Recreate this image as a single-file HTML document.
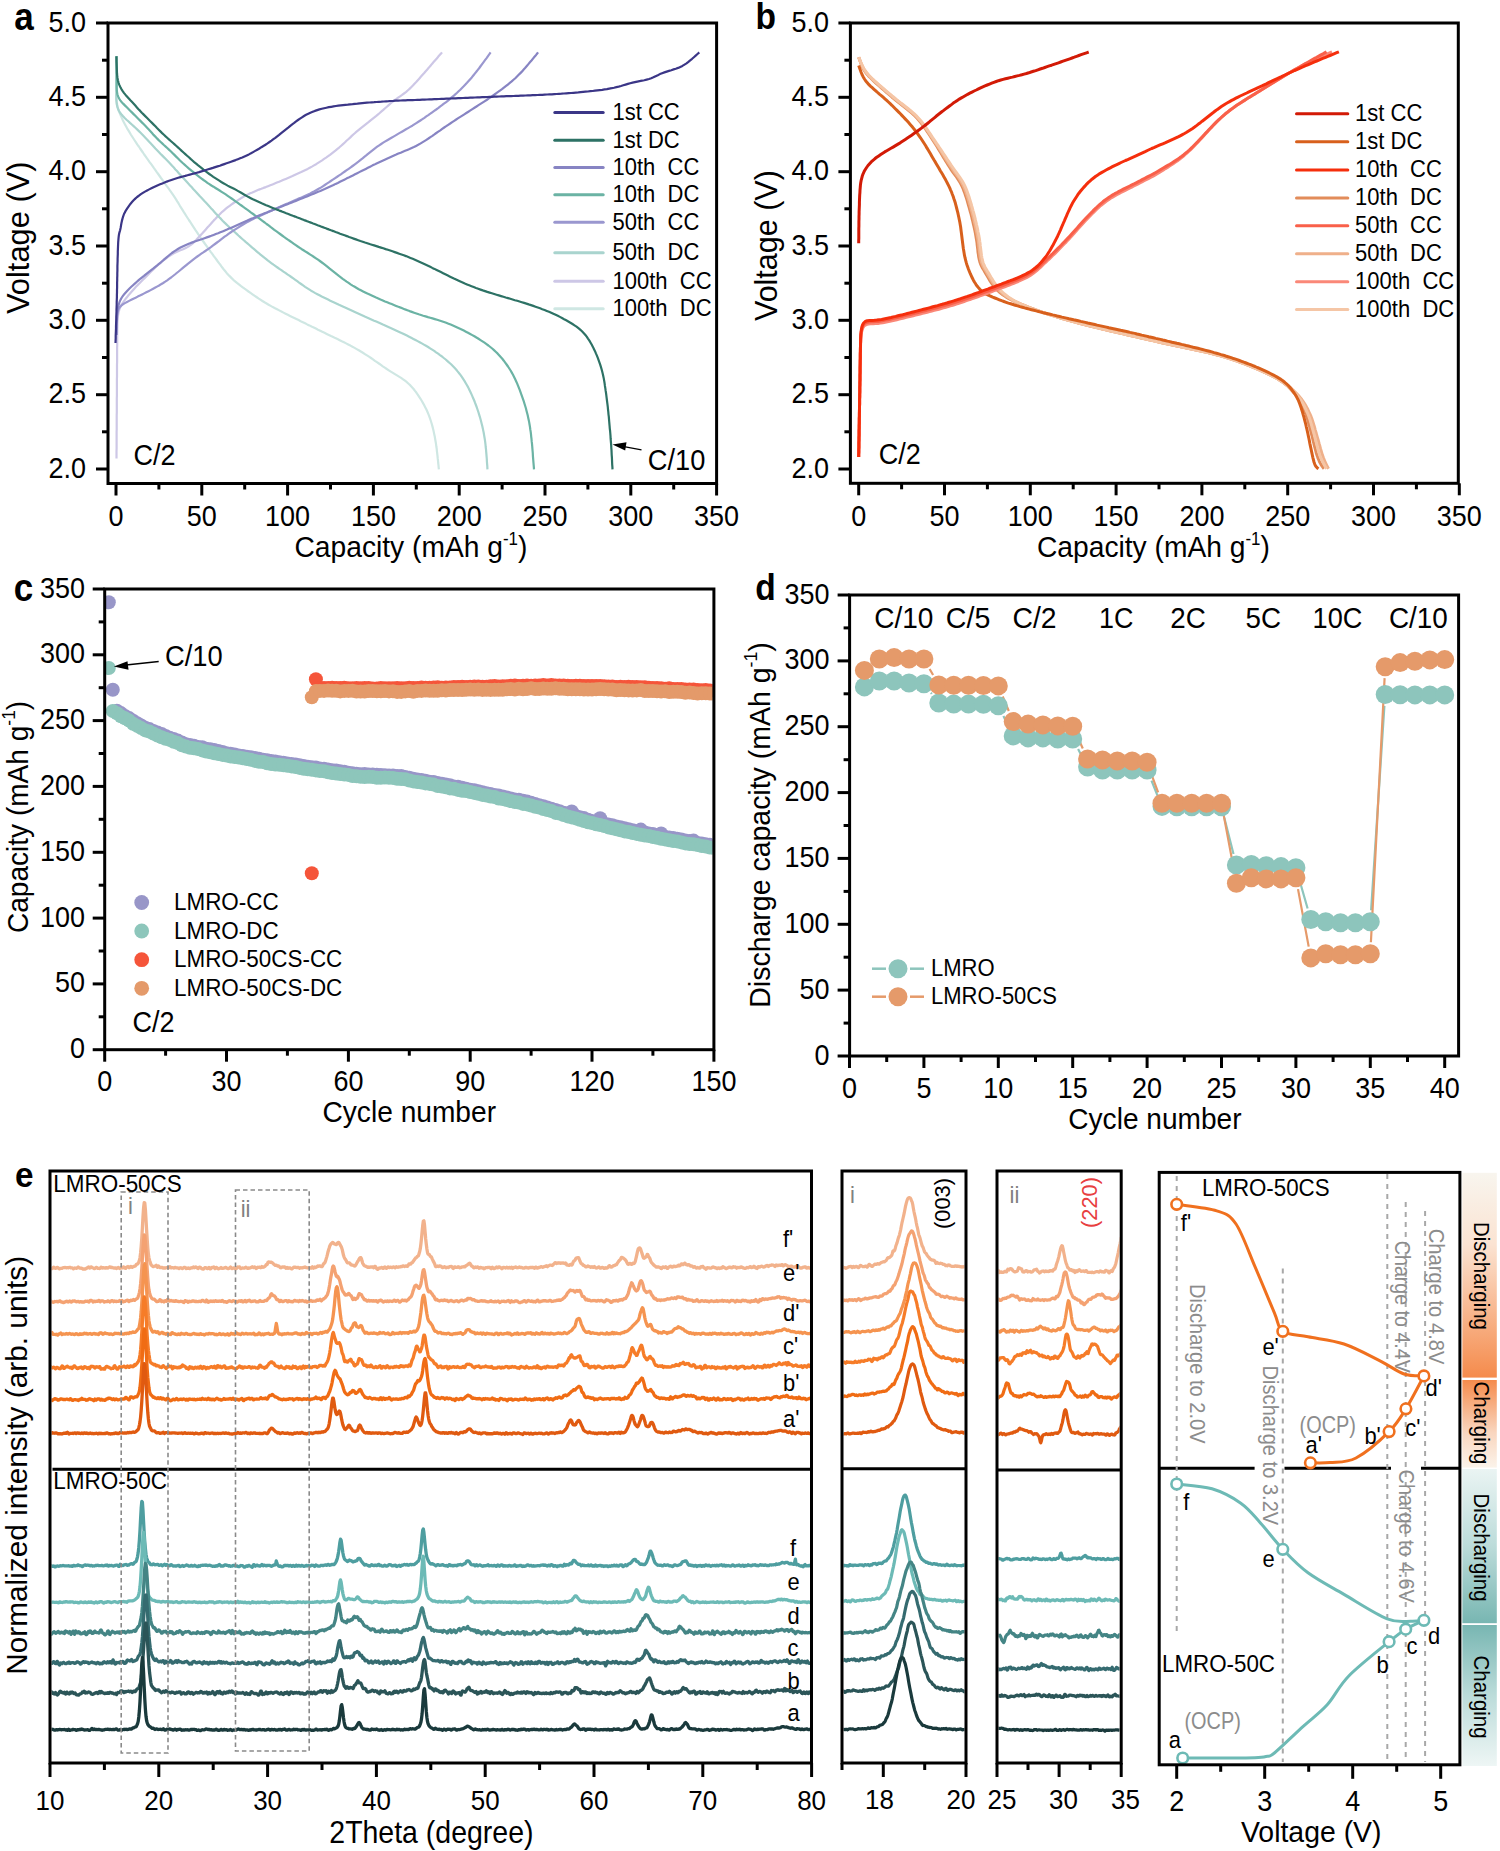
<!DOCTYPE html>
<html><head><meta charset="utf-8"><style>
html,body{margin:0;padding:0;background:#fff;overflow:hidden;width:1500px;height:1851px;}
svg{display:block;font-family:"Liberation Sans",sans-serif;}
</style></head><body>
<svg width="1500" height="1851" viewBox="0 0 1500 1851">
<rect width="1500" height="1851" fill="#fff"/>
<path d="M116.5 56L116.5 58.4 116.5 60.8 116.5 63.2 116.5 65.6 116.5 68 116.5 70.4 116.4 72.8 116.4 75.2 116.4 77.7 116.4 80.1 116.4 82.5 116.4 84.9 116.4 87.3 116.4 89.7 116.4 92.1 116.4 94.5 116.4 96.9 116.5 99.3 116.7 101.7 117.1 104 117.5 106.4 118.1 108.7 118.8 111 119.7 113.2 120.6 115.4 121.6 117.6 122.6 119.8 123.7 121.9 124.8 124.1 126 126.2 127.1 128.3 128.4 130.4 129.6 132.4 130.8 134.5 132.1 136.5 133.4 138.5 134.7 140.5 136.1 142.6 137.4 144.6 138.8 146.5 140.1 148.5 141.5 150.5 142.9 152.5 144.2 154.5 145.6 156.4 147 158.4 148.4 160.3 149.8 162.3 151.2 164.2 152.6 166.2 154 168.2 155.4 170.1 156.8 172.1 158.2 174 159.6 176 161 178 162.4 179.9 163.8 181.9 165.2 183.8 166.6 185.8 168 187.7 169.4 189.7 170.8 191.6 172.2 193.6 173.6 195.6 174.9 197.6 176.2 199.6 177.4 201.7 178.7 203.7 179.9 205.8 181.2 207.8 182.5 209.9 183.7 211.9 185 213.9 186.3 216 187.6 218 188.9 220 190.3 222 191.6 224.1 192.9 226.1 194.2 228.1 195.5 230.1 196.9 232.1 198.2 234.1 199.6 236.1 200.9 238 202.3 240 203.7 242 205.1 244 206.5 245.9 207.9 247.9 209.3 249.8 210.7 251.8 212.1 253.7 213.5 255.7 215 257.6 216.4 259.5 217.8 261.5 219.2 263.4 220.7 265.3 222.1 267.3 223.6 269.2 225.1 271 226.6 272.9 228.2 274.7 229.9 276.4 231.6 278.1 233.3 279.8 235.1 281.3 237 282.9 238.9 284.4 240.8 285.9 242.7 287.3 244.6 288.7 246.6 290.1 248.5 291.5 250.5 292.9 252.5 294.3 254.4 295.7 256.4 297 258.4 298.4 260.4 299.7 262.4 301 264.5 302.3 266.6 303.5 268.6 304.7 270.7 305.9 272.8 307.1 275 308.2 277.1 309.3 279.2 310.4 281.4 311.5 283.5 312.6 285.6 313.7 287.8 314.8 290 315.9 292.1 316.9 294.3 318 296.4 319 298.6 320.1 300.7 321.2 302.9 322.2 305.1 323.3 307.2 324.4 309.4 325.4 311.5 326.5 313.7 327.5 315.9 328.6 318 329.7 320.2 330.7 322.3 331.8 324.5 332.8 326.7 333.9 328.8 334.9 331 336 333.2 337 335.3 338.1 337.5 339.1 339.7 340.2 341.8 341.3 344 342.3 346.1 343.4 348.2 344.5 350.4 345.6 352.5 346.8 354.6 347.9 356.7 349.1 358.8 350.3 360.8 351.5 362.9 352.8 364.9 354.1 367 355.4 369 356.7 371 358 373 359.4 374.9 360.8 376.9 362.1 378.9 363.5 380.9 364.9 382.8 366.3 384.8 367.6 386.8 369 388.8 370.3 390.8 371.6 392.9 372.9 394.9 374.1 397 375.4 399 376.6 401.1 377.9 403.1 379.3 405 380.7 406.9 382.2 408.6 383.8 410.4 385.4 412 387.2 413.6 389 415 390.9 416.5 392.8 417.9 394.8 419.2 396.8 420.5 398.8 421.7 400.8 422.9 402.9 424.1 405 425.2 407.2 426.3 409.3 427.3 411.5 428.2 413.7 429.1 415.9 429.9 418.2 430.7 420.5 431.4 422.8 432.1 425.1 432.7 427.4 433.3 429.7 433.8 432.1 434.3 434.4 434.8 436.8 435.2 439.2 435.6 441.5 436 443.9 436.3 446.3 436.7 448.7 436.9 451.1 437.2 453.4 437.5 455.8 437.7 458.2 438 460.6 438.2 463 438.5 465.4 438.7 467.8 438.9 469.4" fill="none" stroke="#cfe7e3" stroke-width="2.2" stroke-linejoin="round" stroke-linecap="butt" />
<path d="M116.5 458.4L116.5 456 116.5 453.6 116.5 451.2 116.6 448.8 116.6 446.4 116.6 444 116.6 441.6 116.6 439.2 116.6 436.8 116.6 434.4 116.6 431.9 116.7 429.5 116.7 427.1 116.7 424.7 116.7 422.3 116.7 419.9 116.7 417.5 116.7 415.1 116.8 412.7 116.8 410.3 116.8 407.9 116.8 405.5 116.8 403.1 116.8 400.7 116.8 398.3 116.9 395.9 116.9 393.5 116.9 391.1 116.9 388.7 116.9 386.3 116.9 383.9 116.9 381.5 116.9 379 117 376.6 117 374.2 117 371.8 117 369.4 117 367 117 364.6 117.1 362.2 117.1 359.8 117.1 357.4 117.1 355 117.1 352.6 117.1 350.2 117.1 347.8 117.2 345.4 117.2 343 117.2 340.6 117.2 338.2 117.2 335.8 117.2 333.4 117.3 331 117.3 328.6 117.4 326.1 117.4 323.7 117.5 321.3 117.7 319 117.9 316.6 118.2 314.2 118.6 311.9 119.3 309.6 120.1 307.4 121.2 305.3 122.4 303.3 123.8 301.3 125.2 299.4 126.7 297.5 128.2 295.6 129.8 293.8 131.3 292 132.9 290.2 134.5 288.4 136.2 286.6 137.8 284.9 139.5 283.2 141.2 281.5 142.9 279.8 144.6 278.1 146.3 276.4 148 274.7 149.7 273 151.4 271.3 153.1 269.6 154.8 267.9 156.6 266.3 158.4 264.7 160.2 263.1 162 261.6 163.9 260 165.8 258.6 167.7 257.1 169.7 255.8 171.7 254.5 173.8 253.3 175.9 252.2 178.1 251.2 180.3 250.3 182.5 249.4 184.7 248.4 186.8 247.4 188.9 246.2 190.8 244.9 192.7 243.4 194.4 241.7 196.1 240 197.7 238.3 199.4 236.5 201 234.7 202.6 233 204.2 231.2 205.8 229.4 207.4 227.6 209.1 225.8 210.7 224 212.2 222.2 213.8 220.4 215.5 218.7 217.1 216.9 218.8 215.2 220.5 213.5 222.2 211.8 224 210.3 225.9 208.7 227.8 207.2 229.7 205.8 231.6 204.4 233.6 203 235.6 201.7 237.6 200.4 239.6 199.1 241.7 197.8 243.8 196.6 245.9 195.5 248 194.4 250.2 193.3 252.4 192.4 254.6 191.4 256.8 190.5 259 189.6 261.3 188.8 263.5 187.9 265.8 187.1 268 186.2 270.3 185.3 272.5 184.4 274.7 183.5 276.9 182.6 279.2 181.7 281.4 180.8 283.6 179.8 285.8 178.9 288 178 290.3 177 292.5 176.1 294.6 175.1 296.8 174.1 299 173.1 301.2 172.1 303.4 171 305.5 170 307.7 168.9 309.8 167.7 311.9 166.6 314 165.4 316.1 164.2 318.1 162.9 320.1 161.6 322.1 160.3 324.1 158.9 326.1 157.6 328.1 156.2 330 154.8 331.9 153.3 333.8 151.8 335.7 150.3 337.5 148.8 339.4 147.3 341.2 145.7 343 144.1 344.8 142.5 346.5 140.8 348.3 139.2 350.1 137.6 351.8 135.9 353.6 134.3 355.4 132.7 357.2 131.2 359.1 129.6 360.9 128.1 362.8 126.6 364.7 125.1 366.6 123.6 368.5 122.1 370.3 120.6 372.2 119.1 374.1 117.6 376 116.1 377.8 114.6 379.7 113 381.5 111.4 383.3 109.9 385.1 108.3 386.9 106.7 388.7 105.1 390.5 103.5 392.4 102 394.2 100.5 396.2 99.1 398.1 97.7 400.1 96.3 402.1 94.9 404 93.5 405.9 92.1 407.7 90.5 409.5 88.9 411.2 87.2 412.9 85.5 414.5 83.7 416.2 82 417.8 80.2 419.4 78.4 421 76.6 422.6 74.8 424.2 73 425.7 71.2 427.3 69.4 428.9 67.6 430.5 65.7 432 63.9 433.6 62.1 435.2 60.3 436.8 58.5 438.3 56.6 439.9 54.8 441.5 53 442 52.4" fill="none" stroke="#cdc7e6" stroke-width="2.2" stroke-linejoin="round" stroke-linecap="butt" />
<path d="M116.5 56L116.5 58.4 116.5 60.8 116.5 63.2 116.5 65.6 116.5 68 116.5 70.4 116.4 72.8 116.4 75.2 116.4 77.7 116.4 80.1 116.4 82.5 116.4 84.9 116.4 87.3 116.4 89.7 116.4 92.1 116.3 94.5 116.3 96.9 116.3 99.3 116.5 101.7 116.7 104 117.2 106.3 117.9 108.5 118.9 110.7 120.1 112.7 121.5 114.5 123.1 116.3 124.7 118 126.5 119.7 128.3 121.3 130 122.9 131.8 124.5 133.6 126.1 135.4 127.8 137.1 129.4 138.9 131.1 140.6 132.8 142.3 134.5 144 136.2 145.6 137.9 147.3 139.7 148.9 141.4 150.6 143.2 152.2 144.9 153.8 146.7 155.4 148.5 157.1 150.2 158.8 152 160.4 153.7 162.1 155.4 163.8 157.1 165.5 158.8 167.2 160.5 168.9 162.3 170.5 164 172.1 165.8 173.8 167.6 175.4 169.4 177 171.1 178.6 172.9 180.2 174.7 181.8 176.5 183.5 178.3 185.1 180 186.7 181.8 188.3 183.6 190 185.4 191.6 187.1 193.2 188.9 194.9 190.7 196.5 192.4 198.1 194.2 199.7 196 201.4 197.8 203 199.5 204.6 201.3 206.3 203.1 207.9 204.8 209.5 206.6 211.2 208.4 212.8 210.1 214.4 211.9 216 213.7 217.7 215.4 219.3 217.2 221 218.9 222.6 220.7 224.3 222.4 226.1 224.1 227.8 225.7 229.6 227.4 231.3 229 233.1 230.6 234.9 232.2 236.7 233.9 238.4 235.5 240.2 237.1 242 238.7 243.8 240.3 245.6 241.9 247.4 243.4 249.3 245 251.1 246.6 252.9 248.2 254.7 249.7 256.6 251.3 258.4 252.8 260.2 254.4 262.1 255.9 264 257.4 265.9 258.9 267.7 260.4 269.7 261.9 271.6 263.3 273.5 264.7 275.5 266.1 277.5 267.5 279.4 268.9 281.4 270.2 283.4 271.6 285.4 272.9 287.4 274.3 289.4 275.6 291.3 277 293.3 278.4 295.3 279.8 297.2 281.2 299.1 282.6 301.1 284 303.1 285.4 305.1 286.8 307.1 288.1 309.1 289.4 311.1 290.7 313.2 291.9 315.3 293.1 317.4 294.2 319.5 295.3 321.7 296.5 323.8 297.5 326 298.6 328.1 299.6 330.3 300.7 332.5 301.7 334.7 302.7 336.8 303.7 339 304.8 341.2 305.8 343.4 306.8 345.6 307.8 347.8 308.8 350 309.8 352.2 310.8 354.3 311.8 356.5 312.8 358.7 313.8 360.9 314.8 363.1 315.8 365.3 316.8 367.5 317.7 369.7 318.7 371.9 319.7 374.1 320.7 376.3 321.6 378.5 322.6 380.7 323.6 382.9 324.6 385.1 325.5 387.3 326.5 389.5 327.5 391.7 328.5 393.9 329.5 396 330.5 398.2 331.5 400.4 332.5 402.6 333.5 404.8 334.6 406.9 335.6 409.1 336.7 411.2 337.8 413.4 338.9 415.5 340 417.6 341.1 419.7 342.2 421.8 343.4 423.9 344.6 426 345.8 428.1 347 430.1 348.3 432.2 349.6 434.2 350.9 436.1 352.3 438.1 353.7 440 355.1 442 356.5 443.8 358 445.7 359.5 447.5 361.1 449.3 362.7 451.1 364.3 452.8 366 454.5 367.8 456.1 369.5 457.6 371.4 459.1 373.2 460.6 375.1 462 377.1 463.3 379.1 464.6 381.1 465.8 383.2 467 385.3 468.2 387.4 469.2 389.5 470.3 391.7 471.3 393.9 472.3 396.1 473.2 398.3 474.2 400.5 475 402.7 475.9 405 476.7 407.2 477.5 409.5 478.3 411.8 479 414.1 479.7 416.4 480.4 418.7 481 421 481.6 423.4 482.2 425.7 482.7 428 483.2 430.4 483.7 432.7 484.1 435.1 484.5 437.5 484.9 439.9 485.2 442.2 485.5 444.6 485.7 447 486 449.4 486.2 451.8 486.4 454.2 486.6 456.6 486.8 459 486.9 461.4 487.1 463.8 487.3 466.2 487.4 468.6 487.5 469.4" fill="none" stroke="#a9d4ce" stroke-width="2.2" stroke-linejoin="round" stroke-linecap="butt" />
<path d="M116.5 335L116.5 332.6 116.5 330.2 116.6 327.8 116.6 325.4 116.6 323 116.7 320.6 116.8 318.2 117 315.8 117.3 313.5 117.8 311.2 118.6 309.1 119.7 307.3 121.2 305.7 122.9 304.3 124.9 303.1 127 302 129.1 300.9 131.3 299.8 133.4 298.7 135.6 297.7 137.7 296.6 139.9 295.6 142.1 294.5 144.2 293.4 146.3 292.3 148.5 291.2 150.6 290.1 152.7 289 154.9 287.8 157 286.6 159.1 285.5 161.1 284.2 163.2 283 165.2 281.7 167.2 280.3 169.1 278.9 171.1 277.5 173 276 174.9 274.5 176.7 273 178.6 271.5 180.4 270 182.3 268.4 184.1 266.9 186 265.3 187.8 263.8 189.7 262.3 191.6 260.8 193.5 259.3 195.4 257.9 197.3 256.5 199.3 255.1 201.3 253.7 203.3 252.4 205.3 251 207.3 249.6 209.2 248.3 211.2 246.9 213.1 245.4 215 244 217 242.5 218.9 241.1 220.8 239.6 222.7 238.2 224.6 236.7 226.6 235.3 228.5 233.9 230.5 232.5 232.5 231.2 234.5 229.9 236.5 228.6 238.5 227.3 240.6 226 242.7 224.8 244.7 223.6 246.8 222.4 248.9 221.2 251.1 220.1 253.2 219 255.3 217.9 257.5 216.9 259.7 215.9 261.9 214.9 264.1 213.9 266.3 212.9 268.5 212 270.7 211 272.9 210 275.1 209.1 277.3 208.1 279.5 207.1 281.7 206.1 283.9 205.1 286.1 204.1 288.3 203.2 290.5 202.2 292.7 201.2 294.9 200.2 297.1 199.3 299.3 198.3 301.5 197.4 303.7 196.4 305.9 195.4 308.1 194.4 310.3 193.4 312.4 192.3 314.5 191.2 316.6 190 318.7 188.8 320.8 187.6 322.8 186.3 324.8 185 326.8 183.7 328.8 182.4 330.8 181 332.8 179.7 334.8 178.3 336.8 177 338.8 175.6 340.8 174.3 342.8 172.9 344.8 171.5 346.7 170.2 348.7 168.8 350.7 167.4 352.6 166 354.5 164.6 356.5 163.1 358.4 161.7 360.3 160.2 362.2 158.7 364 157.1 365.9 155.6 367.7 154.1 369.6 152.6 371.5 151.1 373.4 149.6 375.3 148.1 377.2 146.7 379.2 145.3 381.2 144 383.2 142.7 385.3 141.4 387.3 140.2 389.4 139 391.5 137.8 393.5 136.6 395.6 135.4 397.7 134.1 399.8 132.9 401.9 131.7 404 130.5 406 129.3 408.1 128.1 410.2 126.9 412.3 125.7 414.3 124.4 416.3 123.1 418.4 121.8 420.4 120.5 422.4 119.2 424.4 117.8 426.3 116.4 428.3 115.1 430.3 113.7 432.2 112.3 434.2 110.9 436.2 109.5 438.1 108.1 440 106.6 442 105.2 443.9 103.7 445.8 102.3 447.7 100.8 449.5 99.3 451.4 97.7 453.2 96.2 455 94.6 456.8 93 458.6 91.3 460.3 89.7 462 88 463.7 86.3 465.4 84.5 467 82.8 468.6 81 470.2 79.2 471.8 77.4 473.3 75.5 474.8 73.6 476.3 71.8 477.8 69.9 479.3 68 480.7 66 482.1 64.1 483.6 62.1 485 60.2 486.4 58.3 487.8 56.3 489.2 54.4 490.6 52.4 490.6 52.4" fill="none" stroke="#9a97cf" stroke-width="2.2" stroke-linejoin="round" stroke-linecap="butt" />
<path d="M116.5 56L116.5 58.4 116.5 60.8 116.6 63.2 116.6 65.6 116.6 68 116.6 70.4 116.6 72.8 116.7 75.2 116.7 77.6 116.7 80.1 116.7 82.5 116.7 84.9 116.7 87.3 116.8 89.6 117 92 117.4 94.3 118.1 96.4 119.1 98.5 120.3 100.4 121.8 102.2 123.4 103.9 125.1 105.6 126.8 107.3 128.5 109 130.2 110.7 131.9 112.4 133.6 114.1 135.3 115.8 137 117.5 138.7 119.2 140.4 120.9 142.1 122.6 143.8 124.3 145.5 126.1 147.1 127.8 148.8 129.6 150.4 131.3 152 133.1 153.6 134.9 155.3 136.6 157 138.4 158.7 140.1 160.4 141.7 162.2 143.4 163.9 145 165.7 146.6 167.5 148.2 169.2 149.9 171 151.5 172.7 153.2 174.4 154.9 176.1 156.6 177.8 158.3 179.5 160 181.3 161.7 183 163.3 184.8 164.9 186.6 166.5 188.4 168.1 190.2 169.6 192.1 171.2 194 172.7 195.8 174.2 197.7 175.7 199.6 177.1 201.6 178.6 203.5 180 205.5 181.4 207.4 182.8 209.4 184.1 211.4 185.5 213.5 186.7 215.5 188 217.6 189.3 219.6 190.5 221.6 191.8 223.7 193.1 225.7 194.4 227.7 195.8 229.6 197.1 231.6 198.5 233.6 199.9 235.5 201.3 237.5 202.7 239.4 204.1 241.4 205.5 243.3 206.9 245.3 208.3 247.2 209.7 249.2 211.1 251.1 212.6 253.1 214 255 215.4 257 216.8 258.9 218.2 260.8 219.6 262.8 221.1 264.7 222.5 266.6 224 268.6 225.4 270.5 226.9 272.4 228.3 274.3 229.8 276.2 231.2 278.2 232.6 280.1 234 282.1 235.5 284 236.9 286 238.3 287.9 239.7 289.9 241 291.9 242.4 293.9 243.8 295.8 245.1 297.8 246.5 299.8 247.8 301.8 249.2 303.9 250.5 305.9 251.8 307.9 253 309.9 254.3 312 255.6 314 257 316 258.3 318 259.7 319.9 261 321.9 262.5 323.8 263.9 325.7 265.4 327.6 266.9 329.4 268.4 331.3 269.9 333.2 271.4 335.1 272.9 337 274.4 338.9 275.9 340.8 277.3 342.7 278.8 344.6 280.2 346.6 281.6 348.6 282.9 350.6 284.3 352.6 285.6 354.7 286.8 356.7 288 358.8 289.2 360.9 290.3 363.1 291.4 365.2 292.5 367.4 293.6 369.6 294.6 371.7 295.6 373.9 296.6 376.1 297.6 378.3 298.5 380.5 299.5 382.8 300.4 385 301.4 387.2 302.3 389.4 303.2 391.7 304.1 393.9 305 396.1 305.9 398.4 306.8 400.6 307.6 402.8 308.5 405.1 309.4 407.3 310.2 409.6 311.1 411.8 311.9 414.1 312.7 416.4 313.5 418.7 314.3 421 315 423.2 315.7 425.6 316.4 427.9 317.1 430.2 317.7 432.5 318.4 434.8 319.1 437.1 319.8 439.4 320.5 441.7 321.2 444 322 446.2 322.8 448.5 323.7 450.7 324.6 452.9 325.5 455.1 326.5 457.3 327.5 459.5 328.5 461.6 329.5 463.8 330.6 465.9 331.7 468 332.8 470.2 334 472.3 335.1 474.4 336.3 476.4 337.5 478.5 338.8 480.5 340.1 482.5 341.4 484.5 342.7 486.5 344.1 488.4 345.5 490.3 347 492.2 348.5 494 350.1 495.7 351.7 497.5 353.4 499.1 355.2 500.7 357 502.3 358.8 503.8 360.7 505.2 362.6 506.6 364.5 508 366.5 509.3 368.5 510.6 370.5 511.8 372.6 513 374.7 514.1 376.9 515.1 379 516.1 381.2 517.1 383.4 518 385.6 518.9 387.9 519.8 390.1 520.6 392.3 521.4 394.6 522.2 396.9 523 399.2 523.8 401.4 524.5 403.7 525.2 406 525.9 408.3 526.5 410.7 527.1 413 527.7 415.3 528.2 417.7 528.7 420 529.2 422.4 529.6 424.7 530 427.1 530.3 429.5 530.7 431.9 531 434.3 531.2 436.6 531.5 439 531.7 441.4 532 443.8 532.2 446.2 532.4 448.6 532.6 451 532.8 453.4 532.9 455.8 533.1 458.2 533.3 460.6 533.5 463 533.7 465.4 533.9 467.8 534 469.4" fill="none" stroke="#6bb3a4" stroke-width="2.2" stroke-linejoin="round" stroke-linecap="butt" />
<path d="M116.5 335L116.6 332.6 116.6 330.2 116.7 327.8 116.7 325.4 116.8 323 116.9 320.6 117 318.2 117.1 315.8 117.3 313.4 117.5 311 117.9 308.6 118.3 306.3 118.9 304 119.6 301.7 120.6 299.6 121.8 297.5 123.1 295.6 124.6 293.7 126.2 291.9 127.8 290.2 129.5 288.5 131.3 286.8 133 285.2 134.8 283.6 136.6 282 138.4 280.4 140.2 278.8 142.1 277.3 144 275.8 145.8 274.3 147.7 272.8 149.6 271.3 151.5 269.8 153.4 268.4 155.3 266.9 157.2 265.4 159 263.8 160.9 262.3 162.7 260.7 164.5 259.1 166.3 257.6 168.2 256 170 254.5 171.9 253 173.8 251.6 175.8 250.3 177.9 249 180 247.8 182.1 246.7 184.3 245.7 186.5 244.7 188.7 243.8 190.9 242.9 193.2 242.1 195.4 241.3 197.7 240.5 200 239.7 202.3 239 204.5 238.2 206.8 237.4 209.1 236.6 211.3 235.8 213.6 234.9 215.8 234 218.1 233.2 220.3 232.3 222.5 231.4 224.8 230.5 227 229.6 229.2 228.6 231.4 227.7 233.6 226.7 235.8 225.7 238 224.7 240.2 223.7 242.4 222.7 244.6 221.7 246.8 220.8 249 219.8 251.2 218.8 253.4 217.9 255.6 216.9 257.8 216 260.1 215.1 262.3 214.2 264.5 213.3 266.8 212.5 269 211.6 271.2 210.7 273.5 209.8 275.7 208.9 277.9 208 280.2 207.1 282.4 206.2 284.6 205.3 286.9 204.5 289.1 203.6 291.3 202.7 293.6 201.8 295.8 200.9 298 200 300.3 199.1 302.5 198.2 304.8 197.3 307 196.5 309.2 195.6 311.5 194.6 313.7 193.7 315.9 192.8 318.1 191.8 320.3 190.9 322.5 189.9 324.7 189 326.9 188 329.1 187 331.3 186 333.5 185 335.6 183.9 337.8 182.9 340 181.8 342.1 180.8 344.3 179.7 346.4 178.6 348.6 177.6 350.7 176.5 352.9 175.4 355 174.3 357.2 173.2 359.3 172.1 361.5 171 363.6 170 365.8 168.9 367.9 167.8 370.1 166.7 372.2 165.6 374.4 164.6 376.5 163.5 378.7 162.5 380.9 161.5 383.1 160.5 385.3 159.5 387.4 158.5 389.6 157.5 391.8 156.5 394 155.5 396.2 154.6 398.4 153.6 400.7 152.7 402.9 151.7 405.1 150.8 407.3 149.9 409.5 149 411.7 148 413.9 147 416.1 145.9 418.2 144.8 420.3 143.6 422.3 142.4 424.4 141.1 426.4 139.8 428.4 138.5 430.4 137.1 432.4 135.8 434.4 134.4 436.3 133 438.3 131.6 440.3 130.3 442.2 128.9 444.2 127.5 446.2 126.2 448.2 124.8 450.2 123.5 452.2 122.1 454.2 120.8 456.2 119.5 458.2 118.2 460.3 116.9 462.3 115.6 464.3 114.3 466.3 113 468.4 111.7 470.4 110.4 472.4 109.1 474.5 107.8 476.5 106.5 478.5 105.2 480.5 103.9 482.5 102.6 484.5 101.3 486.6 100 488.5 98.6 490.5 97.3 492.5 95.9 494.5 94.5 496.4 93.1 498.4 91.7 500.3 90.3 502.3 88.9 504.2 87.4 506.1 85.9 508 84.5 509.8 82.9 511.7 81.4 513.5 79.8 515.3 78.2 517 76.5 518.7 74.8 520.4 73.1 522.1 71.4 523.7 69.6 525.3 67.8 526.8 66 528.4 64.1 529.9 62.3 531.5 60.5 533 58.6 534.5 56.7 536.1 54.9 537.6 53 538.1 52.4" fill="none" stroke="#8784c3" stroke-width="2.2" stroke-linejoin="round" stroke-linecap="butt" />
<path d="M116.4 56.4L116.5 58.8 116.5 61.2 116.6 63.6 116.7 66 116.8 68.4 116.9 70.8 117 73.2 117.2 75.6 117.5 78 117.9 80.3 118.5 82.6 119.3 84.9 120.3 87 121.4 89.1 122.7 91.1 124.1 93.1 125.6 94.9 127.2 96.7 128.8 98.5 130.4 100.3 132.1 102.1 133.7 103.8 135.3 105.6 136.9 107.4 138.5 109.2 140.2 110.9 141.8 112.7 143.5 114.4 145.2 116.1 146.9 117.8 148.6 119.5 150.3 121.2 152 122.9 153.7 124.6 155.4 126.3 157 128 158.7 129.7 160.4 131.4 162.1 133.1 163.9 134.8 165.6 136.4 167.4 138 169.2 139.6 171 141.2 172.8 142.8 174.6 144.4 176.4 146 178.2 147.6 180 149.2 181.7 150.9 183.5 152.5 185.3 154.1 187.1 155.7 188.9 157.3 190.6 158.9 192.4 160.5 194.2 162.1 196.1 163.7 197.9 165.2 199.8 166.7 201.7 168.2 203.5 169.7 205.5 171.2 207.4 172.6 209.3 174 211.3 175.4 213.3 176.8 215.3 178.1 217.3 179.4 219.3 180.7 221.3 182 223.4 183.2 225.5 184.4 227.6 185.6 229.7 186.7 231.9 187.8 234 188.8 236.1 189.9 238.2 191.1 240.3 192.3 242.4 193.5 244.4 194.7 246.5 195.9 248.6 197.1 250.8 198.2 252.9 199.3 255.1 200.3 257.3 201.3 259.5 202.3 261.7 203.3 263.9 204.2 266.1 205.2 268.3 206.1 270.5 207 272.7 207.9 275 208.8 277.2 209.7 279.4 210.6 281.7 211.4 283.9 212.3 286.2 213.2 288.4 214 290.6 214.9 292.9 215.8 295.1 216.6 297.4 217.5 299.6 218.3 301.9 219.2 304.1 220.1 306.4 220.9 308.6 221.8 310.8 222.6 313.1 223.5 315.3 224.3 317.6 225.2 319.8 226 322.1 226.9 324.3 227.7 326.6 228.6 328.8 229.4 331.1 230.3 333.3 231.1 335.6 232 337.8 232.8 340.1 233.7 342.3 234.5 344.6 235.3 346.8 236.1 349.1 237 351.4 237.8 353.6 238.6 355.9 239.4 358.2 240.2 360.4 241 362.7 241.7 365 242.5 367.3 243.2 369.6 244 371.8 244.7 374.1 245.4 376.4 246.1 378.7 246.9 381 247.6 383.3 248.3 385.6 249.1 387.9 249.8 390.2 250.5 392.4 251.3 394.7 252.1 397 252.9 399.2 253.7 401.5 254.5 403.8 255.3 406 256.1 408.3 257 410.5 257.9 412.7 258.8 414.9 259.7 417.1 260.7 419.3 261.7 421.5 262.7 423.7 263.7 425.9 264.7 428 265.7 430.2 266.8 432.3 267.9 434.5 268.9 436.6 270 438.8 271.1 440.9 272.1 443.1 273.2 445.3 274.3 447.4 275.3 449.6 276.4 451.7 277.4 453.9 278.5 456.1 279.5 458.2 280.5 460.4 281.5 462.6 282.5 464.8 283.5 467 284.4 469.2 285.3 471.5 286.2 473.7 287.1 476 288 478.2 288.8 480.5 289.6 482.8 290.4 485 291.1 487.3 291.9 489.6 292.6 491.9 293.3 494.2 294 496.5 294.7 498.8 295.4 501.1 296.1 503.4 296.8 505.7 297.5 508 298.1 510.3 298.8 512.6 299.5 514.9 300.2 517.2 300.8 519.5 301.5 521.8 302.2 524.1 302.9 526.4 303.6 528.7 304.4 531 305.1 533.3 305.9 535.5 306.7 537.8 307.5 540.1 308.3 542.3 309.2 544.6 310 546.8 310.9 549 311.8 551.2 312.8 553.4 313.8 555.6 314.8 557.8 315.8 559.9 316.9 562 318 564.1 319.2 566.2 320.3 568.3 321.5 570.4 322.7 572.5 324 574.5 325.3 576.5 326.6 578.4 328.1 580.2 329.6 582 331.2 583.6 332.9 585.2 334.7 586.7 336.6 588 338.6 589.4 340.6 590.6 342.7 591.8 344.8 592.9 346.9 593.9 349 595 351.2 595.9 353.4 596.9 355.6 597.8 357.8 598.6 360.1 599.4 362.3 600.2 364.6 600.9 366.9 601.6 369.2 602.2 371.5 602.8 373.9 603.3 376.2 603.8 378.6 604.2 380.9 604.6 383.3 604.9 385.7 605.3 388.1 605.6 390.4 606 392.8 606.3 395.2 606.6 397.6 606.9 400 607.2 402.3 607.5 404.7 607.8 407.1 608 409.5 608.3 411.9 608.5 414.3 608.8 416.7 609 419.1 609.2 421.5 609.4 423.9 609.6 426.2 609.8 428.6 610.1 431 610.3 433.4 610.5 435.8 610.6 438.2 610.8 440.6 611 443 611.2 445.4 611.3 447.8 611.5 450.2 611.6 452.6 611.7 455 611.9 457.4 612 459.8 612.1 462.2 612.2 464.6 612.4 467 612.5 469.4 612.5 469.4" fill="none" stroke="#2d7265" stroke-width="2.2" stroke-linejoin="round" stroke-linecap="butt" />
<path d="M115.5 343L115.6 340.6 115.7 338.2 115.7 335.8 115.8 333.4 115.9 331 116 328.6 116 326.2 116.1 323.8 116.2 321.4 116.3 319 116.3 316.6 116.4 314.2 116.5 311.8 116.5 309.4 116.6 307 116.7 304.5 116.7 302.1 116.8 299.7 116.9 297.3 116.9 294.9 117 292.5 117 290.1 117.1 287.7 117.1 285.3 117.1 282.9 117.2 280.5 117.2 278.1 117.3 275.7 117.3 273.3 117.4 270.9 117.4 268.5 117.4 266.1 117.5 263.7 117.6 261.3 117.6 258.9 117.7 256.5 117.8 254.1 117.8 251.7 117.9 249.3 118 246.9 118.1 244.5 118.2 242.1 118.4 239.7 118.6 237.3 118.9 234.9 119.4 232.6 120.1 230.3 120.6 228 121 225.6 121.4 223.2 121.9 220.9 122.5 218.6 123.2 216.3 124 214 125.1 211.9 126.3 209.8 127.6 207.8 129 205.8 130.4 203.9 132 202.1 133.6 200.3 135.3 198.6 137.1 197 139 195.6 140.9 194.2 142.9 192.9 145 191.6 147.1 190.5 149.2 189.4 151.4 188.3 153.5 187.2 155.7 186.2 157.9 185.2 160.1 184.3 162.4 183.4 164.6 182.5 166.8 181.6 169.1 180.8 171.4 180 173.6 179.2 175.9 178.5 178.2 177.8 180.5 177.1 182.8 176.5 185.2 175.9 187.5 175.2 189.8 174.6 192.1 174 194.5 173.4 196.8 172.7 199.1 172.1 201.4 171.4 203.7 170.7 206 170 208.3 169.3 210.6 168.6 212.9 167.9 215.2 167.1 217.5 166.4 219.8 165.7 222 164.9 224.3 164.1 226.6 163.3 228.9 162.5 231.1 161.7 233.4 160.9 235.6 160.1 237.9 159.2 240.1 158.3 242.3 157.4 244.5 156.4 246.7 155.4 248.9 154.4 251 153.3 253.1 152.1 255.2 150.9 257.3 149.7 259.4 148.5 261.4 147.2 263.4 146 265.5 144.7 267.5 143.4 269.5 142 271.5 140.6 273.4 139.2 275.3 137.8 277.2 136.3 279.1 134.8 280.9 133.3 282.8 131.8 284.7 130.3 286.6 128.8 288.5 127.3 290.3 125.8 292.2 124.3 294.2 122.9 296.1 121.4 298 120 300 118.6 302 117.3 304 116 306.1 114.8 308.3 113.8 310.4 112.8 312.7 111.8 314.9 110.9 317.2 110.1 319.4 109.4 321.8 108.8 324.1 108.2 326.4 107.7 328.8 107.2 331.2 106.8 333.5 106.4 335.9 106 338.3 105.7 340.7 105.4 343.1 105.1 345.4 104.8 347.8 104.6 350.2 104.3 352.6 104.1 355 103.8 357.4 103.6 359.8 103.3 362.2 103.1 364.6 102.9 367 102.7 369.4 102.5 371.8 102.3 374.2 102.2 376.6 102 379 101.8 381.4 101.7 383.8 101.5 386.2 101.3 388.6 101.2 391 101 393.4 100.9 395.8 100.7 398.2 100.6 400.6 100.5 403 100.4 405.4 100.3 407.8 100.2 410.2 100.2 412.6 100.1 415 100 417.4 99.9 419.8 99.8 422.2 99.7 424.6 99.6 427 99.5 429.4 99.4 431.8 99.3 434.2 99.2 436.6 99.1 439 99 441.4 98.9 443.8 98.8 446.2 98.7 448.6 98.6 451 98.5 453.4 98.4 455.8 98.3 458.2 98.2 460.6 98.1 463 98 465.4 97.9 467.8 97.8 470.2 97.7 472.6 97.6 475 97.5 477.4 97.4 479.8 97.3 482.2 97.2 484.7 97.1 487.1 97 489.5 96.9 491.9 96.8 494.3 96.7 496.7 96.6 499.1 96.5 501.5 96.4 503.9 96.3 506.3 96.2 508.7 96.2 511.1 96.1 513.5 96 515.9 95.9 518.3 95.8 520.7 95.7 523.1 95.6 525.5 95.5 527.9 95.4 530.3 95.3 532.7 95.2 535.1 95.1 537.5 95 539.9 94.9 542.3 94.8 544.7 94.6 547.1 94.5 549.5 94.4 551.9 94.3 554.3 94.1 556.7 94 559.1 93.8 561.5 93.7 563.9 93.5 566.3 93.3 568.7 93.1 571.1 93 573.5 92.8 575.9 92.6 578.3 92.4 580.7 92.1 583.1 91.9 585.5 91.7 587.9 91.5 590.3 91.2 592.6 91 595 90.7 597.4 90.4 599.8 90.1 602.2 89.8 604.6 89.4 606.9 89.1 609.3 88.6 611.7 88.2 614 87.7 616.4 87.1 618.7 86.6 621 86 623.3 85.3 625.6 84.6 627.9 83.9 630.2 83.2 632.6 82.6 634.9 82.1 637.3 81.6 639.6 81.1 642 80.7 644.3 80.2 646.7 79.6 649 79 651.2 78.2 653.4 77.3 655.6 76.2 657.8 75.2 659.9 74.1 662.1 73.2 664.4 72.4 666.7 71.6 669 70.9 671.3 70.2 673.6 69.4 675.8 68.7 678.1 67.9 680.3 66.9 682.4 65.9 684.5 64.6 686.5 63.3 688.4 61.8 690.2 60.3 692.1 58.8 693.9 57.2 695.7 55.6 697.5 54 699.3 52.4 699.3 52.4" fill="none" stroke="#3b3687" stroke-width="2.2" stroke-linejoin="round" stroke-linecap="butt" />
<rect x="108" y="23" width="608.6" height="460.5" fill="none" stroke="#000" stroke-width="3"/>
<line x1="108" y1="469" x2="96" y2="469" stroke="#000" stroke-width="3" />
<line x1="108" y1="394.7" x2="96" y2="394.7" stroke="#000" stroke-width="3" />
<line x1="108" y1="320.3" x2="96" y2="320.3" stroke="#000" stroke-width="3" />
<line x1="108" y1="246" x2="96" y2="246" stroke="#000" stroke-width="3" />
<line x1="108" y1="171.7" x2="96" y2="171.7" stroke="#000" stroke-width="3" />
<line x1="108" y1="97.3" x2="96" y2="97.3" stroke="#000" stroke-width="3" />
<line x1="108" y1="23" x2="96" y2="23" stroke="#000" stroke-width="3" />
<line x1="108" y1="431.8" x2="102" y2="431.8" stroke="#000" stroke-width="3" />
<line x1="108" y1="357.5" x2="102" y2="357.5" stroke="#000" stroke-width="3" />
<line x1="108" y1="283.2" x2="102" y2="283.2" stroke="#000" stroke-width="3" />
<line x1="108" y1="208.8" x2="102" y2="208.8" stroke="#000" stroke-width="3" />
<line x1="108" y1="134.5" x2="102" y2="134.5" stroke="#000" stroke-width="3" />
<line x1="108" y1="60.2" x2="102" y2="60.2" stroke="#000" stroke-width="3" />
<line x1="116" y1="483.5" x2="116" y2="495.5" stroke="#000" stroke-width="3" />
<line x1="201.8" y1="483.5" x2="201.8" y2="495.5" stroke="#000" stroke-width="3" />
<line x1="287.6" y1="483.5" x2="287.6" y2="495.5" stroke="#000" stroke-width="3" />
<line x1="373.4" y1="483.5" x2="373.4" y2="495.5" stroke="#000" stroke-width="3" />
<line x1="459.2" y1="483.5" x2="459.2" y2="495.5" stroke="#000" stroke-width="3" />
<line x1="545" y1="483.5" x2="545" y2="495.5" stroke="#000" stroke-width="3" />
<line x1="630.8" y1="483.5" x2="630.8" y2="495.5" stroke="#000" stroke-width="3" />
<line x1="716.6" y1="483.5" x2="716.6" y2="495.5" stroke="#000" stroke-width="3" />
<line x1="158.9" y1="483.5" x2="158.9" y2="489.5" stroke="#000" stroke-width="3" />
<line x1="244.7" y1="483.5" x2="244.7" y2="489.5" stroke="#000" stroke-width="3" />
<line x1="330.5" y1="483.5" x2="330.5" y2="489.5" stroke="#000" stroke-width="3" />
<line x1="416.3" y1="483.5" x2="416.3" y2="489.5" stroke="#000" stroke-width="3" />
<line x1="502.1" y1="483.5" x2="502.1" y2="489.5" stroke="#000" stroke-width="3" />
<line x1="587.9" y1="483.5" x2="587.9" y2="489.5" stroke="#000" stroke-width="3" />
<line x1="673.7" y1="483.5" x2="673.7" y2="489.5" stroke="#000" stroke-width="3" />
<text x="86" y="477.5" font-size="29.16" text-anchor="end" textLength="37.5" lengthAdjust="spacingAndGlyphs" >2.0</text>
<text x="86" y="403.2" font-size="29.16" text-anchor="end" textLength="37.5" lengthAdjust="spacingAndGlyphs" >2.5</text>
<text x="86" y="328.8" font-size="29.16" text-anchor="end" textLength="37.5" lengthAdjust="spacingAndGlyphs" >3.0</text>
<text x="86" y="254.5" font-size="29.16" text-anchor="end" textLength="37.5" lengthAdjust="spacingAndGlyphs" >3.5</text>
<text x="86" y="180.2" font-size="29.16" text-anchor="end" textLength="37.5" lengthAdjust="spacingAndGlyphs" >4.0</text>
<text x="86" y="105.8" font-size="29.16" text-anchor="end" textLength="37.5" lengthAdjust="spacingAndGlyphs" >4.5</text>
<text x="86" y="31.5" font-size="29.16" text-anchor="end" textLength="37.5" lengthAdjust="spacingAndGlyphs" >5.0</text>
<text x="116" y="525.5" font-size="29.16" text-anchor="middle" textLength="15" lengthAdjust="spacingAndGlyphs" >0</text>
<text x="201.8" y="525.5" font-size="29.16" text-anchor="middle" textLength="30" lengthAdjust="spacingAndGlyphs" >50</text>
<text x="287.6" y="525.5" font-size="29.16" text-anchor="middle" textLength="45" lengthAdjust="spacingAndGlyphs" >100</text>
<text x="373.4" y="525.5" font-size="29.16" text-anchor="middle" textLength="45" lengthAdjust="spacingAndGlyphs" >150</text>
<text x="459.2" y="525.5" font-size="29.16" text-anchor="middle" textLength="45" lengthAdjust="spacingAndGlyphs" >200</text>
<text x="545" y="525.5" font-size="29.16" text-anchor="middle" textLength="45" lengthAdjust="spacingAndGlyphs" >250</text>
<text x="630.8" y="525.5" font-size="29.16" text-anchor="middle" textLength="45" lengthAdjust="spacingAndGlyphs" >300</text>
<text x="716.6" y="525.5" font-size="29.16" text-anchor="middle" textLength="45" lengthAdjust="spacingAndGlyphs" >350</text>
<text x="14.2" y="30" font-size="38.88" font-weight="bold" textLength="19.5" lengthAdjust="spacingAndGlyphs" >a</text>
<text transform="translate(294.5 557) scale(0.94 1)" font-size="30">Capacity (mAh g<tspan font-size="18" dy="-12">-1</tspan><tspan dy="12">)</tspan></text>
<text x="28.5" y="314" font-size="31.0" transform="rotate(-90 28.5 314)" textLength="152.5" lengthAdjust="spacingAndGlyphs" >Voltage (V)</text>
<line x1="554.8" y1="112.5" x2="603.2" y2="112.5" stroke="#3b3687" stroke-width="3" stroke-linecap="round"/>
<text x="612.5" y="119.8" font-size="23.76" textLength="67.2" lengthAdjust="spacingAndGlyphs" style="white-space:pre">1st CC</text>
<line x1="554.8" y1="140.2" x2="603.2" y2="140.2" stroke="#2d7265" stroke-width="3" stroke-linecap="round"/>
<text x="612.5" y="147.5" font-size="23.76" textLength="67.2" lengthAdjust="spacingAndGlyphs" style="white-space:pre">1st DC</text>
<line x1="554.8" y1="167.6" x2="603.2" y2="167.6" stroke="#8784c3" stroke-width="3" stroke-linecap="round"/>
<text x="612.5" y="174.9" font-size="23.76" textLength="86.8" lengthAdjust="spacingAndGlyphs" style="white-space:pre">10th  CC</text>
<line x1="554.8" y1="194.8" x2="603.2" y2="194.8" stroke="#6bb3a4" stroke-width="3" stroke-linecap="round"/>
<text x="612.5" y="202.1" font-size="23.76" textLength="86.8" lengthAdjust="spacingAndGlyphs" style="white-space:pre">10th  DC</text>
<line x1="554.8" y1="222.3" x2="603.2" y2="222.3" stroke="#9a97cf" stroke-width="3" stroke-linecap="round"/>
<text x="612.5" y="229.6" font-size="23.76" textLength="86.8" lengthAdjust="spacingAndGlyphs" style="white-space:pre">50th  CC</text>
<line x1="554.8" y1="252.7" x2="603.2" y2="252.7" stroke="#a9d4ce" stroke-width="3" stroke-linecap="round"/>
<text x="612.5" y="260" font-size="23.76" textLength="86.8" lengthAdjust="spacingAndGlyphs" style="white-space:pre">50th  DC</text>
<line x1="554.8" y1="281.3" x2="603.2" y2="281.3" stroke="#cdc7e6" stroke-width="3" stroke-linecap="round"/>
<text x="612.5" y="288.6" font-size="23.76" textLength="99.1" lengthAdjust="spacingAndGlyphs" style="white-space:pre">100th  CC</text>
<line x1="554.8" y1="308.8" x2="603.2" y2="308.8" stroke="#cfe7e3" stroke-width="3" stroke-linecap="round"/>
<text x="612.5" y="316.1" font-size="23.76" textLength="99.1" lengthAdjust="spacingAndGlyphs" style="white-space:pre">100th  DC</text>
<text x="133.6" y="465" font-size="29.16" textLength="42" lengthAdjust="spacingAndGlyphs" >C/2</text>
<text x="647.8" y="469.6" font-size="29.16" textLength="57.5" lengthAdjust="spacingAndGlyphs" >C/10</text>
<line x1="641.5" y1="449.8" x2="624" y2="446.7" stroke="#000" stroke-width="1.3" />
<path d="M612.5 444.6L626.5 442.2L625.2 450.6Z" fill="#000"/>
<path d="M858.7 57.2L859.5 59.5 860.3 61.7 861.1 64 862 66.2 863.1 68.4 864.3 70.4 865.6 72.4 867.1 74.3 868.7 76.1 870.4 77.8 872.1 79.5 873.8 81.2 875.6 82.8 877.4 84.4 879.2 86 881 87.6 882.8 89.2 884.6 90.7 886.4 92.3 888.3 93.9 890.1 95.4 891.9 97 893.8 98.6 895.6 100.1 897.5 101.6 899.4 103.1 901.3 104.5 903.2 106 905.1 107.5 907 109 908.8 110.5 910.7 112.1 912.5 113.6 914.2 115.3 915.9 117 917.6 118.7 919.1 120.6 920.7 122.4 922.1 124.3 923.6 126.2 925 128.2 926.3 130.2 927.6 132.2 929 134.2 930.3 136.2 931.6 138.2 932.9 140.2 934.2 142.2 935.5 144.3 936.8 146.3 938.1 148.4 939.3 150.4 940.6 152.5 941.8 154.5 943 156.6 944.3 158.6 945.5 160.7 946.8 162.8 948 164.8 949.3 166.8 950.6 168.8 952 170.8 953.4 172.8 954.8 174.7 956.3 176.6 957.6 178.6 958.9 180.6 960.2 182.7 961.3 184.8 962.3 187 963.3 189.2 964.1 191.4 965 193.7 965.7 196 966.5 198.3 967.2 200.6 967.8 202.9 968.5 205.2 969.2 207.5 969.8 209.8 970.4 212.1 971.1 214.4 971.7 216.8 972.2 219.1 972.8 221.4 973.3 223.8 973.9 226.1 974.4 228.5 974.9 230.8 975.4 233.2 975.8 235.6 976.2 237.9 976.6 240.3 977 242.7 977.2 245.1 977.5 247.4 977.8 249.8 978 252.2 978.4 254.6 978.7 257 979.2 259.3 979.8 261.7 980.5 263.9 981.5 266.1 982.6 268.2 983.9 270.3 985.1 272.4 986.3 274.5 987.5 276.5 988.7 278.6 989.9 280.7 991.2 282.7 992.6 284.7 994 286.6 995.6 288.4 997.3 290.1 999 291.8 1000.9 293.3 1002.8 294.7 1004.8 296.1 1006.8 297.4 1008.9 298.6 1011 299.7 1013.2 300.7 1015.4 301.8 1017.6 302.7 1019.8 303.7 1022 304.6 1024.2 305.5 1026.5 306.4 1028.7 307.3 1030.9 308.1 1033.2 308.9 1035.5 309.8 1037.7 310.6 1040 311.4 1042.3 312.2 1044.5 312.9 1046.8 313.7 1049.1 314.4 1051.4 315.2 1053.7 315.9 1056 316.6 1058.3 317.3 1060.6 318 1062.9 318.7 1065.2 319.3 1067.5 320 1069.8 320.6 1072.1 321.3 1074.5 321.9 1076.8 322.6 1079.1 323.2 1081.4 323.8 1083.8 324.4 1086.1 325 1088.4 325.6 1090.8 326.2 1093.1 326.7 1095.4 327.3 1097.8 327.9 1100.1 328.4 1102.4 329 1104.8 329.6 1107.1 330.1 1109.5 330.7 1111.8 331.2 1114.1 331.8 1116.5 332.3 1118.8 332.8 1121.2 333.4 1123.5 333.9 1125.8 334.5 1128.2 335 1130.5 335.5 1132.9 336.1 1135.2 336.6 1137.6 337.1 1139.9 337.7 1142.3 338.2 1144.6 338.8 1146.9 339.3 1149.3 339.8 1151.6 340.4 1154 340.9 1156.3 341.4 1158.7 342 1161 342.5 1163.3 343.1 1165.7 343.6 1168 344.1 1170.4 344.6 1172.7 345.1 1175.1 345.6 1177.4 346.1 1179.8 346.6 1182.1 347.1 1184.5 347.6 1186.9 348.1 1189.2 348.6 1191.6 349 1193.9 349.5 1196.3 350 1198.6 350.5 1201 351 1203.3 351.6 1205.7 352.1 1208 352.6 1210.3 353.2 1212.7 353.8 1215 354.3 1217.3 355 1219.7 355.6 1222 356.2 1224.3 356.9 1226.6 357.6 1228.9 358.4 1231.2 359.1 1233.4 359.9 1235.7 360.6 1238 361.4 1240.2 362.3 1242.5 363.1 1244.7 363.9 1247 364.8 1249.2 365.7 1251.5 366.6 1253.7 367.5 1255.9 368.4 1258.1 369.4 1260.3 370.3 1262.5 371.3 1264.7 372.3 1266.9 373.3 1269 374.4 1271.2 375.4 1273.3 376.5 1275.5 377.7 1277.5 378.8 1279.6 380.1 1281.6 381.4 1283.6 382.8 1285.5 384.3 1287.3 385.8 1289 387.5 1290.7 389.2 1292.3 391 1293.9 392.8 1295.5 394.6 1296.9 396.5 1298.3 398.5 1299.6 400.5 1300.8 402.6 1301.8 404.8 1302.8 406.9 1303.8 409.2 1304.7 411.4 1305.6 413.6 1306.4 415.9 1307.2 418.1 1307.9 420.4 1308.5 422.8 1309.2 425.1 1309.8 427.4 1310.4 429.7 1311 432 1311.6 434.4 1312.2 436.7 1312.8 439 1313.3 441.4 1313.9 443.7 1314.5 446.1 1315.1 448.4 1315.7 450.7 1316.3 453 1317 455.3 1317.8 457.6 1318.7 459.8 1319.6 462 1320.8 464.1 1322.1 466.1 1323.5 468.1 1324 468.7" fill="none" stroke="#e28c5a" stroke-width="3" stroke-linejoin="round" stroke-linecap="butt" />
<path d="M858.7 57.2L859.6 59.4 860.4 61.7 861.3 63.9 862.3 66.1 863.4 68.3 864.6 70.3 866 72.3 867.5 74.2 869.1 76 870.7 77.7 872.5 79.4 874.2 81 876 82.6 877.8 84.2 879.6 85.8 881.4 87.4 883.2 89 885.1 90.5 886.9 92.1 888.7 93.6 890.5 95.2 892.4 96.8 894.2 98.3 896.1 99.8 898 101.3 899.9 102.8 901.8 104.3 903.7 105.8 905.5 107.3 907.4 108.7 909.3 110.3 911.1 111.8 912.9 113.4 914.7 115 916.4 116.7 918.1 118.5 919.7 120.3 921.2 122.1 922.7 124 924.1 126 925.5 127.9 926.8 129.9 928.2 131.9 929.5 133.9 930.8 135.9 932.1 137.9 933.5 139.9 934.8 141.9 936.1 143.9 937.5 146 938.8 148 940.1 150 941.4 152 942.7 154.1 943.9 156.1 945.2 158.1 946.5 160.2 947.8 162.2 949.1 164.2 950.4 166.2 951.8 168.2 953.1 170.2 954.5 172.2 956 174.1 957.4 176 958.8 178 960.1 180 961.3 182.1 962.5 184.2 963.5 186.3 964.5 188.5 965.4 190.8 966.2 193 967 195.3 967.7 197.6 968.5 199.9 969.1 202.2 969.8 204.5 970.5 206.8 971.1 209.1 971.8 211.5 972.4 213.8 973 216.1 973.6 218.4 974.1 220.8 974.7 223.1 975.2 225.5 975.7 227.8 976.2 230.2 976.7 232.5 977.2 234.9 977.6 237.2 978 239.6 978.4 242 978.7 244.4 978.9 246.8 979.2 249.2 979.5 251.6 979.8 253.9 980.1 256.3 980.5 258.7 981.1 261 981.8 263.3 982.7 265.5 983.8 267.7 985 269.7 986.3 271.8 987.5 273.9 988.7 276 989.9 278 991.2 280.1 992.4 282.1 993.8 284.1 995.2 286 996.7 287.9 998.3 289.7 1000.1 291.4 1001.9 293 1003.7 294.5 1005.7 295.9 1007.6 297.2 1009.7 298.5 1011.8 299.7 1013.9 300.8 1016.1 301.9 1018.2 302.9 1020.4 303.9 1022.6 304.8 1024.9 305.7 1027.1 306.6 1029.3 307.5 1031.6 308.4 1033.8 309.2 1036.1 310 1038.4 310.8 1040.6 311.6 1042.9 312.4 1045.2 313.2 1047.5 313.9 1049.8 314.7 1052.1 315.4 1054.4 316.1 1056.7 316.8 1059 317.5 1061.3 318.2 1063.6 318.9 1065.9 319.5 1068.2 320.2 1070.5 320.8 1072.8 321.5 1075.2 322.1 1077.5 322.7 1079.8 323.4 1082.1 324 1084.5 324.6 1086.8 325.2 1089.1 325.8 1091.5 326.3 1093.8 326.9 1096.1 327.5 1098.5 328 1100.8 328.6 1103.2 329.2 1105.5 329.7 1107.8 330.3 1110.2 330.8 1112.5 331.4 1114.9 331.9 1117.2 332.5 1119.5 333 1121.9 333.6 1124.2 334.1 1126.6 334.6 1128.9 335.2 1131.3 335.7 1133.6 336.2 1136 336.8 1138.3 337.3 1140.6 337.9 1143 338.4 1145.3 338.9 1147.7 339.5 1150 340 1152.4 340.5 1154.7 341.1 1157.1 341.6 1159.4 342.2 1161.8 342.7 1164.1 343.2 1166.4 343.8 1168.8 344.3 1171.1 344.8 1173.5 345.3 1175.8 345.8 1178.2 346.3 1180.6 346.8 1182.9 347.3 1185.3 347.7 1187.6 348.2 1190 348.7 1192.3 349.2 1194.7 349.7 1197 350.2 1199.4 350.7 1201.7 351.2 1204.1 351.7 1206.4 352.3 1208.8 352.8 1211.1 353.4 1213.5 354 1215.8 354.5 1218.1 355.2 1220.4 355.8 1222.7 356.5 1225.1 357.2 1227.3 357.9 1229.6 358.6 1231.9 359.4 1234.2 360.1 1236.5 360.9 1238.7 361.7 1241 362.5 1243.3 363.4 1245.5 364.2 1247.8 365.1 1250 366 1252.2 366.9 1254.4 367.8 1256.7 368.8 1258.9 369.7 1261.1 370.7 1263.3 371.7 1265.4 372.7 1267.6 373.7 1269.8 374.7 1271.9 375.8 1274.1 376.9 1276.2 378 1278.3 379.2 1280.4 380.4 1282.4 381.7 1284.4 383.1 1286.4 384.5 1288.3 385.9 1290.1 387.5 1291.9 389 1293.7 390.7 1295.4 392.4 1297.1 394.1 1298.7 395.8 1300.3 397.7 1301.8 399.5 1303.2 401.5 1304.5 403.5 1305.7 405.6 1306.9 407.7 1308 409.8 1309 412 1310 414.2 1311 416.4 1311.8 418.6 1312.6 420.9 1313.3 423.2 1314 425.5 1314.7 427.8 1315.3 430.1 1316 432.4 1316.6 434.8 1317.3 437.1 1318 439.4 1318.6 441.7 1319.2 444 1319.9 446.3 1320.5 448.7 1321.2 451 1321.8 453.3 1322.6 455.6 1323.4 457.8 1324.3 460.1 1325.2 462.3 1326.3 464.4 1327.4 466.6 1328.5 468.7 1328.5 468.7" fill="none" stroke="#efb08a" stroke-width="3" stroke-linejoin="round" stroke-linecap="butt" />
<path d="M858.7 57.2L859.6 59.4 860.5 61.7 861.5 63.9 862.5 66 863.6 68.2 864.9 70.2 866.3 72.2 867.8 74 869.4 75.8 871.1 77.5 872.8 79.2 874.6 80.8 876.4 82.4 878.2 84 880 85.6 881.8 87.2 883.6 88.7 885.5 90.3 887.3 91.8 889.1 93.4 891 94.9 892.8 96.5 894.6 98 896.5 99.6 898.4 101.1 900.3 102.6 902.2 104 904.1 105.5 906 107 907.9 108.5 909.7 110 911.6 111.5 913.4 113.1 915.2 114.7 916.9 116.4 918.5 118.2 920.1 120 921.7 121.8 923.1 123.7 924.6 125.6 925.9 127.6 927.3 129.6 928.6 131.6 930 133.6 931.3 135.6 932.6 137.6 934 139.6 935.4 141.6 936.7 143.6 938.1 145.5 939.4 147.5 940.8 149.5 942.1 151.5 943.4 153.5 944.8 155.5 946.1 157.5 947.4 159.5 948.8 161.5 950.1 163.5 951.4 165.5 952.8 167.5 954.2 169.5 955.6 171.5 957 173.4 958.4 175.3 959.8 177.3 961.1 179.3 962.4 181.3 963.6 183.4 964.7 185.6 965.7 187.8 966.6 190 967.4 192.2 968.2 194.5 969 196.8 969.7 199.1 970.4 201.4 971.1 203.7 971.7 206 972.4 208.3 973 210.6 973.7 213 974.3 215.3 974.9 217.6 975.4 219.9 976 222.3 976.5 224.6 977.1 227 977.6 229.3 978 231.7 978.5 234 979 236.4 979.4 238.8 979.7 241.2 980.1 243.5 980.3 245.9 980.6 248.3 980.9 250.7 981.2 253.1 981.5 255.5 981.9 257.8 982.4 260.2 983 262.5 983.9 264.7 984.9 266.9 986.1 269 987.3 271.1 988.6 273.1 989.8 275.2 991 277.3 992.3 279.3 993.5 281.4 994.9 283.3 996.3 285.3 997.7 287.2 999.3 289 1001 290.8 1002.7 292.4 1004.5 294 1006.4 295.5 1008.3 297 1010.3 298.3 1012.3 299.6 1014.4 300.8 1016.5 301.9 1018.7 303 1020.9 304 1023.1 305 1025.3 305.9 1027.5 306.8 1029.7 307.7 1032 308.6 1034.2 309.4 1036.5 310.2 1038.8 311 1041 311.8 1043.3 312.6 1045.6 313.3 1047.9 314.1 1050.2 314.8 1052.5 315.5 1054.8 316.2 1057.1 316.9 1059.4 317.6 1061.7 318.3 1064 319 1066.3 319.6 1068.6 320.3 1070.9 320.9 1073.2 321.6 1075.6 322.2 1077.9 322.8 1080.2 323.5 1082.5 324.1 1084.9 324.7 1087.2 325.3 1089.5 325.9 1091.9 326.4 1094.2 327 1096.5 327.6 1098.9 328.1 1101.2 328.7 1103.6 329.3 1105.9 329.8 1108.2 330.4 1110.6 330.9 1112.9 331.5 1115.3 332 1117.6 332.6 1120 333.1 1122.3 333.6 1124.6 334.2 1127 334.7 1129.3 335.3 1131.7 335.8 1134 336.3 1136.4 336.9 1138.7 337.4 1141.1 337.9 1143.4 338.5 1145.7 339 1148.1 339.6 1150.4 340.1 1152.8 340.6 1155.1 341.2 1157.5 341.7 1159.8 342.3 1162.2 342.8 1164.5 343.3 1166.8 343.8 1169.2 344.4 1171.5 344.9 1173.9 345.4 1176.3 345.9 1178.6 346.4 1181 346.9 1183.3 347.3 1185.7 347.8 1188 348.3 1190.4 348.8 1192.7 349.3 1195.1 349.8 1197.4 350.3 1199.8 350.8 1202.1 351.3 1204.5 351.8 1206.8 352.4 1209.2 352.9 1211.5 353.5 1213.9 354.1 1216.2 354.7 1218.5 355.3 1220.8 355.9 1223.1 356.6 1225.4 357.3 1227.7 358 1230 358.7 1232.3 359.5 1234.6 360.3 1236.9 361 1239.1 361.8 1241.4 362.7 1243.6 363.5 1245.9 364.4 1248.1 365.2 1250.4 366.1 1252.6 367 1254.8 368 1257 368.9 1259.2 369.9 1261.4 370.8 1263.6 371.8 1265.8 372.8 1268 373.9 1270.1 374.9 1272.3 376 1274.4 377.1 1276.5 378.2 1278.6 379.4 1280.7 380.7 1282.7 382 1284.6 383.4 1286.5 384.9 1288.4 386.4 1290.2 388 1291.9 389.7 1293.6 391.4 1295.2 393.2 1296.8 394.9 1298.4 396.8 1299.8 398.7 1301.2 400.7 1302.5 402.7 1303.6 404.8 1304.7 407 1305.7 409.1 1306.7 411.3 1307.7 413.5 1308.6 415.8 1309.4 418 1310.2 420.3 1310.8 422.6 1311.5 424.9 1312.1 427.3 1312.8 429.6 1313.4 431.9 1314.1 434.2 1314.7 436.5 1315.3 438.9 1315.9 441.2 1316.5 443.5 1317.1 445.8 1317.7 448.2 1318.3 450.5 1319 452.8 1319.7 455.1 1320.6 457.3 1321.5 459.5 1322.6 461.7 1323.7 463.8 1324.9 465.9 1326.1 468 1326.5 468.7" fill="none" stroke="#f5c6a6" stroke-width="3" stroke-linejoin="round" stroke-linecap="butt" />
<path d="M858.7 65.5L859.5 67.8 860.3 70 861.1 72.3 862 74.5 863.1 76.7 864.3 78.7 865.6 80.7 867.1 82.6 868.7 84.4 870.4 86.1 872.2 87.7 874 89.3 875.8 90.9 877.6 92.5 879.4 94.1 881.3 95.6 883.1 97.2 884.9 98.8 886.7 100.4 888.4 102 890.2 103.7 891.9 105.3 893.6 107 895.3 108.7 897 110.4 898.7 112.1 900.4 113.8 902.1 115.6 903.7 117.3 905.4 119.1 907 120.8 908.6 122.6 910.2 124.4 911.8 126.2 913.3 128.1 914.8 130 916.3 131.9 917.7 133.8 919.1 135.8 920.5 137.8 921.8 139.8 923.1 141.8 924.4 143.8 925.7 145.8 926.9 147.9 928.2 150 929.4 152 930.6 154.1 931.8 156.2 933 158.2 934.2 160.3 935.5 162.4 936.7 164.5 937.9 166.5 939.1 168.6 940.3 170.7 941.6 172.8 942.8 174.8 944 176.9 945.2 179 946.3 181.1 947.4 183.2 948.5 185.4 949.6 187.6 950.5 189.8 951.5 192 952.3 194.2 953.2 196.5 953.9 198.7 954.7 201 955.4 203.3 956 205.7 956.6 208 957.2 210.3 957.8 212.6 958.3 215 958.8 217.3 959.3 219.7 959.8 222.1 960.2 224.4 960.6 226.8 960.9 229.2 961.2 231.6 961.5 233.9 961.8 236.3 962.1 238.7 962.4 241.1 962.7 243.5 963 245.9 963.3 248.3 963.7 250.6 964.1 253 964.5 255.4 965 257.7 965.6 260.1 966.2 262.4 966.9 264.7 967.7 267 968.5 269.2 969.4 271.5 970.3 273.7 971.3 275.9 972.3 278 973.4 280.2 974.6 282.3 975.9 284.3 977.3 286.3 978.8 288.1 980.4 289.9 982.2 291.5 984.1 292.9 986.2 294.1 988.3 295.2 990.5 296.1 992.7 297.1 994.9 298 997.2 298.9 999.4 299.8 1001.6 300.7 1003.9 301.5 1006.2 302.3 1008.4 303.1 1010.7 303.8 1013 304.5 1015.3 305.2 1017.6 305.9 1019.9 306.6 1022.3 307.2 1024.6 307.9 1026.9 308.5 1029.2 309.1 1031.5 309.7 1033.9 310.3 1036.2 310.9 1038.5 311.5 1040.9 312.1 1043.2 312.7 1045.5 313.2 1047.9 313.8 1050.2 314.3 1052.6 314.9 1054.9 315.4 1057.2 316 1059.6 316.5 1061.9 317.1 1064.3 317.6 1066.6 318.1 1069 318.7 1071.3 319.2 1073.6 319.8 1076 320.3 1078.3 320.8 1080.7 321.4 1083 321.9 1085.4 322.4 1087.7 323 1090.1 323.5 1092.4 324 1094.8 324.5 1097.1 325.1 1099.5 325.6 1101.8 326.1 1104.1 326.6 1106.5 327.1 1108.8 327.7 1111.2 328.2 1113.5 328.7 1115.9 329.2 1118.2 329.7 1120.6 330.3 1122.9 330.8 1125.3 331.3 1127.6 331.8 1130 332.4 1132.3 332.9 1134.7 333.4 1137 334 1139.3 334.5 1141.7 335.1 1144 335.6 1146.4 336.1 1148.7 336.7 1151.1 337.2 1153.4 337.8 1155.7 338.4 1158.1 338.9 1160.4 339.4 1162.8 340 1165.1 340.5 1167.4 341.1 1169.8 341.6 1172.1 342.2 1174.5 342.7 1176.8 343.3 1179.2 343.8 1181.5 344.4 1183.8 344.9 1186.2 345.5 1188.5 346 1190.8 346.6 1193.2 347.2 1195.5 347.7 1197.9 348.3 1200.2 348.9 1202.5 349.5 1204.8 350.1 1207.2 350.7 1209.5 351.3 1211.8 351.9 1214.1 352.6 1216.5 353.2 1218.8 353.9 1221.1 354.6 1223.4 355.2 1225.7 356 1228 356.7 1230.3 357.4 1232.5 358.2 1234.8 358.9 1237.1 359.7 1239.4 360.5 1241.6 361.3 1243.9 362.2 1246.1 363 1248.4 363.9 1250.6 364.7 1252.9 365.6 1255.1 366.5 1257.3 367.5 1259.5 368.4 1261.7 369.4 1263.9 370.4 1266.1 371.4 1268.2 372.4 1270.4 373.5 1272.5 374.6 1274.7 375.7 1276.8 376.9 1278.8 378.1 1280.9 379.4 1282.8 380.8 1284.7 382.3 1286.5 383.8 1288.3 385.5 1289.9 387.3 1291.4 389.1 1292.8 391.1 1294.2 393 1295.5 395 1296.7 397.1 1297.8 399.2 1298.8 401.4 1299.7 403.7 1300.5 405.9 1301.3 408.2 1302 410.5 1302.7 412.8 1303.3 415.1 1304 417.4 1304.6 419.8 1305.2 422.1 1305.8 424.4 1306.3 426.8 1306.9 429.1 1307.4 431.5 1307.9 433.8 1308.4 436.2 1308.9 438.5 1309.4 440.9 1309.8 443.2 1310.3 445.6 1310.8 447.9 1311.3 450.3 1311.8 452.6 1312.3 455 1312.8 457.3 1313.4 459.7 1314 462 1314.8 464.3 1315.8 466.3 1317.3 467.9 1318.5 468.7" fill="none" stroke="#d8601c" stroke-width="3" stroke-linejoin="round" stroke-linecap="butt" />
<path d="M858.7 457L858.7 454.6 858.8 452.2 858.8 449.8 858.9 447.4 858.9 445 858.9 442.6 859 440.2 859 437.8 859.1 435.4 859.1 433 859.1 430.6 859.2 428.1 859.2 425.7 859.2 423.3 859.3 420.9 859.3 418.5 859.4 416.1 859.4 413.7 859.4 411.3 859.5 408.9 859.5 406.5 859.6 404.1 859.6 401.7 859.6 399.3 859.7 396.9 859.7 394.5 859.8 392.1 859.8 389.7 859.8 387.3 859.9 384.9 859.9 382.5 860 380.1 860 377.7 860 375.3 860.1 372.9 860.1 370.4 860.1 368 860.2 365.6 860.2 363.2 860.3 360.8 860.3 358.4 860.3 356 860.4 353.6 860.4 351.2 860.5 348.8 860.5 346.4 860.6 344 860.7 341.6 860.8 339.2 861 336.8 861.2 334.4 861.6 332 862.2 329.7 863 327.5 864.3 325.7 866.2 324.6 868.4 324 870.8 323.8 873.2 323.8 875.6 323.6 878 323.4 880.3 323.1 882.7 322.7 885.1 322.2 887.4 321.7 889.8 321.2 892.1 320.7 894.5 320.2 896.8 319.7 899.2 319.1 901.5 318.6 903.8 318 906.2 317.4 908.5 316.9 910.8 316.3 913.2 315.7 915.5 315.1 917.8 314.5 920.2 314 922.5 313.4 924.8 312.8 927.2 312.2 929.5 311.6 931.8 311 934.2 310.4 936.5 309.8 938.8 309.2 941.1 308.5 943.4 307.9 945.8 307.2 948.1 306.6 950.4 305.9 952.7 305.2 955 304.5 957.3 303.7 959.5 303 961.8 302.3 964.1 301.5 966.4 300.7 968.7 299.9 970.9 299.2 973.2 298.4 975.5 297.6 977.7 296.8 980 295.9 982.3 295.1 984.5 294.3 986.8 293.5 989 292.6 991.3 291.8 993.5 290.9 995.8 290.1 998 289.3 1000.3 288.4 1002.5 287.6 1004.8 286.8 1007.1 285.9 1009.3 285.1 1011.5 284.2 1013.8 283.3 1016 282.4 1018.2 281.5 1020.4 280.5 1022.6 279.5 1024.8 278.5 1026.9 277.4 1029 276.2 1031 274.9 1033 273.6 1034.9 272.1 1036.8 270.6 1038.6 269 1040.4 267.4 1042.1 265.7 1043.8 264 1045.6 262.4 1047.3 260.7 1049.1 259.1 1050.8 257.4 1052.5 255.7 1054.3 254.1 1056 252.4 1057.7 250.7 1059.3 249 1061 247.2 1062.7 245.5 1064.4 243.8 1066.1 242.1 1067.7 240.3 1069.4 238.6 1071 236.8 1072.6 235 1074.2 233.3 1075.8 231.4 1077.4 229.6 1079 227.8 1080.6 226 1082.2 224.2 1083.8 222.4 1085.4 220.7 1087.1 218.9 1088.8 217.2 1090.5 215.5 1092.1 213.8 1093.8 212.1 1095.5 210.4 1097.3 208.7 1099 207.1 1100.8 205.5 1102.7 204 1104.6 202.5 1106.5 201 1108.5 199.7 1110.5 198.3 1112.5 197.1 1114.6 195.9 1116.7 194.7 1118.8 193.6 1120.9 192.5 1123.1 191.4 1125.2 190.3 1127.4 189.2 1129.5 188.1 1131.7 187.1 1133.8 186 1136 184.9 1138.1 183.8 1140.3 182.7 1142.4 181.6 1144.5 180.5 1146.7 179.4 1148.8 178.3 1151 177.2 1153.1 176.1 1155.2 174.9 1157.2 173.7 1159.3 172.4 1161.3 171.2 1163.4 169.9 1165.4 168.6 1167.5 167.4 1169.5 166.1 1171.5 164.8 1173.5 163.4 1175.5 162.1 1177.5 160.7 1179.4 159.3 1181.3 157.8 1183.2 156.3 1185 154.7 1186.8 153.2 1188.6 151.5 1190.4 149.9 1192.1 148.2 1193.8 146.5 1195.4 144.8 1197.1 143 1198.7 141.2 1200.3 139.5 1202 137.7 1203.6 135.9 1205.2 134.1 1206.8 132.4 1208.4 130.6 1210.1 128.8 1211.7 127.1 1213.4 125.3 1215 123.6 1216.7 121.9 1218.4 120.2 1220.2 118.5 1221.9 116.9 1223.7 115.3 1225.6 113.7 1227.4 112.2 1229.3 110.7 1231.2 109.3 1233.2 107.9 1235.1 106.5 1237.1 105.1 1239.1 103.8 1241.1 102.4 1243.1 101.1 1245.2 99.9 1247.2 98.6 1249.3 97.3 1251.3 96.1 1253.4 94.8 1255.4 93.6 1257.5 92.3 1259.5 91.1 1261.6 89.8 1263.6 88.5 1265.6 87.2 1267.7 86 1269.7 84.7 1271.7 83.4 1273.8 82.1 1275.8 80.9 1277.9 79.6 1279.9 78.4 1282 77.1 1284.1 75.9 1286.1 74.6 1288.2 73.4 1290.3 72.2 1292.4 71 1294.4 69.8 1296.5 68.7 1298.7 67.5 1300.8 66.4 1302.9 65.3 1305.1 64.2 1307.2 63.1 1309.4 62.1 1311.6 61 1313.7 60 1315.9 59 1318.1 58 1320.3 57 1322.5 56.1 1324.7 55.1 1326.9 54.1 1329.1 53.1 1331.3 52.1 1332 51.8" fill="none" stroke="#fa8878" stroke-width="3" stroke-linejoin="round" stroke-linecap="butt" />
<path d="M858.7 457L858.7 454.6 858.8 452.2 858.8 449.8 858.9 447.4 858.9 445 858.9 442.6 859 440.2 859 437.8 859.1 435.4 859.1 433 859.1 430.6 859.2 428.2 859.2 425.8 859.3 423.4 859.3 420.9 859.3 418.5 859.4 416.1 859.4 413.7 859.4 411.3 859.5 408.9 859.5 406.5 859.6 404.1 859.6 401.7 859.6 399.3 859.7 396.9 859.7 394.5 859.8 392.1 859.8 389.7 859.8 387.3 859.9 384.9 859.9 382.5 860 380.1 860 377.7 860 375.3 860.1 372.9 860.1 370.5 860.1 368.1 860.2 365.7 860.2 363.3 860.2 360.9 860.3 358.5 860.3 356.1 860.3 353.6 860.4 351.2 860.4 348.8 860.5 346.4 860.5 344 860.6 341.6 860.7 339.2 860.8 336.8 861 334.4 861.3 332.1 861.7 329.7 862.3 327.4 863.2 325.2 864.6 323.5 866.5 322.4 868.8 322 871.1 321.8 873.5 321.7 875.9 321.6 878.3 321.4 880.7 321 883.1 320.6 885.4 320.1 887.8 319.7 890.1 319.2 892.5 318.6 894.8 318.1 897.2 317.6 899.5 317 901.8 316.5 904.2 315.9 906.5 315.3 908.9 314.8 911.2 314.2 913.5 313.6 915.9 313 918.2 312.5 920.5 311.9 922.8 311.3 925.2 310.7 927.5 310.1 929.8 309.5 932.2 308.9 934.5 308.3 936.8 307.7 939.1 307.1 941.5 306.4 943.8 305.8 946.1 305.1 948.4 304.5 950.7 303.8 953 303.1 955.3 302.4 957.6 301.6 959.9 300.9 962.2 300.2 964.4 299.4 966.7 298.6 969 297.8 971.3 297 973.5 296.3 975.8 295.4 978.1 294.6 980.3 293.8 982.6 293 984.8 292.2 987.1 291.3 989.3 290.5 991.6 289.7 993.8 288.8 996.1 288 998.3 287.1 1000.6 286.3 1002.9 285.5 1005.1 284.6 1007.4 283.8 1009.6 282.9 1011.9 282.1 1014.1 281.2 1016.3 280.3 1018.5 279.4 1020.7 278.4 1022.9 277.4 1025.1 276.3 1027.2 275.2 1029.3 274 1031.3 272.7 1033.3 271.4 1035.2 269.9 1037 268.4 1038.8 266.8 1040.6 265.1 1042.3 263.5 1044.1 261.8 1045.8 260.2 1047.6 258.5 1049.3 256.9 1051 255.2 1052.8 253.5 1054.5 251.8 1056.2 250.1 1057.9 248.4 1059.6 246.7 1061.3 245 1062.9 243.3 1064.6 241.6 1066.3 239.8 1067.9 238.1 1069.6 236.4 1071.2 234.6 1072.8 232.8 1074.4 231 1076 229.2 1077.6 227.4 1079.2 225.6 1080.8 223.8 1082.4 222 1084 220.2 1085.6 218.5 1087.3 216.7 1089 215 1090.7 213.3 1092.4 211.6 1094 209.9 1095.8 208.2 1097.5 206.5 1099.3 204.9 1101.1 203.3 1102.9 201.8 1104.8 200.3 1106.7 198.9 1108.7 197.5 1110.7 196.2 1112.8 194.9 1114.8 193.7 1117 192.6 1119.1 191.4 1121.2 190.3 1123.3 189.2 1125.5 188.1 1127.6 187.1 1129.8 186 1131.9 184.9 1134.1 183.9 1136.2 182.8 1138.4 181.7 1140.5 180.6 1142.6 179.4 1144.8 178.3 1146.9 177.2 1149 176.1 1151.2 175 1153.3 173.9 1155.4 172.7 1157.5 171.5 1159.5 170.3 1161.6 169 1163.7 167.8 1165.7 166.6 1167.8 165.4 1169.9 164.2 1171.9 162.9 1174 161.6 1176 160.3 1178 159 1179.9 157.6 1181.9 156.2 1183.8 154.7 1185.6 153.2 1187.5 151.6 1189.3 150 1191 148.4 1192.7 146.7 1194.4 145 1196.1 143.3 1197.8 141.6 1199.5 139.8 1201.1 138.1 1202.8 136.3 1204.4 134.6 1206 132.8 1207.7 131.1 1209.3 129.3 1211 127.6 1212.7 125.8 1214.3 124.1 1216 122.4 1217.8 120.7 1219.5 119.1 1221.3 117.5 1223.1 115.9 1224.9 114.3 1226.8 112.8 1228.6 111.3 1230.6 109.8 1232.5 108.4 1234.4 107 1236.4 105.6 1238.4 104.3 1240.4 103 1242.4 101.7 1244.5 100.4 1246.5 99.1 1248.5 97.8 1250.6 96.6 1252.6 95.3 1254.7 94.1 1256.7 92.8 1258.8 91.5 1260.8 90.3 1262.9 89 1264.9 87.7 1266.9 86.4 1269 85.2 1271 83.9 1273.1 82.7 1275.1 81.4 1277.2 80.2 1279.3 79 1281.3 77.7 1283.4 76.5 1285.5 75.3 1287.5 74 1289.6 72.8 1291.7 71.6 1293.7 70.4 1295.8 69.2 1297.9 68 1300 66.8 1302.1 65.5 1304.1 64.3 1306.2 63.2 1308.3 62 1310.4 60.8 1312.5 59.6 1314.6 58.4 1316.7 57.3 1318.8 56.1 1320.9 54.9 1323 53.8 1325.1 52.6 1326.5 51.8" fill="none" stroke="#f9604a" stroke-width="3" stroke-linejoin="round" stroke-linecap="butt" />
<path d="M858.7 457L858.7 454.6 858.8 452.2 858.8 449.8 858.9 447.4 858.9 445 858.9 442.6 859 440.2 859 437.8 859.1 435.4 859.1 433 859.1 430.6 859.2 428.2 859.2 425.8 859.3 423.3 859.3 420.9 859.3 418.5 859.4 416.1 859.4 413.7 859.5 411.3 859.5 408.9 859.5 406.5 859.6 404.1 859.6 401.7 859.6 399.3 859.7 396.9 859.7 394.5 859.8 392.1 859.8 389.7 859.8 387.3 859.9 384.9 859.9 382.5 860 380.1 860 377.7 860 375.3 860.1 372.9 860.1 370.5 860.1 368.1 860.1 365.7 860.2 363.3 860.2 360.9 860.3 358.4 860.3 356 860.3 353.6 860.4 351.2 860.4 348.8 860.5 346.4 860.5 344 860.6 341.6 860.6 339.2 860.7 336.8 860.8 334.4 861 332 861.4 329.6 861.8 327.3 862.5 325 863.6 323 865.2 321.5 867.3 320.7 869.6 320.4 872 320.4 874.4 320.3 876.8 320.1 879.2 319.8 881.6 319.5 883.9 319 886.3 318.5 888.6 318 891 317.5 893.3 316.9 895.7 316.4 898 315.8 900.3 315.2 902.7 314.7 905 314.1 907.3 313.5 909.7 312.9 912 312.3 914.3 311.7 916.6 311.1 919 310.5 921.3 309.9 923.6 309.3 926 308.7 928.3 308.1 930.6 307.5 932.9 306.8 935.2 306.2 937.6 305.6 939.9 304.9 942.2 304.3 944.5 303.6 946.8 303 949.1 302.3 951.4 301.6 953.7 300.9 956 300.1 958.3 299.4 960.6 298.7 962.9 297.9 965.1 297.1 967.4 296.4 969.7 295.6 972 294.8 974.2 294 976.5 293.2 978.8 292.4 981 291.5 983.3 290.7 985.5 289.9 987.8 289.1 990 288.2 992.3 287.4 994.6 286.6 996.8 285.7 999.1 284.9 1001.3 284.1 1003.6 283.2 1005.8 282.4 1008.1 281.5 1010.3 280.7 1012.6 279.8 1014.8 279 1017 278.1 1019.3 277.1 1021.5 276.2 1023.6 275.1 1025.8 274.1 1027.9 272.9 1030 271.7 1032 270.4 1033.9 269 1035.8 267.5 1037.6 266 1039.3 264.3 1041 262.5 1042.5 260.7 1044.1 258.8 1045.6 257 1047 255 1048.3 253 1049.6 251 1050.8 248.9 1052 246.8 1053.2 244.7 1054.3 242.6 1055.4 240.5 1056.5 238.3 1057.6 236.2 1058.6 234 1059.6 231.8 1060.6 229.6 1061.5 227.4 1062.5 225.2 1063.4 223 1064.4 220.8 1065.3 218.6 1066.3 216.4 1067.2 214.2 1068.2 212 1069.2 209.8 1070.2 207.6 1071.3 205.5 1072.4 203.3 1073.6 201.3 1074.9 199.2 1076.2 197.2 1077.5 195.2 1078.9 193.2 1080.4 191.3 1081.9 189.5 1083.5 187.6 1085.1 185.9 1086.7 184.1 1088.4 182.4 1090.2 180.8 1092 179.2 1093.9 177.7 1095.8 176.2 1097.8 174.9 1099.8 173.6 1101.9 172.4 1104 171.2 1106.1 170 1108.2 168.9 1110.3 167.8 1112.4 166.7 1114.6 165.6 1116.8 164.6 1118.9 163.6 1121.1 162.5 1123.3 161.5 1125.5 160.5 1127.7 159.6 1129.9 158.6 1132.1 157.6 1134.3 156.6 1136.5 155.6 1138.6 154.6 1140.8 153.6 1143 152.6 1145.2 151.6 1147.4 150.5 1149.5 149.5 1151.7 148.5 1153.9 147.6 1156.1 146.6 1158.3 145.7 1160.6 144.7 1162.8 143.8 1165 142.9 1167.2 141.9 1169.4 140.9 1171.6 139.9 1173.8 138.9 1175.9 137.9 1178.1 136.9 1180.2 135.8 1182.4 134.6 1184.5 133.5 1186.6 132.3 1188.6 131 1190.6 129.7 1192.6 128.4 1194.6 127 1196.5 125.6 1198.4 124.1 1200.4 122.7 1202.2 121.2 1204.1 119.7 1206 118.2 1207.9 116.7 1209.8 115.2 1211.7 113.7 1213.6 112.3 1215.5 110.8 1217.4 109.4 1219.4 108 1221.4 106.6 1223.4 105.3 1225.4 104 1227.5 102.8 1229.6 101.6 1231.7 100.4 1233.8 99.3 1235.9 98.2 1238.1 97.1 1240.2 96 1242.4 95 1244.5 94 1246.7 93 1248.9 91.9 1251.1 90.9 1253.3 89.9 1255.5 88.9 1257.6 87.9 1259.8 86.9 1262 85.9 1264.1 84.8 1266.3 83.8 1268.5 82.7 1270.7 81.7 1272.8 80.7 1275 79.6 1277.2 78.6 1279.3 77.6 1281.5 76.6 1283.7 75.5 1285.9 74.5 1288.1 73.5 1290.2 72.5 1292.4 71.5 1294.6 70.5 1296.8 69.6 1299 68.6 1301.2 67.6 1303.4 66.7 1305.6 65.7 1307.8 64.8 1310.1 63.8 1312.3 62.9 1314.5 61.9 1316.7 61 1318.9 60.1 1321.1 59.2 1323.4 58.2 1325.6 57.3 1327.8 56.4 1330 55.5 1332.2 54.6 1334.5 53.6 1336.7 52.7 1338.9 51.8 1338.9 51.8" fill="none" stroke="#f52e0c" stroke-width="3" stroke-linejoin="round" stroke-linecap="butt" />
<path d="M858.7 243.2L858.7 240.8 858.8 238.4 858.8 236 858.8 233.6 858.8 231.2 858.8 228.7 858.9 226.3 858.9 223.9 858.9 221.5 859 219.1 859 216.7 859.1 214.3 859.1 211.9 859.2 209.5 859.3 207.1 859.4 204.7 859.4 202.3 859.5 199.9 859.6 197.4 859.7 195 859.9 192.6 860 190.2 860.2 187.8 860.4 185.4 860.7 183 861.1 180.7 861.7 178.3 862.3 176 863.1 173.8 864.1 171.6 865.3 169.5 866.6 167.5 868 165.5 869.6 163.7 871.2 161.9 873 160.3 874.8 158.8 876.7 157.3 878.7 155.9 880.7 154.5 882.7 153.2 884.7 151.9 886.8 150.7 888.9 149.5 891 148.3 893.1 147.1 895.1 145.9 897.2 144.6 899.3 143.4 901.3 142.1 903.3 140.8 905.3 139.5 907.4 138.1 909.3 136.8 911.3 135.4 913.3 134 915.3 132.6 917.2 131.2 919.2 129.8 921.1 128.4 923 126.9 924.9 125.5 926.8 124 928.7 122.5 930.5 120.9 932.4 119.4 934.3 117.9 936.1 116.3 938 114.8 939.9 113.3 941.8 111.8 943.7 110.4 945.6 108.9 947.5 107.5 949.5 106 951.4 104.6 953.3 103.1 955.3 101.8 957.3 100.4 959.3 99.1 961.4 97.9 963.5 96.7 965.6 95.5 967.7 94.3 969.8 93.2 972 92.1 974.1 91 976.3 90 978.5 88.9 980.6 87.9 982.8 86.9 985 85.9 987.2 85 989.5 84.1 991.7 83.2 993.9 82.3 996.2 81.5 998.5 80.7 1000.8 80 1003.1 79.4 1005.4 78.8 1007.8 78.2 1010.1 77.6 1012.5 77.1 1014.8 76.5 1017.2 75.9 1019.5 75.4 1021.8 74.8 1024.1 74.1 1026.5 73.5 1028.8 72.8 1031.1 72 1033.4 71.3 1035.7 70.6 1037.9 69.8 1040.2 69 1042.5 68.3 1044.8 67.5 1047.1 66.7 1049.3 65.9 1051.6 65.2 1053.9 64.4 1056.2 63.6 1058.5 62.8 1060.7 62 1063 61.2 1065.3 60.4 1067.5 59.6 1069.8 58.8 1072.1 58 1074.3 57.2 1076.6 56.3 1078.9 55.5 1081.1 54.7 1083.4 53.9 1085.7 53.1 1087.9 52.3 1088.7 52" fill="none" stroke="#d21a06" stroke-width="3" stroke-linejoin="round" stroke-linecap="butt" />
<rect x="850.4" y="23" width="607.9" height="460.3" fill="none" stroke="#000" stroke-width="3"/>
<line x1="850.4" y1="469" x2="838.4" y2="469" stroke="#000" stroke-width="3" />
<line x1="850.4" y1="394.7" x2="838.4" y2="394.7" stroke="#000" stroke-width="3" />
<line x1="850.4" y1="320.3" x2="838.4" y2="320.3" stroke="#000" stroke-width="3" />
<line x1="850.4" y1="246" x2="838.4" y2="246" stroke="#000" stroke-width="3" />
<line x1="850.4" y1="171.7" x2="838.4" y2="171.7" stroke="#000" stroke-width="3" />
<line x1="850.4" y1="97.3" x2="838.4" y2="97.3" stroke="#000" stroke-width="3" />
<line x1="850.4" y1="23" x2="838.4" y2="23" stroke="#000" stroke-width="3" />
<line x1="850.4" y1="431.8" x2="844.4" y2="431.8" stroke="#000" stroke-width="3" />
<line x1="850.4" y1="357.5" x2="844.4" y2="357.5" stroke="#000" stroke-width="3" />
<line x1="850.4" y1="283.2" x2="844.4" y2="283.2" stroke="#000" stroke-width="3" />
<line x1="850.4" y1="208.8" x2="844.4" y2="208.8" stroke="#000" stroke-width="3" />
<line x1="850.4" y1="134.5" x2="844.4" y2="134.5" stroke="#000" stroke-width="3" />
<line x1="850.4" y1="60.2" x2="844.4" y2="60.2" stroke="#000" stroke-width="3" />
<line x1="858.7" y1="483.3" x2="858.7" y2="495.3" stroke="#000" stroke-width="3" />
<line x1="944.5" y1="483.3" x2="944.5" y2="495.3" stroke="#000" stroke-width="3" />
<line x1="1030.3" y1="483.3" x2="1030.3" y2="495.3" stroke="#000" stroke-width="3" />
<line x1="1116.1" y1="483.3" x2="1116.1" y2="495.3" stroke="#000" stroke-width="3" />
<line x1="1201.9" y1="483.3" x2="1201.9" y2="495.3" stroke="#000" stroke-width="3" />
<line x1="1287.7" y1="483.3" x2="1287.7" y2="495.3" stroke="#000" stroke-width="3" />
<line x1="1373.5" y1="483.3" x2="1373.5" y2="495.3" stroke="#000" stroke-width="3" />
<line x1="1459.3" y1="483.3" x2="1459.3" y2="495.3" stroke="#000" stroke-width="3" />
<line x1="901.6" y1="483.3" x2="901.6" y2="489.3" stroke="#000" stroke-width="3" />
<line x1="987.4" y1="483.3" x2="987.4" y2="489.3" stroke="#000" stroke-width="3" />
<line x1="1073.2" y1="483.3" x2="1073.2" y2="489.3" stroke="#000" stroke-width="3" />
<line x1="1159" y1="483.3" x2="1159" y2="489.3" stroke="#000" stroke-width="3" />
<line x1="1244.8" y1="483.3" x2="1244.8" y2="489.3" stroke="#000" stroke-width="3" />
<line x1="1330.6" y1="483.3" x2="1330.6" y2="489.3" stroke="#000" stroke-width="3" />
<line x1="1416.4" y1="483.3" x2="1416.4" y2="489.3" stroke="#000" stroke-width="3" />
<text x="829" y="477.5" font-size="29.16" text-anchor="end" textLength="37.5" lengthAdjust="spacingAndGlyphs" >2.0</text>
<text x="829" y="403.2" font-size="29.16" text-anchor="end" textLength="37.5" lengthAdjust="spacingAndGlyphs" >2.5</text>
<text x="829" y="328.8" font-size="29.16" text-anchor="end" textLength="37.5" lengthAdjust="spacingAndGlyphs" >3.0</text>
<text x="829" y="254.5" font-size="29.16" text-anchor="end" textLength="37.5" lengthAdjust="spacingAndGlyphs" >3.5</text>
<text x="829" y="180.2" font-size="29.16" text-anchor="end" textLength="37.5" lengthAdjust="spacingAndGlyphs" >4.0</text>
<text x="829" y="105.8" font-size="29.16" text-anchor="end" textLength="37.5" lengthAdjust="spacingAndGlyphs" >4.5</text>
<text x="829" y="31.5" font-size="29.16" text-anchor="end" textLength="37.5" lengthAdjust="spacingAndGlyphs" >5.0</text>
<text x="858.7" y="525.5" font-size="29.16" text-anchor="middle" textLength="15" lengthAdjust="spacingAndGlyphs" >0</text>
<text x="944.5" y="525.5" font-size="29.16" text-anchor="middle" textLength="30" lengthAdjust="spacingAndGlyphs" >50</text>
<text x="1030.3" y="525.5" font-size="29.16" text-anchor="middle" textLength="45" lengthAdjust="spacingAndGlyphs" >100</text>
<text x="1116.1" y="525.5" font-size="29.16" text-anchor="middle" textLength="45" lengthAdjust="spacingAndGlyphs" >150</text>
<text x="1201.9" y="525.5" font-size="29.16" text-anchor="middle" textLength="45" lengthAdjust="spacingAndGlyphs" >200</text>
<text x="1287.7" y="525.5" font-size="29.16" text-anchor="middle" textLength="45" lengthAdjust="spacingAndGlyphs" >250</text>
<text x="1373.5" y="525.5" font-size="29.16" text-anchor="middle" textLength="45" lengthAdjust="spacingAndGlyphs" >300</text>
<text x="1459.3" y="525.5" font-size="29.16" text-anchor="middle" textLength="45" lengthAdjust="spacingAndGlyphs" >350</text>
<text x="755.5" y="29" font-size="36.0" font-weight="bold" textLength="20.5" lengthAdjust="spacingAndGlyphs" >b</text>
<text transform="translate(1037 557) scale(0.94 1)" font-size="30">Capacity (mAh g<tspan font-size="18" dy="-12">-1</tspan><tspan dy="12">)</tspan></text>
<text x="776.5" y="321" font-size="31.0" transform="rotate(-90 776.5 321)" textLength="150.8" lengthAdjust="spacingAndGlyphs" >Voltage (V)</text>
<line x1="1296.5" y1="113.7" x2="1347.8" y2="113.7" stroke="#d21a06" stroke-width="3" stroke-linecap="round"/>
<text x="1355.1" y="121" font-size="23.76" textLength="67.2" lengthAdjust="spacingAndGlyphs" style="white-space:pre">1st CC</text>
<line x1="1296.5" y1="141.8" x2="1347.8" y2="141.8" stroke="#d8601c" stroke-width="3" stroke-linecap="round"/>
<text x="1355.1" y="149.1" font-size="23.76" textLength="67.2" lengthAdjust="spacingAndGlyphs" style="white-space:pre">1st DC</text>
<line x1="1296.5" y1="169.9" x2="1347.8" y2="169.9" stroke="#f52e0c" stroke-width="3" stroke-linecap="round"/>
<text x="1355.1" y="177.2" font-size="23.76" textLength="86.8" lengthAdjust="spacingAndGlyphs" style="white-space:pre">10th  CC</text>
<line x1="1296.5" y1="198" x2="1347.8" y2="198" stroke="#e28c5a" stroke-width="3" stroke-linecap="round"/>
<text x="1355.1" y="205.3" font-size="23.76" textLength="86.8" lengthAdjust="spacingAndGlyphs" style="white-space:pre">10th  DC</text>
<line x1="1296.5" y1="225.8" x2="1347.8" y2="225.8" stroke="#f9604a" stroke-width="3" stroke-linecap="round"/>
<text x="1355.1" y="233.1" font-size="23.76" textLength="86.8" lengthAdjust="spacingAndGlyphs" style="white-space:pre">50th  CC</text>
<line x1="1296.5" y1="253.7" x2="1347.8" y2="253.7" stroke="#efb08a" stroke-width="3" stroke-linecap="round"/>
<text x="1355.1" y="261" font-size="23.76" textLength="86.8" lengthAdjust="spacingAndGlyphs" style="white-space:pre">50th  DC</text>
<line x1="1296.5" y1="281.8" x2="1347.8" y2="281.8" stroke="#fa8878" stroke-width="3" stroke-linecap="round"/>
<text x="1355.1" y="289.1" font-size="23.76" textLength="99.1" lengthAdjust="spacingAndGlyphs" style="white-space:pre">100th  CC</text>
<line x1="1296.5" y1="309.6" x2="1347.8" y2="309.6" stroke="#f5c6a6" stroke-width="3" stroke-linecap="round"/>
<text x="1355.1" y="316.9" font-size="23.76" textLength="99.1" lengthAdjust="spacingAndGlyphs" style="white-space:pre">100th  DC</text>
<text x="878.7" y="464" font-size="29.16" textLength="42" lengthAdjust="spacingAndGlyphs" >C/2</text>
<defs><clipPath id="clc"><rect x="106" y="590.5" width="606.5" height="457.7"/></clipPath></defs>
<g clip-path="url(#clc)"><circle cx="108.8" cy="602.2" r="7" fill="#9896c8"/><circle cx="112.8" cy="689.8" r="7" fill="#9896c8"/><circle cx="116.9" cy="710.8" r="7" fill="#9896c8"/><circle cx="120.9" cy="713.1" r="7" fill="#9896c8"/><circle cx="125" cy="715.9" r="7" fill="#9896c8"/><circle cx="129.1" cy="718.1" r="7" fill="#9896c8"/><circle cx="133.1" cy="720.8" r="7" fill="#9896c8"/><circle cx="137.2" cy="723.2" r="7" fill="#9896c8"/><circle cx="141.2" cy="725.5" r="7" fill="#9896c8"/><circle cx="145.3" cy="727.8" r="7" fill="#9896c8"/><circle cx="149.4" cy="729.1" r="7" fill="#9896c8"/><circle cx="153.4" cy="731" r="7" fill="#9896c8"/><circle cx="157.5" cy="732.4" r="7" fill="#9896c8"/><circle cx="161.6" cy="734" r="7" fill="#9896c8"/><circle cx="165.6" cy="735.9" r="7" fill="#9896c8"/><circle cx="169.7" cy="737.7" r="7" fill="#9896c8"/><circle cx="173.7" cy="738.9" r="7" fill="#9896c8"/><circle cx="177.8" cy="740.6" r="7" fill="#9896c8"/><circle cx="181.9" cy="742.5" r="7" fill="#9896c8"/><circle cx="185.9" cy="744.2" r="7" fill="#9896c8"/><circle cx="190" cy="744.9" r="7" fill="#9896c8"/><circle cx="194" cy="745.7" r="7" fill="#9896c8"/><circle cx="198.1" cy="747" r="7" fill="#9896c8"/><circle cx="202.2" cy="747.3" r="7" fill="#9896c8"/><circle cx="206.2" cy="748.7" r="7" fill="#9896c8"/><circle cx="210.3" cy="749.3" r="7" fill="#9896c8"/><circle cx="214.3" cy="750.1" r="7" fill="#9896c8"/><circle cx="218.4" cy="751" r="7" fill="#9896c8"/><circle cx="222.5" cy="752" r="7" fill="#9896c8"/><circle cx="226.5" cy="753.3" r="7" fill="#9896c8"/><circle cx="230.6" cy="753.7" r="7" fill="#9896c8"/><circle cx="234.7" cy="754.6" r="7" fill="#9896c8"/><circle cx="238.7" cy="755.4" r="7" fill="#9896c8"/><circle cx="242.8" cy="755.9" r="7" fill="#9896c8"/><circle cx="246.8" cy="756.7" r="7" fill="#9896c8"/><circle cx="250.9" cy="757.2" r="7" fill="#9896c8"/><circle cx="255" cy="757.9" r="7" fill="#9896c8"/><circle cx="259" cy="758.7" r="7" fill="#9896c8"/><circle cx="263.1" cy="759.7" r="7" fill="#9896c8"/><circle cx="267.1" cy="760.2" r="7" fill="#9896c8"/><circle cx="271.2" cy="760.9" r="7" fill="#9896c8"/><circle cx="275.3" cy="761.6" r="7" fill="#9896c8"/><circle cx="279.3" cy="762.2" r="7" fill="#9896c8"/><circle cx="283.4" cy="762.7" r="7" fill="#9896c8"/><circle cx="287.4" cy="763.6" r="7" fill="#9896c8"/><circle cx="291.5" cy="764.1" r="7" fill="#9896c8"/><circle cx="295.6" cy="764.5" r="7" fill="#9896c8"/><circle cx="299.6" cy="765.3" r="7" fill="#9896c8"/><circle cx="303.7" cy="765.9" r="7" fill="#9896c8"/><circle cx="307.8" cy="766.7" r="7" fill="#9896c8"/><circle cx="311.8" cy="767.2" r="7" fill="#9896c8"/><circle cx="315.9" cy="767.6" r="7" fill="#9896c8"/><circle cx="319.9" cy="768.6" r="7" fill="#9896c8"/><circle cx="324" cy="768.7" r="7" fill="#9896c8"/><circle cx="328.1" cy="769.5" r="7" fill="#9896c8"/><circle cx="332.1" cy="770.3" r="7" fill="#9896c8"/><circle cx="336.2" cy="770.5" r="7" fill="#9896c8"/><circle cx="340.2" cy="771.3" r="7" fill="#9896c8"/><circle cx="344.3" cy="771.7" r="7" fill="#9896c8"/><circle cx="348.4" cy="772.7" r="7" fill="#9896c8"/><circle cx="352.4" cy="773.3" r="7" fill="#9896c8"/><circle cx="356.5" cy="773.8" r="7" fill="#9896c8"/><circle cx="360.5" cy="774.2" r="7" fill="#9896c8"/><circle cx="364.6" cy="774" r="7" fill="#9896c8"/><circle cx="368.7" cy="774.5" r="7" fill="#9896c8"/><circle cx="372.7" cy="774.6" r="7" fill="#9896c8"/><circle cx="376.8" cy="774.8" r="7" fill="#9896c8"/><circle cx="380.8" cy="774.9" r="7" fill="#9896c8"/><circle cx="384.9" cy="775.3" r="7" fill="#9896c8"/><circle cx="389" cy="775.6" r="7" fill="#9896c8"/><circle cx="393" cy="775.5" r="7" fill="#9896c8"/><circle cx="397.1" cy="775.9" r="7" fill="#9896c8"/><circle cx="401.2" cy="775.9" r="7" fill="#9896c8"/><circle cx="405.2" cy="777" r="7" fill="#9896c8"/><circle cx="409.3" cy="777.8" r="7" fill="#9896c8"/><circle cx="413.3" cy="778.8" r="7" fill="#9896c8"/><circle cx="417.4" cy="779.4" r="7" fill="#9896c8"/><circle cx="421.5" cy="779.9" r="7" fill="#9896c8"/><circle cx="425.5" cy="780.7" r="7" fill="#9896c8"/><circle cx="429.6" cy="781.7" r="7" fill="#9896c8"/><circle cx="433.6" cy="782.1" r="7" fill="#9896c8"/><circle cx="437.7" cy="783.1" r="7" fill="#9896c8"/><circle cx="441.8" cy="783.7" r="7" fill="#9896c8"/><circle cx="445.8" cy="784.5" r="7" fill="#9896c8"/><circle cx="449.9" cy="785.2" r="7" fill="#9896c8"/><circle cx="453.9" cy="786.4" r="7" fill="#9896c8"/><circle cx="458" cy="786.8" r="7" fill="#9896c8"/><circle cx="462.1" cy="787.7" r="7" fill="#9896c8"/><circle cx="466.1" cy="788.7" r="7" fill="#9896c8"/><circle cx="470.2" cy="789.8" r="7" fill="#9896c8"/><circle cx="474.3" cy="790.2" r="7" fill="#9896c8"/><circle cx="478.3" cy="791.3" r="7" fill="#9896c8"/><circle cx="482.4" cy="792.2" r="7" fill="#9896c8"/><circle cx="486.4" cy="793.3" r="7" fill="#9896c8"/><circle cx="490.5" cy="794.1" r="7" fill="#9896c8"/><circle cx="494.6" cy="795" r="7" fill="#9896c8"/><circle cx="498.6" cy="795.6" r="7" fill="#9896c8"/><circle cx="502.7" cy="796.5" r="7" fill="#9896c8"/><circle cx="506.7" cy="797.4" r="7" fill="#9896c8"/><circle cx="510.8" cy="798.5" r="7" fill="#9896c8"/><circle cx="514.9" cy="799.5" r="7" fill="#9896c8"/><circle cx="518.9" cy="799.8" r="7" fill="#9896c8"/><circle cx="523" cy="800.7" r="7" fill="#9896c8"/><circle cx="527" cy="801.6" r="7" fill="#9896c8"/><circle cx="531.1" cy="802.7" r="7" fill="#9896c8"/><circle cx="535.2" cy="804.1" r="7" fill="#9896c8"/><circle cx="539.2" cy="805.3" r="7" fill="#9896c8"/><circle cx="543.3" cy="806.3" r="7" fill="#9896c8"/><circle cx="547.3" cy="807.4" r="7" fill="#9896c8"/><circle cx="551.4" cy="808.8" r="7" fill="#9896c8"/><circle cx="555.5" cy="809.9" r="7" fill="#9896c8"/><circle cx="559.5" cy="811.3" r="7" fill="#9896c8"/><circle cx="563.6" cy="812.7" r="7" fill="#9896c8"/><circle cx="567.7" cy="813.7" r="7" fill="#9896c8"/><circle cx="571.7" cy="814.8" r="7" fill="#9896c8"/><circle cx="575.8" cy="816" r="7" fill="#9896c8"/><circle cx="579.8" cy="817.3" r="7" fill="#9896c8"/><circle cx="583.9" cy="818.1" r="7" fill="#9896c8"/><circle cx="588" cy="819.8" r="7" fill="#9896c8"/><circle cx="592" cy="820.9" r="7" fill="#9896c8"/><circle cx="596.1" cy="821.9" r="7" fill="#9896c8"/><circle cx="600.1" cy="822.8" r="7" fill="#9896c8"/><circle cx="604.2" cy="823.6" r="7" fill="#9896c8"/><circle cx="608.3" cy="824.5" r="7" fill="#9896c8"/><circle cx="612.3" cy="825.3" r="7" fill="#9896c8"/><circle cx="616.4" cy="826.6" r="7" fill="#9896c8"/><circle cx="620.4" cy="827.2" r="7" fill="#9896c8"/><circle cx="624.5" cy="828.2" r="7" fill="#9896c8"/><circle cx="628.6" cy="829.3" r="7" fill="#9896c8"/><circle cx="632.6" cy="830.2" r="7" fill="#9896c8"/><circle cx="636.7" cy="831.2" r="7" fill="#9896c8"/><circle cx="640.8" cy="831.8" r="7" fill="#9896c8"/><circle cx="644.8" cy="832.5" r="7" fill="#9896c8"/><circle cx="648.9" cy="833.4" r="7" fill="#9896c8"/><circle cx="652.9" cy="834.1" r="7" fill="#9896c8"/><circle cx="657" cy="835" r="7" fill="#9896c8"/><circle cx="661.1" cy="835.6" r="7" fill="#9896c8"/><circle cx="665.1" cy="836.9" r="7" fill="#9896c8"/><circle cx="669.2" cy="837.5" r="7" fill="#9896c8"/><circle cx="673.2" cy="838" r="7" fill="#9896c8"/><circle cx="677.3" cy="838.8" r="7" fill="#9896c8"/><circle cx="681.4" cy="839.6" r="7" fill="#9896c8"/><circle cx="685.4" cy="840.4" r="7" fill="#9896c8"/><circle cx="689.5" cy="841" r="7" fill="#9896c8"/><circle cx="693.5" cy="842.2" r="7" fill="#9896c8"/><circle cx="697.6" cy="843.1" r="7" fill="#9896c8"/><circle cx="701.7" cy="843.5" r="7" fill="#9896c8"/><circle cx="705.7" cy="844.3" r="7" fill="#9896c8"/><circle cx="709.8" cy="844.8" r="7" fill="#9896c8"/><circle cx="713.9" cy="845.6" r="7" fill="#9896c8"/><circle cx="571.7" cy="811.4" r="7" fill="#9896c8"/><circle cx="600.1" cy="818.2" r="7" fill="#9896c8"/><circle cx="640.8" cy="829.6" r="7" fill="#9896c8"/><circle cx="661.1" cy="833.5" r="7" fill="#9896c8"/><circle cx="693.5" cy="840.6" r="7" fill="#9896c8"/><circle cx="108.8" cy="668" r="7" fill="#8dc6bb"/><circle cx="112.8" cy="711" r="7" fill="#8dc6bb"/><circle cx="116.9" cy="713.3" r="7" fill="#8dc6bb"/><circle cx="120.9" cy="716.2" r="7" fill="#8dc6bb"/><circle cx="125" cy="718.2" r="7" fill="#8dc6bb"/><circle cx="129.1" cy="720.6" r="7" fill="#8dc6bb"/><circle cx="133.1" cy="723.8" r="7" fill="#8dc6bb"/><circle cx="137.2" cy="725.9" r="7" fill="#8dc6bb"/><circle cx="141.2" cy="728.1" r="7" fill="#8dc6bb"/><circle cx="145.3" cy="730.4" r="7" fill="#8dc6bb"/><circle cx="149.4" cy="731.6" r="7" fill="#8dc6bb"/><circle cx="153.4" cy="733.6" r="7" fill="#8dc6bb"/><circle cx="157.5" cy="735.6" r="7" fill="#8dc6bb"/><circle cx="161.6" cy="737.2" r="7" fill="#8dc6bb"/><circle cx="165.6" cy="738.7" r="7" fill="#8dc6bb"/><circle cx="169.7" cy="739.9" r="7" fill="#8dc6bb"/><circle cx="173.7" cy="741.7" r="7" fill="#8dc6bb"/><circle cx="177.8" cy="743.1" r="7" fill="#8dc6bb"/><circle cx="181.9" cy="745.2" r="7" fill="#8dc6bb"/><circle cx="185.9" cy="746.6" r="7" fill="#8dc6bb"/><circle cx="190" cy="747.7" r="7" fill="#8dc6bb"/><circle cx="194" cy="748.2" r="7" fill="#8dc6bb"/><circle cx="198.1" cy="749.1" r="7" fill="#8dc6bb"/><circle cx="202.2" cy="750.4" r="7" fill="#8dc6bb"/><circle cx="206.2" cy="751.5" r="7" fill="#8dc6bb"/><circle cx="210.3" cy="752.3" r="7" fill="#8dc6bb"/><circle cx="214.3" cy="753.2" r="7" fill="#8dc6bb"/><circle cx="218.4" cy="754.1" r="7" fill="#8dc6bb"/><circle cx="222.5" cy="754.9" r="7" fill="#8dc6bb"/><circle cx="226.5" cy="755.5" r="7" fill="#8dc6bb"/><circle cx="230.6" cy="756.5" r="7" fill="#8dc6bb"/><circle cx="234.7" cy="757.1" r="7" fill="#8dc6bb"/><circle cx="238.7" cy="757.5" r="7" fill="#8dc6bb"/><circle cx="242.8" cy="758.2" r="7" fill="#8dc6bb"/><circle cx="246.8" cy="759.1" r="7" fill="#8dc6bb"/><circle cx="250.9" cy="759.8" r="7" fill="#8dc6bb"/><circle cx="255" cy="760.9" r="7" fill="#8dc6bb"/><circle cx="259" cy="761.8" r="7" fill="#8dc6bb"/><circle cx="263.1" cy="762.1" r="7" fill="#8dc6bb"/><circle cx="267.1" cy="763.2" r="7" fill="#8dc6bb"/><circle cx="271.2" cy="764" r="7" fill="#8dc6bb"/><circle cx="275.3" cy="764.5" r="7" fill="#8dc6bb"/><circle cx="279.3" cy="764.7" r="7" fill="#8dc6bb"/><circle cx="283.4" cy="765.2" r="7" fill="#8dc6bb"/><circle cx="287.4" cy="765.8" r="7" fill="#8dc6bb"/><circle cx="291.5" cy="766.4" r="7" fill="#8dc6bb"/><circle cx="295.6" cy="767" r="7" fill="#8dc6bb"/><circle cx="299.6" cy="767.9" r="7" fill="#8dc6bb"/><circle cx="303.7" cy="768.8" r="7" fill="#8dc6bb"/><circle cx="307.8" cy="769.3" r="7" fill="#8dc6bb"/><circle cx="311.8" cy="769.7" r="7" fill="#8dc6bb"/><circle cx="315.9" cy="770.4" r="7" fill="#8dc6bb"/><circle cx="319.9" cy="771.1" r="7" fill="#8dc6bb"/><circle cx="324" cy="771.2" r="7" fill="#8dc6bb"/><circle cx="328.1" cy="772.2" r="7" fill="#8dc6bb"/><circle cx="332.1" cy="773" r="7" fill="#8dc6bb"/><circle cx="336.2" cy="773.6" r="7" fill="#8dc6bb"/><circle cx="340.2" cy="774.1" r="7" fill="#8dc6bb"/><circle cx="344.3" cy="774.5" r="7" fill="#8dc6bb"/><circle cx="348.4" cy="774.9" r="7" fill="#8dc6bb"/><circle cx="352.4" cy="776" r="7" fill="#8dc6bb"/><circle cx="356.5" cy="776.2" r="7" fill="#8dc6bb"/><circle cx="360.5" cy="776.8" r="7" fill="#8dc6bb"/><circle cx="364.6" cy="777.1" r="7" fill="#8dc6bb"/><circle cx="368.7" cy="776.8" r="7" fill="#8dc6bb"/><circle cx="372.7" cy="777.1" r="7" fill="#8dc6bb"/><circle cx="376.8" cy="777.7" r="7" fill="#8dc6bb"/><circle cx="380.8" cy="777.7" r="7" fill="#8dc6bb"/><circle cx="384.9" cy="777.5" r="7" fill="#8dc6bb"/><circle cx="389" cy="777.7" r="7" fill="#8dc6bb"/><circle cx="393" cy="777.9" r="7" fill="#8dc6bb"/><circle cx="397.1" cy="778.7" r="7" fill="#8dc6bb"/><circle cx="401.2" cy="779" r="7" fill="#8dc6bb"/><circle cx="405.2" cy="779.2" r="7" fill="#8dc6bb"/><circle cx="409.3" cy="780.5" r="7" fill="#8dc6bb"/><circle cx="413.3" cy="781.4" r="7" fill="#8dc6bb"/><circle cx="417.4" cy="782" r="7" fill="#8dc6bb"/><circle cx="421.5" cy="782.5" r="7" fill="#8dc6bb"/><circle cx="425.5" cy="783.4" r="7" fill="#8dc6bb"/><circle cx="429.6" cy="783.9" r="7" fill="#8dc6bb"/><circle cx="433.6" cy="784.6" r="7" fill="#8dc6bb"/><circle cx="437.7" cy="786.1" r="7" fill="#8dc6bb"/><circle cx="441.8" cy="786.6" r="7" fill="#8dc6bb"/><circle cx="445.8" cy="787.3" r="7" fill="#8dc6bb"/><circle cx="449.9" cy="788.4" r="7" fill="#8dc6bb"/><circle cx="453.9" cy="788.8" r="7" fill="#8dc6bb"/><circle cx="458" cy="789.9" r="7" fill="#8dc6bb"/><circle cx="462.1" cy="790.7" r="7" fill="#8dc6bb"/><circle cx="466.1" cy="791.1" r="7" fill="#8dc6bb"/><circle cx="470.2" cy="792" r="7" fill="#8dc6bb"/><circle cx="474.3" cy="792.9" r="7" fill="#8dc6bb"/><circle cx="478.3" cy="793.7" r="7" fill="#8dc6bb"/><circle cx="482.4" cy="794.9" r="7" fill="#8dc6bb"/><circle cx="486.4" cy="795.5" r="7" fill="#8dc6bb"/><circle cx="490.5" cy="796.5" r="7" fill="#8dc6bb"/><circle cx="494.6" cy="797.1" r="7" fill="#8dc6bb"/><circle cx="498.6" cy="798.6" r="7" fill="#8dc6bb"/><circle cx="502.7" cy="799" r="7" fill="#8dc6bb"/><circle cx="506.7" cy="800" r="7" fill="#8dc6bb"/><circle cx="510.8" cy="801" r="7" fill="#8dc6bb"/><circle cx="514.9" cy="802.1" r="7" fill="#8dc6bb"/><circle cx="518.9" cy="802.6" r="7" fill="#8dc6bb"/><circle cx="523" cy="803.9" r="7" fill="#8dc6bb"/><circle cx="527" cy="804.4" r="7" fill="#8dc6bb"/><circle cx="531.1" cy="805.5" r="7" fill="#8dc6bb"/><circle cx="535.2" cy="806.7" r="7" fill="#8dc6bb"/><circle cx="539.2" cy="807.5" r="7" fill="#8dc6bb"/><circle cx="543.3" cy="809" r="7" fill="#8dc6bb"/><circle cx="547.3" cy="810" r="7" fill="#8dc6bb"/><circle cx="551.4" cy="811" r="7" fill="#8dc6bb"/><circle cx="555.5" cy="812.9" r="7" fill="#8dc6bb"/><circle cx="559.5" cy="813.6" r="7" fill="#8dc6bb"/><circle cx="563.6" cy="815" r="7" fill="#8dc6bb"/><circle cx="567.7" cy="816.4" r="7" fill="#8dc6bb"/><circle cx="571.7" cy="817.4" r="7" fill="#8dc6bb"/><circle cx="575.8" cy="818.4" r="7" fill="#8dc6bb"/><circle cx="579.8" cy="819.8" r="7" fill="#8dc6bb"/><circle cx="583.9" cy="821" r="7" fill="#8dc6bb"/><circle cx="588" cy="822.3" r="7" fill="#8dc6bb"/><circle cx="592" cy="823" r="7" fill="#8dc6bb"/><circle cx="596.1" cy="824.3" r="7" fill="#8dc6bb"/><circle cx="600.1" cy="825" r="7" fill="#8dc6bb"/><circle cx="604.2" cy="826" r="7" fill="#8dc6bb"/><circle cx="608.3" cy="827.4" r="7" fill="#8dc6bb"/><circle cx="612.3" cy="828.2" r="7" fill="#8dc6bb"/><circle cx="616.4" cy="829.2" r="7" fill="#8dc6bb"/><circle cx="620.4" cy="830.3" r="7" fill="#8dc6bb"/><circle cx="624.5" cy="831.4" r="7" fill="#8dc6bb"/><circle cx="628.6" cy="832" r="7" fill="#8dc6bb"/><circle cx="632.6" cy="833.1" r="7" fill="#8dc6bb"/><circle cx="636.7" cy="833.9" r="7" fill="#8dc6bb"/><circle cx="640.8" cy="834.7" r="7" fill="#8dc6bb"/><circle cx="644.8" cy="835.6" r="7" fill="#8dc6bb"/><circle cx="648.9" cy="836.1" r="7" fill="#8dc6bb"/><circle cx="652.9" cy="837" r="7" fill="#8dc6bb"/><circle cx="657" cy="837.7" r="7" fill="#8dc6bb"/><circle cx="661.1" cy="838.8" r="7" fill="#8dc6bb"/><circle cx="665.1" cy="839.4" r="7" fill="#8dc6bb"/><circle cx="669.2" cy="840.3" r="7" fill="#8dc6bb"/><circle cx="673.2" cy="841.1" r="7" fill="#8dc6bb"/><circle cx="677.3" cy="841.4" r="7" fill="#8dc6bb"/><circle cx="681.4" cy="842.4" r="7" fill="#8dc6bb"/><circle cx="685.4" cy="843.4" r="7" fill="#8dc6bb"/><circle cx="689.5" cy="844.1" r="7" fill="#8dc6bb"/><circle cx="693.5" cy="844.3" r="7" fill="#8dc6bb"/><circle cx="697.6" cy="845.1" r="7" fill="#8dc6bb"/><circle cx="701.7" cy="846.1" r="7" fill="#8dc6bb"/><circle cx="705.7" cy="846.6" r="7" fill="#8dc6bb"/><circle cx="709.8" cy="847.5" r="7" fill="#8dc6bb"/><circle cx="713.9" cy="848.1" r="7" fill="#8dc6bb"/><circle cx="311.8" cy="873.3" r="7" fill="#f5553a"/><circle cx="315.9" cy="679.2" r="7" fill="#f5553a"/><circle cx="319.9" cy="687.9" r="7" fill="#f5553a"/><circle cx="324" cy="688" r="7" fill="#f5553a"/><circle cx="328.1" cy="688.1" r="7" fill="#f5553a"/><circle cx="332.1" cy="687.7" r="7" fill="#f5553a"/><circle cx="336.2" cy="688.1" r="7" fill="#f5553a"/><circle cx="340.2" cy="688" r="7" fill="#f5553a"/><circle cx="344.3" cy="687.8" r="7" fill="#f5553a"/><circle cx="348.4" cy="688.2" r="7" fill="#f5553a"/><circle cx="352.4" cy="688.3" r="7" fill="#f5553a"/><circle cx="356.5" cy="687.9" r="7" fill="#f5553a"/><circle cx="360.5" cy="688.3" r="7" fill="#f5553a"/><circle cx="364.6" cy="688" r="7" fill="#f5553a"/><circle cx="368.7" cy="688.1" r="7" fill="#f5553a"/><circle cx="372.7" cy="688.4" r="7" fill="#f5553a"/><circle cx="376.8" cy="688.4" r="7" fill="#f5553a"/><circle cx="380.8" cy="688" r="7" fill="#f5553a"/><circle cx="384.9" cy="688.2" r="7" fill="#f5553a"/><circle cx="389" cy="688.2" r="7" fill="#f5553a"/><circle cx="393" cy="688.2" r="7" fill="#f5553a"/><circle cx="397.1" cy="688.1" r="7" fill="#f5553a"/><circle cx="401.2" cy="688.2" r="7" fill="#f5553a"/><circle cx="405.2" cy="688.3" r="7" fill="#f5553a"/><circle cx="409.3" cy="687.8" r="7" fill="#f5553a"/><circle cx="413.3" cy="688.1" r="7" fill="#f5553a"/><circle cx="417.4" cy="687.9" r="7" fill="#f5553a"/><circle cx="421.5" cy="687.6" r="7" fill="#f5553a"/><circle cx="425.5" cy="687.7" r="7" fill="#f5553a"/><circle cx="429.6" cy="687.8" r="7" fill="#f5553a"/><circle cx="433.6" cy="687.6" r="7" fill="#f5553a"/><circle cx="437.7" cy="687.3" r="7" fill="#f5553a"/><circle cx="441.8" cy="687.7" r="7" fill="#f5553a"/><circle cx="445.8" cy="687.5" r="7" fill="#f5553a"/><circle cx="449.9" cy="687.5" r="7" fill="#f5553a"/><circle cx="453.9" cy="686.9" r="7" fill="#f5553a"/><circle cx="458" cy="687" r="7" fill="#f5553a"/><circle cx="462.1" cy="686.7" r="7" fill="#f5553a"/><circle cx="466.1" cy="687.1" r="7" fill="#f5553a"/><circle cx="470.2" cy="686.7" r="7" fill="#f5553a"/><circle cx="474.3" cy="686.5" r="7" fill="#f5553a"/><circle cx="478.3" cy="686.6" r="7" fill="#f5553a"/><circle cx="482.4" cy="686.8" r="7" fill="#f5553a"/><circle cx="486.4" cy="686.7" r="7" fill="#f5553a"/><circle cx="490.5" cy="686.3" r="7" fill="#f5553a"/><circle cx="494.6" cy="686.1" r="7" fill="#f5553a"/><circle cx="498.6" cy="686.5" r="7" fill="#f5553a"/><circle cx="502.7" cy="686.2" r="7" fill="#f5553a"/><circle cx="506.7" cy="686.2" r="7" fill="#f5553a"/><circle cx="510.8" cy="685.7" r="7" fill="#f5553a"/><circle cx="514.9" cy="685.6" r="7" fill="#f5553a"/><circle cx="518.9" cy="685.9" r="7" fill="#f5553a"/><circle cx="523" cy="685.7" r="7" fill="#f5553a"/><circle cx="527" cy="685.4" r="7" fill="#f5553a"/><circle cx="531.1" cy="685.8" r="7" fill="#f5553a"/><circle cx="535.2" cy="685.6" r="7" fill="#f5553a"/><circle cx="539.2" cy="685.6" r="7" fill="#f5553a"/><circle cx="543.3" cy="685.1" r="7" fill="#f5553a"/><circle cx="547.3" cy="685.4" r="7" fill="#f5553a"/><circle cx="551.4" cy="685" r="7" fill="#f5553a"/><circle cx="555.5" cy="685.6" r="7" fill="#f5553a"/><circle cx="559.5" cy="685.4" r="7" fill="#f5553a"/><circle cx="563.6" cy="685.4" r="7" fill="#f5553a"/><circle cx="567.7" cy="685.7" r="7" fill="#f5553a"/><circle cx="571.7" cy="686" r="7" fill="#f5553a"/><circle cx="575.8" cy="685.7" r="7" fill="#f5553a"/><circle cx="579.8" cy="685.7" r="7" fill="#f5553a"/><circle cx="583.9" cy="686" r="7" fill="#f5553a"/><circle cx="588" cy="685.9" r="7" fill="#f5553a"/><circle cx="592" cy="686" r="7" fill="#f5553a"/><circle cx="596.1" cy="686.1" r="7" fill="#f5553a"/><circle cx="600.1" cy="686.1" r="7" fill="#f5553a"/><circle cx="604.2" cy="686.3" r="7" fill="#f5553a"/><circle cx="608.3" cy="686.5" r="7" fill="#f5553a"/><circle cx="612.3" cy="686.5" r="7" fill="#f5553a"/><circle cx="616.4" cy="686.9" r="7" fill="#f5553a"/><circle cx="620.4" cy="686.7" r="7" fill="#f5553a"/><circle cx="624.5" cy="686.9" r="7" fill="#f5553a"/><circle cx="628.6" cy="686.8" r="7" fill="#f5553a"/><circle cx="632.6" cy="687" r="7" fill="#f5553a"/><circle cx="636.7" cy="686.9" r="7" fill="#f5553a"/><circle cx="640.8" cy="687.2" r="7" fill="#f5553a"/><circle cx="644.8" cy="687.2" r="7" fill="#f5553a"/><circle cx="648.9" cy="687.8" r="7" fill="#f5553a"/><circle cx="652.9" cy="687.9" r="7" fill="#f5553a"/><circle cx="657" cy="687.9" r="7" fill="#f5553a"/><circle cx="661.1" cy="688.2" r="7" fill="#f5553a"/><circle cx="665.1" cy="688.7" r="7" fill="#f5553a"/><circle cx="669.2" cy="688.3" r="7" fill="#f5553a"/><circle cx="673.2" cy="688.9" r="7" fill="#f5553a"/><circle cx="677.3" cy="688.9" r="7" fill="#f5553a"/><circle cx="681.4" cy="689.1" r="7" fill="#f5553a"/><circle cx="685.4" cy="689.5" r="7" fill="#f5553a"/><circle cx="689.5" cy="689.4" r="7" fill="#f5553a"/><circle cx="693.5" cy="689.6" r="7" fill="#f5553a"/><circle cx="697.6" cy="689.9" r="7" fill="#f5553a"/><circle cx="701.7" cy="690.3" r="7" fill="#f5553a"/><circle cx="705.7" cy="690.1" r="7" fill="#f5553a"/><circle cx="709.8" cy="690.5" r="7" fill="#f5553a"/><circle cx="713.9" cy="690.6" r="7" fill="#f5553a"/><circle cx="311.8" cy="697.3" r="7" fill="#e49a6a"/><circle cx="315.9" cy="691.1" r="7" fill="#e49a6a"/><circle cx="319.9" cy="690.9" r="7" fill="#e49a6a"/><circle cx="324" cy="690.9" r="7" fill="#e49a6a"/><circle cx="328.1" cy="690.6" r="7" fill="#e49a6a"/><circle cx="332.1" cy="690.7" r="7" fill="#e49a6a"/><circle cx="336.2" cy="690.7" r="7" fill="#e49a6a"/><circle cx="340.2" cy="691.4" r="7" fill="#e49a6a"/><circle cx="344.3" cy="690.9" r="7" fill="#e49a6a"/><circle cx="348.4" cy="690.9" r="7" fill="#e49a6a"/><circle cx="352.4" cy="690.8" r="7" fill="#e49a6a"/><circle cx="356.5" cy="691.6" r="7" fill="#e49a6a"/><circle cx="360.5" cy="691.6" r="7" fill="#e49a6a"/><circle cx="364.6" cy="691.5" r="7" fill="#e49a6a"/><circle cx="368.7" cy="691.1" r="7" fill="#e49a6a"/><circle cx="372.7" cy="691.1" r="7" fill="#e49a6a"/><circle cx="376.8" cy="691.2" r="7" fill="#e49a6a"/><circle cx="380.8" cy="691.3" r="7" fill="#e49a6a"/><circle cx="384.9" cy="691.1" r="7" fill="#e49a6a"/><circle cx="389" cy="691.4" r="7" fill="#e49a6a"/><circle cx="393" cy="691.2" r="7" fill="#e49a6a"/><circle cx="397.1" cy="691.9" r="7" fill="#e49a6a"/><circle cx="401.2" cy="691.9" r="7" fill="#e49a6a"/><circle cx="405.2" cy="691.4" r="7" fill="#e49a6a"/><circle cx="409.3" cy="691.1" r="7" fill="#e49a6a"/><circle cx="413.3" cy="691.7" r="7" fill="#e49a6a"/><circle cx="417.4" cy="690.9" r="7" fill="#e49a6a"/><circle cx="421.5" cy="690.9" r="7" fill="#e49a6a"/><circle cx="425.5" cy="690.5" r="7" fill="#e49a6a"/><circle cx="429.6" cy="690.8" r="7" fill="#e49a6a"/><circle cx="433.6" cy="690.8" r="7" fill="#e49a6a"/><circle cx="437.7" cy="690.7" r="7" fill="#e49a6a"/><circle cx="441.8" cy="690.3" r="7" fill="#e49a6a"/><circle cx="445.8" cy="690.6" r="7" fill="#e49a6a"/><circle cx="449.9" cy="690" r="7" fill="#e49a6a"/><circle cx="453.9" cy="690.1" r="7" fill="#e49a6a"/><circle cx="458" cy="689.9" r="7" fill="#e49a6a"/><circle cx="462.1" cy="690.1" r="7" fill="#e49a6a"/><circle cx="466.1" cy="689.7" r="7" fill="#e49a6a"/><circle cx="470.2" cy="689.6" r="7" fill="#e49a6a"/><circle cx="474.3" cy="689.8" r="7" fill="#e49a6a"/><circle cx="478.3" cy="689.6" r="7" fill="#e49a6a"/><circle cx="482.4" cy="689.9" r="7" fill="#e49a6a"/><circle cx="486.4" cy="689.7" r="7" fill="#e49a6a"/><circle cx="490.5" cy="689.9" r="7" fill="#e49a6a"/><circle cx="494.6" cy="689.7" r="7" fill="#e49a6a"/><circle cx="498.6" cy="689.7" r="7" fill="#e49a6a"/><circle cx="502.7" cy="689.7" r="7" fill="#e49a6a"/><circle cx="506.7" cy="689.2" r="7" fill="#e49a6a"/><circle cx="510.8" cy="689" r="7" fill="#e49a6a"/><circle cx="514.9" cy="689.6" r="7" fill="#e49a6a"/><circle cx="518.9" cy="688.7" r="7" fill="#e49a6a"/><circle cx="523" cy="689.2" r="7" fill="#e49a6a"/><circle cx="527" cy="689" r="7" fill="#e49a6a"/><circle cx="531.1" cy="688.3" r="7" fill="#e49a6a"/><circle cx="535.2" cy="689" r="7" fill="#e49a6a"/><circle cx="539.2" cy="689" r="7" fill="#e49a6a"/><circle cx="543.3" cy="688.6" r="7" fill="#e49a6a"/><circle cx="547.3" cy="688.7" r="7" fill="#e49a6a"/><circle cx="551.4" cy="688.8" r="7" fill="#e49a6a"/><circle cx="555.5" cy="688.2" r="7" fill="#e49a6a"/><circle cx="559.5" cy="688.7" r="7" fill="#e49a6a"/><circle cx="563.6" cy="688.7" r="7" fill="#e49a6a"/><circle cx="567.7" cy="689.2" r="7" fill="#e49a6a"/><circle cx="571.7" cy="689.2" r="7" fill="#e49a6a"/><circle cx="575.8" cy="689.3" r="7" fill="#e49a6a"/><circle cx="579.8" cy="689.2" r="7" fill="#e49a6a"/><circle cx="583.9" cy="689.6" r="7" fill="#e49a6a"/><circle cx="588" cy="689.5" r="7" fill="#e49a6a"/><circle cx="592" cy="689.6" r="7" fill="#e49a6a"/><circle cx="596.1" cy="689.2" r="7" fill="#e49a6a"/><circle cx="600.1" cy="689.1" r="7" fill="#e49a6a"/><circle cx="604.2" cy="689.3" r="7" fill="#e49a6a"/><circle cx="608.3" cy="689.6" r="7" fill="#e49a6a"/><circle cx="612.3" cy="689.5" r="7" fill="#e49a6a"/><circle cx="616.4" cy="690.3" r="7" fill="#e49a6a"/><circle cx="620.4" cy="690.1" r="7" fill="#e49a6a"/><circle cx="624.5" cy="690.3" r="7" fill="#e49a6a"/><circle cx="628.6" cy="690.4" r="7" fill="#e49a6a"/><circle cx="632.6" cy="690.5" r="7" fill="#e49a6a"/><circle cx="636.7" cy="690.4" r="7" fill="#e49a6a"/><circle cx="640.8" cy="690" r="7" fill="#e49a6a"/><circle cx="644.8" cy="691" r="7" fill="#e49a6a"/><circle cx="648.9" cy="691.1" r="7" fill="#e49a6a"/><circle cx="652.9" cy="691.1" r="7" fill="#e49a6a"/><circle cx="657" cy="691.3" r="7" fill="#e49a6a"/><circle cx="661.1" cy="691.6" r="7" fill="#e49a6a"/><circle cx="665.1" cy="691.2" r="7" fill="#e49a6a"/><circle cx="669.2" cy="692" r="7" fill="#e49a6a"/><circle cx="673.2" cy="691.7" r="7" fill="#e49a6a"/><circle cx="677.3" cy="691.7" r="7" fill="#e49a6a"/><circle cx="681.4" cy="692.1" r="7" fill="#e49a6a"/><circle cx="685.4" cy="692.7" r="7" fill="#e49a6a"/><circle cx="689.5" cy="692.4" r="7" fill="#e49a6a"/><circle cx="693.5" cy="693.1" r="7" fill="#e49a6a"/><circle cx="697.6" cy="693.5" r="7" fill="#e49a6a"/><circle cx="701.7" cy="693.2" r="7" fill="#e49a6a"/><circle cx="705.7" cy="693.2" r="7" fill="#e49a6a"/><circle cx="709.8" cy="693.5" r="7" fill="#e49a6a"/><circle cx="713.9" cy="693.9" r="7" fill="#e49a6a"/></g>
<rect x="104.7" y="589" width="609.2" height="460.7" fill="none" stroke="#000" stroke-width="3"/>
<line x1="104.7" y1="1049.7" x2="92.7" y2="1049.7" stroke="#000" stroke-width="3" />
<line x1="104.7" y1="983.9" x2="92.7" y2="983.9" stroke="#000" stroke-width="3" />
<line x1="104.7" y1="918.1" x2="92.7" y2="918.1" stroke="#000" stroke-width="3" />
<line x1="104.7" y1="852.3" x2="92.7" y2="852.3" stroke="#000" stroke-width="3" />
<line x1="104.7" y1="786.4" x2="92.7" y2="786.4" stroke="#000" stroke-width="3" />
<line x1="104.7" y1="720.6" x2="92.7" y2="720.6" stroke="#000" stroke-width="3" />
<line x1="104.7" y1="654.8" x2="92.7" y2="654.8" stroke="#000" stroke-width="3" />
<line x1="104.7" y1="589" x2="92.7" y2="589" stroke="#000" stroke-width="3" />
<line x1="104.7" y1="1016.8" x2="98.7" y2="1016.8" stroke="#000" stroke-width="3" />
<line x1="104.7" y1="951" x2="98.7" y2="951" stroke="#000" stroke-width="3" />
<line x1="104.7" y1="885.2" x2="98.7" y2="885.2" stroke="#000" stroke-width="3" />
<line x1="104.7" y1="819.3" x2="98.7" y2="819.3" stroke="#000" stroke-width="3" />
<line x1="104.7" y1="753.5" x2="98.7" y2="753.5" stroke="#000" stroke-width="3" />
<line x1="104.7" y1="687.7" x2="98.7" y2="687.7" stroke="#000" stroke-width="3" />
<line x1="104.7" y1="621.9" x2="98.7" y2="621.9" stroke="#000" stroke-width="3" />
<line x1="104.7" y1="1049.7" x2="104.7" y2="1061.7" stroke="#000" stroke-width="3" />
<line x1="226.5" y1="1049.7" x2="226.5" y2="1061.7" stroke="#000" stroke-width="3" />
<line x1="348.4" y1="1049.7" x2="348.4" y2="1061.7" stroke="#000" stroke-width="3" />
<line x1="470.2" y1="1049.7" x2="470.2" y2="1061.7" stroke="#000" stroke-width="3" />
<line x1="592" y1="1049.7" x2="592" y2="1061.7" stroke="#000" stroke-width="3" />
<line x1="713.9" y1="1049.7" x2="713.9" y2="1061.7" stroke="#000" stroke-width="3" />
<line x1="165.6" y1="1049.7" x2="165.6" y2="1055.7" stroke="#000" stroke-width="3" />
<line x1="287.4" y1="1049.7" x2="287.4" y2="1055.7" stroke="#000" stroke-width="3" />
<line x1="409.3" y1="1049.7" x2="409.3" y2="1055.7" stroke="#000" stroke-width="3" />
<line x1="531.1" y1="1049.7" x2="531.1" y2="1055.7" stroke="#000" stroke-width="3" />
<line x1="652.9" y1="1049.7" x2="652.9" y2="1055.7" stroke="#000" stroke-width="3" />
<text x="85" y="1058.2" font-size="29.16" text-anchor="end" textLength="15" lengthAdjust="spacingAndGlyphs" >0</text>
<text x="85" y="992.4" font-size="29.16" text-anchor="end" textLength="30" lengthAdjust="spacingAndGlyphs" >50</text>
<text x="85" y="926.6" font-size="29.16" text-anchor="end" textLength="45" lengthAdjust="spacingAndGlyphs" >100</text>
<text x="85" y="860.8" font-size="29.16" text-anchor="end" textLength="45" lengthAdjust="spacingAndGlyphs" >150</text>
<text x="85" y="794.9" font-size="29.16" text-anchor="end" textLength="45" lengthAdjust="spacingAndGlyphs" >200</text>
<text x="85" y="729.1" font-size="29.16" text-anchor="end" textLength="45" lengthAdjust="spacingAndGlyphs" >250</text>
<text x="85" y="663.3" font-size="29.16" text-anchor="end" textLength="45" lengthAdjust="spacingAndGlyphs" >300</text>
<text x="85" y="597.5" font-size="29.16" text-anchor="end" textLength="45" lengthAdjust="spacingAndGlyphs" >350</text>
<text x="104.7" y="1090.8" font-size="29.16" text-anchor="middle" textLength="15" lengthAdjust="spacingAndGlyphs" >0</text>
<text x="226.5" y="1090.8" font-size="29.16" text-anchor="middle" textLength="30" lengthAdjust="spacingAndGlyphs" >30</text>
<text x="348.4" y="1090.8" font-size="29.16" text-anchor="middle" textLength="30" lengthAdjust="spacingAndGlyphs" >60</text>
<text x="470.2" y="1090.8" font-size="29.16" text-anchor="middle" textLength="30" lengthAdjust="spacingAndGlyphs" >90</text>
<text x="592" y="1090.8" font-size="29.16" text-anchor="middle" textLength="45" lengthAdjust="spacingAndGlyphs" >120</text>
<text x="713.9" y="1090.8" font-size="29.16" text-anchor="middle" textLength="45" lengthAdjust="spacingAndGlyphs" >150</text>
<text x="13.8" y="601" font-size="38.88" font-weight="bold" textLength="19.5" lengthAdjust="spacingAndGlyphs" >c</text>
<text x="322.5" y="1121.5" font-size="30.24" textLength="173.5" lengthAdjust="spacingAndGlyphs" >Cycle number</text>
<text transform="translate(28 933) rotate(-90) scale(0.968 1)" font-size="29">Capacity (mAh g<tspan font-size="18" dy="-13">-1</tspan><tspan dy="13">)</tspan></text>
<circle cx="141.7" cy="902.5" r="7.4" fill="#9896c8"/>
<text x="174" y="910" font-size="23.76" textLength="104.7" lengthAdjust="spacingAndGlyphs" >LMRO-CC</text>
<circle cx="141.7" cy="931" r="7.4" fill="#8dc6bb"/>
<text x="174" y="938.5" font-size="23.76" textLength="104.7" lengthAdjust="spacingAndGlyphs" >LMRO-DC</text>
<circle cx="141.7" cy="959.7" r="7.4" fill="#f5553a"/>
<text x="174" y="967.2" font-size="23.76" textLength="168.3" lengthAdjust="spacingAndGlyphs" >LMRO-50CS-CC</text>
<circle cx="141.7" cy="988.3" r="7.4" fill="#e49a6a"/>
<text x="174" y="995.8" font-size="23.76" textLength="168.3" lengthAdjust="spacingAndGlyphs" >LMRO-50CS-DC</text>
<text x="132.5" y="1031.7" font-size="29.16" textLength="42" lengthAdjust="spacingAndGlyphs" >C/2</text>
<text x="165" y="666.4" font-size="29.16" textLength="57.7" lengthAdjust="spacingAndGlyphs" >C/10</text>
<line x1="158.7" y1="661.5" x2="126" y2="665" stroke="#000" stroke-width="1.3" />
<path d="M113.9 666.4L127.5 661.3L128.5 669.7Z" fill="#000"/>
<path d="M930.9 692.8L931.8 693.9M1003.4 716L1008.1 725.6M1078.1 749.1L1082.2 756.9M1151.5 780.7L1157.6 795.8M1224.3 817.8L1233.5 853.9M1299.1 878.7L1307.6 908.5M1371.1 910.3L1384.4 705.9" stroke="#8dc5bc" stroke-width="2.2" fill="none"/>
<path d="M929.6 669L933.1 675M1002.7 696.5L1008.8 711M1077.5 736.8L1082.8 748.5M1151 773.1L1158.1 792.4M1223.6 814.6L1234.3 871.9M1298 889.1L1308.7 946.6M1370.9 942.2L1384.6 678.1" stroke="#e59a6a" stroke-width="2.2" fill="none"/>
<circle cx="864.4" cy="686.9" r="9.5" fill="#8dc5bc"/><circle cx="879.3" cy="681" r="9.5" fill="#8dc5bc"/><circle cx="894.1" cy="681" r="9.5" fill="#8dc5bc"/><circle cx="909" cy="683" r="9.5" fill="#8dc5bc"/><circle cx="923.9" cy="683.7" r="9.5" fill="#8dc5bc"/><circle cx="938.8" cy="703" r="9.5" fill="#8dc5bc"/><circle cx="953.7" cy="704.1" r="9.5" fill="#8dc5bc"/><circle cx="968.5" cy="704.1" r="9.5" fill="#8dc5bc"/><circle cx="983.4" cy="704.3" r="9.5" fill="#8dc5bc"/><circle cx="998.3" cy="705.7" r="9.5" fill="#8dc5bc"/><circle cx="1013.2" cy="735.9" r="9.5" fill="#8dc5bc"/><circle cx="1028.1" cy="737.9" r="9.5" fill="#8dc5bc"/><circle cx="1042.9" cy="737.9" r="9.5" fill="#8dc5bc"/><circle cx="1057.8" cy="739" r="9.5" fill="#8dc5bc"/><circle cx="1072.7" cy="739" r="9.5" fill="#8dc5bc"/><circle cx="1087.6" cy="767" r="9.5" fill="#8dc5bc"/><circle cx="1102.5" cy="770.1" r="9.5" fill="#8dc5bc"/><circle cx="1117.3" cy="770.1" r="9.5" fill="#8dc5bc"/><circle cx="1132.2" cy="770.1" r="9.5" fill="#8dc5bc"/><circle cx="1147.1" cy="770.1" r="9.5" fill="#8dc5bc"/><circle cx="1162" cy="806.4" r="9.5" fill="#8dc5bc"/><circle cx="1176.9" cy="806.7" r="9.5" fill="#8dc5bc"/><circle cx="1191.7" cy="806.7" r="9.5" fill="#8dc5bc"/><circle cx="1206.6" cy="806.7" r="9.5" fill="#8dc5bc"/><circle cx="1221.5" cy="806.7" r="9.5" fill="#8dc5bc"/><circle cx="1236.4" cy="865" r="9.5" fill="#8dc5bc"/><circle cx="1251.3" cy="864.4" r="9.5" fill="#8dc5bc"/><circle cx="1266.1" cy="865.7" r="9.5" fill="#8dc5bc"/><circle cx="1281" cy="866.6" r="9.5" fill="#8dc5bc"/><circle cx="1295.9" cy="867.7" r="9.5" fill="#8dc5bc"/><circle cx="1310.8" cy="919.5" r="9.5" fill="#8dc5bc"/><circle cx="1325.7" cy="921.8" r="9.5" fill="#8dc5bc"/><circle cx="1340.5" cy="922.8" r="9.5" fill="#8dc5bc"/><circle cx="1355.4" cy="922.8" r="9.5" fill="#8dc5bc"/><circle cx="1370.3" cy="921.8" r="9.5" fill="#8dc5bc"/><circle cx="1385.2" cy="694.5" r="9.5" fill="#8dc5bc"/><circle cx="1400.1" cy="694.7" r="9.5" fill="#8dc5bc"/><circle cx="1414.9" cy="694.9" r="9.5" fill="#8dc5bc"/><circle cx="1429.8" cy="694.9" r="9.5" fill="#8dc5bc"/><circle cx="1444.7" cy="694.9" r="9.5" fill="#8dc5bc"/><circle cx="864.4" cy="670.4" r="9.5" fill="#e59a6a"/><circle cx="879.3" cy="659" r="9.5" fill="#e59a6a"/><circle cx="894.1" cy="657.6" r="9.5" fill="#e59a6a"/><circle cx="909" cy="659" r="9.5" fill="#e59a6a"/><circle cx="923.9" cy="659" r="9.5" fill="#e59a6a"/><circle cx="938.8" cy="685" r="9.5" fill="#e59a6a"/><circle cx="953.7" cy="685.2" r="9.5" fill="#e59a6a"/><circle cx="968.5" cy="685.2" r="9.5" fill="#e59a6a"/><circle cx="983.4" cy="685.5" r="9.5" fill="#e59a6a"/><circle cx="998.3" cy="685.9" r="9.5" fill="#e59a6a"/><circle cx="1013.2" cy="721.6" r="9.5" fill="#e59a6a"/><circle cx="1028.1" cy="724.1" r="9.5" fill="#e59a6a"/><circle cx="1042.9" cy="724.9" r="9.5" fill="#e59a6a"/><circle cx="1057.8" cy="725.9" r="9.5" fill="#e59a6a"/><circle cx="1072.7" cy="726.3" r="9.5" fill="#e59a6a"/><circle cx="1087.6" cy="759" r="9.5" fill="#e59a6a"/><circle cx="1102.5" cy="760" r="9.5" fill="#e59a6a"/><circle cx="1117.3" cy="761" r="9.5" fill="#e59a6a"/><circle cx="1132.2" cy="761" r="9.5" fill="#e59a6a"/><circle cx="1147.1" cy="762.3" r="9.5" fill="#e59a6a"/><circle cx="1162" cy="803.2" r="9.5" fill="#e59a6a"/><circle cx="1176.9" cy="803.2" r="9.5" fill="#e59a6a"/><circle cx="1191.7" cy="803.2" r="9.5" fill="#e59a6a"/><circle cx="1206.6" cy="803.2" r="9.5" fill="#e59a6a"/><circle cx="1221.5" cy="803.2" r="9.5" fill="#e59a6a"/><circle cx="1236.4" cy="883.2" r="9.5" fill="#e59a6a"/><circle cx="1251.3" cy="877.8" r="9.5" fill="#e59a6a"/><circle cx="1266.1" cy="878.9" r="9.5" fill="#e59a6a"/><circle cx="1281" cy="878.9" r="9.5" fill="#e59a6a"/><circle cx="1295.9" cy="877.8" r="9.5" fill="#e59a6a"/><circle cx="1310.8" cy="957.9" r="9.5" fill="#e59a6a"/><circle cx="1325.7" cy="953.7" r="9.5" fill="#e59a6a"/><circle cx="1340.5" cy="954.7" r="9.5" fill="#e59a6a"/><circle cx="1355.4" cy="954.7" r="9.5" fill="#e59a6a"/><circle cx="1370.3" cy="953.7" r="9.5" fill="#e59a6a"/><circle cx="1385.2" cy="666.7" r="9.5" fill="#e59a6a"/><circle cx="1400.1" cy="662.6" r="9.5" fill="#e59a6a"/><circle cx="1414.9" cy="661.3" r="9.5" fill="#e59a6a"/><circle cx="1429.8" cy="659.9" r="9.5" fill="#e59a6a"/><circle cx="1444.7" cy="659.6" r="9.5" fill="#e59a6a"/>
<rect x="849.6" y="595" width="609" height="461" fill="none" stroke="#000" stroke-width="3"/>
<line x1="849.6" y1="1056" x2="837.6" y2="1056" stroke="#000" stroke-width="3" />
<line x1="849.6" y1="990.1" x2="837.6" y2="990.1" stroke="#000" stroke-width="3" />
<line x1="849.6" y1="924.3" x2="837.6" y2="924.3" stroke="#000" stroke-width="3" />
<line x1="849.6" y1="858.4" x2="837.6" y2="858.4" stroke="#000" stroke-width="3" />
<line x1="849.6" y1="792.6" x2="837.6" y2="792.6" stroke="#000" stroke-width="3" />
<line x1="849.6" y1="726.7" x2="837.6" y2="726.7" stroke="#000" stroke-width="3" />
<line x1="849.6" y1="660.9" x2="837.6" y2="660.9" stroke="#000" stroke-width="3" />
<line x1="849.6" y1="595" x2="837.6" y2="595" stroke="#000" stroke-width="3" />
<line x1="849.6" y1="1023.1" x2="843.6" y2="1023.1" stroke="#000" stroke-width="3" />
<line x1="849.6" y1="957.2" x2="843.6" y2="957.2" stroke="#000" stroke-width="3" />
<line x1="849.6" y1="891.4" x2="843.6" y2="891.4" stroke="#000" stroke-width="3" />
<line x1="849.6" y1="825.5" x2="843.6" y2="825.5" stroke="#000" stroke-width="3" />
<line x1="849.6" y1="759.7" x2="843.6" y2="759.7" stroke="#000" stroke-width="3" />
<line x1="849.6" y1="693.8" x2="843.6" y2="693.8" stroke="#000" stroke-width="3" />
<line x1="849.6" y1="627.9" x2="843.6" y2="627.9" stroke="#000" stroke-width="3" />
<line x1="849.5" y1="1056" x2="849.5" y2="1068" stroke="#000" stroke-width="3" />
<line x1="923.9" y1="1056" x2="923.9" y2="1068" stroke="#000" stroke-width="3" />
<line x1="998.3" y1="1056" x2="998.3" y2="1068" stroke="#000" stroke-width="3" />
<line x1="1072.7" y1="1056" x2="1072.7" y2="1068" stroke="#000" stroke-width="3" />
<line x1="1147.1" y1="1056" x2="1147.1" y2="1068" stroke="#000" stroke-width="3" />
<line x1="1221.5" y1="1056" x2="1221.5" y2="1068" stroke="#000" stroke-width="3" />
<line x1="1295.9" y1="1056" x2="1295.9" y2="1068" stroke="#000" stroke-width="3" />
<line x1="1370.3" y1="1056" x2="1370.3" y2="1068" stroke="#000" stroke-width="3" />
<line x1="1444.7" y1="1056" x2="1444.7" y2="1068" stroke="#000" stroke-width="3" />
<line x1="886.7" y1="1056" x2="886.7" y2="1062" stroke="#000" stroke-width="3" />
<line x1="961.1" y1="1056" x2="961.1" y2="1062" stroke="#000" stroke-width="3" />
<line x1="1035.5" y1="1056" x2="1035.5" y2="1062" stroke="#000" stroke-width="3" />
<line x1="1109.9" y1="1056" x2="1109.9" y2="1062" stroke="#000" stroke-width="3" />
<line x1="1184.3" y1="1056" x2="1184.3" y2="1062" stroke="#000" stroke-width="3" />
<line x1="1258.7" y1="1056" x2="1258.7" y2="1062" stroke="#000" stroke-width="3" />
<line x1="1333.1" y1="1056" x2="1333.1" y2="1062" stroke="#000" stroke-width="3" />
<line x1="1407.5" y1="1056" x2="1407.5" y2="1062" stroke="#000" stroke-width="3" />
<text x="829.5" y="1064.5" font-size="29.16" text-anchor="end" textLength="15" lengthAdjust="spacingAndGlyphs" >0</text>
<text x="829.5" y="998.6" font-size="29.16" text-anchor="end" textLength="30" lengthAdjust="spacingAndGlyphs" >50</text>
<text x="829.5" y="932.8" font-size="29.16" text-anchor="end" textLength="45" lengthAdjust="spacingAndGlyphs" >100</text>
<text x="829.5" y="866.9" font-size="29.16" text-anchor="end" textLength="45" lengthAdjust="spacingAndGlyphs" >150</text>
<text x="829.5" y="801.1" font-size="29.16" text-anchor="end" textLength="45" lengthAdjust="spacingAndGlyphs" >200</text>
<text x="829.5" y="735.2" font-size="29.16" text-anchor="end" textLength="45" lengthAdjust="spacingAndGlyphs" >250</text>
<text x="829.5" y="669.4" font-size="29.16" text-anchor="end" textLength="45" lengthAdjust="spacingAndGlyphs" >300</text>
<text x="829.5" y="603.5" font-size="29.16" text-anchor="end" textLength="45" lengthAdjust="spacingAndGlyphs" >350</text>
<text x="849.5" y="1098.3" font-size="29.16" text-anchor="middle" textLength="15" lengthAdjust="spacingAndGlyphs" >0</text>
<text x="923.9" y="1098.3" font-size="29.16" text-anchor="middle" textLength="15" lengthAdjust="spacingAndGlyphs" >5</text>
<text x="998.3" y="1098.3" font-size="29.16" text-anchor="middle" textLength="30" lengthAdjust="spacingAndGlyphs" >10</text>
<text x="1072.7" y="1098.3" font-size="29.16" text-anchor="middle" textLength="30" lengthAdjust="spacingAndGlyphs" >15</text>
<text x="1147.1" y="1098.3" font-size="29.16" text-anchor="middle" textLength="30" lengthAdjust="spacingAndGlyphs" >20</text>
<text x="1221.5" y="1098.3" font-size="29.16" text-anchor="middle" textLength="30" lengthAdjust="spacingAndGlyphs" >25</text>
<text x="1295.9" y="1098.3" font-size="29.16" text-anchor="middle" textLength="30" lengthAdjust="spacingAndGlyphs" >30</text>
<text x="1370.3" y="1098.3" font-size="29.16" text-anchor="middle" textLength="30" lengthAdjust="spacingAndGlyphs" >35</text>
<text x="1444.7" y="1098.3" font-size="29.16" text-anchor="middle" textLength="30" lengthAdjust="spacingAndGlyphs" >40</text>
<text x="755.3" y="600.4" font-size="36.0" font-weight="bold" textLength="20.5" lengthAdjust="spacingAndGlyphs" >d</text>
<text x="1068.3" y="1129" font-size="30.24" textLength="173.2" lengthAdjust="spacingAndGlyphs" >Cycle number</text>
<text transform="translate(770 1007.7) rotate(-90) scale(0.982 1)" font-size="29">Discharge capacity (mAh g<tspan font-size="18" dy="-13">-1</tspan><tspan dy="13">)</tspan></text>
<text x="874.2" y="627.5" font-size="29.16" textLength="59.2" lengthAdjust="spacingAndGlyphs" >C/10</text>
<text x="945.8" y="627.5" font-size="29.16" textLength="44.5" lengthAdjust="spacingAndGlyphs" >C/5</text>
<text x="1012.5" y="627.5" font-size="29.16" textLength="44.1" lengthAdjust="spacingAndGlyphs" >C/2</text>
<text x="1099" y="627.5" font-size="29.16" textLength="34.4" lengthAdjust="spacingAndGlyphs" >1C</text>
<text x="1170.3" y="627.5" font-size="29.16" textLength="35.5" lengthAdjust="spacingAndGlyphs" >2C</text>
<text x="1245.5" y="627.5" font-size="29.16" textLength="35.5" lengthAdjust="spacingAndGlyphs" >5C</text>
<text x="1312.6" y="627.5" font-size="29.16" textLength="49.8" lengthAdjust="spacingAndGlyphs" >10C</text>
<text x="1389" y="627.5" font-size="29.16" textLength="58.8" lengthAdjust="spacingAndGlyphs" >C/10</text>
<line x1="872" y1="968.7" x2="886" y2="968.7" stroke="#8dc5bc" stroke-width="2.5" />
<line x1="910" y1="968.7" x2="924" y2="968.7" stroke="#8dc5bc" stroke-width="2.5" />
<circle cx="898" cy="968.7" r="9.5" fill="#8dc5bc"/>
<text x="931" y="976.3" font-size="23.76" textLength="63.6" lengthAdjust="spacingAndGlyphs" >LMRO</text>
<line x1="872" y1="996.7" x2="886" y2="996.7" stroke="#e59a6a" stroke-width="2.5" />
<line x1="910" y1="996.7" x2="924" y2="996.7" stroke="#e59a6a" stroke-width="2.5" />
<circle cx="898" cy="996.7" r="9.5" fill="#e59a6a"/>
<text x="931" y="1004.3" font-size="23.76" textLength="125.9" lengthAdjust="spacingAndGlyphs" >LMRO-50CS</text>
<defs><clipPath id="cle"><rect x="51.5" y="1172.5" width="758.5" height="589"/></clipPath><clipPath id="cli"><rect x="843.5" y="1172.5" width="121" height="589"/></clipPath><clipPath id="clii"><rect x="998.5" y="1172.5" width="121" height="589"/></clipPath></defs>
<g clip-path="url(#cle)"><path d="M50 1268.2L50.6 1268.5 51.2 1268.6 51.8 1268.7 52.4 1268.5 53 1267.7 53.6 1267.2 54.2 1267.3 54.8 1267.9 55.4 1268.3 56 1268.3 56.6 1267.8 57.2 1267.3 57.8 1267.5 58.4 1268 59 1268.7 59.6 1268.9 60.2 1268.5 60.8 1268.3 61.4 1268.3 62 1268.3 62.6 1267.9 63.2 1267.7 63.8 1267.7 64.4 1267.6 65 1267.5 65.6 1267.6 66.2 1267.8 66.8 1267.8 67.4 1267.6 68 1267.8 68.6 1267.8 69.2 1267.3 69.8 1267.3 70.4 1267.6 71 1267.9 71.6 1267.9 72.2 1267.8 72.8 1268.2 73.4 1268.8 74 1268.4 74.6 1268 75.2 1268.2 75.8 1268.2 76.4 1268.3 77 1268.2 77.6 1267.5 78.2 1267 78.8 1267.5 79.4 1268 80 1268 80.6 1268.2 81.2 1268.3 81.8 1268.2 82.4 1268.7 83 1269.1 83.6 1268.9 84.2 1268.8 84.8 1269.1 85.4 1269.1 86 1268.5 86.6 1268.1 87.2 1268 87.8 1267.4 88.4 1267 89 1267.3 89.6 1268 90.2 1267.9 90.8 1267 91.4 1266.8 92 1267.4 92.6 1267.8 93.2 1268 93.8 1268.4 94.4 1268.6 95 1268.4 95.6 1268 96.2 1267.4 96.8 1267.3 97.4 1267.9 98 1268.4 98.6 1268.4 99.2 1268.4 99.8 1268.5 100.4 1268 101 1267.2 101.6 1267.3 102.2 1268 102.8 1267.9 103.4 1267.6 104 1268 104.6 1267.9 105.2 1267.7 105.8 1268.1 106.4 1267.9 107 1267.6 107.6 1268 108.2 1267.9 108.8 1267.5 109.4 1267.1 110 1266.8 110.6 1267.2 111.2 1267.6 111.8 1267.5 112.4 1267.5 113 1267.7 113.6 1268 114.2 1268.2 114.8 1267.9 115.4 1267.8 116 1268.3 116.6 1268.6 117.2 1268.1 117.8 1267.6 118.4 1267.5 119 1268.1 119.6 1268.5 120.2 1268.3 120.8 1267.7 121.4 1267.4 122 1267.9 122.6 1267.9 123.2 1267.1 123.8 1266.9 124.4 1267.4 125 1268.1 125.6 1268.4 126.2 1267.6 126.8 1267.1 127.4 1266.9 128 1266.5 128.6 1266.9 129.2 1267.7 129.8 1267.3 130.4 1266.6 131 1266.5 131.6 1267 132.2 1267.3 132.8 1266.9 133.4 1266.5 134 1266.5 134.6 1266.3 135.2 1266 135.8 1265.4 136.4 1264.4 137 1264 137.6 1264 138.2 1263.2 138.8 1261.9 139.4 1260.4 140 1257.8 140.6 1253 141.2 1246.4 141.8 1238.1 142.4 1227.7 143 1216.5 143.6 1207.6 144.2 1202.6 144.8 1203.1 145.4 1209.7 146 1219.6 146.6 1229.9 147.2 1239.7 147.8 1248.1 148.4 1254.3 149 1258.1 149.6 1260.4 150.2 1262.4 150.8 1264.1 151.4 1265.2 152 1265.8 152.6 1266.2 153.2 1266.6 153.8 1266.5 154.4 1266.1 155 1266.2 155.6 1265.9 156.2 1265.3 156.8 1266.1 157.4 1267.2 158 1266.6 158.6 1265.9 159.2 1266.8 159.8 1267.7 160.4 1267.7 161 1267.4 161.6 1267.3 162.2 1267.6 162.8 1268.1 163.4 1268 164 1267.8 164.6 1268.1 165.2 1268.1 165.8 1267.8 166.4 1267.7 167 1267.7 167.6 1267.7 168.2 1268 168.8 1267.7 169.4 1267.1 170 1266.7 170.6 1267.2 171.2 1267.9 171.8 1267.7 172.4 1267.6 173 1267.8 173.6 1268 174.2 1268 174.8 1267.5 175.4 1267.5 176 1267.8 176.6 1267.9 177.2 1267.8 177.8 1267.8 178.4 1268.3 179 1268.6 179.6 1268.2 180.2 1267.7 180.8 1267.9 181.4 1268 182 1268.4 182.6 1268.6 183.2 1268.1 183.8 1267.6 184.4 1267.4 185 1267.5 185.6 1267.9 186.2 1268.5 186.8 1268.2 187.4 1268.1 188 1268.3 188.6 1267.9 189.2 1268.2 189.8 1268.6 190.4 1268.3 191 1267.9 191.6 1267.7 192.2 1267.9 192.8 1267.7 193.4 1267 194 1267.3 194.6 1267.7 195.2 1267.3 195.8 1267 196.4 1267.3 197 1267.7 197.6 1268.3 198.2 1268.6 198.8 1267.8 199.4 1267.1 200 1267.3 200.6 1267.6 201.2 1268.3 201.8 1268.8 202.4 1268.8 203 1269.1 203.6 1269.1 204.2 1268.3 204.8 1267.7 205.4 1267.6 206 1267.6 206.6 1268.2 207.2 1268.5 207.8 1268.6 208.4 1268 209 1267.4 209.6 1268.1 210.2 1268.9 210.8 1268.7 211.4 1267.8 212 1267.5 212.6 1267.7 213.2 1267.3 213.8 1267 214.4 1267.8 215 1268.7 215.6 1268.1 216.2 1267.4 216.8 1267.6 217.4 1268.2 218 1268.7 218.6 1268.8 219.2 1268.5 219.8 1268.2 220.4 1267.9 221 1267.5 221.6 1267.7 222.2 1268.4 222.8 1268.4 223.4 1268.2 224 1268 224.6 1267.9 225.2 1267.6 225.8 1267.4 226.4 1267.8 227 1268.3 227.6 1268.5 228.2 1268.5 228.8 1268.5 229.4 1268.3 230 1267.6 230.6 1267.1 231.2 1267.7 231.8 1268.5 232.4 1268.5 233 1268.3 233.6 1267.9 234.2 1268.1 234.8 1268.7 235.4 1268.8 236 1268.7 236.6 1268.4 237.2 1267.5 237.8 1267 238.4 1267.2 239 1266.9 239.6 1267 240.2 1268.1 240.9 1268.6 241.5 1268.3 242.1 1268.1 242.7 1268 243.3 1268.1 243.9 1268.1 244.5 1268.1 245.1 1267.7 245.7 1267.2 246.3 1267.6 246.9 1268 247.5 1268.3 248.1 1268.3 248.7 1267.9 249.3 1268.2 249.9 1268.2 250.5 1267.6 251.1 1267.5 251.7 1267.3 252.3 1266.8 252.9 1267.2 253.5 1267.6 254.1 1267.3 254.7 1266.9 255.3 1267.5 255.9 1268.5 256.5 1268.4 257.1 1267.7 257.7 1267.2 258.3 1267.4 258.9 1267.4 259.5 1267.1 260.1 1267.3 260.7 1267.7 261.3 1267.2 261.9 1266.5 262.5 1266.9 263.1 1267.3 263.7 1267.1 264.3 1266.7 264.9 1266.5 265.5 1265.8 266.1 1264.7 266.7 1264.9 267.3 1264.3 267.9 1262.5 268.5 1261.9 269.1 1262.1 269.7 1262.2 270.3 1262.3 270.9 1262.2 271.5 1262.2 272.1 1262.7 272.7 1263.1 273.3 1263.7 273.9 1264.3 274.5 1264.7 275.1 1265.3 275.7 1265.4 276.3 1265.2 276.9 1265.6 277.5 1266.1 278.1 1266.1 278.7 1266 279.3 1266.5 279.9 1267.2 280.5 1267.7 281.1 1267.8 281.7 1267.3 282.3 1267 282.9 1267.1 283.5 1267.1 284.1 1266.9 284.7 1266.8 285.3 1267.5 285.9 1268.3 286.5 1268 287.1 1267.4 287.7 1267.7 288.3 1268.3 288.9 1268.1 289.5 1267.8 290.1 1267.9 290.7 1268.3 291.3 1268.8 291.9 1268.9 292.5 1268.5 293.1 1267.8 293.7 1267.2 294.3 1267.2 294.9 1267.3 295.5 1267.2 296.1 1267.4 296.7 1267.7 297.3 1267.6 297.9 1267.4 298.5 1267.3 299.1 1267.9 299.7 1268.3 300.3 1267.8 300.9 1267.7 301.5 1267.8 302.1 1267.9 302.7 1267.8 303.3 1267.5 303.9 1267.4 304.5 1267.3 305.1 1267 305.7 1267.2 306.3 1267.7 306.9 1267.7 307.5 1267.9 308.1 1267.8 308.7 1267.6 309.3 1267.7 309.9 1267.6 310.5 1268 311.1 1268.2 311.7 1267.4 312.3 1266.8 312.9 1267.4 313.5 1268.2 314.1 1267.5 314.7 1267 315.3 1267.5 315.9 1267.5 316.5 1267.1 317.1 1266.5 317.7 1266 318.3 1266.3 318.9 1266.2 319.5 1266 320.1 1265.9 320.7 1266.3 321.3 1266.7 321.9 1266.7 322.5 1265.9 323.1 1264.7 323.7 1263.7 324.3 1263.3 324.9 1262.5 325.5 1261.1 326.1 1259.1 326.7 1257.1 327.3 1254.9 327.9 1252.3 328.5 1250.2 329.1 1248.3 329.7 1246.2 330.3 1244.9 330.9 1244.1 331.5 1243.4 332.1 1242.8 332.7 1242.5 333.3 1242.8 333.9 1243.4 334.5 1244 335.1 1244.2 335.7 1244.4 336.3 1244.6 336.9 1243.9 337.5 1242.9 338.1 1242.4 338.7 1242.4 339.3 1243.1 339.9 1244.4 340.5 1245.5 341.1 1246.4 341.7 1247.9 342.3 1249.9 342.9 1252.6 343.5 1255.3 344.1 1257.1 344.7 1258.4 345.3 1259.3 345.9 1260.1 346.5 1261.4 347.1 1262.4 347.7 1262.9 348.3 1262.8 348.9 1262.8 349.5 1263.1 350.1 1263.6 350.7 1264.4 351.3 1264.9 351.9 1265 352.5 1265.2 353.1 1265.3 353.7 1265.6 354.3 1265.9 354.9 1266 355.5 1265.4 356.1 1264.4 356.7 1263.3 357.3 1262.2 357.9 1261.2 358.5 1260.3 359.1 1259 359.7 1258 360.3 1257.6 360.9 1257.7 361.5 1258.8 362.1 1261.3 362.7 1263.3 363.3 1264.2 363.9 1265.3 364.5 1265.8 365.1 1266 365.7 1266.3 366.3 1266.4 366.9 1266.8 367.5 1267.4 368.1 1267.2 368.7 1267 369.3 1267.4 369.9 1267.1 370.5 1267 371.1 1267.2 371.7 1267.1 372.3 1266.8 372.9 1267 373.5 1267.7 374.1 1267.4 374.7 1266.5 375.3 1266.4 375.9 1267.4 376.5 1268.4 377.1 1269 377.7 1269.3 378.3 1268.9 378.9 1268.1 379.5 1268 380.1 1268.2 380.7 1268 381.3 1267.5 381.9 1267.3 382.5 1267.9 383.1 1268.4 383.7 1268.1 384.3 1267.3 384.9 1267 385.5 1267.8 386.1 1268.3 386.7 1268.3 387.3 1267.8 387.9 1267 388.5 1267 389.1 1267.5 389.7 1267.5 390.3 1267.1 390.9 1267.2 391.5 1267.4 392.1 1267.6 392.7 1267.2 393.3 1266.9 393.9 1267.1 394.5 1267.5 395.1 1267.8 395.7 1267.2 396.3 1266.7 396.9 1267 397.5 1267.2 398.1 1267.3 398.7 1267.1 399.3 1266.8 399.9 1266.9 400.5 1266.8 401.1 1266.4 401.7 1266.5 402.3 1266.5 402.9 1266 403.5 1265.9 404.1 1266.2 404.7 1266.5 405.3 1266.3 405.9 1265.8 406.5 1266 407.1 1266.4 407.7 1266.2 408.3 1265.2 408.9 1264.1 409.5 1263.8 410.1 1264.2 410.7 1264.1 411.3 1263.1 411.9 1262.7 412.5 1262.4 413.1 1261.6 413.7 1260.6 414.3 1259.9 414.9 1259 415.5 1258.1 416.1 1257.8 416.7 1257.3 417.3 1256.4 417.9 1256.3 418.5 1255.6 419.1 1253.5 419.7 1251.5 420.3 1248.7 420.9 1244 421.5 1238.3 422.1 1231.9 422.7 1225.7 423.3 1221.2 423.9 1220.8 424.5 1225 425.1 1232.1 425.7 1239 426.3 1244.3 426.9 1249 427.5 1252.6 428.1 1254.2 428.7 1254.4 429.3 1254.6 429.9 1255.8 430.5 1256.6 431.1 1256.7 431.7 1257.7 432.3 1259.1 432.9 1260.4 433.5 1261.7 434.1 1262.7 434.7 1263.9 435.3 1265.9 435.9 1266.7 436.5 1266.5 437.1 1266.4 437.7 1266 438.3 1266.2 438.9 1266.5 439.5 1266 440.1 1265.9 440.7 1266.2 441.3 1266.4 441.9 1267.3 442.5 1267.6 443.1 1267.4 443.7 1267.2 444.3 1266.7 444.9 1266.8 445.5 1267.5 446.1 1267.8 446.7 1267.5 447.3 1267.2 447.9 1267.4 448.5 1267.5 449.1 1266.9 449.7 1266.6 450.3 1266.7 450.9 1266.4 451.5 1266.4 452.1 1267 452.7 1268 453.3 1268.5 453.9 1267.7 454.5 1266.8 455.1 1266.9 455.7 1267.3 456.3 1267.3 456.9 1267.4 457.5 1267.2 458.1 1266.7 458.7 1266.9 459.3 1267.5 459.9 1267.8 460.5 1267.6 461.1 1267.4 461.7 1267.1 462.3 1266.9 462.9 1266.9 463.5 1266.7 464.1 1266.5 464.7 1266.9 465.3 1266.6 465.9 1265.8 466.5 1265.5 467.1 1265.3 467.7 1264.6 468.3 1264.1 468.9 1263.7 469.5 1263.1 470.1 1263.5 470.7 1264.7 471.3 1265.7 471.9 1266.2 472.5 1266.4 473.1 1267 473.7 1267.8 474.3 1267.8 474.9 1267.2 475.5 1267 476.1 1267.5 476.7 1267.4 477.3 1267.1 477.9 1266.9 478.5 1267.4 479.1 1268.3 479.7 1268.1 480.3 1267.5 480.9 1267.5 481.5 1267.8 482.1 1268 482.7 1267.8 483.3 1268.1 483.9 1268.8 484.5 1268.6 485.1 1268 485.7 1267.7 486.3 1267.6 486.9 1267.6 487.5 1267.6 488.1 1267.4 488.7 1267.3 489.3 1267.3 489.9 1267.3 490.5 1268.2 491.1 1268.7 491.7 1267.7 492.3 1267.2 492.9 1267.8 493.5 1268.4 494.1 1268.7 494.7 1268.5 495.3 1268.1 495.9 1267.4 496.5 1267 497.1 1267.5 497.7 1267.9 498.3 1267.3 498.9 1266.9 499.5 1267.1 500.1 1267.4 500.7 1267.6 501.3 1268.2 501.9 1268.7 502.5 1268.2 503.1 1267.4 503.7 1267.4 504.3 1267.6 504.9 1267.6 505.5 1268 506.1 1267.7 506.7 1267.2 507.3 1267.5 507.9 1268 508.5 1267.9 509.1 1267.4 509.7 1267.5 510.3 1268 510.9 1267.9 511.5 1267.3 512.1 1267.6 512.7 1268.5 513.3 1268.1 513.9 1267.3 514.5 1267.4 515.1 1267.3 515.7 1267 516.3 1267.3 516.9 1267.8 517.5 1267.7 518.1 1267.7 518.7 1267.5 519.3 1267 519.9 1267.3 520.5 1267.5 521.1 1267.3 521.7 1267.5 522.3 1267.8 522.9 1268.1 523.5 1268.2 524.1 1268.1 524.7 1267.9 525.3 1267.6 525.9 1267.3 526.5 1267.5 527.1 1267.8 527.7 1267.8 528.3 1268.1 528.9 1268.1 529.5 1267.6 530.1 1267.5 530.7 1267.5 531.3 1267.4 531.9 1267.4 532.5 1267.6 533.1 1267.5 533.7 1267.6 534.3 1268.3 534.9 1268 535.5 1267.1 536.1 1267.2 536.7 1267.8 537.3 1268.2 537.9 1267.9 538.5 1267.5 539.1 1267.5 539.7 1267.4 540.3 1267 540.9 1266.7 541.5 1266.7 542.1 1267 542.7 1267.3 543.3 1267.1 543.9 1266.7 544.5 1266.4 545.1 1266.4 545.7 1266.2 546.3 1265.7 546.9 1266.2 547.5 1266.7 548.1 1266.1 548.7 1265.7 549.3 1265.5 549.9 1265.1 550.5 1265.1 551.1 1265.2 551.7 1265.3 552.3 1265.5 552.9 1265.1 553.5 1264.2 554.1 1263.7 554.7 1263.1 555.3 1262.6 555.9 1263.1 556.5 1263.6 557.1 1263.3 557.7 1262.9 558.3 1263 558.9 1263 559.5 1262.8 560.1 1263 560.7 1263.3 561.3 1263.2 561.9 1262.9 562.5 1263.1 563.1 1263.1 563.7 1263 564.3 1263.4 564.9 1263.5 565.5 1262.9 566.1 1263.5 566.7 1264.8 567.3 1265.2 567.9 1265.2 568.5 1265.1 569.1 1265.4 569.7 1265.1 570.3 1264.4 570.9 1264.6 571.5 1265.1 572.1 1264.9 572.7 1263.5 573.3 1261.9 573.9 1261 574.5 1260.7 575.1 1260.1 575.7 1258.8 576.3 1258 576.9 1257.8 577.5 1257.8 578.1 1257.6 578.7 1257.8 579.3 1259.3 579.9 1261.1 580.5 1262.3 581.1 1263.5 581.7 1263.9 582.3 1264.1 582.9 1264.9 583.5 1265.4 584.1 1265.5 584.7 1265.9 585.3 1266.4 585.9 1266.9 586.5 1266.8 587.1 1266.4 587.7 1266 588.3 1266.1 588.9 1266.5 589.5 1266.6 590.1 1266.9 590.7 1267.3 591.3 1267.2 591.9 1266.7 592.5 1267 593.1 1267.4 593.7 1266.9 594.3 1266.5 594.9 1267.1 595.5 1267.8 596.1 1268 596.7 1267.9 597.3 1267.8 597.9 1267.5 598.5 1267 599.1 1267 599.7 1267.7 600.3 1268.2 600.9 1268.1 601.5 1267.8 602.1 1267.3 602.7 1267.3 603.3 1268 603.9 1268.4 604.5 1268.3 605.1 1267.9 605.7 1267.7 606.3 1268 606.9 1268 607.5 1267.9 608.1 1267.3 608.7 1266.2 609.3 1265.6 609.9 1265.9 610.5 1266.8 611.1 1267.2 611.7 1267 612.3 1266.7 612.9 1266 613.5 1265.6 614.1 1265.6 614.7 1265.4 615.3 1264.9 615.9 1264.8 616.5 1264.6 617.1 1263.6 617.7 1262.7 618.3 1261.8 618.9 1260.8 619.5 1260.2 620.1 1259.9 620.7 1258.9 621.4 1257.6 622 1257.3 622.6 1257.7 623.2 1258 623.8 1258.5 624.4 1259 625 1259.5 625.6 1260.1 626.2 1261.1 626.8 1262.3 627.4 1263.4 628 1264.2 628.6 1264.3 629.2 1263.7 629.8 1263.3 630.4 1263.5 631 1264.1 631.6 1264.4 632.2 1263.7 632.8 1263.1 633.4 1263.5 634 1263.5 634.6 1262.9 635.2 1261.6 635.8 1259.2 636.4 1256.6 637 1253.9 637.6 1251.1 638.2 1249 638.8 1248.2 639.4 1247.9 640 1248.1 640.6 1249.1 641.2 1250.9 641.8 1252.9 642.4 1254.6 643 1256.8 643.6 1258.1 644.2 1258.3 644.8 1257.8 645.4 1257.1 646 1257 646.6 1256 647.2 1254.4 647.8 1254.6 648.4 1256 649 1257.2 649.6 1257.9 650.2 1259.4 650.8 1261.3 651.4 1262.4 652 1262.9 652.6 1263.7 653.2 1264.4 653.8 1265.1 654.4 1265.7 655 1265.9 655.6 1266.4 656.2 1267.1 656.8 1267.2 657.4 1267 658 1266.9 658.6 1267 659.2 1267.3 659.8 1267.5 660.4 1267.6 661 1268.4 661.6 1268.5 662.2 1267.6 662.8 1267 663.4 1267 664 1267.4 664.6 1267.5 665.2 1267.1 665.8 1266.8 666.4 1267.5 667 1268.4 667.6 1268.4 668.2 1267.6 668.8 1267.1 669.4 1266.9 670 1266.6 670.6 1266.2 671.2 1266.6 671.8 1267.1 672.4 1267.2 673 1266.8 673.6 1266.1 674.2 1266.1 674.8 1266.6 675.4 1266.7 676 1266.5 676.6 1266.2 677.2 1266.2 677.8 1265.9 678.4 1265.2 679 1265.3 679.6 1265.9 680.2 1265.5 680.8 1264.6 681.4 1264 682 1263.9 682.6 1264.6 683.2 1264.7 683.8 1264 684.4 1263.4 685 1263.1 685.6 1264 686.2 1264.6 686.8 1264.8 687.4 1265.1 688 1264.9 688.6 1264.6 689.2 1264.8 689.8 1265.5 690.4 1266.1 691 1266.1 691.6 1266 692.2 1266.1 692.8 1266.5 693.4 1267.3 694 1267.1 694.6 1266.6 695.2 1267.1 695.8 1267.7 696.4 1268 697 1267.9 697.6 1267.5 698.2 1267.7 698.8 1267.9 699.4 1268.1 700 1268.1 700.6 1267.1 701.2 1266.6 701.8 1266.8 702.4 1266.4 703 1266.5 703.6 1267.5 704.2 1268 704.8 1267.8 705.4 1268.5 706 1269.3 706.6 1268.5 707.2 1267.6 707.8 1267.7 708.4 1267.8 709 1267.8 709.6 1268 710.2 1268.1 710.8 1268.2 711.4 1268 712 1267.6 712.6 1267.1 713.2 1267 713.8 1267.3 714.4 1267.6 715 1267.8 715.6 1267.7 716.2 1268.1 716.8 1268.7 717.4 1268.6 718 1268.1 718.6 1267.8 719.2 1268.2 719.8 1268.5 720.4 1268 721 1267.8 721.6 1268 722.2 1267.4 722.8 1266.7 723.4 1266.8 724 1267.4 724.6 1267.8 725.2 1268.1 725.8 1268.5 726.4 1268.5 727 1268.2 727.6 1267.9 728.2 1267.7 728.8 1267.3 729.4 1267.1 730 1267.4 730.6 1267.6 731.2 1267.5 731.8 1267.8 732.4 1267.7 733 1266.8 733.6 1266.7 734.2 1267.2 734.8 1267.2 735.4 1267 736 1267.6 736.6 1268.2 737.2 1267.6 737.8 1267.5 738.4 1267.7 739 1267.4 739.6 1267.4 740.2 1267.5 740.8 1266.9 741.4 1266.9 742 1267.3 742.6 1267.6 743.2 1267.9 743.8 1268.1 744.4 1268.3 745 1268.3 745.6 1268.3 746.2 1268 746.8 1267.5 747.4 1267.6 748 1267.8 748.6 1267.5 749.2 1267.2 749.8 1266.8 750.4 1266.6 751 1267.4 751.6 1267.6 752.2 1267.2 752.8 1267.3 753.4 1267 754 1266.3 754.6 1266.7 755.2 1267.6 755.8 1267.9 756.4 1268.1 757 1268.5 757.6 1267.7 758.2 1266.6 758.8 1266.6 759.4 1267.2 760 1267 760.6 1266.5 761.2 1266.3 761.8 1266.2 762.4 1266.5 763 1266.9 763.6 1267 764.2 1267 764.8 1266.8 765.4 1266.2 766 1265.8 766.6 1265.6 767.2 1265.5 767.8 1266.1 768.4 1266.5 769 1266 769.6 1265.4 770.2 1265.4 770.8 1265.4 771.4 1265 772 1264.8 772.6 1265.2 773.2 1265.2 773.8 1265.3 774.4 1265.9 775 1266.4 775.6 1265.7 776.2 1265 776.8 1265.2 777.4 1265.6 778 1265.5 778.6 1265.3 779.2 1265.1 779.8 1265.1 780.4 1265.4 781 1265.3 781.6 1264.6 782.2 1264.7 782.8 1265.7 783.4 1265.9 784 1265.2 784.6 1264.9 785.2 1264.7 785.8 1264.8 786.4 1265.3 787 1265.5 787.6 1265.9 788.2 1266.5 788.8 1266.8 789.4 1266.6 790 1266.4 790.6 1266.3 791.2 1266.1 791.8 1266.2 792.4 1266.8 793 1267.2 793.6 1267.1 794.2 1267 794.8 1267.1 795.4 1266.6 796 1266.5 796.6 1267.3 797.2 1267.2 797.8 1266.6 798.4 1266.5 799 1267.1 799.6 1267.8 800.2 1268 800.8 1268.2 801.4 1268 802 1267.9 802.6 1267.6 803.2 1267.2 803.8 1267.2 804.4 1267.1 805 1266.8 805.6 1266.9 806.2 1267.7 806.8 1268.2 807.4 1268 808 1267.5 808.6 1267.6 809.2 1268.2 809.8 1268.1 810.4 1267.5 811 1267.5 811.6 1267.6" fill="none" stroke="#f2b28c" stroke-width="3.3" stroke-linejoin="round"/><path d="M50 1301.6L50.6 1300.8 51.2 1301.2 51.8 1301.9 52.4 1302.1 53 1302.2 53.6 1302.3 54.2 1301.7 54.8 1301.4 55.4 1301.7 56 1301.7 56.6 1301.4 57.2 1301.4 57.8 1301.8 58.4 1301.8 59 1301.3 59.6 1300.9 60.2 1301 60.8 1301.7 61.4 1302 62 1302 62.6 1302.3 63.2 1302.6 63.8 1302.5 64.4 1302.2 65 1301.9 65.6 1301.6 66.2 1301.5 66.8 1301.2 67.4 1301.5 68 1302 68.6 1301.7 69.2 1301.2 69.8 1301 70.4 1301.4 71 1302 71.6 1302 72.2 1301.3 72.8 1301 73.4 1301.2 74 1300.9 74.6 1300.8 75.2 1301.2 75.8 1301.6 76.4 1301.8 77 1301.7 77.6 1301.5 78.2 1301.3 78.8 1301.8 79.4 1302.1 80 1301.8 80.6 1301.7 81.2 1301.7 81.8 1302 82.4 1302.1 83 1302 83.6 1302.1 84.2 1302.1 84.8 1301.5 85.4 1301.1 86 1301.2 86.6 1301.4 87.2 1301.2 87.8 1301.2 88.4 1301.8 89 1302.1 89.6 1301.3 90.2 1300.3 90.8 1300.3 91.4 1300.6 92 1300.6 92.6 1301.4 93.2 1302 93.8 1301.5 94.4 1301.2 95 1301.6 95.6 1301.6 96.2 1301.3 96.8 1301.1 97.4 1301.3 98 1301.2 98.6 1300.4 99.2 1300.6 99.8 1301.7 100.4 1301.8 101 1301.1 101.6 1300.8 102.2 1300.9 102.8 1300.8 103.4 1301.3 104 1302 104.6 1302 105.2 1301.8 105.8 1301.6 106.4 1301.7 107 1301.7 107.6 1301 108.2 1300.9 108.8 1301.3 109.4 1301.7 110 1302.1 110.6 1301.6 111.2 1300.8 111.8 1300.7 112.4 1300.7 113 1301.1 113.6 1301.7 114.2 1301.3 114.8 1301 115.4 1301.2 116 1301.5 116.6 1301.6 117.2 1301.3 117.8 1301.4 118.4 1301.4 119 1300.9 119.6 1300.5 120.2 1300.8 120.8 1301.4 121.4 1301.1 122 1300.5 122.6 1301.2 123.2 1301.9 123.8 1301.6 124.4 1301.4 125 1301.3 125.6 1300.9 126.2 1300.5 126.8 1300.5 127.4 1300.2 128 1300.3 128.6 1301.5 129.2 1301.6 129.8 1300.8 130.4 1300.3 131 1300.2 131.6 1300.5 132.2 1300.4 132.8 1299.9 133.4 1299.5 134 1300 134.6 1300.4 135.2 1299.7 135.8 1299.3 136.4 1299 137 1298.8 137.6 1298.1 138.2 1296.6 138.8 1294.8 139.4 1292.6 140 1289 140.6 1283.9 141.2 1277.3 141.8 1268.5 142.4 1258 143 1248.2 143.6 1240.1 144.2 1234.8 144.8 1235.5 145.4 1242 146 1250.6 146.6 1259.8 147.2 1269.5 147.8 1278.4 148.4 1285.6 149 1290.2 149.6 1292.9 150.2 1295.2 150.8 1296.5 151.4 1297.6 152 1298.6 152.6 1299 153.2 1299.2 153.8 1299.2 154.4 1299.2 155 1299.9 155.6 1300.6 156.2 1301.2 156.8 1301.7 157.4 1301.4 158 1301.3 158.6 1301.4 159.2 1300.8 159.8 1299.7 160.4 1299.8 161 1300.9 161.6 1301.5 162.2 1301.2 162.8 1301 163.4 1301.4 164 1301.9 164.6 1301.3 165.2 1300.6 165.8 1300.9 166.4 1301.3 167 1300.4 167.6 1299.4 168.2 1299.4 168.8 1300.3 169.4 1301.2 170 1301.2 170.6 1300.6 171.2 1300.5 171.8 1300.9 172.4 1301 173 1300.9 173.6 1300.9 174.2 1301.3 174.8 1301.4 175.4 1300.7 176 1300.6 176.6 1301 177.2 1301.3 177.8 1301.4 178.4 1301.5 179 1301.6 179.6 1301.7 180.2 1301.5 180.8 1301.2 181.4 1301.4 182 1301.5 182.6 1301.8 183.2 1302.3 183.8 1302.5 184.4 1301.9 185 1300.7 185.6 1300.7 186.2 1301.3 186.8 1301.1 187.4 1301.4 188 1302.2 188.6 1301.9 189.2 1301.2 189.8 1301.5 190.4 1301.7 191 1301.5 191.6 1301.4 192.2 1301.1 192.8 1300.8 193.4 1300.9 194 1301.1 194.6 1301.4 195.2 1301.5 195.8 1301.2 196.4 1301.5 197 1301.6 197.6 1301.6 198.2 1301.6 198.8 1301.4 199.4 1301.2 200 1301.4 200.6 1301.6 201.2 1301.4 201.8 1300.6 202.4 1300.4 203 1300.4 203.6 1300.8 204.2 1301.4 204.8 1301.6 205.4 1301.8 206 1301.2 206.6 1300.1 207.2 1300.7 207.8 1302.1 208.4 1302.3 209 1301.4 209.6 1301.2 210.2 1301.5 210.8 1301 211.4 1301.1 212 1301.5 212.6 1301.2 213.2 1300.9 213.8 1301.2 214.4 1301.6 215 1301.1 215.6 1300.7 216.2 1301.1 216.8 1301.4 217.4 1301.1 218 1301.1 218.6 1301.4 219.2 1301.2 219.8 1300.9 220.4 1301.2 221 1301.4 221.6 1301.1 222.2 1300.5 222.8 1300.8 223.4 1301.6 224 1301.9 224.6 1301.7 225.2 1301.6 225.8 1301.9 226.4 1302.2 227 1302.4 227.6 1301.8 228.2 1301.3 228.8 1301.1 229.4 1300.7 230 1300.9 230.6 1301.2 231.2 1301.4 231.8 1301.6 232.4 1301.2 233 1300.7 233.6 1300.8 234.2 1301 234.8 1301.3 235.4 1301.3 236 1301.2 236.6 1301.7 237.2 1302 237.8 1301.7 238.4 1301.3 239 1300.8 239.6 1301.1 240.2 1301.3 240.9 1300.8 241.5 1300.6 242.1 1301.1 242.7 1301.9 243.3 1301.9 243.9 1301.4 244.5 1300.8 245.1 1300.5 245.7 1301.2 246.3 1301.9 246.9 1301.5 247.5 1300.7 248.1 1300.9 248.7 1300.7 249.3 1300.1 249.9 1300.5 250.5 1301.3 251.1 1301.7 251.7 1301.4 252.3 1301.2 252.9 1301.3 253.5 1301.2 254.1 1300.8 254.7 1300.8 255.3 1301.1 255.9 1301.7 256.5 1301.9 257.1 1301.7 257.7 1301.8 258.3 1301.9 258.9 1301.5 259.5 1300.8 260.1 1300.5 260.7 1301 261.3 1301.4 261.9 1301.4 262.5 1301.4 263.1 1301.4 263.7 1301.3 264.3 1300.9 264.9 1300.5 265.5 1300.5 266.1 1300.6 266.7 1300.5 267.3 1299.7 267.9 1298.8 268.5 1298.3 269.1 1298 269.7 1297.3 270.3 1295.9 270.9 1294.3 271.5 1293.7 272.1 1294.3 272.7 1295.3 273.3 1295.6 273.9 1295.6 274.5 1296.1 275.1 1296.8 275.7 1297.6 276.3 1298.9 276.9 1299.7 277.5 1299.7 278.1 1299.7 278.7 1300.4 279.3 1301.5 279.9 1301.6 280.5 1300.6 281.1 1300.4 281.7 1300.9 282.3 1301.4 282.9 1301.7 283.5 1301.5 284.1 1301 284.7 1300.8 285.3 1300.7 285.9 1300.6 286.5 1300.6 287.1 1301.1 287.7 1301.9 288.3 1301.6 288.9 1300.7 289.5 1301.1 290.1 1301.6 290.7 1301.5 291.3 1301.5 291.9 1301.8 292.5 1301.9 293.1 1301.6 293.7 1301.1 294.3 1300.5 294.9 1300.3 295.5 1300.8 296.1 1301.2 296.7 1301 297.3 1300.8 297.9 1301.1 298.5 1301.7 299.1 1301.2 299.7 1300.5 300.3 1300.7 300.9 1301.1 301.5 1300.9 302.1 1300.4 302.7 1300.7 303.3 1300.9 303.9 1301.1 304.5 1301.6 305.1 1301.4 305.7 1300.9 306.3 1301.2 306.9 1302 307.5 1302.1 308.1 1301.6 308.7 1301.3 309.3 1301.4 309.9 1301.2 310.5 1300.6 311.1 1300.5 311.7 1300.9 312.3 1301.3 312.9 1301.3 313.5 1301.1 314.1 1301.1 314.7 1301.1 315.3 1301.2 315.9 1300.9 316.5 1300.2 317.1 1299.9 317.7 1300.1 318.3 1300.4 318.9 1300.4 319.5 1299.8 320.1 1299.3 320.7 1300 321.3 1300.9 321.9 1300.5 322.5 1299.5 323.1 1299.1 323.7 1298.9 324.3 1298.4 324.9 1298 325.5 1297.4 326.1 1296.5 326.7 1295.7 327.3 1294.8 327.9 1293.2 328.5 1290.9 329.1 1288.2 329.7 1284.6 330.3 1280.4 330.9 1276.9 331.5 1273.9 332.1 1270 332.7 1266.9 333.3 1266 333.9 1266.8 334.5 1269.1 335.1 1271.9 335.7 1274.3 336.3 1276.2 336.9 1276.8 337.5 1276.2 338.1 1276.9 338.7 1278.3 339.3 1279.3 339.9 1281.2 340.5 1283.8 341.1 1286.2 341.7 1288.4 342.3 1290.1 342.9 1291.4 343.5 1292.2 344.1 1293 344.7 1294.3 345.3 1295.1 345.9 1295 346.5 1294.7 347.1 1294.8 347.7 1294.4 348.3 1293.6 348.9 1293.5 349.5 1294.4 350.1 1295.1 350.7 1295.4 351.3 1296 351.9 1297.2 352.5 1298.9 353.1 1299.6 353.7 1299 354.3 1298.3 354.9 1298.6 355.5 1299.4 356.1 1298.9 356.7 1298.3 357.3 1298.1 357.9 1297 358.5 1295.1 359.1 1293.7 359.7 1293.6 360.3 1294.2 360.9 1294.5 361.5 1294.8 362.1 1296 362.7 1297.1 363.3 1297.8 363.9 1299 364.5 1299.9 365.1 1299.8 365.7 1299.7 366.3 1300.4 366.9 1301 367.5 1301.1 368.1 1300.8 368.7 1300.3 369.3 1300.7 369.9 1301.1 370.5 1300.8 371.1 1300.6 371.7 1300.8 372.3 1301.2 372.9 1300.9 373.5 1300.6 374.1 1300.9 374.7 1301.2 375.3 1301.1 375.9 1300.7 376.5 1300.7 377.1 1301.5 377.7 1302.1 378.3 1301.4 378.9 1300.7 379.5 1300.7 380.1 1300.4 380.7 1300.1 381.3 1300.3 381.9 1300.8 382.5 1301.4 383.1 1301.9 383.7 1302 384.3 1301.6 384.9 1301.1 385.5 1301.1 386.1 1301.4 386.7 1301.5 387.3 1301 387.9 1301 388.5 1301.7 389.1 1301.5 389.7 1301 390.3 1301.1 390.9 1301.2 391.5 1301.3 392.1 1301.5 392.7 1301.3 393.3 1300.9 393.9 1300.4 394.5 1300.1 395.1 1300.7 395.7 1301.4 396.3 1301.1 396.9 1300.6 397.5 1300.5 398.1 1300.5 398.7 1301.2 399.3 1302 399.9 1302.1 400.5 1301.7 401.1 1301.2 401.7 1300.5 402.3 1300 402.9 1300.2 403.5 1300.4 404.1 1300.7 404.7 1300.4 405.3 1300.1 405.9 1300.7 406.5 1301 407.1 1300.2 407.7 1299.9 408.3 1299.7 408.9 1298.7 409.5 1298 410.1 1297.5 410.7 1297 411.3 1296.2 411.9 1294.9 412.5 1293 413.1 1290.9 413.7 1289.2 414.3 1287.2 414.9 1285.9 415.5 1285.5 416.1 1285.1 416.7 1285.5 417.3 1286.4 417.9 1287.1 418.5 1288.1 419.1 1288.4 419.7 1287.4 420.3 1286.1 420.9 1284.2 421.5 1280.7 422.1 1276.4 422.7 1272.4 423.3 1269.8 423.9 1269.7 424.5 1272.1 425.1 1275.9 425.7 1280 426.3 1283.9 426.9 1287.3 427.5 1289.2 428.1 1290.8 428.7 1291.8 429.3 1291.6 429.9 1291.2 430.5 1291.8 431.1 1292.9 431.7 1293.4 432.3 1294.1 432.9 1295.4 433.5 1296 434.1 1296.6 434.7 1298 435.3 1299.4 435.9 1299.8 436.5 1299.5 437.1 1299.5 437.7 1300.2 438.3 1300.5 438.9 1300.8 439.5 1301 440.1 1300.8 440.7 1300.5 441.3 1300.2 441.9 1300.4 442.5 1300.5 443.1 1300.6 443.7 1300.5 444.3 1299.9 444.9 1300.1 445.5 1300.5 446.1 1300.5 446.7 1300.4 447.3 1300.5 447.9 1301.3 448.5 1301.6 449.1 1301.2 449.7 1301 450.3 1300.7 450.9 1300.4 451.5 1300.4 452.1 1300.9 452.7 1301.2 453.3 1301.4 453.9 1301.7 454.5 1301.6 455.1 1301 455.7 1300.8 456.3 1300.8 456.9 1300.7 457.5 1301.1 458.1 1301.7 458.7 1301.8 459.3 1301.5 459.9 1301 460.5 1300.6 461.1 1300.4 461.7 1300.1 462.3 1300.3 462.9 1300.8 463.5 1301 464.1 1300.8 464.7 1300.4 465.3 1300 465.9 1299.9 466.5 1300.1 467.1 1299.4 467.7 1298.3 468.3 1298.4 468.9 1298.8 469.5 1298.6 470.1 1298.5 470.7 1298.5 471.3 1298.7 471.9 1299.4 472.5 1299.8 473.1 1299.8 473.7 1299.6 474.3 1299.8 474.9 1300.4 475.5 1300.8 476.1 1300.8 476.7 1300.8 477.3 1301.2 477.9 1301.4 478.5 1301.3 479.1 1301.3 479.7 1301.2 480.3 1301 480.9 1300.8 481.5 1300.6 482.1 1301 482.7 1301.1 483.3 1300.8 483.9 1301 484.5 1301 485.1 1300.9 485.7 1301.2 486.3 1301.6 486.9 1301.7 487.5 1301.7 488.1 1301.9 488.7 1301.7 489.3 1301.5 489.9 1301.4 490.5 1300.9 491.1 1300.7 491.7 1301.2 492.3 1301.7 492.9 1301.6 493.5 1301.6 494.1 1301.9 494.7 1301.4 495.3 1301.2 495.9 1301.8 496.5 1301.8 497.1 1301.3 497.7 1301.2 498.3 1301 498.9 1301.5 499.5 1302.5 500.1 1302.4 500.7 1302 501.3 1301.6 501.9 1301.2 502.5 1301.4 503.1 1301.4 503.7 1301.1 504.3 1301.4 504.9 1301.7 505.5 1301.7 506.1 1301.6 506.7 1301.2 507.3 1300.9 507.9 1300.8 508.5 1300.5 509.1 1300.9 509.7 1302 510.3 1302.4 510.9 1301.4 511.5 1300.8 512.1 1301.6 512.7 1301.8 513.3 1301.6 513.9 1301.8 514.5 1301.5 515.1 1300.8 515.7 1300.9 516.3 1301.1 516.9 1300.8 517.5 1301.2 518.1 1301.8 518.7 1302.2 519.3 1302.6 519.9 1302.6 520.5 1302.5 521.1 1302.1 521.7 1302 522.3 1301.9 522.9 1301.4 523.5 1301 524.1 1300.9 524.7 1300.6 525.3 1301.3 525.9 1302.2 526.5 1302 527.1 1301.3 527.7 1300.8 528.3 1300.4 528.9 1300.7 529.5 1301 530.1 1301.2 530.7 1301.4 531.3 1301 531.9 1300.9 532.5 1301.6 533.1 1301.8 533.7 1301.4 534.3 1301.3 534.9 1301.7 535.5 1302 536.1 1301.6 536.7 1300.7 537.3 1300.1 537.9 1300.1 538.5 1301 539.1 1301.8 539.7 1301.9 540.3 1301.7 540.9 1301.4 541.5 1301.1 542.1 1301.2 542.7 1301.1 543.3 1300.6 543.9 1300.6 544.5 1300.9 545.1 1300.6 545.7 1300.8 546.3 1301.1 546.9 1301.1 547.5 1301.2 548.1 1301.2 548.7 1300.9 549.3 1300.5 549.9 1300.3 550.5 1300.3 551.1 1301 551.7 1301.5 552.3 1301.3 552.9 1301.3 553.5 1301.2 554.1 1300.8 554.7 1300.8 555.3 1300.8 555.9 1300.7 556.5 1300.6 557.1 1300.2 557.7 1300.3 558.3 1300.3 558.9 1299.9 559.5 1300 560.1 1300.4 560.7 1300.2 561.3 1299.7 561.9 1299.5 562.5 1299.2 563.1 1298.6 563.7 1298.1 564.3 1297.7 564.9 1296.9 565.5 1296.2 566.1 1295.7 566.7 1294.6 567.3 1293.3 567.9 1292.6 568.5 1292.1 569.1 1291.4 569.7 1290.5 570.3 1290 570.9 1290.2 571.5 1290.5 572.1 1290.7 572.7 1290.6 573.3 1290.5 573.9 1291 574.5 1291.7 575.1 1292 575.7 1291.4 576.3 1290.7 576.9 1290.4 577.5 1290.7 578.1 1291.3 578.7 1291 579.3 1290.3 579.9 1290.5 580.5 1291.6 581.1 1293.1 581.7 1294.8 582.3 1296.3 582.9 1296.3 583.5 1296.3 584.1 1297 584.7 1297.9 585.3 1299.1 585.9 1299.9 586.5 1299.6 587.1 1299.2 587.7 1299.9 588.3 1300.4 588.9 1300 589.5 1300 590.1 1300.5 590.7 1300.8 591.3 1300.8 591.9 1300.8 592.5 1300.7 593.1 1300.5 593.7 1300.7 594.3 1300.7 594.9 1300.5 595.5 1300.7 596.1 1301 596.7 1301.1 597.3 1300.9 597.9 1300.3 598.5 1300.3 599.1 1300.8 599.7 1301 600.3 1300.8 600.9 1300.5 601.5 1300.4 602.1 1300.8 602.7 1301.1 603.3 1301.4 603.9 1301.8 604.5 1301.8 605.1 1301.4 605.7 1300.4 606.3 1299.8 606.9 1300.1 607.5 1300.1 608.1 1300.3 608.7 1300.6 609.3 1300.6 609.9 1301.2 610.5 1302.1 611.1 1302.4 611.7 1302.2 612.3 1301.8 612.9 1300.9 613.5 1300.6 614.1 1300.8 614.7 1300.7 615.3 1300.9 615.9 1300.4 616.5 1300.2 617.1 1300.7 617.7 1301 618.3 1301 618.9 1300.2 619.5 1299.8 620.1 1300.2 620.7 1299.9 621.4 1299.5 622 1299.7 622.6 1300 623.2 1299.5 623.8 1298.7 624.4 1298.5 625 1298.7 625.6 1298.5 626.2 1297.6 626.8 1296.4 627.4 1295.5 628 1294.3 628.6 1292.3 629.2 1289.8 629.8 1287.7 630.4 1286.4 631 1284.5 631.6 1282.8 632.2 1283.3 632.8 1284.7 633.4 1285.9 634 1287.3 634.6 1288.8 635.2 1289.7 635.8 1290.5 636.4 1291 637 1290.6 637.6 1289.9 638.2 1289 638.8 1286.8 639.4 1284.1 640 1282.3 640.6 1281.1 641.2 1280.8 641.8 1281.6 642.4 1282.9 643 1284.9 643.6 1287.8 644.2 1289.9 644.8 1290.6 645.4 1291.2 646 1292.2 646.6 1292.5 647.2 1292.3 647.8 1292 648.4 1291.7 649 1291.5 649.6 1291.1 650.2 1291.5 650.8 1292.8 651.4 1294.3 652 1295.3 652.6 1295.8 653.2 1296.8 653.8 1298.1 654.4 1298.7 655 1298.4 655.6 1298.5 656.2 1299.3 656.8 1299.9 657.4 1300.3 658 1300.2 658.6 1300 659.2 1299.8 659.8 1300.3 660.4 1300.6 661 1300 661.6 1299.8 662.2 1300.2 662.8 1300.2 663.4 1299.9 664 1300 664.6 1300.1 665.2 1299.7 665.8 1299.5 666.4 1299.6 667 1299.1 667.6 1298.7 668.2 1298.9 668.8 1299 669.4 1298.9 670 1298.9 670.6 1298.6 671.2 1298.1 671.8 1297.9 672.4 1298.2 673 1298.4 673.6 1298.5 674.2 1298.1 674.8 1297.7 675.4 1298.2 676 1298.6 676.6 1298 677.2 1297.1 677.8 1296.8 678.4 1296.8 679 1296.9 679.6 1297.4 680.2 1297.4 680.8 1297.4 681.4 1297.6 682 1297.2 682.6 1297.2 683.2 1298.1 683.8 1298.8 684.4 1298.9 685 1298.8 685.6 1298.6 686.2 1299.1 686.8 1300.1 687.4 1300.1 688 1299.4 688.6 1299.4 689.2 1299.7 689.8 1300 690.4 1300.1 691 1300.1 691.6 1300.1 692.2 1300.2 692.8 1300.9 693.4 1301.4 694 1301.1 694.6 1300.8 695.2 1301 695.8 1301 696.4 1300 697 1299.6 697.6 1300.3 698.2 1301.2 698.8 1301.6 699.4 1301.6 700 1301.5 700.6 1301.2 701.2 1300.7 701.8 1300.6 702.4 1300.9 703 1300.9 703.6 1301.2 704.2 1301.4 704.8 1300.9 705.4 1300.7 706 1301 706.6 1301.3 707.2 1301.2 707.8 1301 708.4 1301.4 709 1301.9 709.6 1301.6 710.2 1301.2 710.8 1300.9 711.4 1300.7 712 1301 712.6 1301.2 713.2 1301.3 713.8 1301.6 714.4 1301.3 715 1301.1 715.6 1301.4 716.2 1301.1 716.8 1300.6 717.4 1301.2 718 1301.5 718.6 1301.1 719.2 1301 719.8 1300.9 720.4 1300.8 721 1301.1 721.6 1300.8 722.2 1300.3 722.8 1300.7 723.4 1301.3 724 1301 724.6 1300.7 725.2 1300.8 725.8 1301.1 726.4 1301.3 727 1300.8 727.6 1300.7 728.2 1301.3 728.8 1301.8 729.4 1301.8 730 1301.5 730.6 1300.8 731.2 1300.3 731.8 1300.6 732.4 1300.7 733 1300.5 733.6 1300.8 734.2 1301.2 734.8 1301.4 735.4 1302 736 1301.6 736.6 1300.6 737.2 1300.3 737.8 1300.8 738.4 1301.4 739 1301.4 739.6 1301 740.2 1301.3 740.8 1301.6 741.4 1301.2 742 1300.4 742.6 1300.2 743.2 1300.2 743.8 1300.4 744.4 1300.9 745 1300.8 745.6 1300.5 746.2 1300.6 746.8 1301.1 747.4 1301.4 748 1301.6 748.6 1301.4 749.2 1301.1 749.8 1301.9 750.4 1302.1 751 1301.1 751.6 1300.7 752.2 1301.2 752.8 1301.4 753.4 1300.7 754 1300.8 754.6 1301.3 755.2 1300.3 755.8 1299.5 756.4 1300.4 757 1301.3 757.6 1301.7 758.2 1302.1 758.8 1301.8 759.4 1300.5 760 1299.4 760.6 1299.7 761.2 1300.4 761.8 1299.8 762.4 1298.7 763 1298.7 763.6 1299.3 764.2 1299.6 764.8 1299.4 765.4 1299 766 1299 766.6 1299.2 767.2 1299.3 767.8 1299.2 768.4 1298.9 769 1298.7 769.6 1298.7 770.2 1298.5 770.8 1298.5 771.4 1298.4 772 1298.1 772.6 1298 773.2 1298.2 773.8 1298.2 774.4 1298.1 775 1298 775.6 1297.8 776.2 1297.6 776.8 1297.5 777.4 1296.9 778 1296.7 778.6 1296.9 779.2 1296.7 779.8 1297.3 780.4 1298.2 781 1297.9 781.6 1297.5 782.2 1297.8 782.8 1297.8 783.4 1297.5 784 1297.6 784.6 1297.7 785.2 1297.9 785.8 1298 786.4 1297.9 787 1298.8 787.6 1299.5 788.2 1298.8 788.8 1298.3 789.4 1298.8 790 1299.3 790.6 1299.3 791.2 1299.8 791.8 1300.2 792.4 1299.6 793 1299.3 793.6 1299.4 794.2 1299.5 794.8 1299.6 795.4 1299.7 796 1300.1 796.6 1300.5 797.2 1300.8 797.8 1300.8 798.4 1300.9 799 1301 799.6 1300.8 800.2 1300.6 800.8 1300.7 801.4 1300.9 802 1300.8 802.6 1300.8 803.2 1300.7 803.8 1300.5 804.4 1300.3 805 1300.2 805.6 1300.5 806.2 1301 806.8 1301.4 807.4 1301.5 808 1301.3 808.6 1301.2 809.2 1301.6 809.8 1301.8 810.4 1301.1 811 1300.9 811.6 1301.2" fill="none" stroke="#f4a272" stroke-width="3.3" stroke-linejoin="round"/><path d="M50 1334.1L50.6 1333.4 51.2 1332.6 51.8 1332.4 52.4 1333.5 53 1334.4 53.6 1334.3 54.2 1334.4 54.8 1334.3 55.4 1334.3 56 1334.7 56.6 1334.2 57.2 1334.5 57.8 1335.1 58.4 1334.5 59 1333.9 59.6 1333.8 60.2 1333.6 60.8 1333 61.4 1333.6 62 1334.6 62.6 1334.3 63.2 1334 63.8 1334.1 64.4 1334.2 65 1334.2 65.6 1333.9 66.2 1333.5 66.8 1333.7 67.4 1334 68 1334.1 68.6 1333.9 69.2 1333.5 69.8 1333.5 70.4 1333.7 71 1334.2 71.6 1334.3 72.2 1334.1 72.8 1334 73.4 1334.3 74 1334.4 74.6 1334.6 75.2 1334.3 75.8 1333.7 76.4 1333.7 77 1333.9 77.6 1334.3 78.2 1334.7 78.8 1334.7 79.4 1334.3 80 1333.7 80.6 1333.9 81.2 1334.3 81.8 1334.3 82.4 1334 83 1334.1 83.6 1333.9 84.2 1333.2 84.8 1333.3 85.4 1333.7 86 1333.3 86.6 1333.4 87.2 1334.1 87.8 1334.2 88.4 1333.9 89 1333.8 89.6 1333.7 90.2 1333.5 90.8 1333.7 91.4 1334.2 92 1334.4 92.6 1334 93.2 1333.7 93.8 1333.6 94.4 1333.4 95 1333.9 95.6 1334.1 96.2 1333.9 96.8 1334 97.4 1334.1 98 1334.5 98.6 1334.5 99.2 1333.6 99.8 1332.9 100.4 1333.1 101 1333 101.6 1333 102.2 1333.8 102.8 1334.3 103.4 1334.1 104 1333.4 104.6 1333 105.2 1333 105.8 1333.3 106.4 1333.7 107 1333.7 107.6 1333.7 108.2 1333.8 108.8 1333.9 109.4 1334.3 110 1334.1 110.6 1333.8 111.2 1333.9 111.8 1334.3 112.4 1334.5 113 1334.4 113.6 1334.3 114.2 1333.8 114.8 1333.2 115.4 1333.3 116 1333.6 116.6 1333.3 117.2 1333.3 117.8 1333.7 118.4 1333.5 119 1333.5 119.6 1333.9 120.2 1333.9 120.8 1333.9 121.4 1333.8 122 1334 122.6 1334.2 123.2 1334.2 123.8 1334.2 124.4 1333.7 125 1333.3 125.6 1333.6 126.2 1333.8 126.8 1333.4 127.4 1333.1 128 1333.5 128.6 1333.7 129.2 1333 129.8 1332.5 130.4 1332.8 131 1333 131.6 1332.8 132.2 1332.3 132.8 1331.9 133.4 1332.1 134 1332.4 134.6 1332.4 135.2 1332.2 135.8 1331.7 136.4 1331.1 137 1330.5 137.6 1329.5 138.2 1328.9 138.8 1328.4 139.4 1326 140 1322.2 140.6 1317.9 141.2 1311.5 141.8 1303 142.4 1293.4 143 1282.9 143.6 1272.8 144.2 1265.2 144.8 1263.8 145.4 1268.4 146 1277.4 146.6 1289.1 147.2 1300 147.8 1308.5 148.4 1315.5 149 1320.9 149.6 1324.5 150.2 1327 150.8 1328.7 151.4 1329.7 152 1330.9 152.6 1331.9 153.2 1332.1 153.8 1331.5 154.4 1331.3 155 1331.6 155.6 1332.1 156.2 1332.5 156.8 1332.1 157.4 1331.7 158 1331.9 158.6 1333 159.2 1333.8 159.8 1333.8 160.4 1333.2 161 1332.8 161.6 1332.6 162.2 1332.3 162.8 1332.7 163.4 1333.5 164 1333.6 164.6 1333.5 165.2 1333.7 165.8 1334.3 166.4 1334.2 167 1333.5 167.6 1333.2 168.2 1333.5 168.8 1334.3 169.4 1334.4 170 1334.3 170.6 1334.5 171.2 1333.9 171.8 1332.8 172.4 1332.6 173 1333.3 173.6 1333.7 174.2 1333.6 174.8 1334 175.4 1334.3 176 1334.2 176.6 1334.4 177.2 1334.7 177.8 1334.2 178.4 1333.8 179 1334 179.6 1334.5 180.2 1334.7 180.8 1333.8 181.4 1333.2 182 1333.7 182.6 1333.9 183.2 1333.9 183.8 1334.1 184.4 1334.3 185 1334.2 185.6 1333.6 186.2 1333.4 186.8 1333.6 187.4 1333.9 188 1334.4 188.6 1334.4 189.2 1334.3 189.8 1334.6 190.4 1334.6 191 1334.5 191.6 1334.4 192.2 1334 192.8 1333.8 193.4 1333.6 194 1333.4 194.6 1333.7 195.2 1334.2 195.8 1334 196.4 1334.1 197 1334.5 197.6 1334.1 198.2 1334.1 198.8 1334.6 199.4 1334.4 200 1333.8 200.6 1333.7 201.2 1334.1 201.8 1334.4 202.4 1334.4 203 1334.3 203.6 1334.6 204.2 1335 204.8 1334.8 205.4 1334.2 206 1333.9 206.6 1333.8 207.2 1333.8 207.8 1334.1 208.4 1334 209 1333.4 209.6 1333.3 210.2 1333.7 210.8 1333.9 211.4 1333.7 212 1333.7 212.6 1333.7 213.2 1333.7 213.8 1333.9 214.4 1334.3 215 1334.7 215.6 1334.4 216.2 1334.2 216.8 1334.8 217.4 1334.7 218 1334.3 218.6 1334.3 219.2 1333.8 219.8 1333.5 220.4 1333.9 221 1334.5 221.6 1334.5 222.2 1334.2 222.8 1334 223.4 1334 224 1334.3 224.6 1334.8 225.2 1334.8 225.8 1334.4 226.4 1334.6 227 1334.3 227.6 1333.7 228.2 1334.4 228.8 1335.1 229.4 1334.9 230 1334.4 230.6 1333.8 231.2 1333.3 231.8 1333.8 232.4 1334 233 1333.7 233.6 1333.8 234.2 1334.3 234.8 1334.6 235.4 1333.8 236 1333 236.6 1332.9 237.2 1333.5 237.8 1334 238.4 1333.9 239 1333.9 239.6 1334.3 240.2 1334.5 240.9 1334.5 241.5 1333.8 242.1 1333.2 242.7 1333.4 243.3 1333.7 243.9 1334 244.5 1333.9 245.1 1333.8 245.7 1333.6 246.3 1333.3 246.9 1333.7 247.5 1334.1 248.1 1333.9 248.7 1333.8 249.3 1333.9 249.9 1333.7 250.5 1333.8 251.1 1334 251.7 1333.9 252.3 1333.9 252.9 1333.7 253.5 1333.2 254.1 1333.6 254.7 1334.7 255.3 1334.9 255.9 1334.3 256.5 1334.5 257.1 1334.7 257.7 1334.5 258.3 1333.7 258.9 1333 259.5 1333.1 260.1 1333.8 260.7 1334.7 261.3 1334.8 261.9 1334.1 262.5 1334 263.1 1334.7 263.7 1334.8 264.3 1334 264.9 1333.9 265.5 1334 266.1 1333.7 266.7 1333.6 267.3 1333.7 267.9 1333.5 268.5 1333.2 269.1 1333.7 269.7 1334.3 270.3 1334.4 270.9 1334.3 271.5 1334.1 272.1 1334.2 272.7 1334.4 273.3 1333.9 273.9 1333.6 274.5 1333.4 275.1 1331.3 275.7 1327 276.3 1323.4 276.9 1326.6 277.5 1330.7 278.1 1332.7 278.7 1333.7 279.3 1334.1 279.9 1333.9 280.5 1333.8 281.1 1334.3 281.7 1334.8 282.3 1334.7 282.9 1334 283.5 1333.9 284.1 1334.1 284.7 1333.7 285.3 1333.8 285.9 1334 286.5 1333.7 287.1 1333.5 287.7 1333.4 288.3 1333.5 288.9 1333.9 289.5 1333.9 290.1 1333.8 290.7 1333.9 291.3 1333.9 291.9 1334 292.5 1334 293.1 1333.8 293.7 1333.5 294.3 1333.2 294.9 1333 295.5 1333.1 296.1 1333 296.7 1332.9 297.3 1333.4 297.9 1334 298.5 1334 299.1 1333.8 299.7 1333.9 300.3 1334.5 300.9 1334.6 301.5 1333.7 302.1 1333.3 302.7 1333.5 303.3 1333.9 303.9 1334 304.5 1333.9 305.1 1334 305.7 1333.4 306.3 1332.4 306.9 1332.7 307.5 1333.2 308.1 1333.3 308.7 1333.8 309.3 1334 309.9 1333.3 310.5 1333.3 311.1 1334.1 311.7 1334.6 312.3 1334.4 312.9 1333.8 313.5 1333.3 314.1 1333.3 314.7 1333.4 315.3 1333.3 315.9 1333.4 316.5 1333.2 317.1 1333.5 317.7 1334 318.3 1333.9 318.9 1333.8 319.5 1333.3 320.1 1332.7 320.7 1332.4 321.3 1332.7 321.9 1333.3 322.5 1332.7 323.1 1332.1 323.7 1332.5 324.3 1332.2 324.9 1331.9 325.5 1331.6 326.1 1331.4 326.7 1332.1 327.3 1332 327.9 1331.1 328.5 1330.5 329.1 1329.8 329.7 1328.8 330.3 1327.7 330.9 1326 331.5 1324.2 332.1 1322.3 332.7 1319.1 333.3 1314.5 333.9 1309.5 334.5 1303.8 335.1 1297 335.7 1291.3 336.3 1287.9 336.9 1286.8 337.5 1288.1 338.1 1292.4 338.7 1298.9 339.3 1305.3 339.9 1310.5 340.5 1315.6 341.1 1319.8 341.7 1322.4 342.3 1325.1 342.9 1327.2 343.5 1328.2 344.1 1328.6 344.7 1329.1 345.3 1329.8 345.9 1330 346.5 1330.4 347.1 1330.9 347.7 1331 348.3 1331.4 348.9 1331.5 349.5 1331.2 350.1 1330.7 350.7 1329.4 351.3 1328.1 351.9 1327.8 352.5 1326.9 353.1 1324.9 353.7 1323.6 354.3 1323.2 354.9 1322.8 355.5 1323.2 356.1 1324.9 356.7 1326.7 357.3 1326.8 357.9 1326.8 358.5 1327.5 359.1 1327.2 359.7 1326.4 360.3 1325.8 360.9 1325.5 361.5 1325.9 362.1 1327.2 362.7 1329.1 363.3 1330.5 363.9 1331.3 364.5 1332.4 365.1 1333.2 365.7 1332.8 366.3 1332.3 366.9 1332.6 367.5 1333.3 368.1 1333.5 368.7 1333.5 369.3 1333.5 369.9 1333.4 370.5 1333.2 371.1 1333.2 371.7 1333.2 372.3 1333.4 372.9 1333.3 373.5 1332.9 374.1 1332.8 374.7 1333.2 375.3 1333.4 375.9 1333.4 376.5 1333.6 377.1 1334 377.7 1333.9 378.3 1333.6 378.9 1333.5 379.5 1332.6 380.1 1332.4 380.7 1333.1 381.3 1333.1 381.9 1333.1 382.5 1333 383.1 1332.6 383.7 1332.6 384.3 1333.1 384.9 1333.7 385.5 1333.8 386.1 1333.6 386.7 1333.6 387.3 1333.5 387.9 1332.9 388.5 1333.3 389.1 1334.3 389.7 1334.6 390.3 1334.5 390.9 1334.4 391.5 1334.2 392.1 1333.3 392.7 1332.5 393.3 1332.8 393.9 1333.6 394.5 1333.9 395.1 1333.5 395.7 1333.3 396.3 1333.4 396.9 1333.2 397.5 1333.3 398.1 1333.6 398.7 1333.4 399.3 1332.9 399.9 1332.4 400.5 1332.4 401.1 1333.2 401.7 1333.6 402.3 1333.1 402.9 1332.6 403.5 1332.8 404.1 1333 404.7 1332.7 405.3 1332.8 405.9 1333 406.5 1332.8 407.1 1332.7 407.7 1333.1 408.3 1333.4 408.9 1332.8 409.5 1332 410.1 1331.6 410.7 1332.1 411.3 1332.3 411.9 1332.3 412.5 1332.1 413.1 1331.5 413.7 1331.1 414.3 1331.2 414.9 1331.9 415.5 1331.8 416.1 1331.1 416.7 1330.6 417.3 1329.7 417.9 1328.3 418.5 1326.9 419.1 1324.4 419.7 1320.4 420.3 1316.5 420.9 1312.3 421.5 1307 422.1 1301.4 422.7 1297.6 423.3 1295.6 423.9 1295.3 424.5 1297.6 425.1 1301.5 425.7 1305.9 426.3 1310.2 426.9 1314 427.5 1317.3 428.1 1319.6 428.7 1320.9 429.3 1321.8 429.9 1322.4 430.5 1323 431.1 1324.1 431.7 1324.7 432.3 1325.6 432.9 1327.3 433.5 1328.6 434.1 1329.7 434.7 1330.9 435.3 1331.3 435.9 1331.2 436.5 1331.5 437.1 1332 437.7 1332.7 438.3 1333 438.9 1332.8 439.5 1332.5 440.1 1332.3 440.7 1332.3 441.3 1333.2 441.9 1333.6 442.5 1333.4 443.1 1333.2 443.7 1333.4 444.3 1333.8 444.9 1333.6 445.5 1333.6 446.1 1334 446.7 1333.7 447.3 1333.4 447.9 1333.3 448.5 1333.2 449.1 1333.4 449.7 1333.7 450.3 1334.4 450.9 1334.4 451.5 1334.2 452.1 1334.6 452.7 1334.2 453.3 1333.8 453.9 1333.7 454.5 1333.7 455.1 1333.9 455.7 1333.4 456.3 1333.3 456.9 1333.8 457.5 1333.5 458.1 1333.2 458.7 1333.1 459.3 1333.3 459.9 1333.1 460.5 1332.6 461.1 1332.9 461.7 1333.4 462.3 1334.1 462.9 1334.4 463.5 1333.8 464.1 1333.3 464.7 1333.2 465.3 1332.5 465.9 1331.1 466.5 1330.3 467.1 1330 467.7 1329.6 468.3 1329.6 468.9 1329.7 469.5 1329.8 470.1 1330.7 470.7 1331.5 471.3 1331.6 471.9 1331.9 472.5 1332.2 473.1 1332.4 473.7 1332.3 474.3 1332.6 474.9 1333.4 475.5 1333.9 476.1 1333.6 476.7 1333.3 477.3 1333 477.9 1333.3 478.5 1333.7 479.1 1333.7 479.7 1333.5 480.3 1333.1 480.9 1333 481.5 1333.7 482.1 1334.2 482.7 1333.6 483.3 1333 483.9 1333.2 484.5 1333.8 485.1 1334.4 485.7 1334.3 486.3 1333.5 486.9 1333.2 487.5 1333.5 488.1 1333.6 488.7 1333.6 489.3 1333.9 489.9 1333.9 490.5 1333.8 491.1 1333.9 491.7 1334 492.3 1333.9 492.9 1334.2 493.5 1334.4 494.1 1334.5 494.7 1334.2 495.3 1333.6 495.9 1333.3 496.5 1333.1 497.1 1333.1 497.7 1333.9 498.3 1334.6 498.9 1334.5 499.5 1333.9 500.1 1333.3 500.7 1333.3 501.3 1333.5 501.9 1333.9 502.5 1334.2 503.1 1334.1 503.7 1334 504.3 1333.7 504.9 1333.6 505.5 1333.6 506.1 1333.7 506.7 1333.3 507.3 1332.8 507.9 1333.1 508.5 1333.9 509.1 1333.9 509.7 1333.2 510.3 1333.5 510.9 1334.5 511.5 1335 512.1 1334.7 512.7 1334.3 513.3 1334.3 513.9 1334 514.5 1333.6 515.1 1333.5 515.7 1333.9 516.3 1334 516.9 1333.1 517.5 1333 518.1 1333.9 518.7 1334.3 519.3 1334.1 519.9 1334 520.5 1333.9 521.1 1333.7 521.7 1333.4 522.3 1333.5 522.9 1333.7 523.5 1333.7 524.1 1333.9 524.7 1334.4 525.3 1334.1 525.9 1333.4 526.5 1333.1 527.1 1333.1 527.7 1332.9 528.3 1332.8 528.9 1332.9 529.5 1333.2 530.1 1333 530.7 1332.7 531.3 1333.7 531.9 1334 532.5 1333.4 533.1 1333.5 533.7 1333.8 534.3 1334.1 534.9 1334.3 535.5 1333.7 536.1 1333 536.7 1332.9 537.3 1333.5 537.9 1333.8 538.5 1333.6 539.1 1334 539.7 1334.1 540.3 1333.9 540.9 1333.7 541.5 1332.7 542.1 1332.4 542.7 1333.4 543.3 1333.9 543.9 1333.8 544.5 1333.4 545.1 1333.1 545.7 1333.4 546.3 1333.7 546.9 1333.9 547.5 1333.6 548.1 1333.3 548.7 1333.7 549.3 1334.2 549.9 1333.9 550.5 1333.2 551.1 1333.1 551.7 1333.6 552.3 1333.6 552.9 1333.6 553.5 1334.1 554.1 1334.2 554.7 1333.8 555.3 1333.8 555.9 1333.8 556.5 1333.3 557.1 1333.3 557.7 1333.3 558.3 1332.8 558.9 1333 559.5 1333.5 560.1 1333.3 560.7 1333.2 561.3 1333.8 561.9 1333.7 562.5 1333.6 563.1 1333.6 563.7 1332.8 564.3 1332.4 564.9 1332.8 565.5 1333.1 566.1 1333.3 566.7 1333.7 567.3 1333.4 567.9 1333 568.5 1332.8 569.1 1332.2 569.7 1331.5 570.3 1331.3 570.9 1331 571.5 1330.5 572.1 1329.9 572.7 1329.1 573.3 1328.2 573.9 1327.5 574.5 1327 575.1 1326.1 575.7 1324 576.3 1321.4 576.9 1319.7 577.5 1319.1 578.1 1318.9 578.7 1318.5 579.3 1318.6 579.9 1319.8 580.5 1321.5 581.1 1323.5 581.7 1325.2 582.3 1326.3 582.9 1327.7 583.5 1329.2 584.1 1330.2 584.7 1330.8 585.3 1331.5 585.9 1332.1 586.5 1332.4 587.1 1332.2 587.7 1332.3 588.3 1332.1 588.9 1331.6 589.5 1332.1 590.1 1332.9 590.7 1333.3 591.3 1333.3 591.9 1332.9 592.5 1332.7 593.1 1332.9 593.7 1333.1 594.3 1333.3 594.9 1333.3 595.5 1333.3 596.1 1333.4 596.7 1333.4 597.3 1333.6 597.9 1333.9 598.5 1334 599.1 1334.1 599.7 1334.1 600.3 1333.5 600.9 1333.2 601.5 1333.4 602.1 1333.2 602.7 1333.5 603.3 1333.8 603.9 1333.8 604.5 1333.8 605.1 1334 605.7 1334.1 606.3 1333.3 606.9 1332.7 607.5 1333.2 608.1 1334 608.7 1334.2 609.3 1334 609.9 1333.5 610.5 1333.4 611.1 1333.8 611.7 1333.3 612.3 1332.4 612.9 1332.6 613.5 1333.7 614.1 1333.4 614.7 1332.8 615.3 1333.5 615.9 1333.4 616.5 1332.9 617.1 1333.2 617.7 1333.5 618.3 1333.7 618.9 1333.7 619.5 1333.6 620.1 1333.8 620.7 1333.2 621.4 1332.9 622 1333 622.6 1332.6 623.2 1332.5 623.8 1332.6 624.4 1331.9 625 1331.5 625.6 1331.8 626.2 1331.6 626.8 1331.3 627.4 1331 628 1330.5 628.6 1330 629.2 1329.5 629.8 1328.9 630.4 1328.3 631 1327.9 631.6 1327.2 632.2 1326.4 632.8 1325.8 633.4 1325.3 634 1324.7 634.6 1324 635.2 1323.5 635.8 1322.9 636.4 1322.2 637 1321.5 637.6 1320.9 638.2 1320.2 638.8 1319.1 639.4 1316.9 640 1314.1 640.6 1312.1 641.2 1310.6 641.8 1308.9 642.4 1307.7 643 1308.5 643.6 1311 644.2 1314.4 644.8 1317.6 645.4 1320.1 646 1322.2 646.6 1323.9 647.2 1325.5 647.8 1326.3 648.4 1326.1 649 1325.7 649.6 1325 650.2 1324.4 650.8 1324.6 651.4 1325.9 652 1327.9 652.6 1329.2 653.2 1329.7 653.8 1330.3 654.4 1330.8 655 1330.7 655.6 1330.6 656.2 1331.2 656.8 1331.5 657.4 1331.4 658 1332.1 658.6 1333 659.2 1332.8 659.8 1332.3 660.4 1332.5 661 1333 661.6 1333.2 662.2 1332.9 662.8 1332.3 663.4 1331.6 664 1331.7 664.6 1332.2 665.2 1332.4 665.8 1332.4 666.4 1332.8 667 1333.5 667.6 1333.2 668.2 1332.5 668.8 1332.6 669.4 1332.6 670 1332.2 670.6 1331.9 671.2 1332.2 671.8 1332.2 672.4 1331.3 673 1330.6 673.6 1329.9 674.2 1329.2 674.8 1328.8 675.4 1328.5 676 1328.3 676.6 1328.3 677.2 1328 677.8 1327.1 678.4 1326.7 679 1327.2 679.6 1327.7 680.2 1327.6 680.8 1327.8 681.4 1328.4 682 1328.8 682.6 1328.9 683.2 1329.1 683.8 1329.7 684.4 1330.4 685 1331 685.6 1331 686.2 1331.3 686.8 1331.9 687.4 1332.3 688 1332.3 688.6 1332.6 689.2 1333.3 689.8 1333.2 690.4 1332.7 691 1332.8 691.6 1333.4 692.2 1333.7 692.8 1333.4 693.4 1333.2 694 1333.6 694.6 1334.3 695.2 1334 695.8 1333.4 696.4 1333.6 697 1333.9 697.6 1333.8 698.2 1333.7 698.8 1333.6 699.4 1333.6 700 1334 700.6 1334.4 701.2 1334 701.8 1333.4 702.4 1333.2 703 1333.3 703.6 1333.2 704.2 1333.3 704.8 1333.8 705.4 1334.1 706 1334.2 706.6 1334 707.2 1333.8 707.8 1334 708.4 1334.3 709 1334.1 709.6 1333.5 710.2 1333.4 710.8 1334 711.4 1334.4 712 1334 712.6 1333.2 713.2 1333.3 713.8 1333.5 714.4 1333.1 715 1333.2 715.6 1333.5 716.2 1333.6 716.8 1333.9 717.4 1334.2 718 1333.8 718.6 1333.6 719.2 1334.2 719.8 1334.2 720.4 1333.6 721 1333.2 721.6 1333.4 722.2 1333.9 722.8 1333.9 723.4 1333.9 724 1334.3 724.6 1334.4 725.2 1334 725.8 1333.8 726.4 1334.1 727 1334.2 727.6 1333.7 728.2 1333.3 728.8 1333.4 729.4 1333.9 730 1334 730.6 1334.2 731.2 1334.4 731.8 1334.4 732.4 1334.1 733 1333.7 733.6 1333.6 734.2 1333.5 734.8 1333.5 735.4 1333.9 736 1334.6 736.6 1334.5 737.2 1334.1 737.8 1334.1 738.4 1334.3 739 1334.1 739.6 1333.7 740.2 1333.4 740.8 1332.8 741.4 1332.8 742 1333.3 742.6 1333.4 743.2 1333.9 743.8 1334.5 744.4 1334.4 745 1334.6 745.6 1334.1 746.2 1333.5 746.8 1334 747.4 1334.4 748 1334.1 748.6 1333.4 749.2 1333.4 749.8 1334.2 750.4 1335 751 1334.7 751.6 1333.9 752.2 1333.6 752.8 1334 753.4 1334.3 754 1334.2 754.6 1333.9 755.2 1333.2 755.8 1332.4 756.4 1332.7 757 1333.2 757.6 1333.4 758.2 1333.9 758.8 1333.8 759.4 1333.9 760 1334.3 760.6 1333.9 761.2 1333.2 761.8 1333.5 762.4 1334 763 1333.9 763.6 1333.2 764.2 1332.6 764.8 1333 765.4 1333.3 766 1332.8 766.6 1332.2 767.2 1332.3 767.8 1332.6 768.4 1332.5 769 1332.5 769.6 1333.1 770.2 1333.1 770.8 1332.8 771.4 1332.7 772 1332.2 772.6 1332.4 773.2 1332.9 773.8 1332.5 774.4 1332 775 1331.8 775.6 1331.5 776.2 1331 776.8 1330.8 777.4 1330.9 778 1331 778.6 1330.7 779.2 1330.5 779.8 1330.7 780.4 1330.7 781 1330.6 781.6 1330.6 782.2 1330 782.8 1329.5 783.4 1329.4 784 1329.1 784.6 1328.9 785.2 1329.2 785.8 1329.5 786.4 1330 787 1330.5 787.6 1330.4 788.2 1330 788.8 1330.2 789.4 1330.7 790 1330.9 790.6 1331.2 791.2 1331.7 791.8 1331.7 792.4 1331.4 793 1331.6 793.6 1331.8 794.2 1331.7 794.8 1331.8 795.4 1332.3 796 1332.6 796.6 1332.4 797.2 1332.3 797.8 1332.4 798.4 1332.1 799 1332.1 799.6 1332.8 800.2 1332.7 800.8 1332.2 801.4 1332.4 802 1333.1 802.6 1333.5 803.2 1333.1 803.8 1332.7 804.4 1332.5 805 1332.6 805.6 1332.9 806.2 1333.2 806.8 1333.4 807.4 1333.5 808 1333.7 808.6 1333.7 809.2 1333.5 809.8 1333.5 810.4 1333.8 811 1334.1 811.6 1333.7" fill="none" stroke="#f59450" stroke-width="3.3" stroke-linejoin="round"/><path d="M50 1366.3L50.6 1366.6 51.2 1367.3 51.8 1367.4 52.4 1367.9 53 1367.7 53.6 1367.1 54.2 1367.5 54.8 1368 55.4 1368.8 56 1368.4 56.6 1367.4 57.2 1367.5 57.8 1367.8 58.4 1368.1 59 1368.6 59.6 1368.7 60.2 1368.8 60.8 1368.3 61.4 1367.1 62 1366 62.6 1366.1 63.2 1367.3 63.8 1368.4 64.4 1368.3 65 1367.5 65.6 1367.1 66.2 1366.9 66.8 1366.3 67.4 1366.2 68 1367 68.6 1367.2 69.2 1367.3 69.8 1367.8 70.4 1367.4 71 1367.2 71.6 1368.2 72.2 1368.5 72.8 1367.8 73.4 1366.7 74 1365.8 74.6 1365.9 75.2 1366.9 75.8 1367.3 76.4 1367.6 77 1368.4 77.6 1368.5 78.2 1368.4 78.8 1368 79.4 1367.4 80 1367.8 80.6 1367.6 81.2 1367 81.8 1367.8 82.4 1368.6 83 1368.7 83.6 1367.9 84.2 1366.8 84.8 1366.7 85.4 1367 86 1367.3 86.6 1367.8 87.2 1368.4 87.8 1368 88.4 1367.4 89 1368.2 89.6 1368.8 90.2 1367.6 90.8 1366.4 91.4 1366.5 92 1366.6 92.6 1366.3 93.2 1366.5 93.8 1366.8 94.4 1367.7 95 1368 95.6 1367.2 96.2 1366.7 96.8 1367 97.4 1366.9 98 1367.1 98.6 1367.6 99.2 1366.8 99.8 1366.6 100.4 1368 101 1369.2 101.6 1369.1 102.2 1368.9 102.8 1368.7 103.4 1368.4 104 1369.2 104.6 1369.2 105.2 1367.9 105.8 1367.1 106.4 1366.4 107 1366.5 107.6 1367 108.2 1366.9 108.8 1367.2 109.4 1367.7 110 1367.8 110.6 1368.5 111.2 1368.8 111.8 1368.3 112.4 1368.4 113 1368.4 113.6 1367.3 114.2 1366 114.8 1365.7 115.4 1367.1 116 1368.1 116.6 1368.4 117.2 1369.1 117.8 1369 118.4 1368.1 119 1367.1 119.6 1366.7 120.2 1367.1 120.8 1367.5 121.4 1367.1 122 1366.8 122.6 1367 123.2 1366.8 123.8 1366.1 124.4 1366.3 125 1367.1 125.6 1367.6 126.2 1367.4 126.8 1366.7 127.4 1366 128 1366.2 128.6 1367.2 129.2 1367.4 129.8 1366.6 130.4 1365.8 131 1365.8 131.6 1366.6 132.2 1366.6 132.8 1366.8 133.4 1366.6 134 1365 134.6 1364.6 135.2 1365.4 135.8 1365 136.4 1364 137 1363.4 137.6 1362.6 138.2 1361.6 138.8 1360.5 139.4 1358.4 140 1355 140.6 1349.9 141.2 1342.4 141.8 1332.6 142.4 1321.9 143 1310.5 143.6 1301 144.2 1296.8 144.8 1298.8 145.4 1304.9 146 1314.2 146.6 1325.9 147.2 1336.2 147.8 1343.9 148.4 1350.2 149 1354.8 149.6 1358.6 150.2 1361.8 150.8 1362.7 151.4 1363 152 1363.6 152.6 1363.8 153.2 1364.3 153.8 1364.8 154.4 1364.5 155 1364.4 155.6 1365.3 156.2 1365.9 156.8 1365.5 157.4 1365.4 158 1365.9 158.6 1365.8 159.2 1366.2 159.8 1367.1 160.4 1367.2 161 1367.3 161.6 1367.6 162.2 1366.8 162.8 1365.8 163.4 1365.7 164 1366.6 164.6 1367.1 165.2 1367.3 165.8 1368.2 166.4 1368.5 167 1367.5 167.6 1366.7 168.2 1367 168.8 1366.8 169.4 1366 170 1366.4 170.6 1366.5 171.2 1366.2 171.8 1367.6 172.4 1368.8 173 1368 173.6 1366.8 174.2 1367.1 174.8 1367.6 175.4 1367.2 176 1367.2 176.6 1367.4 177.2 1367.9 177.8 1367.9 178.4 1367.2 179 1367.6 179.6 1367.8 180.2 1366.8 180.8 1366.4 181.4 1366.9 182 1366.3 182.6 1365 183.2 1365.2 183.8 1365.9 184.4 1366.2 185 1366.4 185.6 1367.1 186.2 1368.3 186.8 1368.4 187.4 1368 188 1368.8 188.6 1369.2 189.2 1367.9 189.8 1366.8 190.4 1367.6 191 1368 191.6 1367.2 192.2 1367.3 192.8 1368.3 193.4 1368.6 194 1368.4 194.6 1367.8 195.2 1367.2 195.8 1367.3 196.4 1368.1 197 1368.1 197.6 1367.2 198.2 1367.2 198.8 1368.2 199.4 1368.1 200 1366.7 200.6 1366.2 201.2 1367.2 201.8 1368.2 202.4 1368.5 203 1367.7 203.6 1366.7 204.2 1366.8 204.8 1367 205.4 1367.6 206 1368.8 206.6 1368.3 207.2 1367.5 207.8 1367.5 208.4 1368.1 209 1368.2 209.6 1367.6 210.2 1367.2 210.8 1366.8 211.4 1366.6 212 1367.1 212.6 1367.6 213.2 1367.4 213.8 1366.7 214.4 1366.3 215 1367.1 215.6 1368.1 216.2 1368.2 216.8 1367.1 217.4 1365.8 218 1365.6 218.6 1366.4 219.2 1367.2 219.8 1367 220.4 1366.3 221 1366.9 221.6 1367.8 222.2 1367.6 222.8 1367.1 223.4 1366.6 224 1365.9 224.6 1365.9 225.2 1367 225.8 1368.3 226.4 1368.4 227 1367.8 227.6 1367.8 228.2 1368.2 228.8 1368 229.4 1367.4 230 1367.6 230.6 1367.7 231.2 1366.9 231.8 1367 232.4 1367.6 233 1367.9 233.6 1368 234.2 1368.2 234.8 1368.6 235.4 1368.6 236 1368.7 236.6 1368.7 237.2 1367.7 237.8 1367.2 238.4 1367.3 239 1366.6 239.6 1365.9 240.2 1366.5 240.9 1367.5 241.5 1366.9 242.1 1367 242.7 1368.2 243.3 1368.2 243.9 1367.3 244.5 1366.9 245.1 1367.1 245.7 1367.2 246.3 1367.4 246.9 1367.4 247.5 1367.3 248.1 1367.1 248.7 1366.7 249.3 1366.6 249.9 1366.9 250.5 1367.5 251.1 1368.1 251.7 1367.4 252.3 1366.9 252.9 1367.7 253.5 1367.7 254.1 1367.1 254.7 1367.2 255.3 1367.6 255.9 1368 256.5 1367.8 257.1 1367.8 257.7 1368.3 258.3 1368 258.9 1366.6 259.5 1365.6 260.1 1365.1 260.7 1365.5 261.3 1366.8 261.9 1367.2 262.5 1367.2 263.1 1367.3 263.7 1367.6 264.3 1368.2 264.9 1367.9 265.5 1367.1 266.1 1367.5 266.7 1367.1 267.3 1365.8 267.9 1365.3 268.5 1364.4 269.1 1363.4 269.7 1363 270.3 1362.4 270.9 1362.1 271.5 1361.8 272.1 1362.1 272.7 1363 273.3 1363.1 273.9 1363.2 274.5 1364.3 275.1 1365.5 275.7 1365.8 276.3 1365.8 276.9 1366.4 277.5 1366.4 278.1 1366.5 278.7 1367.4 279.3 1367.8 279.9 1367.5 280.5 1366.7 281.1 1366.1 281.7 1367 282.3 1367.5 282.9 1367.7 283.5 1368.2 284.1 1368.3 284.7 1368.6 285.3 1368.2 285.9 1366.9 286.5 1366.4 287.1 1366.8 287.7 1367.3 288.3 1367.5 288.9 1366.8 289.5 1367.1 290.1 1368.2 290.7 1368 291.3 1368 291.9 1368.4 292.5 1367.2 293.1 1366.1 293.7 1366.7 294.3 1367.4 294.9 1367.2 295.5 1366.6 296.1 1367.1 296.7 1368.2 297.3 1368.7 297.9 1368.6 298.5 1368.1 299.1 1367.5 299.7 1366.9 300.3 1366.9 300.9 1368 301.5 1368.6 302.1 1367.8 302.7 1366.5 303.3 1366 303.9 1366.9 304.5 1368 305.1 1367.5 305.7 1366.5 306.3 1366.9 306.9 1367.3 307.5 1366.8 308.1 1366.5 308.7 1366.4 309.3 1367 309.9 1367.7 310.5 1367.2 311.1 1367.3 311.7 1367.7 312.3 1367.1 312.9 1366.6 313.5 1366.7 314.1 1366.7 314.7 1366.6 315.3 1366.3 315.9 1366.4 316.5 1367.1 317.1 1367.6 317.7 1367.1 318.3 1366.8 318.9 1366.2 319.5 1365.3 320.1 1365.3 320.7 1365.6 321.3 1365.4 321.9 1365.6 322.5 1366.1 323.1 1366 323.7 1365.4 324.3 1365.7 324.9 1366 325.5 1364.9 326.1 1363.5 326.7 1362.8 327.3 1361.7 327.9 1360.3 328.5 1358.5 329.1 1355.8 329.7 1352.8 330.3 1349.3 330.9 1344.7 331.5 1340.2 332.1 1336.7 332.7 1333.7 333.3 1332.5 333.9 1334.5 334.5 1337.1 335.1 1338.8 335.7 1340.6 336.3 1342.6 336.9 1343.3 337.5 1343.3 338.1 1343.2 338.7 1342.8 339.3 1342.7 339.9 1343.8 340.5 1345.6 341.1 1347.8 341.7 1351 342.3 1353.4 342.9 1354.4 343.5 1356.4 344.1 1359.6 344.7 1361.6 345.3 1361.5 345.9 1360.8 346.5 1361.2 347.1 1362.1 347.7 1362 348.3 1361.2 348.9 1360.6 349.5 1360.2 350.1 1359.8 350.7 1359.2 351.3 1360.2 351.9 1361.9 352.5 1362.3 353.1 1362.6 353.7 1364.2 354.3 1365.6 354.9 1365.9 355.5 1365.5 356.1 1364.5 356.7 1364.1 357.3 1364 357.9 1362.7 358.5 1360.3 359.1 1358.6 359.7 1358.8 360.3 1359.5 360.9 1359.6 361.5 1359.7 362.1 1360.9 362.7 1362.6 363.3 1364.2 363.9 1365.3 364.5 1365.4 365.1 1365.2 365.7 1365 366.3 1365.4 366.9 1366.7 367.5 1366.8 368.1 1366.3 368.7 1365.9 369.3 1366 369.9 1366.8 370.5 1366.1 371.1 1365.1 371.7 1365.8 372.3 1366.8 372.9 1367.2 373.5 1367.6 374.1 1367.6 374.7 1367.5 375.3 1367.1 375.9 1366.4 376.5 1366.9 377.1 1367.6 377.7 1367.4 378.3 1366.9 378.9 1366.5 379.5 1366 380.1 1365.7 380.7 1366.6 381.3 1368 381.9 1368.1 382.5 1367.1 383.1 1366.5 383.7 1366.6 384.3 1366.8 384.9 1367.2 385.5 1367.8 386.1 1367.5 386.7 1366 387.3 1365.7 387.9 1366.4 388.5 1367 389.1 1367.8 389.7 1367.9 390.3 1367.2 390.9 1367.1 391.5 1367.2 392.1 1367.1 392.7 1367.5 393.3 1367.6 393.9 1367 394.5 1366.5 395.1 1367 395.7 1366.9 396.3 1366.3 396.9 1366.7 397.5 1366.9 398.1 1366.7 398.7 1367.3 399.3 1367.3 399.9 1366.3 400.5 1365.8 401.1 1365.6 401.7 1366.3 402.3 1366.6 402.9 1366 403.5 1366.7 404.1 1366.9 404.7 1366.3 405.3 1366 405.9 1366 406.5 1366 407.1 1366.1 407.7 1366.5 408.3 1365.9 408.9 1365.1 409.5 1365.6 410.1 1366.1 410.7 1365.1 411.3 1362.8 411.9 1360.5 412.5 1359.2 413.1 1358.1 413.7 1355.8 414.3 1353.3 414.9 1351.9 415.5 1350 416.1 1347.3 416.7 1346.1 417.3 1346.7 417.9 1348.5 418.5 1349.7 419.1 1350.3 419.7 1351.9 420.3 1351.7 420.9 1349.9 421.5 1348.6 422.1 1346 422.7 1341.9 423.3 1337.8 423.9 1335.2 424.5 1335.2 425.1 1337.3 425.7 1341.4 426.3 1345.9 426.9 1349.1 427.5 1352 428.1 1355.1 428.7 1357.2 429.3 1357.8 429.9 1358.1 430.5 1359.1 431.1 1359.8 431.7 1359.9 432.3 1360.3 432.9 1360.8 433.5 1361.8 434.1 1363 434.7 1363.9 435.3 1363.9 435.9 1363.9 436.5 1365 437.1 1365.8 437.7 1366.9 438.3 1367.6 438.9 1367.1 439.5 1366.7 440.1 1366.2 440.7 1365.9 441.3 1366.6 441.9 1367.6 442.5 1367.2 443.1 1366.9 443.7 1367.6 444.3 1367.4 444.9 1366.7 445.5 1366.7 446.1 1366.4 446.7 1366.5 447.3 1367.5 447.9 1369 448.5 1368.7 449.1 1366.9 449.7 1366.6 450.3 1367.2 450.9 1367.6 451.5 1367.4 452.1 1367 452.7 1367 453.3 1366.6 453.9 1366.6 454.5 1367.3 455.1 1367.3 455.7 1367.1 456.3 1367.3 456.9 1366.9 457.5 1366.5 458.1 1367 458.7 1367.3 459.3 1367.4 459.9 1367.7 460.5 1367.4 461.1 1367.4 461.7 1367.5 462.3 1366.9 462.9 1366.4 463.5 1366.6 464.1 1367.4 464.7 1367.5 465.3 1366.6 465.9 1365.3 466.5 1364.5 467.1 1364.2 467.7 1364.3 468.3 1364.4 468.9 1364.2 469.5 1364.2 470.1 1364.7 470.7 1364.9 471.3 1365 471.9 1365.7 472.5 1366.6 473.1 1367 473.7 1367.1 474.3 1367.8 474.9 1367.4 475.5 1366.6 476.1 1366.5 476.7 1366.4 477.3 1366.4 477.9 1366.4 478.5 1365.9 479.1 1366.1 479.7 1367 480.3 1367.5 480.9 1367.6 481.5 1367.2 482.1 1366.9 482.7 1366.9 483.3 1366.8 483.9 1366.8 484.5 1366.9 485.1 1366.5 485.7 1366 486.3 1366.2 486.9 1366.7 487.5 1366.9 488.1 1367 488.7 1367 489.3 1366.9 489.9 1367.2 490.5 1367.4 491.1 1366.8 491.7 1366.5 492.3 1367.5 492.9 1368.1 493.5 1368.3 494.1 1368.2 494.7 1367.8 495.3 1368.1 495.9 1368.1 496.5 1368.2 497.1 1368 497.7 1367.2 498.3 1367.1 498.9 1367.2 499.5 1367 500.1 1367.2 500.7 1368.1 501.3 1368.1 501.9 1367.1 502.5 1367.2 503.1 1367.8 503.7 1367.7 504.3 1367.4 504.9 1367.1 505.5 1366.8 506.1 1366.5 506.7 1366.7 507.3 1366.6 507.9 1366.8 508.5 1367.8 509.1 1367.9 509.7 1367 510.3 1367 510.9 1367.3 511.5 1366.7 512.1 1366.5 512.7 1366.8 513.3 1367.1 513.9 1367.2 514.5 1366.8 515.1 1366.6 515.7 1367.3 516.3 1367.5 516.9 1367.7 517.5 1368.1 518.1 1367.6 518.7 1367.8 519.3 1368.4 519.9 1367.7 520.5 1366.7 521.1 1366.4 521.7 1366.8 522.3 1367.2 522.9 1367.1 523.5 1367.1 524.1 1367.8 524.7 1368.2 525.3 1367.9 525.9 1366.8 526.5 1366.3 527.1 1367 527.7 1367.2 528.3 1367.5 528.9 1368.2 529.5 1368 530.1 1367.6 530.7 1367.7 531.3 1367.8 531.9 1367.9 532.5 1367.9 533.1 1367.5 533.7 1366.8 534.3 1366.8 534.9 1367.3 535.5 1367.9 536.1 1367.7 536.7 1366.6 537.3 1365.7 537.9 1366.4 538.5 1367.9 539.1 1368 539.7 1367.3 540.3 1367.7 540.9 1368.7 541.5 1368.6 542.1 1367.7 542.7 1367.5 543.3 1367.6 543.9 1367.1 544.5 1367 545.1 1367.9 545.7 1368 546.3 1367.3 546.9 1366.4 547.5 1366.2 548.1 1366.6 548.7 1367 549.3 1367.1 549.9 1366.8 550.5 1367 551.1 1367.2 551.7 1366.8 552.3 1366.8 552.9 1367.4 553.5 1367.2 554.1 1366.9 554.7 1366.9 555.3 1366.7 555.9 1366.6 556.5 1367.4 557.1 1367.6 557.7 1366.4 558.3 1365.2 558.9 1364.9 559.5 1365.2 560.1 1365.7 560.7 1365.6 561.3 1365.2 561.9 1365.1 562.5 1365.2 563.1 1365.7 563.7 1366 564.3 1365.2 564.9 1364 565.5 1363.4 566.1 1363.4 566.7 1362.8 567.3 1361.6 567.9 1360.8 568.5 1359.2 569.1 1357.8 569.7 1358.2 570.3 1357.5 570.9 1355.3 571.5 1354.8 572.1 1355.8 572.7 1356.7 573.3 1357.2 573.9 1357.8 574.5 1358.2 575.1 1358 575.7 1358 576.3 1357.8 576.9 1357.2 577.5 1357 578.1 1356.6 578.7 1356.3 579.3 1356 579.9 1356 580.5 1358.2 581.1 1360.9 581.7 1361.5 582.3 1361.8 582.9 1362.9 583.5 1364.5 584.1 1365.5 584.7 1364.9 585.3 1364.9 585.9 1365.4 586.5 1364.6 587.1 1364.3 587.7 1364.8 588.3 1365.9 588.9 1367.2 589.5 1367.7 590.1 1367.8 590.7 1367.4 591.3 1366.5 591.9 1366.6 592.5 1366.8 593.1 1366.8 593.7 1366.4 594.3 1366.2 594.9 1367.5 595.5 1368.1 596.1 1367.2 596.7 1367.1 597.3 1367.2 597.9 1366.2 598.5 1366.1 599.1 1366.3 599.7 1366.6 600.3 1367.2 600.9 1367.3 601.5 1367.5 602.1 1367.9 602.7 1368.2 603.3 1368.2 603.9 1367.8 604.5 1367.3 605.1 1366.7 605.7 1366.6 606.3 1367.2 606.9 1367.4 607.5 1366.9 608.1 1366.8 608.7 1366.6 609.3 1366.4 609.9 1366.3 610.5 1366.9 611.1 1367.6 611.7 1366.9 612.3 1366.1 612.9 1366.6 613.5 1367.2 614.1 1367.7 614.7 1367.8 615.3 1367.3 615.9 1366.8 616.5 1366.5 617.1 1366.3 617.7 1366.7 618.3 1366.6 618.9 1365.8 619.5 1366 620.1 1366.4 620.7 1365.9 621.4 1366 622 1366.4 622.6 1366.5 623.2 1366.5 623.8 1366.6 624.4 1366.3 625 1365.4 625.6 1365 626.2 1364.2 626.8 1362.8 627.4 1362.2 628 1361.9 628.6 1360.7 629.2 1358.8 629.8 1356.6 630.4 1354.5 631 1352.1 631.6 1349 632.2 1347.6 632.8 1348.5 633.4 1349.8 634 1351.4 634.6 1352.9 635.2 1353.7 635.8 1354.3 636.4 1355.4 637 1355.4 637.6 1353.7 638.2 1352 638.8 1351.1 639.4 1349.7 640 1347.9 640.6 1346.4 641.2 1345.3 641.8 1345.6 642.4 1347.7 643 1350.6 643.6 1353.6 644.2 1356 644.8 1357.1 645.4 1357.6 646 1358.7 646.6 1359.7 647.2 1359.8 647.8 1359.2 648.4 1358.3 649 1357.4 649.6 1356.7 650.2 1356.4 650.8 1357.3 651.4 1358.5 652 1358.9 652.6 1359 653.2 1359.7 653.8 1361.4 654.4 1363.1 655 1364.4 655.6 1365.3 656.2 1365.4 656.8 1365.2 657.4 1365.9 658 1366.3 658.6 1366.3 659.2 1366.2 659.8 1365.8 660.4 1365.9 661 1366.4 661.6 1366.1 662.2 1365.8 662.8 1366.9 663.4 1367.4 664 1366.7 664.6 1366.5 665.2 1366.6 665.8 1367.1 666.4 1367.1 667 1366.7 667.6 1367.1 668.2 1366.9 668.8 1366.7 669.4 1367.2 670 1367.2 670.6 1366.8 671.2 1366.9 671.8 1366.5 672.4 1365.7 673 1365.9 673.6 1366.1 674.2 1366.1 674.8 1365.9 675.4 1364.9 676 1364.4 676.6 1365.2 677.2 1365.4 677.8 1364.8 678.4 1365 679 1365.6 679.6 1364.7 680.2 1363.6 680.8 1364 681.4 1363.8 682 1363.2 682.6 1362.9 683.2 1362.3 683.8 1362.8 684.4 1364.1 685 1364.4 685.6 1364.2 686.2 1363.9 686.8 1363.5 687.4 1363.8 688 1363.9 688.6 1363.5 689.2 1364.2 689.8 1365.4 690.4 1365.8 691 1366 691.6 1366.2 692.2 1365.9 692.8 1365 693.4 1364.7 694 1364.9 694.6 1365.3 695.2 1366.7 695.8 1367.8 696.4 1367.7 697 1367.3 697.6 1367.2 698.2 1367.1 698.8 1367.3 699.4 1367.2 700 1366.4 700.6 1366.3 701.2 1367.8 701.8 1369 702.4 1368.4 703 1368.1 703.6 1368 704.2 1366.6 704.8 1365.4 705.4 1365.5 706 1366.7 706.6 1367.8 707.2 1367.4 707.8 1366.9 708.4 1366.9 709 1366.9 709.6 1367 710.2 1367.5 710.8 1367.9 711.4 1367.2 712 1366.6 712.6 1367.3 713.2 1367.6 713.8 1367.1 714.4 1367 715 1367.5 715.6 1368.6 716.2 1368.6 716.8 1367.4 717.4 1367 718 1367.5 718.6 1367.8 719.2 1367.4 719.8 1367.7 720.4 1368.2 721 1367.9 721.6 1368 722.2 1367.9 722.8 1367.1 723.4 1367.4 724 1367.9 724.6 1367.2 725.2 1366.6 725.8 1367.8 726.4 1368.8 727 1368.3 727.6 1367.4 728.2 1366.9 728.8 1367.1 729.4 1367.1 730 1366.4 730.6 1366.4 731.2 1367.1 731.8 1367.3 732.4 1367.3 733 1367.7 733.6 1368.1 734.2 1367.6 734.8 1367 735.4 1366.6 736 1366.5 736.6 1367.7 737.2 1369.1 737.8 1368.3 738.4 1367.3 739 1367.8 739.6 1367.4 740.2 1366.6 740.8 1366.8 741.4 1366.6 742 1366.3 742.6 1366.5 743.2 1366.3 743.8 1366.3 744.4 1367.7 745 1368.5 745.6 1367.7 746.2 1367.4 746.8 1367.5 747.4 1367.2 748 1367.2 748.6 1367.9 749.2 1367.9 749.8 1367.5 750.4 1367.6 751 1367.4 751.6 1366.9 752.2 1366.5 752.8 1365.8 753.4 1366.1 754 1367.2 754.6 1367.9 755.2 1368.3 755.8 1368 756.4 1367 757 1366.5 757.6 1366.2 758.2 1366.4 758.8 1366.8 759.4 1367.1 760 1367.1 760.6 1366.8 761.2 1366.6 761.8 1367.1 762.4 1367.9 763 1367.7 763.6 1366.6 764.2 1365.3 764.8 1365.2 765.4 1366.2 766 1367 766.6 1367.1 767.2 1366.6 767.8 1365.6 768.4 1365.4 769 1366.4 769.6 1367.1 770.2 1366.5 770.8 1365.6 771.4 1366 772 1366 772.6 1364.9 773.2 1364.4 773.8 1364.3 774.4 1364.5 775 1364.7 775.6 1365.1 776.2 1365.6 776.8 1365.1 777.4 1364.4 778 1364.2 778.6 1363.3 779.2 1362.7 779.8 1363.4 780.4 1364 781 1364.3 781.6 1364.4 782.2 1364.6 782.8 1364 783.4 1363.3 784 1363.9 784.6 1363.7 785.2 1363 785.8 1362.7 786.4 1363.7 787 1365.1 787.6 1363.6 788.2 1362.4 788.8 1364 789.4 1364.6 790 1364.1 790.6 1364.7 791.2 1364.7 791.8 1364.8 792.4 1365.7 793 1366.1 793.6 1366 794.2 1365.7 794.8 1365.5 795.4 1365.3 796 1364.9 796.6 1365.2 797.2 1366.1 797.8 1366.3 798.4 1366.4 799 1366.2 799.6 1366.3 800.2 1366.6 800.8 1366.1 801.4 1365.8 802 1366.6 802.6 1367.5 803.2 1367.2 803.8 1366.1 804.4 1365.7 805 1365.9 805.6 1366.1 806.2 1366.8 806.8 1367.3 807.4 1366.5 808 1365.3 808.6 1364.9 809.2 1365.3 809.8 1366.4 810.4 1366.7 811 1366.3 811.6 1366.8" fill="none" stroke="#f67c28" stroke-width="3.3" stroke-linejoin="round"/><path d="M50 1399.3L50.6 1399.9 51.2 1400.3 51.8 1400.6 52.4 1400.4 53 1399.8 53.6 1399.5 54.2 1399.1 54.8 1398.6 55.4 1398.9 56 1399.2 56.6 1399 57.2 1399.4 57.8 1400.1 58.4 1400.1 59 1399.9 59.6 1399.7 60.2 1399 60.8 1398.8 61.4 1399.1 62 1399.1 62.6 1399.2 63.2 1399.5 63.8 1399.6 64.4 1399.5 65 1399.6 65.6 1399.5 66.2 1399.3 66.8 1399.1 67.4 1399.1 68 1399.5 68.6 1399.6 69.2 1399.8 69.8 1399.7 70.4 1398.7 71 1399 71.6 1399.8 72.2 1400.3 72.8 1400.4 73.4 1400.1 74 1399.8 74.6 1399.7 75.2 1399.6 75.8 1399.8 76.4 1399.9 77 1399.9 77.6 1400.1 78.2 1400.6 78.8 1400.3 79.4 1399.5 80 1399.5 80.6 1399.6 81.2 1398.9 81.8 1398.2 82.4 1398.7 83 1399.4 83.6 1399.4 84.2 1399.4 84.8 1399.4 85.4 1399.6 86 1400.2 86.6 1399.9 87.2 1399.7 87.8 1400 88.4 1399.3 89 1398.9 89.6 1399.1 90.2 1398.9 90.8 1399.2 91.4 1399.6 92 1399.6 92.6 1399.6 93.2 1400.3 93.8 1400.8 94.4 1400.1 95 1399.1 95.6 1399.7 96.2 1400.1 96.8 1399.5 97.4 1398.9 98 1398.9 98.6 1398.9 99.2 1399 99.8 1399.8 100.4 1400.1 101 1399.4 101.6 1399.2 102.2 1399.9 102.8 1400.2 103.4 1399.9 104 1400 104.6 1400.3 105.2 1400.3 105.8 1399.7 106.4 1399 107 1399 107.6 1398.9 108.2 1398.1 108.8 1398.2 109.4 1398.3 110 1398.2 110.6 1398.4 111.2 1398.7 111.8 1399.3 112.4 1399.6 113 1399.3 113.6 1398.8 114.2 1399.2 114.8 1399.8 115.4 1399.5 116 1399 116.6 1399.1 117.2 1399.5 117.8 1399.9 118.4 1399.8 119 1399.7 119.6 1399.5 120.2 1399.3 120.8 1399.1 121.4 1398.8 122 1399.1 122.6 1399.2 123.2 1398.9 123.8 1399.2 124.4 1399 125 1398.1 125.6 1397.5 126.2 1397.5 126.8 1398.1 127.4 1398.8 128 1399.2 128.6 1399.8 129.2 1399.8 129.8 1398.4 130.4 1397.1 131 1396.8 131.6 1396.9 132.2 1397.3 132.8 1397.9 133.4 1398 134 1397.2 134.6 1397 135.2 1397 135.8 1396.7 136.4 1396.7 137 1396.8 137.6 1395.7 138.2 1394.4 138.8 1393.1 139.4 1391 140 1387.3 140.6 1381.3 141.2 1373.9 141.8 1365.1 142.4 1355 143 1344.5 143.6 1334.5 144.2 1328.9 144.8 1330.1 145.4 1337 146 1347.3 146.6 1358.8 147.2 1369.3 147.8 1377.2 148.4 1383 149 1388.1 149.6 1391.7 150.2 1393.5 150.8 1394.6 151.4 1395.3 152 1395.7 152.6 1396.4 153.2 1397.4 153.8 1397.4 154.4 1397.2 155 1397.9 155.6 1398.2 156.2 1398.2 156.8 1398.6 157.4 1398.4 158 1397.7 158.6 1398.1 159.2 1398.8 159.8 1398.3 160.4 1397.6 161 1397.9 161.6 1398.9 162.2 1399.1 162.8 1398.2 163.4 1398.3 164 1399 164.6 1399.3 165.2 1399.6 165.8 1399.9 166.4 1399.4 167 1398.5 167.6 1398.4 168.2 1398.6 168.8 1399.2 169.4 1400.1 170 1400.5 170.6 1400.8 171.2 1400.6 171.8 1400.3 172.4 1399.8 173 1399.2 173.6 1399.2 174.2 1399.7 174.8 1399.9 175.4 1399.5 176 1398.8 176.6 1398.4 177.2 1399 177.8 1399.9 178.4 1399.9 179 1399.7 179.6 1399.5 180.2 1399.2 180.8 1399.1 181.4 1399.2 182 1399.5 182.6 1399.5 183.2 1399 183.8 1399 184.4 1399.2 185 1399.3 185.6 1400 186.2 1400 186.8 1399.2 187.4 1399.4 188 1400.1 188.6 1399.7 189.2 1399 189.8 1399.2 190.4 1399.2 191 1399.3 191.6 1399.4 192.2 1399.2 192.8 1399.5 193.4 1399.7 194 1399.1 194.6 1399.3 195.2 1399.9 195.8 1399.8 196.4 1399.6 197 1399.5 197.6 1399.2 198.2 1399.3 198.8 1399.4 199.4 1399.3 200 1398.9 200.6 1399.3 201.2 1399.6 201.8 1398.8 202.4 1398.3 203 1398.9 203.6 1399.2 204.2 1399.3 204.8 1399.2 205.4 1398.9 206 1399.2 206.6 1399.6 207.2 1399.4 207.8 1398.6 208.4 1398.2 209 1398.8 209.6 1399.7 210.2 1399.5 210.8 1399 211.4 1399.4 212 1399.7 212.6 1399.1 213.2 1399.1 213.8 1399.8 214.4 1400 215 1399.6 215.6 1399.1 216.2 1398.7 216.8 1398.2 217.4 1398.5 218 1398.9 218.6 1399.3 219.2 1399.7 219.8 1399.5 220.4 1399.4 221 1400.1 221.6 1400.2 222.2 1399.6 222.8 1399.5 223.4 1399.1 224 1398.5 224.6 1398.9 225.2 1399.4 225.8 1399.3 226.4 1399.1 227 1399.2 227.6 1399.2 228.2 1399 228.8 1399 229.4 1398.9 230 1398.5 230.6 1398.8 231.2 1399.3 231.8 1399.3 232.4 1398.5 233 1398.2 233.6 1399.3 234.2 1399.5 234.8 1398.9 235.4 1399.2 236 1399.4 236.6 1399.1 237.2 1399.2 237.8 1399.4 238.4 1399.9 239 1400.1 239.6 1399.4 240.2 1399.2 240.9 1398.9 241.5 1398.4 242.1 1398.6 242.7 1399.7 243.3 1400.6 243.9 1400.5 244.5 1399.6 245.1 1399.1 245.7 1399.4 246.3 1399.2 246.9 1398.7 247.5 1398.6 248.1 1398.6 248.7 1398.1 249.3 1398.1 249.9 1399.1 250.5 1399.2 251.1 1398.6 251.7 1398.4 252.3 1398.4 252.9 1399.2 253.5 1399.9 254.1 1399.6 254.7 1399.2 255.3 1399.1 255.9 1399.2 256.5 1399 257.1 1398.9 257.7 1399.2 258.3 1399.2 258.9 1399.1 259.5 1398.9 260.1 1398.3 260.7 1397.6 261.3 1397.9 261.9 1398.6 262.5 1398.8 263.1 1398.6 263.7 1398.5 264.3 1398.6 264.9 1398.4 265.5 1397.9 266.1 1398.2 266.7 1399.2 267.3 1399.1 267.9 1398.1 268.5 1397 269.1 1396 269.7 1395.5 270.3 1395.7 270.9 1395.6 271.5 1395.1 272.1 1394.5 272.7 1394.6 273.3 1395.4 273.9 1395.8 274.5 1396.2 275.1 1396.9 275.7 1396.9 276.3 1397.1 276.9 1397.6 277.5 1397.6 278.1 1398 278.7 1398.8 279.3 1398.9 279.9 1398.9 280.5 1399.2 281.1 1399.4 281.7 1399.6 282.3 1399.8 282.9 1399.4 283.5 1399 284.1 1399.3 284.7 1399.5 285.3 1399.4 285.9 1399.5 286.5 1399.5 287.1 1399.2 287.7 1399.1 288.3 1399.3 288.9 1398.9 289.5 1398.6 290.1 1398.8 290.7 1398.9 291.3 1398.9 291.9 1398.9 292.5 1398.7 293.1 1399.4 293.7 1400.1 294.3 1399.5 294.9 1399.2 295.5 1399.2 296.1 1398.8 296.7 1398.5 297.3 1398.3 297.9 1398.7 298.5 1399.4 299.1 1398.8 299.7 1398.7 300.3 1399 300.9 1399 301.5 1399.4 302.1 1399.7 302.7 1399.5 303.3 1398.8 303.9 1398.7 304.5 1399.2 305.1 1398.9 305.7 1398.8 306.3 1399.3 306.9 1399 307.5 1398.6 308.1 1398.9 308.7 1399.1 309.3 1399.4 309.9 1400 310.5 1399.6 311.1 1399 311.7 1399.1 312.3 1399.2 312.9 1398.7 313.5 1398.5 314.1 1398.6 314.7 1398.5 315.3 1397.8 315.9 1397.1 316.5 1397.6 317.1 1398.6 317.7 1398.7 318.3 1398.3 318.9 1398.1 319.5 1398.2 320.1 1398.7 320.7 1399.4 321.3 1399.6 321.9 1398.9 322.5 1397.7 323.1 1397.4 323.7 1397.5 324.3 1397.4 324.9 1398.2 325.5 1398.6 326.1 1397.3 326.7 1396.7 327.3 1396.4 327.9 1395.6 328.5 1394.3 329.1 1392.6 329.7 1391.4 330.3 1389.6 330.9 1387.4 331.5 1385.3 332.1 1382.5 332.7 1379.1 333.3 1376 333.9 1373.3 334.5 1371.3 335.1 1370.3 335.7 1371 336.3 1373.1 336.9 1374.8 337.5 1375.9 338.1 1376.8 338.7 1377.7 339.3 1378.4 339.9 1378.7 340.5 1380 341.1 1381.8 341.7 1383.1 342.3 1384.7 342.9 1386.5 343.5 1388.7 344.1 1390.6 344.7 1392 345.3 1392.9 345.9 1393.4 346.5 1394 347.1 1394.7 347.7 1394.8 348.3 1394.6 348.9 1394.3 349.5 1393.3 350.1 1392.5 350.7 1392.6 351.3 1392.4 351.9 1391.2 352.5 1390.5 353.1 1390.6 353.7 1390.7 354.3 1391.2 354.9 1392.4 355.5 1393.3 356.1 1393.3 356.7 1392.9 357.3 1392.4 357.9 1392 358.5 1391.2 359.1 1390.1 359.7 1389.6 360.3 1389.5 360.9 1390.2 361.5 1391.6 362.1 1393.1 362.7 1394.2 363.3 1395 363.9 1395.7 364.5 1396.7 365.1 1397.6 365.7 1397.6 366.3 1397.4 366.9 1397.7 367.5 1398.2 368.1 1398.3 368.7 1397.9 369.3 1397.5 369.9 1397.5 370.5 1397.9 371.1 1398.2 371.7 1398.7 372.3 1399.1 372.9 1398.8 373.5 1398.4 374.1 1398.6 374.7 1398.6 375.3 1398.4 375.9 1399 376.5 1399.2 377.1 1398.8 377.7 1398.8 378.3 1399.2 378.9 1399.6 379.5 1399.3 380.1 1398 380.7 1397.8 381.3 1399.3 381.9 1399.6 382.5 1398.5 383.1 1398 383.7 1398.1 384.3 1398.6 384.9 1399.4 385.5 1399.2 386.1 1398.4 386.7 1398.7 387.3 1398.9 387.9 1398.8 388.5 1398.2 389.1 1397.5 389.7 1397.7 390.3 1398.7 390.9 1399.5 391.5 1400 392.1 1399.7 392.7 1399.1 393.3 1399 393.9 1399.1 394.5 1399.1 395.1 1399.2 395.7 1398.9 396.3 1398.8 396.9 1398.9 397.5 1399.2 398.1 1399.4 398.7 1399.3 399.3 1399.1 399.9 1398.9 400.5 1399 401.1 1399 401.7 1398.5 402.3 1398.4 402.9 1398.7 403.5 1398.6 404.1 1398.2 404.7 1397.7 405.3 1397.3 405.9 1397.4 406.5 1397.6 407.1 1397.9 407.7 1397.1 408.3 1396 408.9 1396.3 409.5 1396.5 410.1 1395.7 410.7 1395.1 411.3 1394.5 411.9 1393.3 412.5 1391.9 413.1 1391.1 413.7 1389.9 414.3 1387.8 414.9 1385.8 415.5 1384 416.1 1383.2 416.7 1382.8 417.3 1381.4 417.9 1380.5 418.5 1380.9 419.1 1381 419.7 1380.5 420.3 1379.4 420.9 1378 421.5 1376.5 422.1 1374.2 422.7 1370.4 423.3 1365.6 423.9 1361.8 424.5 1359.3 425.1 1358.6 425.7 1360.4 426.3 1365.2 426.9 1371.5 427.5 1376.9 428.1 1381.4 428.7 1385.4 429.3 1388.7 429.9 1391.1 430.5 1392.8 431.1 1394.2 431.7 1394.9 432.3 1395.3 432.9 1395.7 433.5 1396.4 434.1 1397.2 434.7 1397.3 435.3 1397.3 435.9 1398 436.5 1398.3 437.1 1397.7 437.7 1397.5 438.3 1397.7 438.9 1398.3 439.5 1398.7 440.1 1398.6 440.7 1398.2 441.3 1397.8 441.9 1397.5 442.5 1397.9 443.1 1398.1 443.7 1397.9 444.3 1398.5 444.9 1399.2 445.5 1398.8 446.1 1398 446.7 1397.8 447.3 1398.1 447.9 1398.6 448.5 1398.9 449.1 1398.5 449.7 1398.2 450.3 1398.4 450.9 1398.4 451.5 1398.9 452.1 1399.5 452.7 1399.7 453.3 1399.3 453.9 1399.2 454.5 1400.2 455.1 1400.6 455.7 1399.5 456.3 1398.5 456.9 1398.8 457.5 1399 458.1 1399.2 458.7 1399.6 459.3 1399.4 459.9 1398.8 460.5 1398.6 461.1 1398.5 461.7 1399 462.3 1399.5 462.9 1398.9 463.5 1398.6 464.1 1398.6 464.7 1397.8 465.3 1397.1 465.9 1396.8 466.5 1396.2 467.1 1395.7 467.7 1395.2 468.3 1395.2 468.9 1395.8 469.5 1395.9 470.1 1396.1 470.7 1396.4 471.3 1397.1 471.9 1398.1 472.5 1398.5 473.1 1398.1 473.7 1398 474.3 1398.4 474.9 1398.3 475.5 1398.3 476.1 1398.8 476.7 1398.9 477.3 1398.6 477.9 1398.8 478.5 1398.8 479.1 1398.5 479.7 1398.6 480.3 1398.9 480.9 1398.9 481.5 1399.2 482.1 1399.8 482.7 1399.3 483.3 1398.6 483.9 1398.8 484.5 1399.3 485.1 1399 485.7 1398.5 486.3 1398.9 486.9 1398.9 487.5 1398.7 488.1 1399 488.7 1399.1 489.3 1399.2 489.9 1399.3 490.5 1399.1 491.1 1399.1 491.7 1398.5 492.3 1398 492.9 1398.6 493.5 1399.3 494.1 1399.1 494.7 1398.9 495.3 1399.9 495.9 1400.1 496.5 1399.6 497.1 1399.8 497.7 1399.7 498.3 1399.9 498.9 1400.4 499.5 1399.5 500.1 1398.5 500.7 1398.5 501.3 1398.6 501.9 1398.8 502.5 1399.1 503.1 1399.4 503.7 1399.7 504.3 1399.5 504.9 1399.2 505.5 1399.3 506.1 1399.8 506.7 1400.6 507.3 1400.8 507.9 1399.8 508.5 1399.2 509.1 1399.1 509.7 1399.1 510.3 1399.4 510.9 1399 511.5 1398.9 512.1 1399.8 512.7 1400.2 513.3 1400 513.9 1399.8 514.5 1399.5 515.1 1399.2 515.7 1399.4 516.3 1399.4 516.9 1399.3 517.5 1399.8 518.1 1399.9 518.7 1400 519.3 1399.7 519.9 1399.2 520.5 1399.1 521.1 1399.4 521.7 1399.4 522.3 1399.2 522.9 1399.2 523.5 1399.2 524.1 1399.5 524.7 1399.1 525.3 1398 525.9 1398.2 526.5 1399.1 527.1 1399.7 527.7 1399.9 528.3 1399.5 528.9 1399.2 529.5 1399.1 530.1 1399.1 530.7 1399.8 531.3 1400.3 531.9 1399.8 532.5 1399.7 533.1 1400 533.7 1399.2 534.3 1398.9 534.9 1399.7 535.5 1399.7 536.1 1399.1 536.7 1398.9 537.3 1399.2 537.9 1399.3 538.5 1399.1 539.1 1398.6 539.7 1398.7 540.3 1399.7 540.9 1399.7 541.5 1399.4 542.1 1399.4 542.7 1398.7 543.3 1398.7 543.9 1399.9 544.5 1399.9 545.1 1398.9 545.7 1398.6 546.3 1398.4 546.9 1398.1 547.5 1398 548.1 1398.7 548.7 1399.7 549.3 1399.7 549.9 1399 550.5 1398.6 551.1 1398.8 551.7 1399.1 552.3 1399.8 552.9 1400 553.5 1399.1 554.1 1398.8 554.7 1398.9 555.3 1398 555.9 1397.6 556.5 1398.2 557.1 1398.3 557.7 1397.9 558.3 1397.3 558.9 1397.1 559.5 1397 560.1 1397.4 560.7 1398 561.3 1398 561.9 1397.9 562.5 1397.6 563.1 1396.7 563.7 1395.6 564.3 1395.4 564.9 1395.3 565.5 1394.9 566.1 1395.4 566.7 1395.8 567.3 1395.3 567.9 1395 568.5 1394.7 569.1 1393.7 569.7 1393.3 570.3 1392.9 570.9 1391.9 571.5 1391.4 572.1 1391.2 572.7 1390.7 573.3 1389.9 573.9 1389.6 574.5 1390.1 575.1 1390.1 575.7 1389.2 576.3 1388.5 576.9 1388 577.5 1387.4 578.1 1387.1 578.7 1386.5 579.3 1386.4 579.9 1386.8 580.5 1387.3 581.1 1389 581.7 1391.2 582.3 1392.4 582.9 1392.6 583.5 1393.5 584.1 1395.2 584.7 1396.4 585.3 1397.2 585.9 1397.6 586.5 1397.6 587.1 1397.3 587.7 1396.9 588.3 1396.9 588.9 1397.5 589.5 1397.8 590.1 1397.5 590.7 1397.8 591.3 1398.4 591.9 1398.1 592.5 1397.8 593.1 1397.9 593.7 1398.7 594.3 1399.8 594.9 1399.5 595.5 1399 596.1 1399.2 596.7 1399.2 597.3 1399.5 597.9 1399.2 598.5 1398.8 599.1 1398.6 599.7 1398.2 600.3 1398 600.9 1398.4 601.5 1398.6 602.1 1398.9 602.7 1399.2 603.3 1399.3 603.9 1399.1 604.5 1398.8 605.1 1398.7 605.7 1398.9 606.3 1398.8 606.9 1398.7 607.5 1398.6 608.1 1398.6 608.7 1398.7 609.3 1399.1 609.9 1399.5 610.5 1399 611.1 1398.5 611.7 1398.4 612.3 1398.5 612.9 1398.5 613.5 1398.4 614.1 1398.6 614.7 1398.5 615.3 1398.7 615.9 1399 616.5 1398.7 617.1 1398.6 617.7 1398.9 618.3 1398.8 618.9 1398 619.5 1397.9 620.1 1398.9 620.7 1399.4 621.4 1399.5 622 1399.2 622.6 1398.6 623.2 1398.7 623.8 1399.1 624.4 1398.4 625 1397.3 625.6 1397.7 626.2 1398.2 626.8 1398.3 627.4 1398.1 628 1397.6 628.6 1396.4 629.2 1395.3 629.8 1394.9 630.4 1394.4 631 1393.5 631.6 1392.1 632.2 1390.6 632.8 1389.5 633.4 1388.6 634 1387.6 634.6 1386.4 635.2 1385.8 635.8 1384.8 636.4 1383.2 637 1382.9 637.6 1383.4 638.2 1383.1 638.8 1382.3 639.4 1381.6 640 1380.5 640.6 1379.6 641.2 1378.7 641.8 1378 642.4 1378.4 643 1380 643.6 1381.8 644.2 1384.1 644.8 1386.7 645.4 1388.6 646 1389.5 646.6 1390.1 647.2 1391.1 647.8 1391.3 648.4 1391 649 1390.8 649.6 1390.4 650.2 1389.8 650.8 1389.5 651.4 1390.5 652 1391.6 652.6 1391.9 653.2 1392.7 653.8 1394.1 654.4 1395.4 655 1396 655.6 1396.1 656.2 1396.9 656.8 1397.3 657.4 1397.4 658 1397.5 658.6 1397.6 659.2 1398.2 659.8 1398.7 660.4 1398.5 661 1397.9 661.6 1397.8 662.2 1398.3 662.8 1398.5 663.4 1398.2 664 1398.2 664.6 1398.3 665.2 1398.5 665.8 1399.1 666.4 1399.2 667 1398.6 667.6 1398.6 668.2 1398.8 668.8 1399.4 669.4 1399.3 670 1397.8 670.6 1396.8 671.2 1397.3 671.8 1398.6 672.4 1398.9 673 1398.1 673.6 1397.7 674.2 1397.6 674.8 1397 675.4 1396.4 676 1396.6 676.6 1397.1 677.2 1397.5 677.8 1397.1 678.4 1396.8 679 1397 679.6 1396.6 680.2 1396.4 680.8 1396.5 681.4 1396 682 1395.6 682.6 1395.5 683.2 1394.8 683.8 1394.8 684.4 1395.1 685 1395.2 685.6 1396 686.2 1396.3 686.8 1395.7 687.4 1395.4 688 1395.6 688.6 1395.9 689.2 1395.9 689.8 1396 690.4 1395.8 691 1395.3 691.6 1395.8 692.2 1396.3 692.8 1395.9 693.4 1395.7 694 1396.1 694.6 1396.7 695.2 1396.7 695.8 1396.8 696.4 1398.1 697 1398.9 697.6 1398.9 698.2 1398.5 698.8 1398 699.4 1398.5 700 1398.9 700.6 1398.5 701.2 1398.3 701.8 1397.6 702.4 1397.4 703 1397.9 703.6 1397.5 704.2 1397.6 704.8 1398.8 705.4 1399.5 706 1399.1 706.6 1398.3 707.2 1398.2 707.8 1399 708.4 1400.2 709 1400.2 709.6 1399.4 710.2 1398.6 710.8 1398.6 711.4 1399.3 712 1399.4 712.6 1399.1 713.2 1398.6 713.8 1398 714.4 1398.4 715 1399.3 715.6 1400 716.2 1400.2 716.8 1399.5 717.4 1398.5 718 1398 718.6 1398.6 719.2 1399.8 719.8 1400 720.4 1399.5 721 1399.6 721.6 1399.9 722.2 1399.9 722.8 1399.5 723.4 1398.8 724 1398.5 724.6 1398.8 725.2 1399.1 725.8 1399.4 726.4 1399.7 727 1399.5 727.6 1398.7 728.2 1398.9 728.8 1399.3 729.4 1399.2 730 1399.1 730.6 1398.8 731.2 1398.6 731.8 1399.2 732.4 1400.3 733 1400.6 733.6 1400.1 734.2 1399.5 734.8 1399.4 735.4 1399.8 736 1399.3 736.6 1399 737.2 1398.8 737.8 1398.2 738.4 1398.2 739 1398.4 739.6 1398.6 740.2 1399.4 740.8 1399.9 741.4 1399.2 742 1399 742.6 1399.6 743.2 1400 743.8 1400.2 744.4 1399.9 745 1399.2 745.6 1398.8 746.2 1399.1 746.8 1399.1 747.4 1398.5 748 1398.1 748.6 1398.9 749.2 1399.6 749.8 1399.5 750.4 1399.4 751 1398.7 751.6 1398.5 752.2 1399.1 752.8 1399.3 753.4 1399.1 754 1398.4 754.6 1398.5 755.2 1399.1 755.8 1398.6 756.4 1398.7 757 1399.4 757.6 1400 758.2 1400.3 758.8 1399.8 759.4 1399.5 760 1399.3 760.6 1398.8 761.2 1398.7 761.8 1398.8 762.4 1399 763 1398.6 763.6 1398.5 764.2 1399.4 764.8 1399.4 765.4 1398.4 766 1397.9 766.6 1397.9 767.2 1398.1 767.8 1398.2 768.4 1398.2 769 1398.1 769.6 1398.3 770.2 1399.1 770.8 1399.5 771.4 1399 772 1398.1 772.6 1397.8 773.2 1397.6 773.8 1397.1 774.4 1396.8 775 1396.7 775.6 1396.8 776.2 1396.6 776.8 1396.5 777.4 1397.1 778 1397.4 778.6 1397.4 779.2 1397.7 779.8 1397.9 780.4 1397.5 781 1396.7 781.6 1396.7 782.2 1396.8 782.8 1396.4 783.4 1396.1 784 1396.2 784.6 1396.4 785.2 1396.6 785.8 1396.2 786.4 1395.3 787 1395.3 787.6 1396.1 788.2 1397 788.8 1397.3 789.4 1397.3 790 1397.4 790.6 1397.5 791.2 1397.4 791.8 1396.9 792.4 1397.2 793 1398.1 793.6 1398 794.2 1397.8 794.8 1398 795.4 1398 796 1397.6 796.6 1397.9 797.2 1398.6 797.8 1398.5 798.4 1397.7 799 1397 799.6 1397.4 800.2 1398.5 800.8 1398.7 801.4 1398.5 802 1398.9 802.6 1398.7 803.2 1398.2 803.8 1398.6 804.4 1398.6 805 1398.5 805.6 1399.3 806.2 1399.7 806.8 1399.3 807.4 1399.1 808 1399 808.6 1398.8 809.2 1398.5 809.8 1398.2 810.4 1398.4 811 1399.1 811.6 1399.4" fill="none" stroke="#f06c14" stroke-width="3.3" stroke-linejoin="round"/><path d="M50 1433.9L50.6 1433.7 51.2 1433.2 51.8 1432.7 52.4 1432.7 53 1433.1 53.6 1433.1 54.2 1433.1 54.8 1433.3 55.4 1433.1 56 1432.9 56.6 1433.1 57.2 1433.3 57.8 1433.8 58.4 1433.9 59 1433.6 59.6 1433.8 60.2 1433.8 60.8 1433.7 61.4 1433.8 62 1434 62.6 1433.8 63.2 1433.3 63.8 1433.2 64.4 1433.4 65 1433.1 65.6 1433 66.2 1433.4 66.8 1432.8 67.4 1432.3 68 1432.8 68.6 1433.7 69.2 1434 69.8 1433.6 70.4 1433.3 71 1433.4 71.6 1433.4 72.2 1433.3 72.8 1433.2 73.4 1433.5 74 1433.3 74.6 1432.8 75.2 1433.1 75.8 1433.6 76.4 1433.5 77 1433.1 77.6 1432.8 78.2 1433 78.8 1433.3 79.4 1433.2 80 1433.3 80.6 1433.6 81.2 1433.2 81.8 1433 82.4 1433.3 83 1433.6 83.6 1433.6 84.2 1433.1 84.8 1432.8 85.4 1433.3 86 1433.4 86.6 1433 87.2 1433.1 87.8 1433.5 88.4 1433.6 89 1433.5 89.6 1433.2 90.2 1433 90.8 1433.2 91.4 1433.5 92 1433.4 92.6 1433.4 93.2 1433.6 93.8 1433.8 94.4 1433.6 95 1433.5 95.6 1433.4 96.2 1433.2 96.8 1433.3 97.4 1433.5 98 1434 98.6 1433.6 99.2 1433.1 99.8 1433.5 100.4 1433.5 101 1433.2 101.6 1433.4 102.2 1433.6 102.8 1433.7 103.4 1433.7 104 1433.4 104.6 1433.4 105.2 1433.6 105.8 1433.4 106.4 1432.9 107 1432.9 107.6 1433.1 108.2 1433.5 108.8 1433.9 109.4 1433.6 110 1433.7 110.6 1434 111.2 1433.8 111.8 1433.7 112.4 1433.8 113 1433.6 113.6 1433.5 114.2 1433.6 114.8 1433.4 115.4 1432.9 116 1432.8 116.6 1433.2 117.2 1433.6 117.8 1433.5 118.4 1433.6 119 1433.4 119.6 1432.8 120.2 1432.4 120.8 1432.8 121.4 1432.8 122 1432.7 122.6 1433 123.2 1433.2 123.8 1433.1 124.4 1432.9 125 1432.9 125.6 1433 126.2 1433.2 126.8 1432.9 127.4 1432.5 128 1432.7 128.6 1432.8 129.2 1432.4 129.8 1432.4 130.4 1432.6 131 1432.6 131.6 1432.6 132.2 1432.3 132.8 1432.1 133.4 1432 134 1432.3 134.6 1432.4 135.2 1432 135.8 1431.8 136.4 1431.2 137 1430.4 137.6 1430.1 138.2 1429.4 138.8 1427.7 139.4 1425.1 140 1421.9 140.6 1417.1 141.2 1410.1 141.8 1401.3 142.4 1390.9 143 1379.9 143.6 1369.5 144.2 1363.6 144.8 1365 145.4 1372.2 146 1382.3 146.6 1393.4 147.2 1403.9 147.8 1412.5 148.4 1419 149 1423.5 149.6 1426.3 150.2 1427.6 150.8 1428.6 151.4 1430 152 1430.7 152.6 1430.8 153.2 1430.9 153.8 1430.9 154.4 1430.9 155 1431.3 155.6 1432.1 156.2 1432.7 156.8 1432.9 157.4 1432.8 158 1432.6 158.6 1432.7 159.2 1432.9 159.8 1433.3 160.4 1433.4 161 1433 161.6 1433.1 162.2 1433.2 162.8 1432.6 163.4 1432.3 164 1433.2 164.6 1433.5 165.2 1432.8 165.8 1432.7 166.4 1432.7 167 1432.7 167.6 1432.9 168.2 1433.2 168.8 1433.1 169.4 1432.9 170 1433 170.6 1433.2 171.2 1433.1 171.8 1433 172.4 1432.9 173 1432.8 173.6 1432.8 174.2 1432.8 174.8 1432.9 175.4 1433.1 176 1433.1 176.6 1433.1 177.2 1433.2 177.8 1433.4 178.4 1433.3 179 1433.1 179.6 1433.1 180.2 1433.1 180.8 1433.2 181.4 1433 182 1433 182.6 1433.5 183.2 1433.4 183.8 1433.1 184.4 1433 185 1432.7 185.6 1433 186.2 1433.4 186.8 1433.3 187.4 1433.3 188 1433.2 188.6 1433.2 189.2 1433.3 189.8 1433.3 190.4 1433.1 191 1433.4 191.6 1433.4 192.2 1433.2 192.8 1433.1 193.4 1433.5 194 1433.9 194.6 1433.8 195.2 1433.2 195.8 1433 196.4 1433.2 197 1433.4 197.6 1433.5 198.2 1433.7 198.8 1433.9 199.4 1433.7 200 1433.6 200.6 1433.5 201.2 1433.2 201.8 1433.2 202.4 1433.2 203 1433.4 203.6 1433.9 204.2 1433.4 204.8 1432.6 205.4 1432.7 206 1433.2 206.6 1433.3 207.2 1433.1 207.8 1433.1 208.4 1433.2 209 1433.3 209.6 1433.5 210.2 1433.4 210.8 1433.2 211.4 1433.2 212 1433.2 212.6 1433 213.2 1433.2 213.8 1433.7 214.4 1433.4 215 1433.2 215.6 1433.7 216.2 1433.7 216.8 1433.4 217.4 1433.2 218 1433.4 218.6 1433.5 219.2 1433.4 219.8 1433.3 220.4 1433.4 221 1433.5 221.6 1433.3 222.2 1433.2 222.8 1433 223.4 1432.9 224 1433.2 224.6 1433.4 225.2 1433.1 225.8 1432.9 226.4 1433.1 227 1433.3 227.6 1433.4 228.2 1433.3 228.8 1433.2 229.4 1433.7 230 1433.9 230.6 1433.9 231.2 1433.9 231.8 1434 232.4 1434 233 1433.9 233.6 1433.7 234.2 1433.6 234.8 1433.5 235.4 1433.3 236 1433.3 236.6 1433.4 237.2 1432.9 237.8 1432.5 238.4 1432.8 239 1433.2 239.6 1433.3 240.2 1432.9 240.9 1433.1 241.5 1433.4 242.1 1432.9 242.7 1432.9 243.3 1432.9 243.9 1432.8 244.5 1433 245.1 1432.7 245.7 1432.4 246.3 1432.6 246.9 1433.1 247.5 1433.5 248.1 1433.4 248.7 1433.1 249.3 1433.6 249.9 1433.8 250.5 1433.1 251.1 1432.8 251.7 1433.2 252.3 1433.4 252.9 1433.2 253.5 1432.9 254.1 1433 254.7 1432.9 255.3 1433 255.9 1433.4 256.5 1433.3 257.1 1433.3 257.7 1433.3 258.3 1433.3 258.9 1433.4 259.5 1433.6 260.1 1433.4 260.7 1433.3 261.3 1433.6 261.9 1433.7 262.5 1433.6 263.1 1433.4 263.7 1433 264.3 1432.8 264.9 1432.9 265.5 1433 266.1 1433.3 266.7 1433.6 267.3 1433.6 267.9 1432.9 268.5 1431.9 269.1 1430.7 269.7 1429.7 270.3 1429.2 270.9 1428.6 271.5 1428.1 272.1 1428.3 272.7 1428.7 273.3 1429.3 273.9 1430 274.5 1430.6 275.1 1431.2 275.7 1431.7 276.3 1431.9 276.9 1432.3 277.5 1433 278.1 1432.9 278.7 1432.4 279.3 1432.9 279.9 1433.5 280.5 1433.6 281.1 1433.3 281.7 1432.9 282.3 1432.7 282.9 1432.7 283.5 1432.9 284.1 1433.2 284.7 1433.4 285.3 1433.3 285.9 1433.2 286.5 1433.4 287.1 1433.1 287.7 1432.9 288.3 1433.2 288.9 1433.6 289.5 1433.9 290.1 1433.6 290.7 1433.3 291.3 1433.5 291.9 1434 292.5 1434.1 293.1 1433.9 293.7 1433.6 294.3 1433 294.9 1433.1 295.5 1433.4 296.1 1433.2 296.7 1432.8 297.3 1432.7 297.9 1433 298.5 1433.3 299.1 1433.1 299.7 1432.9 300.3 1433.3 300.9 1433 301.5 1432.4 302.1 1432.5 302.7 1432.9 303.3 1433 303.9 1433.4 304.5 1433.5 305.1 1433.3 305.7 1433.4 306.3 1433.8 306.9 1433.8 307.5 1433.6 308.1 1433.3 308.7 1433.1 309.3 1433.4 309.9 1433.4 310.5 1432.8 311.1 1432.8 311.7 1433.2 312.3 1433.6 312.9 1433.5 313.5 1433.1 314.1 1432.9 314.7 1432.7 315.3 1432.5 315.9 1432.4 316.5 1432.4 317.1 1432.6 317.7 1432.8 318.3 1432.4 318.9 1432.2 319.5 1432.6 320.1 1432.7 320.7 1432.4 321.3 1432.1 321.9 1431.9 322.5 1432.1 323.1 1432.1 323.7 1431.7 324.3 1431.6 324.9 1431.5 325.5 1431 326.1 1430.2 326.7 1429.5 327.3 1429.2 327.9 1428.2 328.5 1426.6 329.1 1424.1 329.7 1420.4 330.3 1416.2 330.9 1411.5 331.5 1406.1 332.1 1401.2 332.7 1398.1 333.3 1398.2 333.9 1401.3 334.5 1405.5 335.1 1409.4 335.7 1412.3 336.3 1414 336.9 1414.6 337.5 1414.1 338.1 1413 338.7 1411.8 339.3 1411 339.9 1411.4 340.5 1413.3 341.1 1416.4 341.7 1419.7 342.3 1422.5 342.9 1424.8 343.5 1426.4 344.1 1427.8 344.7 1429.1 345.3 1429.5 345.9 1428.9 346.5 1428.3 347.1 1427.9 347.7 1427 348.3 1425.8 348.9 1425.1 349.5 1425.5 350.1 1426.8 350.7 1428 351.3 1428.5 351.9 1429.4 352.5 1430.6 353.1 1431.1 353.7 1431.1 354.3 1431.2 354.9 1431.5 355.5 1431.6 356.1 1431 356.7 1430.7 357.3 1430.7 357.9 1429.5 358.5 1427.3 359.1 1425.7 359.7 1425.1 360.3 1425.6 360.9 1426.8 361.5 1428.2 362.1 1429.4 362.7 1430.4 363.3 1431.2 363.9 1431.9 364.5 1432.5 365.1 1432.8 365.7 1433 366.3 1432.8 366.9 1432.5 367.5 1432.8 368.1 1433.2 368.7 1432.9 369.3 1432.6 369.9 1432.9 370.5 1433.2 371.1 1433.3 371.7 1433 372.3 1432.8 372.9 1433 373.5 1433 374.1 1433.2 374.7 1433.2 375.3 1433 375.9 1432.8 376.5 1432.8 377.1 1433.2 377.7 1433.4 378.3 1433.1 378.9 1432.8 379.5 1432.9 380.1 1433 380.7 1433.4 381.3 1433.6 381.9 1433.3 382.5 1433.1 383.1 1433.5 383.7 1433.7 384.3 1433.5 384.9 1433.4 385.5 1433.3 386.1 1433.2 386.7 1433 387.3 1433 387.9 1433 388.5 1433.2 389.1 1433.4 389.7 1433.6 390.3 1433.8 390.9 1433.7 391.5 1433.6 392.1 1433.5 392.7 1433.5 393.3 1433.4 393.9 1433 394.5 1432.5 395.1 1432.5 395.7 1432.6 396.3 1432.8 396.9 1433 397.5 1433.1 398.1 1433.1 398.7 1432.7 399.3 1432.8 399.9 1433.2 400.5 1433.4 401.1 1433.3 401.7 1433.3 402.3 1433.4 402.9 1432.7 403.5 1432.2 404.1 1432.2 404.7 1432.3 405.3 1432.5 405.9 1432.3 406.5 1432 407.1 1432.3 407.7 1432.4 408.3 1431.9 408.9 1431.5 409.5 1431.1 410.1 1430.7 410.7 1430.1 411.3 1429.5 411.9 1428.6 412.5 1427.7 413.1 1426.5 413.7 1424.4 414.3 1422.2 414.9 1420.1 415.5 1418.1 416.1 1417 416.7 1417.6 417.3 1419 417.9 1420.7 418.5 1422.5 419.1 1423.8 419.7 1425 420.3 1425.5 420.9 1424.9 421.5 1423.3 422.1 1420.5 422.7 1416.1 423.3 1410.4 423.9 1404 424.5 1397.4 425.1 1392.9 425.7 1392.9 426.3 1397.5 426.9 1404 427.5 1410.5 428.1 1415.5 428.7 1419.1 429.3 1421.7 429.9 1423.2 430.5 1424 431.1 1425 431.7 1426.4 432.3 1427.3 432.9 1428.1 433.5 1429.2 434.1 1429.9 434.7 1430.2 435.3 1430.8 435.9 1431.6 436.5 1431.8 437.1 1431.9 437.7 1432.1 438.3 1432.4 438.9 1432.7 439.5 1432.7 440.1 1432.9 440.7 1433.1 441.3 1433 441.9 1432.9 442.5 1433.1 443.1 1432.9 443.7 1432.6 444.3 1432.9 444.9 1433.3 445.5 1433.1 446.1 1432.7 446.7 1432.9 447.3 1433.3 447.9 1433.3 448.5 1432.9 449.1 1432.6 449.7 1432.9 450.3 1433 450.9 1432.6 451.5 1432.4 452.1 1433 452.7 1433.2 453.3 1432.8 453.9 1433 454.5 1433.7 455.1 1433.8 455.7 1433.1 456.3 1432.5 456.9 1433 457.5 1433.8 458.1 1434.1 458.7 1433.9 459.3 1433.4 459.9 1432.8 460.5 1432.4 461.1 1432.4 461.7 1432.4 462.3 1432.6 462.9 1432.8 463.5 1432.3 464.1 1431.6 464.7 1431.7 465.3 1432 465.9 1431.8 466.5 1431.1 467.1 1430.2 467.7 1429.7 468.3 1429.3 468.9 1428.9 469.5 1428.9 470.1 1428.9 470.7 1429.5 471.3 1430.5 471.9 1431.1 472.5 1431.6 473.1 1432.2 473.7 1432.4 474.3 1432.5 474.9 1432.3 475.5 1432.2 476.1 1432.5 476.7 1432.7 477.3 1432.9 477.9 1433.3 478.5 1433.5 479.1 1433 479.7 1432.8 480.3 1433.4 480.9 1433.9 481.5 1433.8 482.1 1433.3 482.7 1433 483.3 1432.8 483.9 1432.8 484.5 1432.9 485.1 1432.8 485.7 1433 486.3 1433.6 486.9 1433.9 487.5 1433.5 488.1 1433.4 488.7 1433.9 489.3 1433.9 489.9 1433.6 490.5 1433.7 491.1 1433.8 491.7 1433.7 492.3 1433.8 492.9 1433.7 493.5 1433.3 494.1 1432.8 494.7 1432.9 495.3 1433.3 495.9 1433.4 496.5 1433.1 497.1 1432.8 497.7 1432.9 498.3 1433.4 498.9 1433.7 499.5 1433.4 500.1 1433.2 500.7 1433.5 501.3 1434.1 501.9 1434.1 502.5 1433.6 503.1 1433.4 503.7 1433.3 504.3 1433.7 504.9 1434.2 505.5 1433.6 506.1 1432.7 506.7 1433 507.3 1433.9 507.9 1434 508.5 1433.8 509.1 1433.6 509.7 1433.5 510.3 1433.5 510.9 1433.4 511.5 1433.9 512.1 1434.1 512.7 1433.3 513.3 1432.8 513.9 1432.8 514.5 1433 515.1 1433.4 515.7 1433.6 516.3 1433.7 516.9 1433.4 517.5 1433 518.1 1433 518.7 1433 519.3 1433.3 519.9 1433.5 520.5 1433.7 521.1 1433.8 521.7 1433.8 522.3 1434.2 522.9 1434.5 523.5 1433.8 524.1 1432.9 524.7 1432.8 525.3 1433.3 525.9 1433.5 526.5 1433.5 527.1 1433.4 527.7 1433.3 528.3 1433.2 528.9 1433.5 529.5 1434.1 530.1 1433.7 530.7 1433.1 531.3 1433.4 531.9 1433.9 532.5 1434 533.1 1434.1 533.7 1433.8 534.3 1433.4 534.9 1433.3 535.5 1433.2 536.1 1433.4 536.7 1433.7 537.3 1433.7 537.9 1433.5 538.5 1433.3 539.1 1433.1 539.7 1433.3 540.3 1433.5 540.9 1433.3 541.5 1433.2 542.1 1433.5 542.7 1433.9 543.3 1433.9 543.9 1433.9 544.5 1433.9 545.1 1433.5 545.7 1433.2 546.3 1432.9 546.9 1433 547.5 1433.6 548.1 1434.1 548.7 1434.1 549.3 1433.6 549.9 1433 550.5 1433 551.1 1433 551.7 1432.7 552.3 1432.9 552.9 1433.2 553.5 1433 554.1 1433.1 554.7 1433.5 555.3 1433.4 555.9 1432.8 556.5 1432.7 557.1 1432.9 557.7 1432.8 558.3 1432.5 558.9 1432.6 559.5 1432.6 560.1 1432 560.7 1432 561.3 1432.5 561.9 1432.5 562.5 1432.2 563.1 1431.8 563.7 1431.4 564.3 1430.8 564.9 1430.1 565.5 1429.5 566.1 1428.7 566.7 1427.8 567.3 1426.4 567.9 1424.6 568.5 1423.3 569.1 1422.3 569.7 1421 570.3 1420.1 570.9 1420 571.5 1420.7 572.1 1422.3 572.7 1424 573.3 1424.8 573.9 1424.7 574.5 1424.7 575.1 1425 575.7 1424.6 576.3 1423.2 576.9 1422.2 577.5 1421.6 578.1 1420.7 578.7 1420.4 579.3 1420.8 579.9 1421.7 580.5 1423 581.1 1424.5 581.7 1425.8 582.3 1426.9 582.9 1428.5 583.5 1429.9 584.1 1430.6 584.7 1431.1 585.3 1431.5 585.9 1431.8 586.5 1432 587.1 1432.2 587.7 1432.8 588.3 1432.9 588.9 1432.3 589.5 1431.9 590.1 1432.3 590.7 1432.8 591.3 1432.8 591.9 1432.8 592.5 1433.2 593.1 1433.1 593.7 1432.9 594.3 1433.2 594.9 1433.5 595.5 1433.2 596.1 1433.1 596.7 1433.7 597.3 1433.9 597.9 1433.3 598.5 1432.9 599.1 1432.9 599.7 1433.2 600.3 1433.3 600.9 1433.1 601.5 1432.8 602.1 1433 602.7 1433.1 603.3 1433.1 603.9 1433.5 604.5 1433.3 605.1 1432.7 605.7 1433 606.3 1433.6 606.9 1433.8 607.5 1433.8 608.1 1433.9 608.7 1433.6 609.3 1432.9 609.9 1432.7 610.5 1432.9 611.1 1433.1 611.7 1432.9 612.3 1432.8 612.9 1433.2 613.5 1433.5 614.1 1433.1 614.7 1432.7 615.3 1432.6 615.9 1432.7 616.5 1432.9 617.1 1433 617.7 1433.1 618.3 1432.6 618.9 1432.3 619.5 1433.1 620.1 1433.5 620.7 1432.5 621.4 1432.1 622 1432.8 622.6 1432.9 623.2 1432.7 623.8 1432.8 624.4 1432.6 625 1432.2 625.6 1431.5 626.2 1430.3 626.8 1429.4 627.4 1428.1 628 1426.6 628.6 1425.1 629.2 1423.2 629.8 1421.4 630.4 1419.6 631 1417.3 631.6 1415.6 632.2 1415.4 632.8 1416.2 633.4 1418.1 634 1420.6 634.6 1422.7 635.2 1424.3 635.8 1425.1 636.4 1425.7 637 1426.4 637.6 1426.7 638.2 1426 638.8 1424.4 639.4 1422.7 640 1421.2 640.6 1419.5 641.2 1417.2 641.8 1415.5 642.4 1415.3 643 1415.9 643.6 1417.3 644.2 1419.2 644.8 1421.2 645.4 1423.6 646 1425.6 646.6 1426.3 647.2 1426.5 647.8 1426.7 648.4 1426.7 649 1426.3 649.6 1425.3 650.2 1423.8 650.8 1422.7 651.4 1422.3 652 1422.4 652.6 1423 653.2 1424.2 653.8 1425.8 654.4 1427.6 655 1429.1 655.6 1430.1 656.2 1431 656.8 1431.5 657.4 1431.7 658 1432 658.6 1432 659.2 1431.9 659.8 1432.2 660.4 1432.5 661 1432.6 661.6 1432.6 662.2 1432.5 662.8 1432.6 663.4 1433.1 664 1433.2 664.6 1432.8 665.2 1432.3 665.8 1432.1 666.4 1432.4 667 1432.7 667.6 1432.6 668.2 1432.8 668.8 1432.5 669.4 1432 670 1432.2 670.6 1432.5 671.2 1432.3 671.8 1432.5 672.4 1432.2 673 1431.4 673.6 1431.1 674.2 1431.3 674.8 1431.5 675.4 1431.8 676 1431.8 676.6 1431.5 677.2 1431.6 677.8 1431.3 678.4 1430.6 679 1430.4 679.6 1430.9 680.2 1431.1 680.8 1430.9 681.4 1430.5 682 1429.8 682.6 1429.5 683.2 1429.7 683.8 1429.8 684.4 1430 685 1429.8 685.6 1429 686.2 1428.9 686.8 1429.5 687.4 1429.7 688 1429.5 688.6 1429.3 689.2 1429.4 689.8 1429.5 690.4 1430 691 1430.3 691.6 1430.2 692.2 1430.8 692.8 1431.7 693.4 1431.6 694 1431.1 694.6 1431.1 695.2 1431.6 695.8 1431.9 696.4 1432.1 697 1432.5 697.6 1432.9 698.2 1433 698.8 1432.5 699.4 1432.3 700 1432.6 700.6 1432.6 701.2 1432.6 701.8 1432.5 702.4 1433 703 1433.5 703.6 1433.3 704.2 1433.4 704.8 1433.7 705.4 1433.4 706 1433 706.6 1433.2 707.2 1433.8 707.8 1434.1 708.4 1433.8 709 1433.3 709.6 1433 710.2 1432.9 710.8 1432.5 711.4 1432.4 712 1432.8 712.6 1433.2 713.2 1433 713.8 1432.9 714.4 1433.4 715 1433.6 715.6 1433.7 716.2 1434 716.8 1434 717.4 1433.9 718 1433.3 718.6 1432.9 719.2 1433 719.8 1433.3 720.4 1433.3 721 1433 721.6 1433.2 722.2 1433.6 722.8 1433.4 723.4 1433.1 724 1433 724.6 1432.9 725.2 1432.6 725.8 1432.6 726.4 1432.8 727 1432.8 727.6 1433 728.2 1433 728.8 1432.5 729.4 1432.4 730 1432.7 730.6 1433.3 731.2 1433.7 731.8 1433.3 732.4 1432.8 733 1432.8 733.6 1433 734.2 1433.4 734.8 1433.6 735.4 1433.6 736 1433.9 736.6 1434 737.2 1433.8 737.8 1433.2 738.4 1433.3 739 1434 739.6 1433.7 740.2 1432.9 740.8 1432.5 741.4 1432.7 742 1433.5 742.6 1433.7 743.2 1433.3 743.8 1433.2 744.4 1433.5 745 1433.6 745.6 1433.2 746.2 1432.8 746.8 1432.5 747.4 1432.6 748 1433 748.6 1433.6 749.2 1434.1 749.8 1433.9 750.4 1433.5 751 1433.6 751.6 1433.6 752.2 1433.2 752.8 1432.9 753.4 1432.9 754 1433.3 754.6 1433.6 755.2 1433.6 755.8 1433.5 756.4 1433.4 757 1433.5 757.6 1433.7 758.2 1433.7 758.8 1433.4 759.4 1433.2 760 1433.1 760.6 1433.2 761.2 1433.5 761.8 1433.4 762.4 1433.1 763 1432.9 763.6 1433 764.2 1433.3 764.8 1433.4 765.4 1433.2 766 1433.3 766.6 1433.5 767.2 1433.4 767.8 1432.8 768.4 1432.5 769 1432.5 769.6 1432.3 770.2 1432.5 770.8 1432.6 771.4 1432.1 772 1431.8 772.6 1432.1 773.2 1432.2 773.8 1431.8 774.4 1431.4 775 1431.5 775.6 1431.3 776.2 1431.1 776.8 1431.1 777.4 1431.1 778 1430.8 778.6 1430.7 779.2 1430.7 779.8 1430.4 780.4 1430.3 781 1430.3 781.6 1430.5 782.2 1430.9 782.8 1431 783.4 1431.1 784 1431.1 784.6 1430.9 785.2 1431 785.8 1431.1 786.4 1431.3 787 1432 787.6 1432.3 788.2 1432.5 788.8 1432.2 789.4 1431.7 790 1431.9 790.6 1432.2 791.2 1432.9 791.8 1433.4 792.4 1432.6 793 1432.1 793.6 1432.5 794.2 1433.1 794.8 1433.7 795.4 1433.8 796 1433.1 796.6 1432.5 797.2 1432.4 797.8 1432.3 798.4 1432.4 799 1432.8 799.6 1433.1 800.2 1432.9 800.8 1433.4 801.4 1433.8 802 1433.2 802.6 1433.2 803.2 1433.4 803.8 1433.3 804.4 1433.4 805 1433.1 805.6 1433 806.2 1433.2 806.8 1433.4 807.4 1433.3 808 1432.9 808.6 1433.1 809.2 1433.7 809.8 1433.7 810.4 1433.4 811 1433.3 811.6 1433.3" fill="none" stroke="#e05a10" stroke-width="3.3" stroke-linejoin="round"/><path d="M50 1565.4L50.6 1565.4 51.2 1565.6 51.8 1565.9 52.4 1566.4 53 1566.4 53.6 1565.9 54.2 1566.2 54.8 1566.9 55.4 1566.9 56 1566.1 56.6 1566.1 57.2 1566.1 57.8 1566 58.4 1566.2 59 1566.3 59.6 1566.1 60.2 1565.8 60.8 1565.7 61.4 1565.9 62 1565.8 62.6 1565.6 63.2 1565.5 63.8 1565.7 64.4 1565.8 65 1565.8 65.6 1565.9 66.2 1565.9 66.8 1565.8 67.4 1565.9 68 1565.8 68.6 1565.7 69.2 1565.9 69.8 1566.2 70.4 1566.2 71 1565.8 71.6 1565.9 72.2 1566.4 72.8 1566.1 73.4 1565.4 74 1565.5 74.6 1565.8 75.2 1565.9 75.8 1565.7 76.4 1565.7 77 1565.7 77.6 1565 78.2 1564.8 78.8 1565.2 79.4 1565.5 80 1565.6 80.6 1565.9 81.2 1565.8 81.8 1565.9 82.4 1566.6 83 1566.3 83.6 1565.5 84.2 1565.3 84.8 1565.1 85.4 1564.9 86 1565.3 86.6 1565.3 87.2 1565.2 87.8 1565.1 88.4 1565.3 89 1565.4 89.6 1565.5 90.2 1565.8 90.8 1565.5 91.4 1565.3 92 1565.7 92.6 1566 93.2 1565.9 93.8 1565.8 94.4 1566 95 1565.8 95.6 1565.5 96.2 1565.6 96.8 1565.4 97.4 1565.2 98 1565.4 98.6 1565.5 99.2 1565.7 99.8 1565.7 100.4 1565.6 101 1565.7 101.6 1565.4 102.2 1565.3 102.8 1565.9 103.4 1565.9 104 1565.7 104.6 1565.7 105.2 1565.2 105.8 1565.3 106.4 1565.5 107 1565 107.6 1565.3 108.2 1566.1 108.8 1565.9 109.4 1565.4 110 1565.6 110.6 1565.7 111.2 1565.4 111.8 1565.5 112.4 1565.7 113 1565.9 113.6 1566.1 114.2 1565.8 114.8 1565.5 115.4 1565.5 116 1565.3 116.6 1565.1 117.2 1565.1 117.8 1565.5 118.4 1566.4 119 1566.4 119.6 1565.2 120.2 1564.3 120.8 1564.9 121.4 1565.4 122 1565.3 122.6 1565.5 123.2 1565.5 123.8 1565.1 124.4 1564.8 125 1564.7 125.6 1564.6 126.2 1564.5 126.8 1564.9 127.4 1565.3 128 1565.2 128.6 1565.2 129.2 1564.7 129.8 1564.1 130.4 1564.1 131 1563.9 131.6 1563.6 132.2 1563.8 132.8 1564.3 133.4 1564 134 1563.1 134.6 1562.4 135.2 1562.1 135.8 1561.8 136.4 1560.9 137 1558.8 137.6 1556.3 138.2 1552.6 138.8 1547.2 139.4 1540 140 1530.3 140.6 1518.7 141.2 1508 141.8 1501.3 142.4 1502.2 143 1510.6 143.6 1522.1 144.2 1533.2 144.8 1542 145.4 1548.8 146 1554.2 146.6 1557.6 147.2 1559.6 147.8 1561.1 148.4 1562.1 149 1562.4 149.6 1563.1 150.2 1564.3 150.8 1564.7 151.4 1564.6 152 1564.8 152.6 1564.5 153.2 1563.8 153.8 1564 154.4 1564.7 155 1564.8 155.6 1564.7 156.2 1564.6 156.8 1564.6 157.4 1564.4 158 1564.3 158.6 1564.9 159.2 1565.4 159.8 1565.2 160.4 1565 161 1564.7 161.6 1565.1 162.2 1565.8 162.8 1565.4 163.4 1565.1 164 1564.7 164.6 1564.3 165.2 1565 165.8 1565.4 166.4 1564.9 167 1564.6 167.6 1565 168.2 1565.4 168.8 1565.4 169.4 1565.8 170 1565.6 170.6 1564.8 171.2 1564.7 171.8 1565.1 172.4 1565.4 173 1565.9 173.6 1566 174.2 1565.8 174.8 1566 175.4 1566.1 176 1566 176.6 1566 177.2 1565.8 177.8 1565.6 178.4 1565.4 179 1565.5 179.6 1566.4 180.2 1566.6 180.8 1566.3 181.4 1566.1 182 1565.7 182.6 1565.5 183.2 1566.1 183.8 1566.4 184.4 1566 185 1565.8 185.6 1565.6 186.2 1565.1 186.8 1565 187.4 1565.2 188 1565.6 188.6 1566.1 189.2 1566.2 189.8 1566.1 190.4 1566 191 1565.3 191.6 1565.4 192.2 1566.1 192.8 1566.2 193.4 1566 194 1565.7 194.6 1565.3 195.2 1565.8 195.8 1566.1 196.4 1566.1 197 1566.4 197.6 1566.7 198.2 1566.4 198.8 1565.7 199.4 1565.9 200 1566.2 200.6 1565.5 201.2 1565.3 201.8 1565.4 202.4 1565.2 203 1565.3 203.6 1565.3 204.2 1565.1 204.8 1565.3 205.4 1565.3 206 1565 206.6 1565.3 207.2 1565.5 207.8 1565.5 208.4 1565.4 209 1565.4 209.6 1565.2 210.2 1565.3 210.8 1565.7 211.4 1565.8 212 1566 212.6 1566.4 213.2 1566.3 213.8 1566.1 214.4 1566.3 215 1566.3 215.6 1565.9 216.2 1565.7 216.8 1566.1 217.4 1565.9 218 1565.4 218.6 1564.9 219.2 1564.5 219.8 1564.8 220.4 1565.5 221 1566.2 221.6 1566 222.2 1565.8 222.8 1566.2 223.4 1566 224 1565.5 224.6 1565 225.2 1565 225.8 1565 226.4 1565.1 227 1565.4 227.6 1565.3 228.2 1565.7 228.8 1566 229.4 1565.6 230 1565.9 230.6 1566.3 231.2 1566.1 231.8 1566.2 232.4 1565.9 233 1565.3 233.6 1565.3 234.2 1565.4 234.8 1565.7 235.4 1566.1 236 1566.2 236.6 1566 237.2 1565.9 237.8 1566.3 238.4 1566.7 239 1566.7 239.6 1566.4 240.2 1565.8 240.9 1565.5 241.5 1565.7 242.1 1565.7 242.7 1565.7 243.3 1566.2 243.9 1566.9 244.5 1567.2 245.1 1567 245.7 1566.5 246.3 1565.9 246.9 1566.1 247.5 1566.3 248.1 1565.7 248.7 1565.3 249.3 1565.6 249.9 1566 250.5 1566.2 251.1 1566.4 251.7 1566.9 252.3 1567.2 252.9 1566.2 253.5 1564.8 254.1 1564.6 254.7 1565.6 255.3 1566.2 255.9 1565.7 256.5 1565.3 257.1 1565.1 257.7 1565.4 258.3 1565.8 258.9 1565.9 259.5 1566 260.1 1566.1 260.7 1565.7 261.3 1565 261.9 1564.5 262.5 1565.1 263.1 1565.8 263.7 1565.4 264.3 1565.1 264.9 1565.3 265.5 1565.7 266.1 1565.8 266.7 1565.4 267.3 1565.4 267.9 1565.5 268.5 1565.3 269.1 1565.4 269.7 1565.5 270.3 1565.6 270.9 1566.1 271.5 1566.3 272.1 1566 272.7 1565.6 273.3 1565.4 273.9 1565.1 274.5 1564.9 275.1 1564.9 275.7 1563.8 276.3 1560.8 276.9 1563.1 277.5 1564.7 278.1 1565.4 278.7 1566 279.3 1566.3 279.9 1566 280.5 1566 281.1 1566.4 281.7 1566.9 282.3 1566.9 282.9 1566.7 283.5 1566.2 284.1 1565.5 284.7 1565.3 285.3 1565.5 285.9 1565.5 286.5 1565.6 287.1 1565.6 287.7 1565.3 288.3 1565.5 288.9 1566 289.5 1565.7 290.1 1565.4 290.7 1565.5 291.3 1565.9 291.9 1566.4 292.5 1566 293.1 1565.4 293.7 1565.8 294.3 1566.4 294.9 1566.3 295.5 1565.7 296.1 1565.1 296.7 1565.4 297.3 1566.2 297.9 1566 298.5 1565.5 299.1 1565.5 299.7 1565.8 300.3 1566.2 300.9 1566.1 301.5 1565.5 302.1 1565.4 302.7 1565.7 303.3 1566 303.9 1566.4 304.5 1566.2 305.1 1565.9 305.7 1565.8 306.3 1565.4 306.9 1565.5 307.5 1565.9 308.1 1565.7 308.7 1565.5 309.3 1565.7 309.9 1566.1 310.5 1566.1 311.1 1565.5 311.7 1565.2 312.3 1565.3 312.9 1565.3 313.5 1565.4 314.1 1566.1 314.7 1566.5 315.3 1565.8 315.9 1565 316.5 1565.3 317.1 1565.7 317.7 1565.9 318.3 1566.1 318.9 1566.1 319.5 1566.2 320.1 1566 320.7 1565.5 321.3 1565.4 321.9 1565.4 322.5 1565.5 323.1 1565.5 323.7 1565.5 324.3 1565.3 324.9 1565.1 325.5 1564.9 326.1 1565 326.7 1565.4 327.3 1565 327.9 1564.4 328.5 1564.4 329.1 1565 329.7 1565.3 330.3 1565.1 330.9 1564.9 331.5 1564.6 332.1 1564.4 332.7 1564.4 333.3 1564.5 333.9 1564.6 334.5 1564.2 335.1 1563.5 335.7 1562.5 336.3 1561.3 336.9 1559.7 337.5 1557.7 338.1 1554.9 338.7 1551.3 339.3 1547 339.9 1542.2 340.5 1539.2 341.1 1540.1 341.7 1544 342.3 1548.7 342.9 1553 343.5 1555.9 344.1 1557.8 344.7 1559.3 345.3 1560 345.9 1560.2 346.5 1560.7 347.1 1561.3 347.7 1561.6 348.3 1561.1 348.9 1560.2 349.5 1560 350.1 1560.5 350.7 1560.7 351.3 1560.7 351.9 1561.1 352.5 1561.8 353.1 1561.9 353.7 1561.6 354.3 1561.4 354.9 1561.3 355.5 1560.9 356.1 1560.7 356.7 1560.8 357.3 1560 357.9 1558.8 358.5 1558.3 359.1 1558.4 359.7 1558.3 360.3 1559 360.9 1560.5 361.5 1561.4 362.1 1562 362.7 1562.9 363.3 1563.5 363.9 1564.3 364.5 1565.1 365.1 1564.9 365.7 1564.5 366.3 1564.6 366.9 1565 367.5 1565.2 368.1 1565.6 368.7 1566 369.3 1566 369.9 1566.1 370.5 1565.7 371.1 1565 371.7 1564.7 372.3 1565 372.9 1565.4 373.5 1565.5 374.1 1565.6 374.7 1565.4 375.3 1565.1 375.9 1565.2 376.5 1565.6 377.1 1565.7 377.7 1565.1 378.3 1564.4 378.9 1564.5 379.5 1565.4 380.1 1565.7 380.7 1565.3 381.3 1565.6 381.9 1566 382.5 1566.1 383.1 1566.2 383.7 1566 384.3 1565.3 384.9 1565.2 385.5 1565.7 386.1 1566 386.7 1566.1 387.3 1565.9 387.9 1565.7 388.5 1565.1 389.1 1564.6 389.7 1564.7 390.3 1564.7 390.9 1564.9 391.5 1565.5 392.1 1565.9 392.7 1565.9 393.3 1565.6 393.9 1565.5 394.5 1565.6 395.1 1565.1 395.7 1565.3 396.3 1566.3 396.9 1566.5 397.5 1566 398.1 1565.8 398.7 1565.7 399.3 1565.3 399.9 1565.7 400.5 1566.4 401.1 1566 401.7 1565.2 402.3 1565.3 402.9 1565.3 403.5 1564.8 404.1 1564.6 404.7 1564.5 405.3 1564.8 405.9 1565 406.5 1564.6 407.1 1564.5 407.7 1565 408.3 1565.3 408.9 1565.1 409.5 1564.7 410.1 1564.4 410.7 1564.6 411.3 1564.8 411.9 1564.5 412.5 1564.6 413.1 1564.7 413.7 1564.6 414.3 1564.6 414.9 1564 415.5 1563.3 416.1 1563.3 416.7 1562.6 417.3 1561.7 417.9 1561.5 418.5 1561 419.1 1559.5 419.7 1556.9 420.3 1553.5 420.9 1548.6 421.5 1542.3 422.1 1535.5 422.7 1530.2 423.3 1528.9 423.9 1532.3 424.5 1538.4 425.1 1544.7 425.7 1550.1 426.3 1554.4 426.9 1557.3 427.5 1558.9 428.1 1560.2 428.7 1561.5 429.3 1562.4 429.9 1563.2 430.5 1563.9 431.1 1564 431.7 1563.7 432.3 1563.7 432.9 1564.1 433.5 1564.4 434.1 1564.6 434.7 1565 435.3 1565.4 435.9 1565.8 436.5 1565.5 437.1 1564.8 437.7 1564.6 438.3 1564.7 438.9 1565 439.5 1565.4 440.1 1565.3 440.7 1565.1 441.3 1565.2 441.9 1564.9 442.5 1564.6 443.1 1564.8 443.7 1565.3 444.3 1565.6 444.9 1565.6 445.5 1565.8 446.1 1565.8 446.7 1565.5 447.3 1565.9 447.9 1566.2 448.5 1565.5 449.1 1564.7 449.7 1564.6 450.3 1565.4 450.9 1565.6 451.5 1565.3 452.1 1565.4 452.7 1565.9 453.3 1565.8 453.9 1565.4 454.5 1565.5 455.1 1565.4 455.7 1565.3 456.3 1565.7 456.9 1565.8 457.5 1565.1 458.1 1564.8 458.7 1565 459.3 1564.8 459.9 1564.6 460.5 1564.5 461.1 1564.8 461.7 1565.1 462.3 1564.9 462.9 1564.6 463.5 1564.3 464.1 1563.8 464.7 1563.6 465.3 1563.5 465.9 1562.5 466.5 1561.4 467.1 1561 467.7 1560.9 468.3 1561 468.9 1561.3 469.5 1561.8 470.1 1562.8 470.7 1564 471.3 1564.6 471.9 1564.8 472.5 1564.9 473.1 1564.9 473.7 1564.7 474.3 1564.9 474.9 1565.8 475.5 1565.9 476.1 1565 476.7 1564.7 477.3 1565.4 477.9 1565.8 478.5 1565.5 479.1 1565.3 479.7 1565 480.3 1565 480.9 1565.4 481.5 1565.8 482.1 1566.1 482.7 1566.3 483.3 1566 483.9 1565.6 484.5 1565.8 485.1 1565.8 485.7 1565.7 486.3 1565.7 486.9 1565.6 487.5 1565.1 488.1 1564.8 488.7 1565.6 489.3 1565.9 489.9 1565.7 490.5 1565.7 491.1 1565.5 491.7 1565.6 492.3 1565.9 492.9 1565.9 493.5 1565.8 494.1 1565.5 494.7 1565.4 495.3 1565.7 495.9 1566.3 496.5 1566.3 497.1 1565.4 497.7 1565 498.3 1565.3 498.9 1565.8 499.5 1566.2 500.1 1565.8 500.7 1565.1 501.3 1565 501.9 1565 502.5 1565.1 503.1 1565.9 503.7 1566.2 504.3 1565.7 504.9 1565.8 505.5 1566 506.1 1565.8 506.7 1565.8 507.3 1566.1 507.9 1566.2 508.5 1565.7 509.1 1565.4 509.7 1565.4 510.3 1565.7 510.9 1566.2 511.5 1566.1 512.1 1565.8 512.7 1565.8 513.3 1565.9 513.9 1565.7 514.5 1564.9 515.1 1565.1 515.7 1566 516.3 1566.3 516.9 1566 517.5 1566 518.1 1566 518.7 1565.8 519.3 1565.7 519.9 1565.6 520.5 1565.3 521.1 1565.6 521.7 1566.3 522.3 1566.5 522.9 1566.1 523.5 1565.9 524.1 1566.3 524.7 1566.3 525.3 1565.9 525.9 1565.9 526.5 1565.6 527.1 1565 527.7 1565 528.3 1565 528.9 1565.2 529.5 1565.8 530.1 1565.7 530.7 1565.4 531.3 1565.5 531.9 1565.9 532.5 1566.2 533.1 1565.9 533.7 1565.6 534.3 1566 534.9 1566.2 535.5 1565.8 536.1 1565.8 536.7 1565.8 537.3 1565.7 537.9 1565.7 538.5 1565.6 539.1 1565.7 539.7 1565.8 540.3 1565.5 540.9 1565.2 541.5 1565.2 542.1 1565.2 542.7 1564.9 543.3 1564.9 543.9 1565.3 544.5 1565.3 545.1 1565 545.7 1565.2 546.3 1565.6 546.9 1565.9 547.5 1566 548.1 1565.6 548.7 1565.2 549.3 1565.5 549.9 1565.9 550.5 1565.2 551.1 1564.6 551.7 1564.8 552.3 1564.9 552.9 1565.5 553.5 1566.3 554.1 1566.1 554.7 1565.7 555.3 1565.7 555.9 1565.8 556.5 1566.3 557.1 1566.7 557.7 1566.1 558.3 1565.8 558.9 1566.1 559.5 1565.8 560.1 1565.3 560.7 1565.4 561.3 1565.6 561.9 1565.9 562.5 1566.1 563.1 1566.1 563.7 1565.4 564.3 1564.3 564.9 1564.7 565.5 1565.6 566.1 1565.3 566.7 1564.6 567.3 1564.7 567.9 1564.9 568.5 1565.1 569.1 1564.8 569.7 1563.7 570.3 1563.3 570.9 1563.9 571.5 1563.8 572.1 1562.8 572.7 1561.6 573.3 1560.6 573.9 1560.3 574.5 1560.5 575.1 1560.9 575.7 1561.8 576.3 1562.7 576.9 1563 577.5 1563.6 578.1 1564.3 578.7 1564.3 579.3 1564.4 579.9 1564.2 580.5 1564.7 581.1 1565.8 581.7 1565.7 582.3 1565.1 582.9 1565 583.5 1565.4 584.1 1565.6 584.7 1565.5 585.3 1565.7 585.9 1565.7 586.5 1565.6 587.1 1565.7 587.7 1565.2 588.3 1565 588.9 1565.7 589.5 1565.9 590.1 1565.4 590.7 1565 591.3 1565 591.9 1565.7 592.5 1566.1 593.1 1565.7 593.7 1566 594.3 1566.2 594.9 1565.5 595.5 1565 596.1 1565.5 596.7 1566.1 597.3 1566.2 597.9 1565.7 598.5 1565.6 599.1 1565.7 599.7 1565.3 600.3 1565.3 600.9 1565.6 601.5 1566.2 602.1 1566 602.7 1565.7 603.3 1566.3 603.9 1566.5 604.5 1566.1 605.1 1565.9 605.7 1566 606.3 1566.1 606.9 1565.9 607.5 1565.9 608.1 1566.6 608.7 1566.4 609.3 1565.9 609.9 1566.1 610.5 1566.3 611.1 1565.9 611.7 1565.5 612.3 1565.8 612.9 1566 613.5 1565.5 614.1 1565.1 614.7 1565.4 615.3 1565.9 615.9 1565.8 616.5 1565.2 617.1 1565.6 617.7 1566.2 618.3 1566.2 618.9 1565.9 619.5 1565.3 620.1 1565 620.7 1565.2 621.4 1564.9 622 1565.1 622.6 1566.4 623.2 1566.6 623.8 1566.2 624.4 1565.8 625 1565.1 625.6 1564.8 626.2 1565.4 626.8 1565.8 627.4 1565.3 628 1564.4 628.6 1563.9 629.2 1563.8 629.8 1563.6 630.4 1563.2 631 1562.7 631.6 1561.9 632.2 1561.3 632.8 1560.6 633.4 1559.9 634 1559.6 634.6 1559.5 635.2 1559.3 635.8 1560.1 636.4 1561.3 637 1561.6 637.6 1561.6 638.2 1561.9 638.8 1562.7 639.4 1563.6 640 1564.1 640.6 1564.4 641.2 1564.3 641.8 1564 642.4 1564.2 643 1564.5 643.6 1564.5 644.2 1564.6 644.8 1564.5 645.4 1563.9 646 1563.1 646.6 1562.1 647.2 1560.6 647.8 1559 648.4 1557.6 649 1555.5 649.6 1552.8 650.2 1551.1 650.8 1551.2 651.4 1552.4 652 1553.9 652.6 1555.8 653.2 1557.9 653.8 1559.8 654.4 1561.5 655 1562.7 655.6 1563.4 656.2 1564 656.8 1564.5 657.4 1565 658 1565.3 658.6 1565.1 659.2 1565.2 659.8 1565.4 660.4 1565.2 661 1565.2 661.6 1565.6 662.2 1565.9 662.8 1565.8 663.4 1565.4 664 1564.9 664.6 1564.7 665.2 1565.2 665.8 1565.4 666.4 1565.2 667 1565 667.6 1564.8 668.2 1565 668.8 1565.5 669.4 1565.9 670 1565.8 670.6 1565.7 671.2 1565.9 671.8 1566.2 672.4 1566.5 673 1566.4 673.6 1565.5 674.2 1565 674.8 1565 675.4 1565 676 1565.3 676.6 1565.5 677.2 1565.7 677.8 1565.5 678.4 1565.2 679 1565 679.6 1564.7 680.2 1564.7 680.8 1564.3 681.4 1563.3 682 1562.3 682.6 1561.7 683.2 1561.7 683.8 1561.5 684.4 1561.2 685 1560.9 685.6 1560.8 686.2 1561.1 686.8 1561.9 687.4 1563.1 688 1564.3 688.6 1565 689.2 1565.3 689.8 1565.1 690.4 1564.9 691 1565.4 691.6 1565.6 692.2 1565.3 692.8 1565.4 693.4 1565.9 694 1566.2 694.6 1566 695.2 1565.3 695.8 1565.3 696.4 1566.2 697 1566.6 697.6 1566.1 698.2 1565.6 698.8 1565.6 699.4 1565.9 700 1565.6 700.6 1565.3 701.2 1565.7 701.8 1566.3 702.4 1565.9 703 1565.4 703.6 1565.8 704.2 1566.2 704.8 1565.8 705.4 1565.1 706 1564.9 706.6 1565.2 707.2 1565.6 707.8 1565.8 708.4 1565.5 709 1565.2 709.6 1565.6 710.2 1566.2 710.8 1566.3 711.4 1566 712 1565.6 712.6 1565.5 713.2 1565.6 713.8 1565.7 714.4 1565.5 715 1565.4 715.6 1565.8 716.2 1565.8 716.8 1565.2 717.4 1565.3 718 1565.9 718.6 1565.8 719.2 1565.3 719.8 1565.1 720.4 1565.2 721 1565.1 721.6 1564.8 722.2 1565.4 722.8 1565.8 723.4 1565.4 724 1565 724.6 1565.3 725.2 1566.2 725.8 1566 726.4 1565.5 727 1565.8 727.6 1565.7 728.2 1565.5 728.8 1565.7 729.4 1565.8 730 1566.1 730.6 1566.2 731.2 1566 731.8 1565.5 732.4 1564.9 733 1564.9 733.6 1565.2 734.2 1565.8 734.8 1566.2 735.4 1566 736 1565.8 736.6 1565.5 737.2 1565.3 737.8 1565.5 738.4 1565.4 739 1564.9 739.6 1565.3 740.2 1565.9 740.8 1566.1 741.4 1565.9 742 1565.5 742.6 1565.1 743.2 1565.4 743.8 1566.3 744.4 1566.3 745 1565.5 745.6 1565.4 746.2 1565.8 746.8 1565.7 747.4 1565.4 748 1564.8 748.6 1565.1 749.2 1565.5 749.8 1565.3 750.4 1565.5 751 1565.9 751.6 1565.9 752.2 1565.3 752.8 1564.8 753.4 1565 754 1565.2 754.6 1564.8 755.2 1564.7 755.8 1565.3 756.4 1565.7 757 1565.4 757.6 1565.5 758.2 1565.8 758.8 1565.5 759.4 1565.2 760 1564.8 760.6 1564.6 761.2 1565.1 761.8 1565.3 762.4 1565.1 763 1565 763.6 1565.4 764.2 1565.4 764.8 1564.9 765.4 1565 766 1565.3 766.6 1565.5 767.2 1565.5 767.8 1565.6 768.4 1565.7 769 1565.4 769.6 1565.1 770.2 1564.8 770.8 1564.9 771.4 1565 772 1564.9 772.6 1564.9 773.2 1564.8 773.8 1564.8 774.4 1564.6 775 1564.7 775.6 1564.8 776.2 1564 776.8 1563.9 777.4 1564.4 778 1564.2 778.6 1564 779.2 1564.1 779.8 1563.7 780.4 1563.4 781 1563.4 781.6 1562.8 782.2 1562.3 782.8 1562.5 783.4 1562.7 784 1562.9 784.6 1563.1 785.2 1562.8 785.8 1562.4 786.4 1562.3 787 1562.3 787.6 1562.6 788.2 1562.9 788.8 1563.3 789.4 1563.9 790 1563.8 790.6 1563.4 791.2 1563.5 791.8 1563.9 792.4 1564 793 1564 793.6 1564.4 794.2 1564.4 794.8 1561.6 795.4 1559.2 796 1563.6 796.6 1564.8 797.2 1564.5 797.8 1564.3 798.4 1564.7 799 1565.5 799.6 1565.7 800.2 1565.8 800.8 1566.1 801.4 1566 802 1566 802.6 1566.6 803.2 1566.8 803.8 1565.9 804.4 1565 805 1564.6 805.6 1565.4 806.2 1565.9 806.8 1565.6 807.4 1565.7 808 1565.9 808.6 1565.8 809.2 1565.4 809.8 1565.3 810.4 1565.8 811 1565.5 811.6 1565.1" fill="none" stroke="#4e9ea0" stroke-width="3.3" stroke-linejoin="round"/><path d="M50 1602.3L50.6 1602.5 51.2 1602.4 51.8 1602.3 52.4 1602.2 53 1602.1 53.6 1602.2 54.2 1602.3 54.8 1602.4 55.4 1602.4 56 1602.2 56.6 1602.3 57.2 1602.3 57.8 1602.4 58.4 1602.8 59 1602.6 59.6 1602 60.2 1601.9 60.8 1602.3 61.4 1602.3 62 1602.3 62.6 1602.5 63.2 1602.3 63.8 1602 64.4 1602 65 1602 65.6 1601.7 66.2 1601.6 66.8 1601.7 67.4 1602 68 1602.2 68.6 1602.1 69.2 1602 69.8 1602 70.4 1602 71 1602 71.6 1601.8 72.2 1601.8 72.8 1601.9 73.4 1602.2 74 1602.5 74.6 1602.4 75.2 1602.2 75.8 1602.3 76.4 1602.4 77 1602.3 77.6 1602.4 78.2 1602.8 78.8 1602.9 79.4 1602.7 80 1602.2 80.6 1601.8 81.2 1602.1 81.8 1602.3 82.4 1602.3 83 1602.5 83.6 1602.6 84.2 1602.4 84.8 1602.1 85.4 1602 86 1602.4 86.6 1602.6 87.2 1602.6 87.8 1602.4 88.4 1602 89 1602 89.6 1602.4 90.2 1602.3 90.8 1601.8 91.4 1601.9 92 1602.5 92.6 1602.5 93.2 1602.5 93.8 1602.9 94.4 1603 95 1602.6 95.6 1602.1 96.2 1601.9 96.8 1602.5 97.4 1602.9 98 1602.5 98.6 1602.2 99.2 1602.3 99.8 1601.9 100.4 1601.6 101 1601.7 101.6 1601.6 102.2 1602 102.8 1602.6 103.4 1602.9 104 1603.1 104.6 1602.6 105.2 1602.1 105.8 1602.3 106.4 1602.3 107 1601.9 107.6 1601.6 108.2 1601.7 108.8 1601.9 109.4 1601.9 110 1602.1 110.6 1602.4 111.2 1602.5 111.8 1602.5 112.4 1602.3 113 1602 113.6 1601.8 114.2 1601.7 114.8 1601.6 115.4 1601.8 116 1602.1 116.6 1602.1 117.2 1602.5 117.8 1602.7 118.4 1602.3 119 1601.8 119.6 1601.6 120.2 1601.6 120.8 1601.7 121.4 1601.6 122 1601.6 122.6 1601.7 123.2 1601.6 123.8 1601.5 124.4 1601.8 125 1601.9 125.6 1601.7 126.2 1602.1 126.8 1602.3 127.4 1601.7 128 1601.2 128.6 1601.1 129.2 1600.9 129.8 1600.8 130.4 1600.8 131 1600.9 131.6 1600.8 132.2 1600.9 132.8 1600.8 133.4 1600.5 134 1600.2 134.6 1599.9 135.2 1599.5 135.8 1599 136.4 1598.4 137 1597.9 137.6 1597.5 138.2 1596.3 138.8 1594.2 139.4 1591.3 140 1586.8 140.6 1579.6 141.2 1569.9 141.8 1558.7 142.4 1546.6 143 1536.2 143.6 1532.3 144.2 1537.4 144.8 1548.6 145.4 1561.1 146 1572.4 146.6 1581.1 147.2 1587.4 147.8 1591.9 148.4 1594.7 149 1596.3 149.6 1597.4 150.2 1598 150.8 1598.5 151.4 1599.2 152 1599.9 152.6 1600.1 153.2 1600.3 153.8 1600.3 154.4 1600.3 155 1600.8 155.6 1601.3 156.2 1601.2 156.8 1601.3 157.4 1601.6 158 1601.6 158.6 1601.4 159.2 1601.3 159.8 1601.8 160.4 1602 161 1601.9 161.6 1602.1 162.2 1601.8 162.8 1601.4 163.4 1601.6 164 1601.7 164.6 1601.8 165.2 1602 165.8 1601.8 166.4 1601.7 167 1601.7 167.6 1601.7 168.2 1601.7 168.8 1601.7 169.4 1601.9 170 1602 170.6 1602 171.2 1602 171.8 1601.9 172.4 1602.1 173 1602.5 173.6 1602.4 174.2 1602.1 174.8 1602.2 175.4 1602 176 1601.6 176.6 1601.6 177.2 1601.9 177.8 1602.3 178.4 1602.7 179 1602.7 179.6 1602.5 180.2 1602.6 180.8 1602.4 181.4 1602.1 182 1601.7 182.6 1601.7 183.2 1601.9 183.8 1601.8 184.4 1601.8 185 1602.1 185.6 1602.4 186.2 1602.5 186.8 1602.3 187.4 1602.1 188 1602 188.6 1602 189.2 1602 189.8 1602.1 190.4 1602.1 191 1602.1 191.6 1602.2 192.2 1602.3 192.8 1602.2 193.4 1601.9 194 1601.7 194.6 1601.8 195.2 1602 195.8 1602.3 196.4 1602.2 197 1602.3 197.6 1602.6 198.2 1602.6 198.8 1602.3 199.4 1602.1 200 1602.4 200.6 1602.6 201.2 1602.5 201.8 1602.5 202.4 1602.4 203 1602.2 203.6 1602.4 204.2 1602.3 204.8 1602 205.4 1602.4 206 1602.7 206.6 1602.4 207.2 1602.4 207.8 1602.5 208.4 1602.3 209 1601.9 209.6 1601.7 210.2 1601.8 210.8 1602 211.4 1602.1 212 1601.9 212.6 1601.8 213.2 1602.1 213.8 1602.6 214.4 1602.9 215 1602.7 215.6 1602.6 216.2 1602.4 216.8 1602 217.4 1602 218 1602.3 218.6 1602.1 219.2 1601.6 219.8 1601.7 220.4 1601.9 221 1601.9 221.6 1602.3 222.2 1602.6 222.8 1602.5 223.4 1602.1 224 1602.1 224.6 1602.3 225.2 1602.1 225.8 1602.1 226.4 1602.1 227 1602 227.6 1601.9 228.2 1602.3 228.8 1602.8 229.4 1602.6 230 1602.2 230.6 1602 231.2 1602.1 231.8 1602.4 232.4 1602.6 233 1602.5 233.6 1602.3 234.2 1602.2 234.8 1602.2 235.4 1602 236 1602.2 236.6 1602.4 237.2 1601.9 237.8 1601.3 238.4 1601.9 239 1602.5 239.6 1602.2 240.2 1601.8 240.9 1602.1 241.5 1602.4 242.1 1602.1 242.7 1602.1 243.3 1602.5 243.9 1602.6 244.5 1602.2 245.1 1602.1 245.7 1602.4 246.3 1602.7 246.9 1602.8 247.5 1602.7 248.1 1602.4 248.7 1602.3 249.3 1602.6 249.9 1603.1 250.5 1603 251.1 1602.8 251.7 1602.4 252.3 1601.7 252.9 1601.9 253.5 1602.5 254.1 1602.4 254.7 1602.2 255.3 1602.4 255.9 1602.7 256.5 1602.8 257.1 1602.3 257.7 1602.1 258.3 1602.4 258.9 1602.6 259.5 1602.5 260.1 1602.5 260.7 1602.3 261.3 1602.2 261.9 1602.2 262.5 1602.3 263.1 1602.4 263.7 1602.4 264.3 1602.3 264.9 1601.7 265.5 1601.9 266.1 1602.5 266.7 1602.4 267.3 1602.4 267.9 1602.5 268.5 1602.8 269.1 1603 269.7 1602.7 270.3 1602.5 270.9 1602.4 271.5 1602.2 272.1 1602.2 272.7 1602.5 273.3 1602.3 273.9 1602 274.5 1602.1 275.1 1602.4 275.7 1602.4 276.3 1602 276.9 1602 277.5 1602.3 278.1 1602.2 278.7 1602.3 279.3 1602.3 279.9 1602.2 280.5 1602 281.1 1601.7 281.7 1601.7 282.3 1602 282.9 1602 283.5 1601.8 284.1 1601.9 284.7 1602.1 285.3 1602.2 285.9 1602.3 286.5 1602.6 287.1 1602.8 287.7 1602.6 288.3 1602.5 288.9 1602.2 289.5 1602 290.1 1602.2 290.7 1602.4 291.3 1602.5 291.9 1602.3 292.5 1602.3 293.1 1602.6 293.7 1602.7 294.3 1602.7 294.9 1602.3 295.5 1602.2 296.1 1602.5 296.7 1602.5 297.3 1601.9 297.9 1601.6 298.5 1602 299.1 1602.2 299.7 1602.1 300.3 1602 300.9 1602.2 301.5 1602.4 302.1 1602.5 302.7 1602.1 303.3 1602 303.9 1602.1 304.5 1602.3 305.1 1602.6 305.7 1602.5 306.3 1602.2 306.9 1602.1 307.5 1602.2 308.1 1602.1 308.7 1602 309.3 1602.2 309.9 1602.3 310.5 1602.4 311.1 1602.4 311.7 1602.4 312.3 1602.3 312.9 1602.2 313.5 1602.4 314.1 1602.2 314.7 1602 315.3 1602.1 315.9 1602.1 316.5 1601.7 317.1 1601.5 317.7 1601.8 318.3 1601.9 318.9 1602 319.5 1602.4 320.1 1602.6 320.7 1602.3 321.3 1601.9 321.9 1601.6 322.5 1601.6 323.1 1601.5 323.7 1601.4 324.3 1601.8 324.9 1602.1 325.5 1602.1 326.1 1601.9 326.7 1601.8 327.3 1601.8 327.9 1601.6 328.5 1601.5 329.1 1601.7 329.7 1601.7 330.3 1601.4 330.9 1601.4 331.5 1601.8 332.1 1601.8 332.7 1601.1 333.3 1600.6 333.9 1600.7 334.5 1600.9 335.1 1600.7 335.7 1599.8 336.3 1598.7 336.9 1597.8 337.5 1596.5 338.1 1594 338.7 1590.3 339.3 1585.7 339.9 1581.5 340.5 1579.9 341.1 1581.9 341.7 1585.9 342.3 1590.1 342.9 1593.6 343.5 1596 344.1 1597.8 344.7 1599.3 345.3 1599.8 345.9 1599.8 346.5 1599.9 347.1 1599.4 347.7 1598.8 348.3 1598.4 348.9 1598.5 349.5 1598.8 350.1 1599 350.7 1599.1 351.3 1599.2 351.9 1599.2 352.5 1599.2 353.1 1599.5 353.7 1599.7 354.3 1599.7 354.9 1599.4 355.5 1599 356.1 1598.5 356.7 1597.6 357.3 1597 357.9 1596.9 358.5 1597.4 359.1 1598.5 359.7 1599.3 360.3 1599.7 360.9 1600.3 361.5 1600.8 362.1 1601.2 362.7 1601.5 363.3 1601.3 363.9 1601.6 364.5 1601.7 365.1 1601.7 365.7 1601.7 366.3 1601.6 366.9 1601.5 367.5 1601.6 368.1 1601.8 368.7 1602 369.3 1602 369.9 1601.9 370.5 1601.8 371.1 1602.2 371.7 1602.8 372.3 1602.7 372.9 1602.5 373.5 1602.2 374.1 1601.5 374.7 1601.4 375.3 1601.4 375.9 1601.3 376.5 1601.4 377.1 1601.5 377.7 1601.7 378.3 1602.1 378.9 1602.4 379.5 1602.4 380.1 1602 380.7 1601.8 381.3 1602.2 381.9 1602.5 382.5 1602.2 383.1 1602.3 383.7 1602.4 384.3 1602.6 384.9 1603 385.5 1602.5 386.1 1602.1 386.7 1602.3 387.3 1602.5 387.9 1602.5 388.5 1602.3 389.1 1601.9 389.7 1601.8 390.3 1602.1 390.9 1602.3 391.5 1601.9 392.1 1601.6 392.7 1601.4 393.3 1601.5 393.9 1601.6 394.5 1601.8 395.1 1601.9 395.7 1601.6 396.3 1601.7 396.9 1602.2 397.5 1602.3 398.1 1602.1 398.7 1601.9 399.3 1601.9 399.9 1602.1 400.5 1602.2 401.1 1602.1 401.7 1601.9 402.3 1601.7 402.9 1602.2 403.5 1602.4 404.1 1602 404.7 1601.8 405.3 1601.8 405.9 1601.9 406.5 1601.8 407.1 1601.3 407.7 1601.4 408.3 1601.5 408.9 1601.5 409.5 1601.5 410.1 1601.3 410.7 1601.3 411.3 1601.7 411.9 1601.8 412.5 1601.6 413.1 1601.3 413.7 1601.1 414.3 1601 414.9 1600.7 415.5 1600.1 416.1 1599.7 416.7 1599.3 417.3 1598.8 417.9 1597.8 418.5 1596.8 419.1 1595.4 419.7 1593 420.3 1589.1 420.9 1583.3 421.5 1575.8 422.1 1567.2 422.7 1559 423.3 1556.3 423.9 1561.8 424.5 1571 425.1 1579.8 425.7 1586.4 426.3 1590.8 426.9 1593.8 427.5 1595.6 428.1 1596.8 428.7 1598 429.3 1598.8 429.9 1599 430.5 1599.3 431.1 1599.9 431.7 1600.3 432.3 1600.7 432.9 1601.2 433.5 1601.1 434.1 1600.9 434.7 1600.8 435.3 1601.2 435.9 1601.7 436.5 1601.7 437.1 1601.6 437.7 1602 438.3 1602.1 438.9 1601.6 439.5 1601.3 440.1 1601.5 440.7 1601.8 441.3 1601.7 441.9 1601.8 442.5 1602.1 443.1 1602.2 443.7 1602 444.3 1601.6 444.9 1601.4 445.5 1601.5 446.1 1601.9 446.7 1602 447.3 1601.8 447.9 1601.9 448.5 1601.8 449.1 1601.6 449.7 1602 450.3 1602.3 450.9 1602.4 451.5 1602.3 452.1 1602 452.7 1602.1 453.3 1602.1 453.9 1602 454.5 1601.8 455.1 1601.7 455.7 1601.9 456.3 1601.9 456.9 1601.7 457.5 1601.7 458.1 1601.6 458.7 1601.4 459.3 1601.7 459.9 1602 460.5 1602 461.1 1601.5 461.7 1601.2 462.3 1601.2 462.9 1601.2 463.5 1601.1 464.1 1600.9 464.7 1600.4 465.3 1599.5 465.9 1598.7 466.5 1598.2 467.1 1597.5 467.7 1597.2 468.3 1597.6 468.9 1598 469.5 1598.2 470.1 1598.9 470.7 1600 471.3 1600.9 471.9 1601.1 472.5 1601.1 473.1 1601.2 473.7 1601.5 474.3 1602.3 474.9 1602.5 475.5 1602 476.1 1601.6 476.7 1601.8 477.3 1602 477.9 1602.1 478.5 1602 479.1 1602 479.7 1601.8 480.3 1601.7 480.9 1601.8 481.5 1601.8 482.1 1602.2 482.7 1602.6 483.3 1602.5 483.9 1602.6 484.5 1602.7 485.1 1602.3 485.7 1601.9 486.3 1601.9 486.9 1602 487.5 1601.7 488.1 1601.7 488.7 1601.9 489.3 1602 489.9 1602 490.5 1602 491.1 1602.5 491.7 1602.4 492.3 1601.9 492.9 1602.1 493.5 1602 494.1 1601.7 494.7 1601.9 495.3 1602.2 495.9 1602.1 496.5 1602.2 497.1 1602.4 497.7 1602.2 498.3 1602.1 498.9 1602 499.5 1601.9 500.1 1602.1 500.7 1602.3 501.3 1602.1 501.9 1601.9 502.5 1602 503.1 1602.2 503.7 1602.3 504.3 1602.2 504.9 1602 505.5 1602 506.1 1602.2 506.7 1602.3 507.3 1602.3 507.9 1602.1 508.5 1602.3 509.1 1602.4 509.7 1601.9 510.3 1601.8 510.9 1602.4 511.5 1602.7 512.1 1602.3 512.7 1602.1 513.3 1602 513.9 1602 514.5 1602.2 515.1 1602.3 515.7 1602 516.3 1601.9 516.9 1602.4 517.5 1602.6 518.1 1602.6 518.7 1602.5 519.3 1602.3 519.9 1602.2 520.5 1602.4 521.1 1602.7 521.7 1602.4 522.3 1602.2 522.9 1602.1 523.5 1602.1 524.1 1601.8 524.7 1601.9 525.3 1602.3 525.9 1602.4 526.5 1602.2 527.1 1602.1 527.7 1602.1 528.3 1602.4 528.9 1602.5 529.5 1602.3 530.1 1602.1 530.7 1601.9 531.3 1601.7 531.9 1602 532.5 1602.2 533.1 1602.2 533.7 1601.9 534.3 1601.7 534.9 1601.6 535.5 1601.7 536.1 1601.8 536.7 1601.7 537.3 1601.5 537.9 1601.5 538.5 1601.6 539.1 1601.7 539.7 1601.8 540.3 1601.8 540.9 1601.9 541.5 1601.9 542.1 1602 542.7 1602.6 543.3 1602.8 543.9 1602.5 544.5 1602.4 545.1 1602.1 545.7 1602 546.3 1602.5 546.9 1602.9 547.5 1602.8 548.1 1602.5 548.7 1602.3 549.3 1602.4 549.9 1602.4 550.5 1602.4 551.1 1602.6 551.7 1602.5 552.3 1602.5 552.9 1602.2 553.5 1601.8 554.1 1602.2 554.7 1602.7 555.3 1602.4 555.9 1601.9 556.5 1601.8 557.1 1601.6 557.7 1602 558.3 1602.8 558.9 1602.7 559.5 1602.2 560.1 1602 560.7 1602.3 561.3 1602.4 561.9 1602.3 562.5 1602.2 563.1 1602.2 563.7 1602.2 564.3 1601.8 564.9 1601.4 565.5 1601.4 566.1 1601.7 566.7 1602 567.3 1602.1 567.9 1601.7 568.5 1601.4 569.1 1601.2 569.7 1601 570.3 1600.8 570.9 1600.6 571.5 1600.6 572.1 1600 572.7 1598.8 573.3 1598.2 573.9 1597.5 574.5 1596.6 575.1 1596.1 575.7 1595.8 576.3 1596 576.9 1596.8 577.5 1597.6 578.1 1598.3 578.7 1599 579.3 1599.8 579.9 1600.4 580.5 1600.8 581.1 1601.1 581.7 1601.4 582.3 1601.5 582.9 1601.5 583.5 1601.2 584.1 1601.1 584.7 1601.7 585.3 1601.8 585.9 1601.9 586.5 1602 587.1 1601.8 587.7 1601.8 588.3 1601.9 588.9 1602.2 589.5 1602.7 590.1 1602.2 590.7 1601.7 591.3 1602.1 591.9 1602.5 592.5 1602.5 593.1 1602 593.7 1601.7 594.3 1602.1 594.9 1602.2 595.5 1602 596.1 1602 596.7 1602.1 597.3 1602.6 597.9 1602.7 598.5 1602.4 599.1 1602.1 599.7 1602.1 600.3 1602.3 600.9 1602.3 601.5 1602.3 602.1 1602.4 602.7 1602.2 603.3 1602 603.9 1601.9 604.5 1602 605.1 1602 605.7 1602.2 606.3 1602.2 606.9 1602.4 607.5 1602.4 608.1 1602.2 608.7 1602 609.3 1602 609.9 1602.1 610.5 1602.2 611.1 1602.6 611.7 1602.4 612.3 1601.9 612.9 1602.2 613.5 1602.4 614.1 1601.9 614.7 1601.8 615.3 1602.1 615.9 1602.2 616.5 1602.4 617.1 1602.3 617.7 1602 618.3 1601.7 618.9 1601.7 619.5 1601.9 620.1 1602.2 620.7 1602.2 621.4 1601.9 622 1601.8 622.6 1601.9 623.2 1602.1 623.8 1602 624.4 1601.7 625 1601.8 625.6 1602 626.2 1601.5 626.8 1601.2 627.4 1600.9 628 1600.5 628.6 1600.8 629.2 1601.4 629.8 1601.2 630.4 1600.5 631 1600.1 631.6 1599.7 632.2 1598.9 632.8 1597.8 633.4 1596.5 634 1595.1 634.6 1593.7 635.2 1592.3 635.8 1590.8 636.4 1589.7 637 1590.1 637.6 1591.4 638.2 1593.1 638.8 1594.9 639.4 1596.3 640 1597.5 640.6 1598.3 641.2 1598.7 641.8 1599.2 642.4 1599.5 643 1599.6 643.6 1599.2 644.2 1598.3 644.8 1597.4 645.4 1596.6 646 1594.9 646.6 1592.2 647.2 1590.1 647.8 1588.5 648.4 1587.2 649 1587.6 649.6 1589.5 650.2 1591.8 650.8 1594 651.4 1595.8 652 1597.2 652.6 1598.5 653.2 1599.8 653.8 1600.7 654.4 1600.9 655 1600.9 655.6 1601.3 656.2 1601.4 656.8 1601.4 657.4 1601.4 658 1601.7 658.6 1602.2 659.2 1601.9 659.8 1601.2 660.4 1601.2 661 1601.6 661.6 1601.8 662.2 1601.8 662.8 1601.7 663.4 1601.7 664 1601.8 664.6 1602 665.2 1601.9 665.8 1602 666.4 1602.3 667 1602.3 667.6 1601.8 668.2 1601.3 668.8 1601.6 669.4 1602 670 1602 670.6 1601.9 671.2 1601.9 671.8 1602.2 672.4 1602 673 1601.5 673.6 1601.1 674.2 1601.1 674.8 1601.1 675.4 1601.1 676 1601.4 676.6 1601.5 677.2 1601.2 677.8 1600.7 678.4 1600.3 679 1600.1 679.6 1599.3 680.2 1598.3 680.8 1597.8 681.4 1597.5 682 1596.8 682.6 1595.9 683.2 1595.7 683.8 1596.4 684.4 1596.8 685 1597 685.6 1597.6 686.2 1598.5 686.8 1599.2 687.4 1599.9 688 1600.7 688.6 1601.1 689.2 1601.4 689.8 1601.4 690.4 1601.2 691 1602 691.6 1602.5 692.2 1602.1 692.8 1601.7 693.4 1602.2 694 1602.8 694.6 1602.6 695.2 1602.4 695.8 1602.1 696.4 1601.6 697 1601.5 697.6 1601.7 698.2 1602 698.8 1602.2 699.4 1602.5 700 1602.6 700.6 1602.4 701.2 1602.4 701.8 1602.4 702.4 1602.1 703 1602 703.6 1602.3 704.2 1602.5 704.8 1602.3 705.4 1601.9 706 1602.2 706.6 1602.5 707.2 1602.4 707.8 1602.3 708.4 1602.3 709 1602.3 709.6 1602.3 710.2 1602.2 710.8 1602.2 711.4 1602.2 712 1602.2 712.6 1602.2 713.2 1602 713.8 1602.1 714.4 1602.4 715 1602.4 715.6 1602.3 716.2 1602.4 716.8 1602 717.4 1601.7 718 1602.1 718.6 1602.6 719.2 1602.5 719.8 1602.1 720.4 1602.1 721 1602.2 721.6 1602.2 722.2 1602.2 722.8 1602.6 723.4 1602.7 724 1602.4 724.6 1602.3 725.2 1602.1 725.8 1602 726.4 1602.1 727 1602.2 727.6 1602.2 728.2 1602 728.8 1601.6 729.4 1601.8 730 1602.5 730.6 1602.6 731.2 1602.3 731.8 1602.3 732.4 1602.4 733 1602.4 733.6 1602.4 734.2 1602.1 734.8 1602.2 735.4 1602.3 736 1602 736.6 1601.9 737.2 1602 737.8 1601.8 738.4 1601.7 739 1602.2 739.6 1602.6 740.2 1602.3 740.8 1602.1 741.4 1602 742 1602 742.6 1601.8 743.2 1601.9 743.8 1602.4 744.4 1603 745 1603.2 745.6 1602.9 746.2 1602.7 746.8 1602.3 747.4 1601.8 748 1601.9 748.6 1602.4 749.2 1602.5 749.8 1602.6 750.4 1602.7 751 1602.4 751.6 1602.2 752.2 1602.3 752.8 1602.3 753.4 1602.2 754 1602 754.6 1602.1 755.2 1602.3 755.8 1602 756.4 1601.8 757 1602 757.6 1602 758.2 1602.1 758.8 1602.3 759.4 1602.1 760 1602 760.6 1602.2 761.2 1602 761.8 1601.8 762.4 1601.9 763 1602 763.6 1602.1 764.2 1602.3 764.8 1602.4 765.4 1602.2 766 1602 766.6 1602.1 767.2 1602.1 767.8 1602 768.4 1602 769 1601.8 769.6 1601.4 770.2 1601.4 770.8 1601.4 771.4 1601.4 772 1601.5 772.6 1601.1 773.2 1600.9 773.8 1601 774.4 1600.9 775 1600.8 775.6 1600.5 776.2 1600.2 776.8 1600 777.4 1599.6 778 1599.5 778.6 1599.5 779.2 1599.3 779.8 1599.4 780.4 1599.8 781 1599.4 781.6 1599.1 782.2 1599.6 782.8 1600 783.4 1599.8 784 1599.5 784.6 1599.4 785.2 1599.7 785.8 1599.8 786.4 1599.7 787 1599.7 787.6 1600 788.2 1600.4 788.8 1600.5 789.4 1600.6 790 1600.8 790.6 1600.9 791.2 1601 791.8 1601 792.4 1600.9 793 1600.9 793.6 1601 794.2 1601.3 794.8 1602 795.4 1602.2 796 1601.6 796.6 1601.3 797.2 1601.8 797.8 1602.4 798.4 1602.2 799 1601.8 799.6 1602 800.2 1602.3 800.8 1602.3 801.4 1602.3 802 1602.1 802.6 1602 803.2 1601.9 803.8 1601.8 804.4 1601.9 805 1602 805.6 1601.9 806.2 1602.3 806.8 1602.6 807.4 1602.5 808 1602 808.6 1601.8 809.2 1602.3 809.8 1602.5 810.4 1602.5 811 1602.7 811.6 1602.8" fill="none" stroke="#6cbab6" stroke-width="3.3" stroke-linejoin="round"/><path d="M50 1633.1L50.6 1634.1 51.2 1634.4 51.8 1633.8 52.4 1633.2 53 1632.4 53.6 1631.9 54.2 1631.7 54.8 1632.3 55.4 1633.2 56 1633.3 56.6 1632.8 57.2 1632.2 57.8 1631.6 58.4 1631.5 59 1632.2 59.6 1633.1 60.2 1633 60.8 1632.6 61.4 1632.1 62 1632.3 62.6 1632.9 63.2 1632.5 63.8 1633.3 64.4 1633.5 65 1631.5 65.6 1630.9 66.2 1632 66.8 1632.2 67.4 1631.7 68 1632.2 68.6 1632.9 69.2 1632.2 69.8 1631.6 70.4 1633.1 71 1634.4 71.6 1633.5 72.2 1632.4 72.8 1631.4 73.4 1631.1 74 1632.9 74.6 1634.3 75.2 1632.9 75.8 1631 76.4 1631.6 77 1632.5 77.6 1632.9 78.2 1632.9 78.8 1631.8 79.4 1632 80 1633.4 80.6 1633.8 81.2 1633.7 81.8 1633.8 82.4 1633.2 83 1632.8 83.6 1633.2 84.2 1632.4 84.8 1631.8 85.4 1633.2 86 1634.6 86.6 1634.5 87.2 1633.9 87.8 1632.5 88.4 1631.5 89 1632.6 89.6 1632.3 90.2 1630.9 90.8 1631.2 91.4 1632.4 92 1633.3 92.6 1633.4 93.2 1633.2 93.8 1632.7 94.4 1631.4 95 1631.1 95.6 1632.1 96.2 1632.7 96.8 1632.7 97.4 1632.6 98 1632.6 98.6 1633.1 99.2 1632.9 99.8 1631.8 100.4 1630.5 101 1629.9 101.6 1630.9 102.2 1632.5 102.8 1633.2 103.4 1633.1 104 1633.5 104.6 1634.6 105.2 1634.9 105.8 1634.3 106.4 1634 107 1633 107.6 1631.2 108.2 1630.9 108.8 1632.5 109.4 1634.3 110 1634.5 110.6 1633.3 111.2 1632.8 111.8 1632 112.4 1631.2 113 1632 113.6 1632.1 114.2 1632.3 114.8 1633.1 115.4 1632.9 116 1632.6 116.6 1632.3 117.2 1632 117.8 1632.5 118.4 1632.8 119 1631.8 119.6 1631.8 120.2 1633.3 120.8 1633.1 121.4 1631.9 122 1631.5 122.6 1631.3 123.2 1632.1 123.8 1632.2 124.4 1631.6 125 1632.5 125.6 1633 126.2 1632.3 126.8 1632 127.4 1631.7 128 1631 128.6 1631.1 129.2 1632.1 129.8 1631.9 130.4 1631.5 131 1631.6 131.6 1631.9 132.2 1631.5 132.8 1630.8 133.4 1630.8 134 1630.5 134.6 1630.3 135.2 1631.3 135.8 1631 136.4 1629.3 137 1628.4 137.6 1627.5 138.2 1626.5 138.8 1626.2 139.4 1625.3 140 1622.7 140.6 1619.9 141.2 1617.1 141.8 1612.7 142.4 1606.4 143 1597.6 143.6 1587.5 144.2 1576.9 144.8 1567.7 145.4 1563.5 146 1564.5 146.6 1569.7 147.2 1578.2 147.8 1588.2 148.4 1597.5 149 1605.3 149.6 1611.7 150.2 1616.7 150.8 1620.6 151.4 1623.6 152 1625 152.6 1626 153.2 1627.5 153.8 1628 154.4 1627.7 155 1628.1 155.6 1629.4 156.2 1630.5 156.8 1631.3 157.4 1631.4 158 1630.8 158.6 1630 159.2 1630.1 159.8 1630.9 160.4 1631.5 161 1632.1 161.6 1633.2 162.2 1633.2 162.8 1632.2 163.4 1631.5 164 1631.5 164.6 1631.8 165.2 1631.6 165.8 1631.3 166.4 1632 167 1633.1 167.6 1633.5 168.2 1633.1 168.8 1632.7 169.4 1632.2 170 1631.6 170.6 1632.2 171.2 1632.6 171.8 1631.7 172.4 1632.3 173 1633.7 173.6 1633.9 174.2 1633.4 174.8 1633.3 175.4 1633.4 176 1632.9 176.6 1631.9 177.2 1631.6 177.8 1632.2 178.4 1632.5 179 1631.8 179.6 1630.7 180.2 1631.1 180.8 1631.8 181.4 1632 182 1633.4 182.6 1634.3 183.2 1633.5 183.8 1632.8 184.4 1632.4 185 1631.8 185.6 1631.7 186.2 1632.1 186.8 1631.8 187.4 1631.7 188 1631.7 188.6 1631.4 189.2 1631.7 189.8 1632.7 190.4 1633.3 191 1633.4 191.6 1633.6 192.2 1633.3 192.8 1633 193.4 1632.9 194 1632.9 194.6 1633.2 195.2 1633.1 195.8 1633.3 196.4 1633.6 197 1632.3 197.6 1631.7 198.2 1632.4 198.8 1632.7 199.4 1632.8 200 1633.3 200.6 1633.3 201.2 1632.6 201.8 1632.5 202.4 1633.4 203 1633 203.6 1632.6 204.2 1633.3 204.8 1632.9 205.4 1631.9 206 1631.7 206.6 1632.1 207.2 1632 207.8 1631.8 208.4 1632.3 209 1632.4 209.6 1632.6 210.2 1633.7 210.8 1634.5 211.4 1634.1 212 1632.8 212.6 1631.8 213.2 1631.4 213.8 1631.7 214.4 1632.1 215 1632.5 215.6 1632.8 216.2 1633.1 216.8 1633.1 217.4 1633.2 218 1632.5 218.6 1631 219.2 1631.4 219.8 1632.6 220.4 1632.9 221 1632.7 221.6 1632.7 222.2 1632.9 222.8 1632.6 223.4 1632.2 224 1632.5 224.6 1633.3 225.2 1633.5 225.8 1633.1 226.4 1632.3 227 1631.8 227.6 1632 228.2 1631.5 228.8 1630.9 229.4 1630.7 230 1631.3 230.6 1632.8 231.2 1633.5 231.8 1631.7 232.4 1630.6 233 1631.8 233.6 1632.9 234.2 1633.7 234.8 1633.1 235.4 1631.7 236 1631.8 236.6 1632.4 237.2 1632.6 237.8 1632.5 238.4 1632.6 239 1632.2 239.6 1631.3 240.2 1631.9 240.9 1633.8 241.5 1634.1 242.1 1633.5 242.7 1633.6 243.3 1634.2 243.9 1634.1 244.5 1633 245.1 1632.8 245.7 1633.3 246.3 1632.8 246.9 1632.4 247.5 1632.9 248.1 1632.9 248.7 1632.7 249.3 1633 249.9 1633.4 250.5 1633.2 251.1 1632.5 251.7 1631.4 252.3 1631 252.9 1631.4 253.5 1632.4 254.1 1633.2 254.7 1632.7 255.3 1633 255.9 1634.2 256.5 1633.6 257.1 1632.9 257.7 1633.2 258.3 1633.7 258.9 1634.2 259.5 1633.6 260.1 1633 260.7 1633.1 261.3 1633.3 261.9 1634.1 262.5 1633.4 263.1 1632.6 263.7 1633.7 264.3 1632.6 264.9 1632 265.5 1633.4 266.1 1633.1 266.7 1632.6 267.3 1632.9 267.9 1633.3 268.5 1632.9 269.1 1633 269.7 1634.5 270.3 1634.4 270.9 1633.5 271.5 1633.6 272.1 1633.6 272.7 1633.9 273.3 1634 273.9 1634 274.5 1633.6 275.1 1633.2 275.7 1633 276.3 1632.9 276.9 1632.7 277.5 1631.6 278.1 1631.7 278.7 1632.4 279.3 1632.2 279.9 1632.7 280.5 1632.6 281.1 1631.5 281.7 1632.6 282.3 1633.6 282.9 1633.3 283.5 1633.1 284.1 1631.6 284.7 1630.3 285.3 1630.8 285.9 1631.9 286.5 1632.7 287.1 1632.3 287.7 1631.6 288.3 1632.1 288.9 1632.4 289.5 1631.1 290.1 1630.6 290.7 1631.5 291.3 1632.4 291.9 1633.2 292.5 1633.1 293.1 1632.4 293.7 1632.1 294.3 1632.7 294.9 1633.8 295.5 1632.8 296.1 1631.7 296.7 1632.6 297.3 1633.2 297.9 1633.5 298.5 1632.8 299.1 1631.7 299.7 1632.1 300.3 1632.1 300.9 1631.8 301.5 1632.1 302.1 1632.3 302.7 1632.7 303.3 1633.1 303.9 1632.8 304.5 1633 305.1 1633.3 305.7 1632.8 306.3 1632.5 306.9 1632.9 307.5 1632.8 308.1 1632.1 308.7 1632.4 309.3 1633.1 309.9 1632.9 310.5 1632.6 311.1 1632.4 311.7 1632.4 312.3 1632.4 312.9 1632.5 313.5 1632.1 314.1 1631.6 314.7 1631.6 315.3 1632.4 315.9 1633.6 316.5 1633.1 317.1 1631.8 317.7 1631.7 318.3 1631.8 318.9 1631.2 319.5 1630.6 320.1 1630.5 320.7 1630.5 321.3 1630.2 321.9 1630 322.5 1630.1 323.1 1630 323.7 1630.6 324.3 1630.8 324.9 1629.7 325.5 1629.5 326.1 1629.9 326.7 1629.3 327.3 1629 327.9 1628.8 328.5 1628.2 329.1 1628 329.7 1628.3 330.3 1627.9 330.9 1627 331.5 1626.2 332.1 1625.7 332.7 1625.9 333.3 1625.9 333.9 1624.6 334.5 1622.7 335.1 1620.8 335.7 1618.2 336.3 1614 336.9 1609.4 337.5 1606.4 338.1 1604.4 338.7 1603.8 339.3 1606.7 339.9 1610.2 340.5 1613.1 341.1 1616.5 341.7 1619.3 342.3 1620.8 342.9 1621 343.5 1621 344.1 1621.8 344.7 1621.9 345.3 1621.6 345.9 1622.4 346.5 1622.8 347.1 1621.5 347.7 1620 348.3 1620.3 348.9 1621.1 349.5 1621.1 350.1 1620.8 350.7 1619.8 351.3 1619.5 351.9 1620.1 352.5 1619.6 353.1 1618.3 353.7 1616.9 354.3 1616.3 354.9 1616.8 355.5 1617.4 356.1 1617.6 356.7 1617.1 357.3 1616.7 357.9 1617.2 358.5 1618.9 359.1 1620.4 359.7 1619.7 360.3 1619.5 360.9 1620.9 361.5 1621.4 362.1 1621.8 362.7 1623 363.3 1624 363.9 1625.2 364.5 1625.7 365.1 1626 365.7 1626.6 366.3 1626.5 366.9 1626.5 367.5 1627.4 368.1 1628 368.7 1628.1 369.3 1628.5 369.9 1629.1 370.5 1629.9 371.1 1630.1 371.7 1629.2 372.3 1628.8 372.9 1629.2 373.5 1629.1 374.1 1629.1 374.7 1630.2 375.3 1631.5 375.9 1631.5 376.5 1631.4 377.1 1631.5 377.7 1631.4 378.3 1631.1 378.9 1631 379.5 1631.7 380.1 1632.2 380.7 1631.1 381.3 1629.6 381.9 1629.2 382.5 1630 383.1 1631.1 383.7 1631.8 384.3 1631.6 384.9 1631.3 385.5 1631.3 386.1 1630.9 386.7 1630.8 387.3 1631.5 387.9 1632.2 388.5 1632.1 389.1 1632.4 389.7 1632.2 390.3 1630.7 390.9 1630.7 391.5 1631.8 392.1 1631.9 392.7 1630.9 393.3 1630.4 393.9 1631.1 394.5 1632 395.1 1632 395.7 1631.4 396.3 1630.9 396.9 1629.9 397.5 1630.3 398.1 1631.8 398.7 1632 399.3 1631.9 399.9 1632 400.5 1631.8 401.1 1632.6 401.7 1632.5 402.3 1631.3 402.9 1630.3 403.5 1630 404.1 1630.5 404.7 1630.7 405.3 1630.1 405.9 1629.6 406.5 1629.4 407.1 1629.9 407.7 1630.3 408.3 1629.7 408.9 1628.8 409.5 1628.6 410.1 1629 410.7 1628.9 411.3 1628.8 411.9 1628.7 412.5 1627.9 413.1 1628.1 413.7 1627.6 414.3 1626.5 414.9 1627 415.5 1627.5 416.1 1626.7 416.7 1625.5 417.3 1623.9 417.9 1621.5 418.5 1619.3 419.1 1616.9 419.7 1614.7 420.3 1612.6 420.9 1610.3 421.5 1608.5 422.1 1607.7 422.7 1608.8 423.3 1611.4 423.9 1614.3 424.5 1616.9 425.1 1619.3 425.7 1621 426.3 1623.1 426.9 1625 427.5 1626.6 428.1 1627.9 428.7 1627.9 429.3 1627.7 429.9 1627.4 430.5 1627.6 431.1 1628.9 431.7 1630.2 432.3 1630 432.9 1629.5 433.5 1630.6 434.1 1631.2 434.7 1630.6 435.3 1630.3 435.9 1630.3 436.5 1630.7 437.1 1631.1 437.7 1630.8 438.3 1631 438.9 1631.3 439.5 1630.9 440.1 1630.9 440.7 1631.3 441.3 1630.8 441.9 1631.1 442.5 1632.3 443.1 1631.7 443.7 1630.5 444.3 1630.6 444.9 1631.2 445.5 1631.4 446.1 1631.7 446.7 1632.4 447.3 1633.1 447.9 1632.5 448.5 1630.8 449.1 1630.7 449.7 1630.7 450.3 1629.8 450.9 1631.1 451.5 1632.5 452.1 1632 452.7 1631.7 453.3 1631.1 453.9 1629.9 454.5 1630.3 455.1 1631.8 455.7 1632.7 456.3 1632.2 456.9 1631 457.5 1630.4 458.1 1629.9 458.7 1629 459.3 1628.5 459.9 1629.8 460.5 1630.8 461.1 1630 461.7 1629.2 462.3 1629.1 462.9 1628.3 463.5 1627.6 464.1 1627.8 464.7 1628.3 465.3 1629.1 465.9 1628.9 466.5 1628.2 467.1 1627.2 467.7 1626.4 468.3 1627.6 468.9 1628.7 469.5 1628.7 470.1 1628.9 470.7 1629.9 471.3 1630.2 471.9 1630 472.5 1629.7 473.1 1629.8 473.7 1630.8 474.3 1630.5 474.9 1629.9 475.5 1631 476.1 1632.2 476.7 1632.7 477.3 1631.8 477.9 1630.6 478.5 1631.1 479.1 1632.5 479.7 1632.2 480.3 1631.9 480.9 1633 481.5 1634 482.1 1633.5 482.7 1632.9 483.3 1632.6 483.9 1631.8 484.5 1631.7 485.1 1632 485.7 1632.6 486.3 1634 486.9 1633.3 487.5 1631.4 488.1 1631.1 488.7 1631.8 489.3 1632.5 489.9 1632.8 490.5 1633.4 491.1 1633.5 491.7 1632.8 492.3 1633 492.9 1633.7 493.5 1634.1 494.1 1634.2 494.7 1633.4 495.3 1632.9 495.9 1633.1 496.5 1632.2 497.1 1631.1 497.7 1630.7 498.3 1631.6 498.9 1632.8 499.5 1633 500.1 1632.6 500.7 1632.2 501.3 1632.9 501.9 1634.1 502.5 1634 503.1 1633.5 503.7 1634.1 504.3 1634.4 504.9 1633.4 505.5 1633.3 506.1 1633.3 506.7 1632.8 507.3 1632.3 507.9 1632.4 508.5 1633.1 509.1 1633.5 509.7 1633.3 510.3 1633.2 510.9 1633.4 511.5 1632.7 512.1 1631.5 512.7 1631.6 513.3 1632.3 513.9 1632.8 514.5 1633.6 515.1 1634 515.7 1633.9 516.3 1633.3 516.9 1632.3 517.5 1631.7 518.1 1632.6 518.7 1633.6 519.3 1633.1 519.9 1633 520.5 1633.8 521.1 1633.3 521.7 1632.4 522.3 1632.2 522.9 1631.6 523.5 1631.6 524.1 1633.5 524.7 1634.9 525.3 1634 525.9 1632.1 526.5 1632.1 527.1 1633.5 527.7 1634 528.3 1633.9 528.9 1633.7 529.5 1633.7 530.1 1634 530.7 1633.8 531.3 1634 531.9 1633.6 532.5 1632.8 533.1 1632.4 533.7 1631.4 534.3 1631.6 534.9 1632.4 535.5 1632.7 536.1 1633.5 536.7 1634.3 537.3 1633.7 537.9 1633 538.5 1633.1 539.1 1632.8 539.7 1632.5 540.3 1632.4 540.9 1631.9 541.5 1630.9 542.1 1630.2 542.7 1630.6 543.3 1631.2 543.9 1631.4 544.5 1632.3 545.1 1632.5 545.7 1632.4 546.3 1633.3 546.9 1633.5 547.5 1632.3 548.1 1631.9 548.7 1632.2 549.3 1632.4 549.9 1632.4 550.5 1632.1 551.1 1632.2 551.7 1632.2 552.3 1631.8 552.9 1631.5 553.5 1631.7 554.1 1632.2 554.7 1632.7 555.3 1632.6 555.9 1632 556.5 1632.6 557.1 1633.6 557.7 1633.7 558.3 1633.3 558.9 1633.3 559.5 1632.9 560.1 1633 560.7 1633.7 561.3 1633.3 561.9 1632.1 562.5 1631.9 563.1 1633.1 563.7 1632.9 564.3 1631.7 564.9 1632.5 565.5 1633.5 566.1 1633.5 566.7 1633.8 567.3 1633 567.9 1631.5 568.5 1631.7 569.1 1632.7 569.7 1633.2 570.3 1632.9 570.9 1631.8 571.5 1631.9 572.1 1632.6 572.7 1631.4 573.3 1630 573.9 1630.2 574.5 1629.4 575.1 1628.2 575.7 1629.4 576.3 1630.8 576.9 1630.7 577.5 1630 578.1 1629.3 578.7 1628.9 579.3 1629.7 579.9 1629.7 580.5 1629.2 581.1 1630.2 581.7 1630.4 582.3 1630.1 582.9 1631.9 583.5 1633.2 584.1 1632.9 584.7 1632.7 585.3 1631.7 585.9 1631.3 586.5 1633 587.1 1634.2 587.7 1633.1 588.3 1631.6 588.9 1631.7 589.5 1632.3 590.1 1632.1 590.7 1632 591.3 1632.6 591.9 1632.7 592.5 1632.2 593.1 1631.5 593.7 1631.7 594.3 1632 594.9 1632.4 595.5 1633.4 596.1 1633.5 596.7 1633 597.3 1632.5 597.9 1632.2 598.5 1632.5 599.1 1633.5 599.7 1632.8 600.3 1631.2 600.9 1631.7 601.5 1632.7 602.1 1632.3 602.7 1631.7 603.3 1631.4 603.9 1631.1 604.5 1631.6 605.1 1632.8 605.7 1633 606.3 1632.9 606.9 1633 607.5 1632.7 608.1 1632.2 608.7 1631.9 609.3 1632.1 609.9 1632 610.5 1632 611.1 1632.6 611.7 1633.1 612.3 1632.8 612.9 1632 613.5 1631.3 614.1 1630.9 614.7 1631.1 615.3 1631.9 615.9 1632.6 616.5 1632.5 617.1 1631.7 617.7 1631.7 618.3 1632.6 618.9 1632 619.5 1631.3 620.1 1631.6 620.7 1632 621.4 1631.8 622 1631.4 622.6 1631.5 623.2 1631.4 623.8 1630.9 624.4 1631.4 625 1631.5 625.6 1631.3 626.2 1630.9 626.8 1629.9 627.4 1629.5 628 1630.1 628.6 1630.5 629.2 1631 629.8 1631.2 630.4 1630.1 631 1628.8 631.6 1629.6 632.2 1630.9 632.8 1630.9 633.4 1630.3 634 1629.9 634.6 1629.9 635.2 1630.3 635.8 1630.4 636.4 1629.8 637 1628.6 637.6 1627.1 638.2 1626.2 638.8 1625.8 639.4 1625.1 640 1624 640.6 1622.5 641.2 1621.4 641.8 1621.1 642.4 1620.1 643 1618.4 643.6 1618 644.2 1618 644.8 1616.8 645.4 1615.2 646 1614.6 646.6 1615 647.2 1615.1 647.8 1615.7 648.4 1617.2 649 1618.2 649.6 1619.1 650.2 1620.4 650.8 1621.9 651.4 1622.7 652 1623.3 652.6 1624.2 653.2 1625.5 653.8 1626.8 654.4 1627.1 655 1627.5 655.6 1628.2 656.2 1628 656.8 1628.3 657.4 1629.7 658 1629.5 658.6 1629.1 659.2 1629.7 659.8 1630.6 660.4 1631.4 661 1631.8 661.6 1632.1 662.2 1632.1 662.8 1632.5 663.4 1633 664 1632.5 664.6 1631.3 665.2 1631.4 665.8 1632.3 666.4 1631.6 667 1632 667.6 1633.5 668.2 1632.8 668.8 1631.7 669.4 1632.5 670 1633.1 670.6 1632.4 671.2 1632.4 671.8 1632.3 672.4 1631.7 673 1631.9 673.6 1632 674.2 1631.3 674.8 1631 675.4 1631.3 676 1631.8 676.6 1631.4 677.2 1630.1 677.8 1629.6 678.4 1628.9 679 1626.9 679.6 1626.2 680.2 1626.7 680.8 1627.1 681.4 1627.9 682 1628.7 682.6 1629.1 683.2 1629.6 683.8 1630.5 684.4 1631.4 685 1632.5 685.6 1633.1 686.2 1632.4 686.8 1632.1 687.4 1632.6 688 1632.5 688.6 1631.3 689.2 1630.3 689.8 1630.5 690.4 1631.3 691 1632.1 691.6 1632.4 692.2 1632.4 692.8 1632.8 693.4 1633.6 694 1634.2 694.6 1633.2 695.2 1631.9 695.8 1632.2 696.4 1633.1 697 1633.3 697.6 1633.1 698.2 1633 698.8 1632.3 699.4 1631.1 700 1631.1 700.6 1632.6 701.2 1633.9 701.8 1633.9 702.4 1633.5 703 1633.8 703.6 1633.6 704.2 1632.4 704.8 1631.9 705.4 1632.4 706 1632.9 706.6 1632.5 707.2 1632.2 707.8 1632.2 708.4 1632.2 709 1633.3 709.6 1634.1 710.2 1633.5 710.8 1633.3 711.4 1633.8 712 1633 712.6 1630.9 713.2 1631.3 713.8 1634 714.4 1634.6 715 1633.1 715.6 1632.5 716.2 1632.4 716.8 1631.5 717.4 1631.2 718 1632 718.6 1632.6 719.2 1632.8 719.8 1633.3 720.4 1633.8 721 1634.3 721.6 1633.9 722.2 1632.6 722.8 1632.1 723.4 1631.8 724 1632.1 724.6 1633.6 725.2 1633.6 725.8 1632.7 726.4 1632.6 727 1632.3 727.6 1632.6 728.2 1632.2 728.8 1631.3 729.4 1631.7 730 1632.9 730.6 1633.1 731.2 1632.7 731.8 1633.7 732.4 1634.4 733 1633.5 733.6 1632.7 734.2 1632.8 734.8 1633 735.4 1631.7 736 1630.4 736.6 1631.5 737.2 1632.2 737.8 1632.1 738.4 1633 739 1633 739.6 1631.7 740.2 1631.5 740.8 1632.7 741.4 1632.8 742 1633 742.6 1634.6 743.2 1634.3 743.8 1632.4 744.4 1631.4 745 1631.3 745.6 1631.8 746.2 1632.5 746.8 1632.9 747.4 1632.7 748 1632.2 748.6 1631.6 749.2 1631.9 749.8 1632.5 750.4 1633.3 751 1633.9 751.6 1632.8 752.2 1631.4 752.8 1631.6 753.4 1632.2 754 1632 754.6 1632.4 755.2 1634 755.8 1634.1 756.4 1632 757 1631.4 757.6 1632.3 758.2 1631.8 758.8 1631.7 759.4 1632.8 760 1632.9 760.6 1631.8 761.2 1631.5 761.8 1632.2 762.4 1631.9 763 1632 763.6 1632.3 764.2 1631.3 764.8 1631.2 765.4 1631.3 766 1631 766.6 1631.8 767.2 1631.7 767.8 1631.5 768.4 1632.3 769 1632.7 769.6 1632.4 770.2 1631.7 770.8 1631 771.4 1631.5 772 1632 772.6 1632.3 773.2 1632 773.8 1631.2 774.4 1631 775 1630.9 775.6 1630.8 776.2 1630.6 776.8 1629.7 777.4 1629.9 778 1630.9 778.6 1630.6 779.2 1629.9 779.8 1629.9 780.4 1630.1 781 1629.9 781.6 1629.2 782.2 1629.6 782.8 1629.9 783.4 1629.8 784 1630.4 784.6 1631.1 785.2 1630.8 785.8 1629.9 786.4 1629.7 787 1629.7 787.6 1629.7 788.2 1630.7 788.8 1631.4 789.4 1630.7 790 1630.1 790.6 1630 791.2 1629.6 791.8 1629.4 792.4 1630.3 793 1631.6 793.6 1631.5 794.2 1631.4 794.8 1633 795.4 1633.7 796 1633.1 796.6 1632.2 797.2 1631.4 797.8 1631.4 798.4 1631.6 799 1631.6 799.6 1632.2 800.2 1632.5 800.8 1632.2 801.4 1632.9 802 1633.1 802.6 1632.3 803.2 1632.6 803.8 1632.7 804.4 1632.7 805 1632.8 805.6 1632.5 806.2 1632.6 806.8 1632.7 807.4 1632.9 808 1632.8 808.6 1632.6 809.2 1632.8 809.8 1632.6 810.4 1632.3 811 1632.5 811.6 1632.9" fill="none" stroke="#448585" stroke-width="3.3" stroke-linejoin="round"/><path d="M50 1663.6L50.6 1663.4 51.2 1662.7 51.8 1663.4 52.4 1663.1 53 1662.1 53.6 1661.7 54.2 1661.8 54.8 1662.6 55.4 1663.5 56 1663.7 56.6 1662.9 57.2 1661.4 57.8 1661.8 58.4 1663.7 59 1664.7 59.6 1665 60.2 1664 60.8 1663 61.4 1663.6 62 1663.7 62.6 1662.9 63.2 1662.4 63.8 1662.5 64.4 1663 65 1663.4 65.6 1663.7 66.2 1663.7 66.8 1663 67.4 1663.1 68 1663 68.6 1662.1 69.2 1662.1 69.8 1663.3 70.4 1663.4 71 1663 71.6 1662.8 72.2 1662.6 72.8 1662.6 73.4 1662.6 74 1663.1 74.6 1663.4 75.2 1663.2 75.8 1662.9 76.4 1662.3 77 1661.9 77.6 1661.8 78.2 1662.3 78.8 1662.8 79.4 1662.6 80 1663 80.6 1664.1 81.2 1663.8 81.8 1662.9 82.4 1662.6 83 1661.8 83.6 1661.7 84.2 1662.5 84.8 1662.5 85.4 1661.9 86 1662 86.6 1662.4 87.2 1662.2 87.8 1662.4 88.4 1663.3 89 1663.6 89.6 1663.1 90.2 1662.8 90.8 1662.6 91.4 1662.3 92 1662 92.6 1662.2 93.2 1662.8 93.8 1662.9 94.4 1662.7 95 1663 95.6 1663.6 96.2 1663.8 96.8 1662.9 97.4 1662.5 98 1662.5 98.6 1662.7 99.2 1663.6 99.8 1664 100.4 1663.5 101 1663.1 101.6 1663.5 102.2 1663.8 102.8 1663.3 103.4 1662.2 104 1661.8 104.6 1662.7 105.2 1662.5 105.8 1662.3 106.4 1663.1 107 1662.7 107.6 1661.8 108.2 1662.1 108.8 1662.8 109.4 1662.6 110 1661.6 110.6 1661.7 111.2 1662.9 111.8 1663.1 112.4 1661.4 113 1659.9 113.6 1660.8 114.2 1662.6 114.8 1663.7 115.4 1664.1 116 1663.1 116.6 1662.4 117.2 1662.8 117.8 1662.7 118.4 1662.4 119 1662.8 119.6 1663 120.2 1661.9 120.8 1661.4 121.4 1662 122 1662 122.6 1661.5 123.2 1661.6 123.8 1662.7 124.4 1663.4 125 1663.3 125.6 1663.2 126.2 1662.5 126.8 1660.7 127.4 1660.1 128 1660.6 128.6 1660.5 129.2 1660.8 129.8 1661 130.4 1660.7 131 1660.1 131.6 1659.6 132.2 1660.4 132.8 1661.5 133.4 1661.2 134 1661 134.6 1661 135.2 1660.4 135.8 1660.3 136.4 1660.2 137 1659.5 137.6 1658 138.2 1656.5 138.8 1655.7 139.4 1655.2 140 1654.1 140.6 1651.3 141.2 1647.4 141.8 1643 142.4 1636.9 143 1628.9 143.6 1619.4 144.2 1608.6 144.8 1599.7 145.4 1595.2 146 1594.9 146.6 1599.3 147.2 1607.9 147.8 1618.2 148.4 1628.3 149 1636.4 149.6 1642.4 150.2 1647.4 150.8 1651.1 151.4 1653.7 152 1655.5 152.6 1656.8 153.2 1658.1 153.8 1659.2 154.4 1659.9 155 1660.4 155.6 1659.7 156.2 1659.1 156.8 1659.8 157.4 1660.7 158 1661.2 158.6 1661.8 159.2 1661.9 159.8 1661.5 160.4 1661.1 161 1661.3 161.6 1662 162.2 1661.6 162.8 1660.7 163.4 1660.7 164 1661.9 164.6 1663.2 165.2 1662.5 165.8 1661.2 166.4 1661.6 167 1662.6 167.6 1662.9 168.2 1662.5 168.8 1662.1 169.4 1662.2 170 1661.4 170.6 1660.5 171.2 1661 171.8 1662.1 172.4 1663.2 173 1663.1 173.6 1662.2 174.2 1662.3 174.8 1662.2 175.4 1661 176 1660.7 176.6 1661.9 177.2 1662.4 177.8 1661.4 178.4 1660.6 179 1661.5 179.6 1661.9 180.2 1661.7 180.8 1661.8 181.4 1662 182 1662.6 182.6 1662.7 183.2 1662.4 183.8 1662.7 184.4 1662.2 185 1661.6 185.6 1661.9 186.2 1661.8 186.8 1661.2 187.4 1661.8 188 1662.6 188.6 1662.9 189.2 1664 189.8 1664.2 190.4 1663.3 191 1663.6 191.6 1664.1 192.2 1662.9 192.8 1661.9 193.4 1661.7 194 1661.3 194.6 1661.5 195.2 1662.3 195.8 1662.6 196.4 1662.9 197 1662.9 197.6 1662.4 198.2 1662.3 198.8 1662.3 199.4 1662 200 1662.1 200.6 1662.7 201.2 1662.9 201.8 1663.3 202.4 1663.9 203 1663.4 203.6 1662.1 204.2 1661.8 204.8 1662.4 205.4 1663.1 206 1663.1 206.6 1662.3 207.2 1662.3 207.8 1663.2 208.4 1664.1 209 1663.8 209.6 1662.5 210.2 1662.1 210.8 1662.5 211.4 1663.2 212 1663.2 212.6 1662.5 213.2 1662.4 213.8 1663.1 214.4 1663.3 215 1662.5 215.6 1662.4 216.2 1662.8 216.8 1663 217.4 1662.7 218 1662.1 218.6 1661.4 219.2 1661.3 219.8 1662.5 220.4 1662.9 221 1661.6 221.6 1662 222.2 1663.1 222.8 1662.4 223.4 1661.9 224 1662.5 224.6 1662.7 225.2 1663.1 225.8 1662.6 226.4 1662.2 227 1662.6 227.6 1663 228.2 1663.4 228.8 1663.3 229.4 1663.3 230 1663.9 230.6 1663.8 231.2 1663.3 231.8 1663 232.4 1662.8 233 1663 233.6 1663.4 234.2 1663.4 234.8 1663.3 235.4 1663.4 236 1663.1 236.6 1663.3 237.2 1663.2 237.8 1662.3 238.4 1662.8 239 1663.5 239.6 1663.1 240.2 1662.9 240.9 1662.6 241.5 1662.4 242.1 1662.1 242.7 1661.9 243.3 1662.2 243.9 1662.7 244.5 1663.6 245.1 1664 245.7 1663.7 246.3 1663.8 246.9 1664.3 247.5 1664.1 248.1 1663 248.7 1662.5 249.3 1663.1 249.9 1663.5 250.5 1663.3 251.1 1663.6 251.7 1663.4 252.3 1663.1 252.9 1663.2 253.5 1663.3 254.1 1663 254.7 1662.5 255.3 1662.4 255.9 1663.2 256.5 1664.5 257.1 1664.7 257.7 1663 258.3 1661.9 258.9 1662 259.5 1662 260.1 1662.4 260.7 1662.6 261.3 1662.5 261.9 1663.2 262.5 1664 263.1 1664.6 263.7 1664.8 264.3 1664.8 264.9 1664.4 265.5 1663.3 266.1 1662.9 266.7 1663.1 267.3 1663.5 267.9 1663.5 268.5 1663.5 269.1 1664.2 269.7 1664.3 270.3 1663.6 270.9 1662.9 271.5 1661.5 272.1 1660.8 272.7 1662 273.3 1663 273.9 1662.7 274.5 1662 275.1 1662.7 275.7 1664 276.3 1664 276.9 1663.3 277.5 1663 278.1 1663.6 278.7 1664.1 279.3 1663.6 279.9 1662.9 280.5 1662.6 281.1 1662.2 281.7 1662.5 282.3 1662.9 282.9 1662.6 283.5 1662.9 284.1 1663.6 284.7 1663.4 285.3 1663.1 285.9 1662.5 286.5 1661.9 287.1 1662.3 287.7 1661.9 288.3 1661 288.9 1661.2 289.5 1662.6 290.1 1663.4 290.7 1662.9 291.3 1662.8 291.9 1663.2 292.5 1663 293.1 1663.2 293.7 1664.2 294.3 1663.4 294.9 1661.9 295.5 1662.7 296.1 1663.7 296.7 1663.6 297.3 1663.4 297.9 1663.9 298.5 1664.8 299.1 1665 299.7 1664.8 300.3 1664.3 300.9 1663.9 301.5 1663.2 302.1 1663 302.7 1663.9 303.3 1663.7 303.9 1663 304.5 1663 305.1 1662.3 305.7 1661.5 306.3 1661.7 306.9 1661.6 307.5 1661 308.1 1660.6 308.7 1661.1 309.3 1662.3 309.9 1662.4 310.5 1662.3 311.1 1662.1 311.7 1661.5 312.3 1661.3 312.9 1661.4 313.5 1661.2 314.1 1660.9 314.7 1661.8 315.3 1663.3 315.9 1663.9 316.5 1663.7 317.1 1662.8 317.7 1662.2 318.3 1662.8 318.9 1663.1 319.5 1662.3 320.1 1661.8 320.7 1662.6 321.3 1663.6 321.9 1663.1 322.5 1662.5 323.1 1662.5 323.7 1662.4 324.3 1662.5 324.9 1662.8 325.5 1662.5 326.1 1662.2 326.7 1661.9 327.3 1661.1 327.9 1661 328.5 1661.4 329.1 1661.5 329.7 1661 330.3 1660.7 330.9 1661.3 331.5 1661.8 332.1 1661 332.7 1658.9 333.3 1658.8 333.9 1660.2 334.5 1659.9 335.1 1658.6 335.7 1657.3 336.3 1655.6 336.9 1652.8 337.5 1648.9 338.1 1645.8 338.7 1643.2 339.3 1640.8 339.9 1640.7 340.5 1643.8 341.1 1647.7 341.7 1650.4 342.3 1652.8 342.9 1655.2 343.5 1657 344.1 1657.8 344.7 1657.5 345.3 1657.7 345.9 1657.5 346.5 1656.5 347.1 1657 347.7 1657.6 348.3 1657.1 348.9 1656.8 349.5 1657.6 350.1 1657.9 350.7 1656.9 351.3 1656.1 351.9 1656.4 352.5 1657.2 353.1 1656.7 353.7 1655 354.3 1653.3 354.9 1652.6 355.5 1652.6 356.1 1652.6 356.7 1652.1 357.3 1651.5 357.9 1651.9 358.5 1652.2 359.1 1652.8 359.7 1654.8 360.3 1655.7 360.9 1655.4 361.5 1655.1 362.1 1656.2 362.7 1658.3 363.3 1658.4 363.9 1658 364.5 1659.6 365.1 1660.9 365.7 1660.5 366.3 1660.1 366.9 1660.4 367.5 1660.8 368.1 1661.9 368.7 1662.9 369.3 1662.8 369.9 1662.3 370.5 1661.4 371.1 1660.9 371.7 1661.8 372.3 1663 372.9 1663.2 373.5 1662.5 374.1 1662 374.7 1661.3 375.3 1660.9 375.9 1661.7 376.5 1662.3 377.1 1662 377.7 1661.4 378.3 1661 378.9 1662.1 379.5 1663.2 380.1 1662.9 380.7 1662.8 381.3 1662.5 381.9 1662 382.5 1661.9 383.1 1662.8 383.7 1664 384.3 1663.1 384.9 1661.2 385.5 1661.5 386.1 1663 386.7 1663.4 387.3 1662.4 387.9 1661.4 388.5 1661.2 389.1 1661.7 389.7 1662.5 390.3 1663 390.9 1663.6 391.5 1663.2 392.1 1662.7 392.7 1662.4 393.3 1661.1 393.9 1660.9 394.5 1662.1 395.1 1663.2 395.7 1663.4 396.3 1662.2 396.9 1661 397.5 1660.9 398.1 1661.7 398.7 1662.4 399.3 1662.4 399.9 1662.9 400.5 1663.4 401.1 1662.7 401.7 1662.2 402.3 1661.9 402.9 1661.7 403.5 1661.8 404.1 1661.7 404.7 1661.5 405.3 1661.9 405.9 1662.3 406.5 1661.6 407.1 1661.1 407.7 1660.2 408.3 1659.7 408.9 1660.8 409.5 1660.7 410.1 1659.5 410.7 1658.9 411.3 1659 411.9 1660.2 412.5 1661.3 413.1 1660.4 413.7 1658.3 414.3 1657.7 414.9 1659.1 415.5 1659.7 416.1 1658.9 416.7 1657.8 417.3 1656.3 417.9 1655.7 418.5 1655.1 419.1 1653.3 419.7 1651.5 420.3 1649.3 420.9 1645.8 421.5 1642.7 422.1 1640.7 422.7 1638.5 423.3 1637.5 423.9 1638.9 424.5 1641.6 425.1 1644.9 425.7 1647.9 426.3 1650 426.9 1652.2 427.5 1654.4 428.1 1656.5 428.7 1658.1 429.3 1657.8 429.9 1658 430.5 1658.9 431.1 1659 431.7 1659.5 432.3 1660.1 432.9 1660.5 433.5 1660.6 434.1 1660.6 434.7 1660.7 435.3 1660.8 435.9 1660.9 436.5 1660.9 437.1 1660.9 437.7 1660.5 438.3 1660.4 438.9 1660.9 439.5 1661.7 440.1 1662.1 440.7 1661.3 441.3 1660.6 441.9 1660.7 442.5 1661.5 443.1 1662 443.7 1661.6 444.3 1661.5 444.9 1661.7 445.5 1661.4 446.1 1661.1 446.7 1662.3 447.3 1662.8 447.9 1662 448.5 1661.7 449.1 1662 449.7 1662.9 450.3 1664.1 450.9 1664.4 451.5 1662.9 452.1 1661.6 452.7 1661.4 453.3 1661.6 453.9 1662.3 454.5 1663.1 455.1 1663.3 455.7 1662.9 456.3 1662.8 456.9 1663.4 457.5 1663.6 458.1 1662.9 458.7 1661.8 459.3 1661.4 459.9 1661.7 460.5 1661.3 461.1 1661.4 461.7 1662.5 462.3 1663 462.9 1663.2 463.5 1663.6 464.1 1663.7 464.7 1663.2 465.3 1662.2 465.9 1661.5 466.5 1662 467.1 1661.9 467.7 1660.2 468.3 1659.9 468.9 1661.2 469.5 1661.6 470.1 1660.7 470.7 1660.8 471.3 1662.6 471.9 1663.7 472.5 1662.5 473.1 1662.2 473.7 1662.6 474.3 1662.4 474.9 1662.7 475.5 1662.9 476.1 1662.7 476.7 1663.4 477.3 1664 477.9 1663.3 478.5 1662.3 479.1 1662.2 479.7 1663 480.3 1663.6 480.9 1663.3 481.5 1663.9 482.1 1664.4 482.7 1662.9 483.3 1662 483.9 1662.6 484.5 1663 485.1 1663.6 485.7 1664 486.3 1663.4 486.9 1663 487.5 1663.3 488.1 1663.3 488.7 1662.8 489.3 1662.7 489.9 1663.1 490.5 1662.6 491.1 1662.3 491.7 1662.8 492.3 1662.6 492.9 1662.6 493.5 1662.9 494.1 1662.5 494.7 1662.2 495.3 1661.7 495.9 1661.7 496.5 1663.1 497.1 1663.7 497.7 1663.2 498.3 1663.7 498.9 1664.5 499.5 1663.9 500.1 1662.5 500.7 1662.7 501.3 1663.7 501.9 1663.4 502.5 1663.1 503.1 1663.6 503.7 1663.4 504.3 1662.7 504.9 1662.8 505.5 1663.4 506.1 1663.1 506.7 1663 507.3 1663.8 507.9 1663.8 508.5 1662.8 509.1 1662.8 509.7 1662.6 510.3 1661.7 510.9 1662 511.5 1662.4 512.1 1662.6 512.7 1663.4 513.3 1664.4 513.9 1665 514.5 1663.9 515.1 1662.7 515.7 1662.5 516.3 1663 516.9 1663 517.5 1663.3 518.1 1664.3 518.7 1664.3 519.3 1664.1 519.9 1663.8 520.5 1662.8 521.1 1661.7 521.7 1661.9 522.3 1663.5 522.9 1664.3 523.5 1663.4 524.1 1662.8 524.7 1662.9 525.3 1662.6 525.9 1662.2 526.5 1663.3 527.1 1663.7 527.7 1662.6 528.3 1661.8 528.9 1662.3 529.5 1663.5 530.1 1663.8 530.7 1662.3 531.3 1661.7 531.9 1662.6 532.5 1663.4 533.1 1663.3 533.7 1663 534.3 1663.6 534.9 1663.4 535.5 1662.2 536.1 1662.4 536.7 1663.5 537.3 1663.5 537.9 1662.2 538.5 1661.3 539.1 1661.3 539.7 1661.6 540.3 1662.5 540.9 1663.2 541.5 1662.9 542.1 1662.4 542.7 1662.5 543.3 1662.9 543.9 1662.5 544.5 1662.6 545.1 1663.9 545.7 1664 546.3 1662.8 546.9 1662.3 547.5 1663.7 548.1 1664.4 548.7 1663.3 549.3 1662.5 549.9 1662.8 550.5 1662.9 551.1 1662.3 551.7 1663.2 552.3 1664.3 552.9 1664.3 553.5 1664.2 554.1 1663.4 554.7 1663 555.3 1663.3 555.9 1663.1 556.5 1662.8 557.1 1662.2 557.7 1661.8 558.3 1662.5 558.9 1663.6 559.5 1663.7 560.1 1663.2 560.7 1662.7 561.3 1662.3 561.9 1662.3 562.5 1662.6 563.1 1662.7 563.7 1662.9 564.3 1663.4 564.9 1663.9 565.5 1663.8 566.1 1662.9 566.7 1661.8 567.3 1661.7 567.9 1662.4 568.5 1662.9 569.1 1662.4 569.7 1661.6 570.3 1661.9 570.9 1662.2 571.5 1661.6 572.1 1661.3 572.7 1661.5 573.3 1661.6 573.9 1660.8 574.5 1659.5 575.1 1659.9 575.7 1661.2 576.3 1660.6 576.9 1659.5 577.5 1659.1 578.1 1659.5 578.7 1661.1 579.3 1662 579.9 1662 580.5 1662 581.1 1662.2 581.7 1662.5 582.3 1662.9 582.9 1662.9 583.5 1662.4 584.1 1661.9 584.7 1661.7 585.3 1661.4 585.9 1661.7 586.5 1663.4 587.1 1664.2 587.7 1663.9 588.3 1663.6 588.9 1663.4 589.5 1662.7 590.1 1662 590.7 1661.7 591.3 1661.4 591.9 1661.7 592.5 1662.3 593.1 1662.2 593.7 1662.5 594.3 1663.7 594.9 1663.7 595.5 1662.4 596.1 1661.7 596.7 1662.5 597.3 1662.7 597.9 1662.2 598.5 1662.7 599.1 1662.9 599.7 1662.9 600.3 1663.4 600.9 1663.1 601.5 1663.1 602.1 1663.1 602.7 1662.8 603.3 1663.1 603.9 1662.6 604.5 1662.6 605.1 1664.7 605.7 1665.9 606.3 1664.5 606.9 1662 607.5 1661.3 608.1 1662.3 608.7 1662.8 609.3 1662.5 609.9 1662.4 610.5 1662.7 611.1 1663.2 611.7 1663 612.3 1662 612.9 1661.5 613.5 1661.9 614.1 1662.3 614.7 1662.9 615.3 1662.4 615.9 1661.4 616.5 1661.6 617.1 1662.1 617.7 1663 618.3 1663.6 618.9 1663.4 619.5 1662.8 620.1 1662.4 620.7 1662.2 621.4 1662.5 622 1662.8 622.6 1662.9 623.2 1663.2 623.8 1663.3 624.4 1662.8 625 1663 625.6 1663.5 626.2 1662.9 626.8 1662 627.4 1661.9 628 1662.4 628.6 1662.8 629.2 1663 629.8 1662.9 630.4 1662.9 631 1663.1 631.6 1663.4 632.2 1663.2 632.8 1663 633.4 1662.4 634 1661.9 634.6 1662.4 635.2 1662.5 635.8 1661.9 636.4 1660.4 637 1659.4 637.6 1659.2 638.2 1659.5 638.8 1660.3 639.4 1660.3 640 1659.5 640.6 1658.9 641.2 1658.6 641.8 1658.5 642.4 1657.8 643 1656.5 643.6 1655.7 644.2 1655 644.8 1652.8 645.4 1650.6 646 1650.3 646.6 1651 647.2 1652.1 647.8 1653.3 648.4 1653.8 649 1654.5 649.6 1656.4 650.2 1657.8 650.8 1658.9 651.4 1659.3 652 1659 652.6 1659.7 653.2 1661.2 653.8 1661.8 654.4 1660.8 655 1659.9 655.6 1659.8 656.2 1660.4 656.8 1661.1 657.4 1661.9 658 1662.3 658.6 1661.7 659.2 1661.3 659.8 1661.7 660.4 1662.2 661 1662.5 661.6 1662.5 662.2 1662.5 662.8 1662.7 663.4 1662.1 664 1661.7 664.6 1662.7 665.2 1663.4 665.8 1663.4 666.4 1663.7 667 1663.2 667.6 1662.3 668.2 1661.7 668.8 1662.4 669.4 1663.1 670 1662 670.6 1661.8 671.2 1662.6 671.8 1662.4 672.4 1661.3 673 1661.3 673.6 1662.3 674.2 1662.9 674.8 1662.8 675.4 1662.5 676 1662.7 676.6 1662.4 677.2 1661.5 677.8 1661.8 678.4 1662.2 679 1661.5 679.6 1660.4 680.2 1659.8 680.8 1659.7 681.4 1659.9 682 1660.6 682.6 1660.4 683.2 1660.2 683.8 1660.5 684.4 1660.2 685 1660 685.6 1660.7 686.2 1661.8 686.8 1662.3 687.4 1662.5 688 1663.4 688.6 1663.5 689.2 1662.6 689.8 1662.6 690.4 1662.6 691 1661.8 691.6 1662 692.2 1662.7 692.8 1662.5 693.4 1662.4 694 1663 694.6 1663.3 695.2 1663.7 695.8 1663.6 696.4 1662.8 697 1663.1 697.6 1663.1 698.2 1662.4 698.8 1662.3 699.4 1662.1 700 1662.2 700.6 1662.7 701.2 1661.9 701.8 1661.5 702.4 1662.5 703 1662.9 703.6 1662.9 704.2 1663 704.8 1662.6 705.4 1661.7 706 1661 706.6 1661.4 707.2 1662.1 707.8 1662.5 708.4 1662.3 709 1662.2 709.6 1662.3 710.2 1661.9 710.8 1661.8 711.4 1662.4 712 1662.5 712.6 1662.3 713.2 1662.8 713.8 1662.8 714.4 1662.6 715 1663.2 715.6 1663.9 716.2 1663.5 716.8 1662.9 717.4 1663.3 718 1663.7 718.6 1663.3 719.2 1662.5 719.8 1662.3 720.4 1662.3 721 1661.8 721.6 1662.4 722.2 1663.6 722.8 1664 723.4 1663.7 724 1663.1 724.6 1663.3 725.2 1663.5 725.8 1662.2 726.4 1661.4 727 1662 727.6 1662.5 728.2 1662.8 728.8 1662.7 729.4 1662.3 730 1663.4 730.6 1664.5 731.2 1663.8 731.8 1662.7 732.4 1662.7 733 1662.8 733.6 1661.8 734.2 1661.2 734.8 1661.4 735.4 1662.7 736 1663.8 736.6 1663.4 737.2 1663 737.8 1662.3 738.4 1661.9 739 1662.6 739.6 1663 740.2 1662.3 740.8 1662.1 741.4 1663.1 742 1663.8 742.6 1663.9 743.2 1664 743.8 1663.5 744.4 1663.1 745 1663.2 745.6 1662.5 746.2 1662 746.8 1662 747.4 1661.4 748 1661.3 748.6 1661.9 749.2 1662.8 749.8 1663.8 750.4 1663.7 751 1663 751.6 1662.7 752.2 1662.1 752.8 1661.8 753.4 1662.3 754 1662.6 754.6 1662.8 755.2 1662.3 755.8 1662 756.4 1662.4 757 1662 757.6 1662 758.2 1663 758.8 1663.2 759.4 1662.9 760 1662.6 760.6 1661.4 761.2 1660.4 761.8 1661.1 762.4 1662.2 763 1662.2 763.6 1661.9 764.2 1662.3 764.8 1663 765.4 1663.1 766 1662.3 766.6 1662.1 767.2 1662.6 767.8 1663.1 768.4 1663.3 769 1662.4 769.6 1661.8 770.2 1662 770.8 1661.4 771.4 1662.1 772 1662.6 772.6 1661.7 773.2 1661.4 773.8 1661.2 774.4 1660.9 775 1661 775.6 1661 776.2 1661.4 776.8 1662.1 777.4 1662.5 778 1662.5 778.6 1661.9 779.2 1661.4 779.8 1661 780.4 1661.1 781 1661.7 781.6 1661.8 782.2 1661.4 782.8 1661.4 783.4 1661.2 784 1660.4 784.6 1660.3 785.2 1661.3 785.8 1661.5 786.4 1660.4 787 1659.7 787.6 1660.4 788.2 1661.7 788.8 1662.6 789.4 1663.4 790 1663.1 790.6 1661.5 791.2 1661 791.8 1661 792.4 1661 793 1661.4 793.6 1661.7 794.2 1661.8 794.8 1661.4 795.4 1661.3 796 1662.3 796.6 1662.6 797.2 1661.5 797.8 1660.1 798.4 1659.8 799 1660.9 799.6 1662.4 800.2 1663 800.8 1662.7 801.4 1661.8 802 1661.1 802.6 1661.8 803.2 1662.2 803.8 1661.9 804.4 1661.3 805 1661.3 805.6 1662.6 806.2 1662.8 806.8 1661.6 807.4 1661.1 808 1662.1 808.6 1663.2 809.2 1663.3 809.8 1663.2 810.4 1663.4 811 1662.9 811.6 1662.2" fill="none" stroke="#356b70" stroke-width="3.3" stroke-linejoin="round"/><path d="M50 1691.7L50.6 1691.3 51.2 1691.5 51.8 1692.6 52.4 1693.2 53 1692.7 53.6 1693.5 54.2 1694 54.8 1692.9 55.4 1692.5 56 1693.4 56.6 1694.6 57.2 1695 57.8 1694.7 58.4 1694.1 59 1692.9 59.6 1691.7 60.2 1691.2 60.8 1691.5 61.4 1692.4 62 1692.5 62.6 1692.4 63.2 1693 63.8 1692.9 64.4 1692.2 65 1692.9 65.6 1694.1 66.2 1693.4 66.8 1692.1 67.4 1692.6 68 1693.6 68.6 1693.5 69.2 1694 69.8 1693.5 70.4 1692.3 71 1693 71.6 1692.9 72.2 1692 72.8 1692.4 73.4 1693.2 74 1693.5 74.6 1693.1 75.2 1693 75.8 1694 76.4 1694.9 77 1694.9 77.6 1694.8 78.2 1695.2 78.8 1695.1 79.4 1694.3 80 1693.9 80.6 1693.8 81.2 1693.7 81.8 1693.1 82.4 1692 83 1692.3 83.6 1692.4 84.2 1691.2 84.8 1691.8 85.4 1693.1 86 1692.6 86.6 1692.4 87.2 1692.8 87.8 1692.4 88.4 1692 89 1692.1 89.6 1692.3 90.2 1692.4 90.8 1693.3 91.4 1694.1 92 1694.2 92.6 1694.3 93.2 1694.2 93.8 1693.8 94.4 1693.4 95 1693 95.6 1693.1 96.2 1692.8 96.8 1692.5 97.4 1693.2 98 1693.6 98.6 1693.1 99.2 1691.7 99.8 1691.4 100.4 1692.9 101 1692.6 101.6 1691.6 102.2 1692.3 102.8 1692.8 103.4 1693 104 1693.3 104.6 1693.6 105.2 1693.4 105.8 1693.1 106.4 1693.4 107 1693.2 107.6 1692.7 108.2 1693.3 108.8 1693.4 109.4 1692.6 110 1692.4 110.6 1692.5 111.2 1692.9 111.8 1693.1 112.4 1692.8 113 1693.3 113.6 1693.7 114.2 1693.9 114.8 1693.9 115.4 1693.3 116 1693.9 116.6 1694.5 117.2 1693.4 117.8 1692.5 118.4 1692.7 119 1692.7 119.6 1692.2 120.2 1691.6 120.8 1690.9 121.4 1690.9 122 1691.1 122.6 1691.2 123.2 1691.9 123.8 1692.5 124.4 1691.9 125 1691.4 125.6 1692 126.2 1691.9 126.8 1691.3 127.4 1691.4 128 1691.2 128.6 1691 129.2 1691.5 129.8 1691.8 130.4 1691.3 131 1691.2 131.6 1691.8 132.2 1692.5 132.8 1692 133.4 1691.1 134 1691.4 134.6 1691.6 135.2 1691.6 135.8 1690.9 136.4 1689.7 137 1689 137.6 1688.6 138.2 1688.7 138.8 1688.3 139.4 1686.1 140 1684.3 140.6 1682.4 141.2 1677.9 141.8 1672.4 142.4 1665.7 143 1657.4 143.6 1648.9 144.2 1639.3 144.8 1629.7 145.4 1623.8 146 1623 146.6 1627.8 147.2 1637 147.8 1646.8 148.4 1656.5 149 1665.9 149.6 1672.8 150.2 1677.5 150.8 1682.2 151.4 1685.4 152 1686.3 152.6 1687.1 153.2 1687.9 153.8 1688.2 154.4 1688.7 155 1690 155.6 1690.5 156.2 1690.1 156.8 1690 157.4 1690.1 158 1690.1 158.6 1689.8 159.2 1690.3 159.8 1691.5 160.4 1691.7 161 1692.2 161.6 1692.8 162.2 1692.3 162.8 1691.7 163.4 1691.1 164 1691.5 164.6 1692.3 165.2 1691.8 165.8 1690.7 166.4 1690.9 167 1691.7 167.6 1692.1 168.2 1692.6 168.8 1692.7 169.4 1692.3 170 1692.5 170.6 1692.9 171.2 1692.5 171.8 1692 172.4 1692.3 173 1692.4 173.6 1692.5 174.2 1693 174.8 1693.3 175.4 1693.3 176 1692.7 176.6 1692.2 177.2 1692.4 177.8 1692.5 178.4 1692.2 179 1691.9 179.6 1691.8 180.2 1691.9 180.8 1693.1 181.4 1694.1 182 1693.3 182.6 1692.8 183.2 1692.8 183.8 1692.7 184.4 1693.4 185 1693.9 185.6 1693.7 186.2 1693.9 186.8 1693.4 187.4 1692.2 188 1692 188.6 1692 189.2 1692.3 189.8 1693.3 190.4 1693.6 191 1693 191.6 1692.5 192.2 1692.6 192.8 1693.4 193.4 1694.2 194 1693.6 194.6 1693.1 195.2 1693 195.8 1692.6 196.4 1692.3 197 1692.8 197.6 1693 198.2 1692.6 198.8 1692.6 199.4 1692.9 200 1692.3 200.6 1691.5 201.2 1691.6 201.8 1691.9 202.4 1692.4 203 1693.2 203.6 1693.2 204.2 1692.5 204.8 1692.4 205.4 1692.8 206 1692.5 206.6 1692 207.2 1692.9 207.8 1694 208.4 1693 209 1692.5 209.6 1693.6 210.2 1693.6 210.8 1693.4 211.4 1693.2 212 1692.2 212.6 1691.6 213.2 1692.1 213.8 1693.2 214.4 1694.2 215 1694.7 215.6 1694.1 216.2 1693 216.8 1691.9 217.4 1691.6 218 1692.5 218.6 1693 219.2 1691.7 219.8 1691.3 220.4 1692.9 221 1693.4 221.6 1692.7 222.2 1693.2 222.8 1694 223.4 1693.4 224 1692.2 224.6 1692.1 225.2 1692.7 225.8 1693.2 226.4 1692.8 227 1692.1 227.6 1692.7 228.2 1692.7 228.8 1691.6 229.4 1691.2 230 1691.8 230.6 1692.2 231.2 1691.7 231.8 1690.9 232.4 1691.2 233 1692.4 233.6 1692.7 234.2 1692.4 234.8 1693.2 235.4 1694 236 1693.1 236.6 1692.2 237.2 1692.3 237.8 1692.9 238.4 1693.2 239 1692.9 239.6 1692.8 240.2 1693.1 240.9 1693.2 241.5 1693.2 242.1 1693 242.7 1692.4 243.3 1692.8 243.9 1693.3 244.5 1693.9 245.1 1694.3 245.7 1693.4 246.3 1692.7 246.9 1693.2 247.5 1694.2 248.1 1694.3 248.7 1693.7 249.3 1693.9 249.9 1694.4 250.5 1693.3 251.1 1691.8 251.7 1691.7 252.3 1692.5 252.9 1692.8 253.5 1693.1 254.1 1693.5 254.7 1693.6 255.3 1693.6 255.9 1693.4 256.5 1693.6 257.1 1693.9 257.7 1694.5 258.3 1695.2 258.9 1695 259.5 1693.9 260.1 1692.5 260.7 1691.2 261.3 1691.1 261.9 1693.3 262.5 1694.6 263.1 1693.7 263.7 1693.5 264.3 1694.2 264.9 1693.7 265.5 1692.8 266.1 1692 266.7 1692.5 267.3 1693.9 267.9 1693.7 268.5 1692.6 269.1 1692.9 269.7 1693.1 270.3 1692.4 270.9 1692.4 271.5 1692.4 272.1 1692.8 272.7 1693.3 273.3 1693.3 273.9 1692.8 274.5 1692.4 275.1 1692.3 275.7 1692.1 276.3 1692.1 276.9 1692 277.5 1692.4 278.1 1693.1 278.7 1693.3 279.3 1693.7 279.9 1694 280.5 1693.3 281.1 1692.6 281.7 1693.3 282.3 1694.2 282.9 1694.3 283.5 1694.5 284.1 1693.8 284.7 1692.6 285.3 1692.9 285.9 1693.4 286.5 1692.5 287.1 1692 287.7 1692.5 288.3 1693.4 288.9 1694.5 289.5 1694.2 290.1 1692.7 290.7 1691.8 291.3 1692 291.9 1692.3 292.5 1693 293.1 1693.5 293.7 1692.7 294.3 1692.5 294.9 1693 295.5 1692.9 296.1 1692.3 296.7 1692.5 297.3 1693 297.9 1692.9 298.5 1692.5 299.1 1692.5 299.7 1693.5 300.3 1693.8 300.9 1692.9 301.5 1693.4 302.1 1693.6 302.7 1692.9 303.3 1693.8 303.9 1694.2 304.5 1693.6 305.1 1694 305.7 1694.1 306.3 1693.3 306.9 1692.6 307.5 1692 308.1 1692.1 308.7 1692.6 309.3 1693.3 309.9 1693.8 310.5 1692.8 311.1 1692.2 311.7 1693.3 312.3 1693.8 312.9 1693.3 313.5 1692.6 314.1 1692 314.7 1692.6 315.3 1693.8 315.9 1693.8 316.5 1693.2 317.1 1692.9 317.7 1692.3 318.3 1691.8 318.9 1692 319.5 1691.9 320.1 1691.1 320.7 1690.6 321.3 1690.8 321.9 1691.9 322.5 1692.3 323.1 1691.4 323.7 1690.7 324.3 1690.8 324.9 1691.1 325.5 1691 326.1 1690.8 326.7 1691.8 327.3 1693.2 327.9 1692.5 328.5 1691.3 329.1 1691.6 329.7 1692.5 330.3 1692.7 330.9 1691.4 331.5 1690.5 332.1 1691.6 332.7 1692.3 333.3 1691.8 333.9 1691.2 334.5 1690.8 335.1 1690.5 335.7 1689.6 336.3 1688.6 336.9 1686.6 337.5 1684 338.1 1681 338.7 1677.3 339.3 1673.7 339.9 1671.2 340.5 1669.8 341.1 1669.7 341.7 1672.7 342.3 1677.3 342.9 1680.7 343.5 1683.3 344.1 1685.6 344.7 1686.7 345.3 1687.3 345.9 1688.3 346.5 1688.1 347.1 1686.8 347.7 1687.2 348.3 1688 348.9 1688.3 349.5 1688 350.1 1687.4 350.7 1687.6 351.3 1687.9 351.9 1687.7 352.5 1687.9 353.1 1688.5 353.7 1687.2 354.3 1685.5 354.9 1685.2 355.5 1684.7 356.1 1683.6 356.7 1682.9 357.3 1681.6 357.9 1680.7 358.5 1681.8 359.1 1682.8 359.7 1682.9 360.3 1682.8 360.9 1683.3 361.5 1684.6 362.1 1686.1 362.7 1687.5 363.3 1688.6 363.9 1688.7 364.5 1688.5 365.1 1688.5 365.7 1689 366.3 1690.3 366.9 1691.5 367.5 1691.9 368.1 1692.2 368.7 1692.2 369.3 1691.6 369.9 1691.4 370.5 1691.5 371.1 1690.9 371.7 1690.4 372.3 1690.2 372.9 1690.3 373.5 1690.9 374.1 1691.5 374.7 1691.4 375.3 1690.8 375.9 1691.1 376.5 1691.1 377.1 1691.2 377.7 1692.7 378.3 1692.8 378.9 1692.5 379.5 1693.7 380.1 1693 380.7 1691 381.3 1691.1 381.9 1691.8 382.5 1691.8 383.1 1691.7 383.7 1691.9 384.3 1691.5 384.9 1690.8 385.5 1692.1 386.1 1693.3 386.7 1693.3 387.3 1693.7 387.9 1693.9 388.5 1693.2 389.1 1692.9 389.7 1692.6 390.3 1693 390.9 1693.9 391.5 1693.6 392.1 1693.2 392.7 1693.6 393.3 1693.2 393.9 1691.6 394.5 1691.3 395.1 1692.3 395.7 1692.3 396.3 1691.2 396.9 1691.3 397.5 1692.5 398.1 1692.9 398.7 1692.2 399.3 1691.7 399.9 1691.3 400.5 1690.8 401.1 1691.2 401.7 1691.8 402.3 1692.2 402.9 1692 403.5 1690.7 404.1 1690.4 404.7 1691.2 405.3 1691.1 405.9 1691 406.5 1690.9 407.1 1690 407.7 1689.9 408.3 1689.9 408.9 1689.5 409.5 1689.8 410.1 1690 410.7 1690.6 411.3 1690.9 411.9 1690.6 412.5 1690.4 413.1 1689.6 413.7 1689 414.3 1689.5 414.9 1689.6 415.5 1689.1 416.1 1688.5 416.7 1688.2 417.3 1688.5 417.9 1688.1 418.5 1686.5 419.1 1684.5 419.7 1682.9 420.3 1681.8 420.9 1680.4 421.5 1677.2 422.1 1672.6 422.7 1667.5 423.3 1663.2 423.9 1660.4 424.5 1659.5 425.1 1662 425.7 1667.4 426.3 1672.3 426.9 1675.7 427.5 1678.3 428.1 1681.4 428.7 1684.6 429.3 1686.8 429.9 1687.8 430.5 1687.8 431.1 1687.7 431.7 1688.6 432.3 1689.3 432.9 1689 433.5 1690.1 434.1 1690.9 434.7 1689.6 435.3 1688.8 435.9 1689 436.5 1689.6 437.1 1690.6 437.7 1690.8 438.3 1690.5 438.9 1691.3 439.5 1692.2 440.1 1691.7 440.7 1691.9 441.3 1692.6 441.9 1691.7 442.5 1691.8 443.1 1692.8 443.7 1691.9 444.3 1690.5 444.9 1690.2 445.5 1690.2 446.1 1691.1 446.7 1691.7 447.3 1691.8 447.9 1693.1 448.5 1693.9 449.1 1693 449.7 1692.1 450.3 1692.3 450.9 1693.1 451.5 1693.6 452.1 1692.9 452.7 1691.2 453.3 1690.9 453.9 1691.4 454.5 1691.9 455.1 1693.2 455.7 1694 456.3 1693.5 456.9 1693.1 457.5 1692.8 458.1 1693.1 458.7 1693.2 459.3 1692.5 459.9 1693.2 460.5 1695.1 461.1 1695.1 461.7 1692.8 462.3 1691.1 462.9 1691 463.5 1691.4 464.1 1691.8 464.7 1692.1 465.3 1692 465.9 1691.2 466.5 1690 467.1 1688.7 467.7 1688.3 468.3 1687.8 468.9 1687.2 469.5 1688.5 470.1 1690 470.7 1690.3 471.3 1690.7 471.9 1690.7 472.5 1690.7 473.1 1691.2 473.7 1691.7 474.3 1692.1 474.9 1692.4 475.5 1692.1 476.1 1691.6 476.7 1692.6 477.3 1694 477.9 1693.7 478.5 1692.5 479.1 1692.4 479.7 1693.1 480.3 1692.4 480.9 1691.4 481.5 1692.4 482.1 1693.1 482.7 1692.2 483.3 1692 483.9 1692.2 484.5 1692.3 485.1 1692.1 485.7 1691.2 486.3 1690.7 486.9 1691.8 487.5 1692.6 488.1 1692.3 488.7 1691.8 489.3 1692.7 489.9 1693.6 490.5 1692.6 491.1 1691.7 491.7 1691.7 492.3 1692.3 492.9 1693.2 493.5 1693.7 494.1 1693.3 494.7 1693 495.3 1693.2 495.9 1693.2 496.5 1692.9 497.1 1693.2 497.7 1693.3 498.3 1692.7 498.9 1692.2 499.5 1692 500.1 1692.6 500.7 1693.4 501.3 1693 501.9 1693.6 502.5 1694.5 503.1 1693.8 503.7 1692.6 504.3 1691.4 504.9 1690.6 505.5 1691 506.1 1692.2 506.7 1693.3 507.3 1693.1 507.9 1692.4 508.5 1692.6 509.1 1693.2 509.7 1694.3 510.3 1694.6 510.9 1693.6 511.5 1693.4 512.1 1694.1 512.7 1694.4 513.3 1694.1 513.9 1693.5 514.5 1693.1 515.1 1693.1 515.7 1692.9 516.3 1693.2 516.9 1692.7 517.5 1692 518.1 1692.7 518.7 1692.9 519.3 1692.6 519.9 1693 520.5 1693 521.1 1692.1 521.7 1692.1 522.3 1693.1 522.9 1692.7 523.5 1691.9 524.1 1691.8 524.7 1692 525.3 1692.9 525.9 1693.4 526.5 1692.8 527.1 1691.8 527.7 1692.1 528.3 1692.7 528.9 1692.4 529.5 1692.6 530.1 1692.9 530.7 1692.6 531.3 1692.5 531.9 1693.1 532.5 1693.6 533.1 1694.3 533.7 1694.7 534.3 1693.5 534.9 1692.5 535.5 1692.8 536.1 1693.5 536.7 1693.4 537.3 1692.9 537.9 1692.3 538.5 1692.5 539.1 1693.3 539.7 1693.3 540.3 1693.2 540.9 1693.4 541.5 1693.6 542.1 1693.6 542.7 1693.3 543.3 1693.1 543.9 1693.2 544.5 1693.6 545.1 1693.4 545.7 1692.8 546.3 1692.9 546.9 1693.5 547.5 1693.3 548.1 1693.3 548.7 1693.5 549.3 1693.2 549.9 1693.8 550.5 1693.7 551.1 1692.6 551.7 1693.1 552.3 1693.6 552.9 1693.3 553.5 1692.8 554.1 1692.4 554.7 1692.9 555.3 1692.7 555.9 1691.9 556.5 1691.9 557.1 1692.1 557.7 1692.2 558.3 1692.3 558.9 1692.2 559.5 1691.8 560.1 1691.9 560.7 1692.3 561.3 1692.9 561.9 1694.2 562.5 1694.1 563.1 1692.8 563.7 1692.7 564.3 1692.8 564.9 1692.4 565.5 1692.4 566.1 1692.5 566.7 1692.8 567.3 1693.6 567.9 1693.8 568.5 1693.2 569.1 1692.8 569.7 1692.9 570.3 1693.3 570.9 1693.1 571.5 1691.5 572.1 1690.4 572.7 1690.8 573.3 1691 573.9 1690.5 574.5 1689.2 575.1 1687.7 575.7 1687.6 576.3 1687.8 576.9 1687.6 577.5 1688.2 578.1 1689.3 578.7 1689.8 579.3 1689.4 579.9 1689.6 580.5 1691.6 581.1 1693 581.7 1692.6 582.3 1691.8 582.9 1691.6 583.5 1692.6 584.1 1692.8 584.7 1692 585.3 1691.9 585.9 1692.1 586.5 1693.2 587.1 1693.5 587.7 1692.8 588.3 1693.3 588.9 1693.5 589.5 1692.9 590.1 1693.3 590.7 1693.5 591.3 1693.4 591.9 1693.1 592.5 1692.1 593.1 1691.8 593.7 1691.9 594.3 1692.5 594.9 1692.6 595.5 1692 596.1 1692.5 596.7 1692.9 597.3 1692.5 597.9 1692.9 598.5 1693.6 599.1 1693.9 599.7 1693.6 600.3 1692.2 600.9 1692 601.5 1692.7 602.1 1692.7 602.7 1693.1 603.3 1693.4 603.9 1693.1 604.5 1693.1 605.1 1693.8 605.7 1694.4 606.3 1694.2 606.9 1693.1 607.5 1692.4 608.1 1693.1 608.7 1693.6 609.3 1693.2 609.9 1692.4 610.5 1692.5 611.1 1692.7 611.7 1693 612.3 1693.6 612.9 1694.1 613.5 1694.2 614.1 1693.8 614.7 1693.4 615.3 1692.8 615.9 1692.5 616.5 1692.9 617.1 1692.5 617.7 1692.4 618.3 1692.7 618.9 1692.4 619.5 1691.5 620.1 1690.8 620.7 1691.1 621.4 1691.6 622 1692.2 622.6 1692.8 623.2 1692.7 623.8 1692.6 624.4 1693.1 625 1693.7 625.6 1693.8 626.2 1693.2 626.8 1692.9 627.4 1693.1 628 1692.7 628.6 1692.5 629.2 1692.6 629.8 1692 630.4 1691.3 631 1691.3 631.6 1692 632.2 1692.7 632.8 1692.7 633.4 1692.2 634 1692.3 634.6 1692.3 635.2 1692.8 635.8 1693.5 636.4 1692.2 637 1691.4 637.6 1692.3 638.2 1692.8 638.8 1692.4 639.4 1692 640 1691 640.6 1690.4 641.2 1690.3 641.8 1689.9 642.4 1689.4 643 1688.5 643.6 1687.2 644.2 1686 644.8 1685.2 645.4 1684 646 1682.8 646.6 1681.7 647.2 1680.2 647.8 1679.2 648.4 1679 649 1678.1 649.6 1678 650.2 1679.3 650.8 1681 651.4 1683 652 1684.8 652.6 1686.4 653.2 1687.9 653.8 1689.2 654.4 1689.9 655 1690.2 655.6 1690.3 656.2 1690.6 656.8 1691.1 657.4 1691.1 658 1690.9 658.6 1691.6 659.2 1692.4 659.8 1692.1 660.4 1691.8 661 1692.4 661.6 1692.5 662.2 1692.5 662.8 1693.5 663.4 1693.7 664 1693.2 664.6 1693.3 665.2 1693.3 665.8 1692.8 666.4 1692.2 667 1692.1 667.6 1692.4 668.2 1692.4 668.8 1691.9 669.4 1691.3 670 1691.7 670.6 1692.5 671.2 1693.1 671.8 1694 672.4 1694 673 1693 673.6 1692.2 674.2 1691.8 674.8 1692.8 675.4 1693.2 676 1692.2 676.6 1691.6 677.2 1692 677.8 1692.8 678.4 1692.6 679 1691.4 679.6 1691.2 680.2 1691.4 680.8 1690.9 681.4 1690.2 682 1689.6 682.6 1688.2 683.2 1687.5 683.8 1688.3 684.4 1689 685 1689.1 685.6 1688.6 686.2 1688.6 686.8 1689.5 687.4 1690.3 688 1690.9 688.6 1691.7 689.2 1692.6 689.8 1693 690.4 1692.9 691 1692 691.6 1691.9 692.2 1692.5 692.8 1691.8 693.4 1691.3 694 1691.1 694.6 1691.4 695.2 1693 695.8 1694.1 696.4 1693.9 697 1693.4 697.6 1692.6 698.2 1692.4 698.8 1692.6 699.4 1691.9 700 1691.4 700.6 1692.2 701.2 1693.4 701.8 1693.4 702.4 1692.6 703 1691.9 703.6 1692.1 704.2 1692.8 704.8 1692.7 705.4 1692.8 706 1693.2 706.6 1692.4 707.2 1691.7 707.8 1692.6 708.4 1693.7 709 1693.9 709.6 1693.4 710.2 1692.8 710.8 1693 711.4 1693 712 1692.4 712.6 1692.5 713.2 1693.3 713.8 1693.2 714.4 1692.8 715 1694 715.6 1694.2 716.2 1692.8 716.8 1693.1 717.4 1694.6 718 1694.2 718.6 1692.6 719.2 1691.6 719.8 1691.4 720.4 1691.7 721 1691.5 721.6 1692.1 722.2 1693 722.8 1691.9 723.4 1691.3 724 1692.3 724.6 1693 725.2 1693.4 725.8 1693.4 726.4 1692.8 727 1692.8 727.6 1693.1 728.2 1693.3 728.8 1693.9 729.4 1694 730 1693.2 730.6 1692.8 731.2 1693 731.8 1692.5 732.4 1691.4 733 1691.3 733.6 1691.7 734.2 1691.9 734.8 1692 735.4 1692.3 736 1692.6 736.6 1692.8 737.2 1693 737.8 1693.1 738.4 1692.8 739 1692.3 739.6 1692.5 740.2 1692.9 740.8 1692.8 741.4 1693 742 1693.4 742.6 1692.6 743.2 1691.6 743.8 1692.4 744.4 1693.2 745 1692.7 745.6 1692.6 746.2 1692.4 746.8 1692.7 747.4 1693 748 1692.6 748.6 1692.2 749.2 1691.5 749.8 1691.6 750.4 1692.2 751 1692.8 751.6 1693.5 752.2 1693.8 752.8 1693.4 753.4 1692.3 754 1691.9 754.6 1692.3 755.2 1691.6 755.8 1690.3 756.4 1690.2 757 1691.3 757.6 1692 758.2 1692.3 758.8 1691.9 759.4 1691.4 760 1691.5 760.6 1691.7 761.2 1692.1 761.8 1692.7 762.4 1693.2 763 1692.6 763.6 1691.7 764.2 1691.7 764.8 1692.1 765.4 1692.5 766 1692.2 766.6 1691.2 767.2 1691.1 767.8 1691.8 768.4 1692.2 769 1692.4 769.6 1692.6 770.2 1692.8 770.8 1691.9 771.4 1690.5 772 1690.7 772.6 1690.9 773.2 1690.5 773.8 1690.7 774.4 1691.5 775 1691.8 775.6 1691 776.2 1690.1 776.8 1690.3 777.4 1690.1 778 1689.7 778.6 1689.9 779.2 1690.3 779.8 1690.3 780.4 1690.2 781 1690.2 781.6 1689.8 782.2 1689.9 782.8 1690.7 783.4 1691 784 1690.1 784.6 1688.5 785.2 1688.8 785.8 1690.8 786.4 1690.6 787 1689.6 787.6 1690.1 788.2 1690.4 788.8 1689.9 789.4 1690.7 790 1691.6 790.6 1691.2 791.2 1690.9 791.8 1690.3 792.4 1690.8 793 1692.6 793.6 1692.4 794.2 1691.3 794.8 1691.1 795.4 1691.1 796 1691.1 796.6 1692 797.2 1692.3 797.8 1691.9 798.4 1691.4 799 1691.3 799.6 1691.2 800.2 1691 800.8 1692 801.4 1693 802 1693.4 802.6 1693.5 803.2 1692.4 803.8 1691.9 804.4 1692.6 805 1693.4 805.6 1693.5 806.2 1692.5 806.8 1692 807.4 1693.1 808 1693.6 808.6 1692.7 809.2 1692 809.8 1692.3 810.4 1692.9 811 1693.7 811.6 1694" fill="none" stroke="#2b5558" stroke-width="3.3" stroke-linejoin="round"/><path d="M50 1729.9L50.6 1729.9 51.2 1729.5 51.8 1729.2 52.4 1729.3 53 1729.4 53.6 1729.8 54.2 1730.1 54.8 1730.2 55.4 1730.1 56 1729.9 56.6 1729.6 57.2 1729.8 57.8 1730 58.4 1729.8 59 1729.6 59.6 1729.5 60.2 1729.5 60.8 1729.7 61.4 1729.8 62 1729.7 62.6 1729.6 63.2 1729.6 63.8 1729.6 64.4 1729.5 65 1729.8 65.6 1730 66.2 1729.7 66.8 1730 67.4 1730.3 68 1729.7 68.6 1729.2 69.2 1729.7 69.8 1730.4 70.4 1730.4 71 1729.8 71.6 1729.8 72.2 1729.8 72.8 1729.4 73.4 1729.3 74 1729.7 74.6 1729.7 75.2 1729.7 75.8 1730.1 76.4 1730.4 77 1730.1 77.6 1729.6 78.2 1729.7 78.8 1729.8 79.4 1729.5 80 1729.5 80.6 1729.6 81.2 1729.2 81.8 1729 82.4 1729.2 83 1729.5 83.6 1729.8 84.2 1729.9 84.8 1730 85.4 1729.9 86 1729.9 86.6 1729.9 87.2 1729.7 87.8 1729.6 88.4 1730 89 1730.4 89.6 1730.4 90.2 1729.9 90.8 1729.4 91.4 1728.8 92 1728.4 92.6 1729 93.2 1729.6 93.8 1729.2 94.4 1729 95 1729.5 95.6 1729.6 96.2 1729.5 96.8 1729.6 97.4 1729.7 98 1729.6 98.6 1729.3 99.2 1729.4 99.8 1729.7 100.4 1729.8 101 1729.8 101.6 1730.1 102.2 1730.3 102.8 1730.1 103.4 1729.8 104 1729.9 104.6 1729.7 105.2 1729.3 105.8 1729.4 106.4 1729.4 107 1729.3 107.6 1729.2 108.2 1729.2 108.8 1729.4 109.4 1729.6 110 1729.3 110.6 1729.3 111.2 1729.7 111.8 1729.7 112.4 1729.6 113 1729.5 113.6 1729.5 114.2 1729.6 114.8 1729.5 115.4 1729.3 116 1729 116.6 1728.9 117.2 1729.5 117.8 1730 118.4 1730.1 119 1730.1 119.6 1729.9 120.2 1729.6 120.8 1729.4 121.4 1729.6 122 1730 122.6 1729.9 123.2 1729.3 123.8 1729.3 124.4 1729.5 125 1729.5 125.6 1729.3 126.2 1729.2 126.8 1729.4 127.4 1729.7 128 1729.5 128.6 1729.2 129.2 1729 129.8 1728.9 130.4 1728.9 131 1729.1 131.6 1729 132.2 1728.5 132.8 1727.9 133.4 1727.8 134 1727.8 134.6 1727.3 135.2 1726.8 135.8 1726.9 136.4 1726.5 137 1725 137.6 1723.6 138.2 1721.4 138.8 1717 139.4 1710.5 140 1701.4 140.6 1689.4 141.2 1675.7 141.8 1663.5 142.4 1657.6 143 1661.8 143.6 1673.3 144.2 1686.9 144.8 1699.4 145.4 1709.3 146 1716.3 146.6 1720.5 147.2 1722.9 147.8 1724.3 148.4 1725.3 149 1726.1 149.6 1726.5 150.2 1726.8 150.8 1727.2 151.4 1727.7 152 1728.3 152.6 1728.4 153.2 1728.1 153.8 1728.5 154.4 1729.1 155 1729.5 155.6 1729.3 156.2 1728.8 156.8 1728.8 157.4 1729.3 158 1729.5 158.6 1729.4 159.2 1729.4 159.8 1729.3 160.4 1729.2 161 1729.4 161.6 1729.6 162.2 1729.6 162.8 1729.3 163.4 1728.8 164 1729.2 164.6 1730 165.2 1730.1 165.8 1730 166.4 1729.6 167 1729.2 167.6 1729.5 168.2 1729.7 168.8 1729.2 169.4 1728.9 170 1729 170.6 1729.2 171.2 1729.5 171.8 1729.6 172.4 1729.7 173 1730 173.6 1730 174.2 1729.5 174.8 1729.2 175.4 1729.2 176 1729.8 176.6 1730.2 177.2 1729.7 177.8 1729.4 178.4 1729.5 179 1729.4 179.6 1729.2 180.2 1729.1 180.8 1729.6 181.4 1730.2 182 1730.3 182.6 1730.1 183.2 1729.9 183.8 1730 184.4 1730 185 1729.9 185.6 1729.7 186.2 1729.8 186.8 1729.8 187.4 1729.7 188 1729.9 188.6 1730.1 189.2 1730.1 189.8 1730 190.4 1729.6 191 1729.5 191.6 1729.5 192.2 1729.5 192.8 1729.4 193.4 1729.4 194 1729.4 194.6 1729.5 195.2 1729.6 195.8 1729.6 196.4 1729.9 197 1730.4 197.6 1730.4 198.2 1730.1 198.8 1730 199.4 1730.2 200 1730.6 200.6 1730.6 201.2 1730.2 201.8 1729.8 202.4 1729.7 203 1729.9 203.6 1729.8 204.2 1729.8 204.8 1729.7 205.4 1729.3 206 1729 206.6 1729.1 207.2 1729.3 207.8 1729.5 208.4 1729.5 209 1729.4 209.6 1729.4 210.2 1729.9 210.8 1729.9 211.4 1729.6 212 1729.9 212.6 1730.2 213.2 1730.1 213.8 1729.9 214.4 1730 215 1729.9 215.6 1729.4 216.2 1729.2 216.8 1729.6 217.4 1730.1 218 1730.3 218.6 1730.2 219.2 1730.3 219.8 1730.2 220.4 1729.8 221 1729.5 221.6 1729.5 222.2 1729.9 222.8 1730.2 223.4 1730 224 1729.4 224.6 1729.4 225.2 1729.9 225.8 1729.8 226.4 1729.6 227 1730 227.6 1730.3 228.2 1730.2 228.8 1730.1 229.4 1730.1 230 1729.8 230.6 1729.5 231.2 1729.7 231.8 1730.4 232.4 1730.5 233 1730.1 233.6 1730 234.2 1730.1 234.8 1730.2 235.4 1730.3 236 1730.1 236.6 1729.8 237.2 1729.5 237.8 1729.1 238.4 1729 239 1729.3 239.6 1729.6 240.2 1729.7 240.9 1729.6 241.5 1729.4 242.1 1729.6 242.7 1729.8 243.3 1729.8 243.9 1729.5 244.5 1729.6 245.1 1729.9 245.7 1730 246.3 1729.9 246.9 1729.9 247.5 1730 248.1 1730.2 248.7 1730.4 249.3 1729.9 249.9 1729.8 250.5 1730.1 251.1 1729.9 251.7 1729.6 252.3 1729.5 252.9 1729.3 253.5 1729.6 254.1 1729.9 254.7 1729.8 255.3 1729.8 255.9 1730.1 256.5 1730 257.1 1729.9 257.7 1729.8 258.3 1729.6 258.9 1729.5 259.5 1729.3 260.1 1729.4 260.7 1729.7 261.3 1729.9 261.9 1729.9 262.5 1729.7 263.1 1729.6 263.7 1729.6 264.3 1729.9 264.9 1730.1 265.5 1730.2 266.1 1730 266.7 1729.7 267.3 1729.6 267.9 1729.3 268.5 1729.2 269.1 1729.6 269.7 1729.9 270.3 1730.1 270.9 1729.9 271.5 1729.5 272.1 1729.4 272.7 1729.7 273.3 1729.8 273.9 1729.7 274.5 1729.5 275.1 1729.6 275.7 1730.1 276.3 1730.2 276.9 1729.9 277.5 1730 278.1 1729.7 278.7 1729.5 279.3 1729.8 279.9 1729.5 280.5 1729.4 281.1 1729.9 281.7 1730.1 282.3 1729.8 282.9 1729.4 283.5 1729.3 284.1 1729.3 284.7 1729 285.3 1729.2 285.9 1729.9 286.5 1730.2 287.1 1730.2 287.7 1729.9 288.3 1729.6 288.9 1729.5 289.5 1729.4 290.1 1729.9 290.7 1730 291.3 1729.8 291.9 1729.9 292.5 1729.9 293.1 1729.5 293.7 1729.2 294.3 1729.6 294.9 1729.7 295.5 1729.4 296.1 1729.3 296.7 1729.3 297.3 1729.4 297.9 1729.8 298.5 1729.9 299.1 1729.9 299.7 1729.9 300.3 1730.1 300.9 1730.4 301.5 1729.9 302.1 1729.5 302.7 1729.8 303.3 1729.8 303.9 1729.4 304.5 1729.5 305.1 1729.9 305.7 1730 306.3 1730 306.9 1729.9 307.5 1729.8 308.1 1730 308.7 1730 309.3 1729.8 309.9 1729.7 310.5 1729.8 311.1 1730.2 311.7 1730.4 312.3 1730.2 312.9 1730.2 313.5 1730.3 314.1 1730.2 314.7 1730 315.3 1729.6 315.9 1729.1 316.5 1729.2 317.1 1729.9 317.7 1730 318.3 1729.9 318.9 1729.8 319.5 1729.8 320.1 1729.7 320.7 1729.8 321.3 1730.1 321.9 1730 322.5 1729.7 323.1 1729.6 323.7 1729.7 324.3 1729.6 324.9 1729.4 325.5 1729.4 326.1 1729.5 326.7 1729.2 327.3 1729.3 327.9 1729.9 328.5 1730.3 329.1 1730.2 329.7 1729.7 330.3 1729.4 330.9 1729.7 331.5 1729.8 332.1 1729.4 332.7 1728.9 333.3 1728.4 333.9 1728.6 334.5 1728.9 335.1 1728.5 335.7 1728.1 336.3 1728.1 336.9 1727.6 337.5 1726.9 338.1 1726 338.7 1724.2 339.3 1720.9 339.9 1716.3 340.5 1710.8 341.1 1705.9 341.7 1704.6 342.3 1707.4 342.9 1712.4 343.5 1717.8 344.1 1722.1 344.7 1724.9 345.3 1726.6 345.9 1727.5 346.5 1727.9 347.1 1728.2 347.7 1728.3 348.3 1728.4 348.9 1728.8 349.5 1728.9 350.1 1728.9 350.7 1728.9 351.3 1728.9 351.9 1729.2 352.5 1729.3 353.1 1728.7 353.7 1728.3 354.3 1728.6 354.9 1728.4 355.5 1727.6 356.1 1726.9 356.7 1725.9 357.3 1725 357.9 1723.9 358.5 1722.7 359.1 1722.5 359.7 1723 360.3 1724.1 360.9 1725.5 361.5 1726.8 362.1 1727.8 362.7 1728.4 363.3 1729 363.9 1729.2 364.5 1729 365.1 1729.2 365.7 1729.3 366.3 1729.4 366.9 1729.6 367.5 1729.4 368.1 1729.4 368.7 1729.9 369.3 1730 369.9 1730.1 370.5 1730.2 371.1 1729.5 371.7 1729 372.3 1729.2 372.9 1729.3 373.5 1729.5 374.1 1729.4 374.7 1729.4 375.3 1729.5 375.9 1729.2 376.5 1729 377.1 1729.3 377.7 1729.8 378.3 1729.9 378.9 1730.1 379.5 1730.3 380.1 1730.1 380.7 1729.7 381.3 1729.5 381.9 1729.9 382.5 1730.3 383.1 1730.3 383.7 1730 384.3 1729.7 384.9 1729.8 385.5 1730.1 386.1 1729.9 386.7 1729.4 387.3 1729.4 387.9 1729.6 388.5 1729.6 389.1 1729.6 389.7 1729.7 390.3 1729.8 390.9 1729.8 391.5 1729.7 392.1 1729.4 392.7 1729.2 393.3 1729.4 393.9 1729.6 394.5 1729.7 395.1 1729.8 395.7 1729.9 396.3 1729.5 396.9 1729.2 397.5 1729.6 398.1 1729.7 398.7 1729.3 399.3 1729.3 399.9 1729.8 400.5 1730 401.1 1729.9 401.7 1729.7 402.3 1729.8 402.9 1730.1 403.5 1729.8 404.1 1729.3 404.7 1729.2 405.3 1729.6 405.9 1729.7 406.5 1729.3 407.1 1729.3 407.7 1729.5 408.3 1729.6 408.9 1729.4 409.5 1729.1 410.1 1728.7 410.7 1728.7 411.3 1729 411.9 1728.9 412.5 1728.7 413.1 1728.8 413.7 1728.8 414.3 1728.9 414.9 1729.2 415.5 1729.1 416.1 1728.6 416.7 1728 417.3 1727.5 417.9 1727.3 418.5 1727.2 419.1 1726.7 419.7 1725.6 420.3 1724.1 420.9 1722.2 421.5 1718.9 422.1 1713.8 422.7 1706.2 423.3 1697.2 423.9 1689.9 424.5 1688.7 425.1 1694.4 425.7 1703.2 426.3 1711.4 426.9 1717.5 427.5 1721.5 428.1 1723.8 428.7 1725.1 429.3 1726.1 429.9 1726.8 430.5 1727.3 431.1 1727.7 431.7 1728 432.3 1728.3 432.9 1728.7 433.5 1729.2 434.1 1729.4 434.7 1728.8 435.3 1728.2 435.9 1728.6 436.5 1729.1 437.1 1729.2 437.7 1729.3 438.3 1729.5 438.9 1729.3 439.5 1729.2 440.1 1729.6 440.7 1729.7 441.3 1729.5 441.9 1730 442.5 1730.3 443.1 1729.7 443.7 1729.2 444.3 1729.2 444.9 1729.5 445.5 1730 446.1 1730.1 446.7 1729.7 447.3 1729.3 447.9 1729.1 448.5 1729.3 449.1 1729.4 449.7 1729.2 450.3 1729.6 450.9 1730.1 451.5 1729.9 452.1 1729.4 452.7 1729.1 453.3 1729.2 453.9 1729.1 454.5 1728.9 455.1 1729 455.7 1729.4 456.3 1730 456.9 1730.1 457.5 1729.7 458.1 1729.5 458.7 1729.7 459.3 1729.7 459.9 1729.5 460.5 1729.3 461.1 1729.2 461.7 1728.9 462.3 1728.9 462.9 1728.7 463.5 1728.4 464.1 1728.2 464.7 1727.8 465.3 1727.4 465.9 1727.3 466.5 1726.8 467.1 1726.2 467.7 1726.2 468.3 1726.4 468.9 1726.8 469.5 1727.1 470.1 1727.4 470.7 1728.1 471.3 1728.6 471.9 1728.6 472.5 1729 473.1 1729.5 473.7 1729.8 474.3 1729.5 474.9 1729.1 475.5 1729 476.1 1729.4 476.7 1729.6 477.3 1729.6 477.9 1729.8 478.5 1729.9 479.1 1729.7 479.7 1729.7 480.3 1730 480.9 1730.2 481.5 1730.2 482.1 1729.8 482.7 1729.5 483.3 1729.7 483.9 1729.9 484.5 1729.6 485.1 1729.5 485.7 1729.8 486.3 1729.8 486.9 1729.4 487.5 1729.2 488.1 1729.3 488.7 1729.7 489.3 1730 489.9 1730.1 490.5 1729.9 491.1 1729.9 491.7 1729.9 492.3 1729.6 492.9 1729.5 493.5 1729.5 494.1 1729.6 494.7 1729.7 495.3 1729.8 495.9 1730 496.5 1730 497.1 1729.7 497.7 1729.7 498.3 1729.9 498.9 1729.8 499.5 1729.8 500.1 1730.1 500.7 1730.1 501.3 1729.8 501.9 1729.3 502.5 1729.6 503.1 1730.2 503.7 1730.2 504.3 1729.9 504.9 1729.6 505.5 1729.7 506.1 1729.8 506.7 1729.8 507.3 1729.5 507.9 1729.2 508.5 1729.3 509.1 1729.6 509.7 1729.9 510.3 1730 510.9 1729.7 511.5 1729.5 512.1 1729.5 512.7 1729.6 513.3 1729.4 513.9 1729.5 514.5 1729.6 515.1 1729.9 515.7 1730.1 516.3 1730 516.9 1730.2 517.5 1730.3 518.1 1730.1 518.7 1729.7 519.3 1729.6 519.9 1729.9 520.5 1729.4 521.1 1729.2 521.7 1729.6 522.3 1729.4 522.9 1729.2 523.5 1729.3 524.1 1729.1 524.7 1729.1 525.3 1729.6 525.9 1730 526.5 1730 527.1 1729.8 527.7 1729.6 528.3 1729.7 528.9 1730.1 529.5 1730 530.1 1729.8 530.7 1729.6 531.3 1729.5 531.9 1729.6 532.5 1729.5 533.1 1729.5 533.7 1729.3 534.3 1729.1 534.9 1729.6 535.5 1729.7 536.1 1729.4 536.7 1729.4 537.3 1729.6 537.9 1729.7 538.5 1729.8 539.1 1729.9 539.7 1729.9 540.3 1729.7 540.9 1729.2 541.5 1729.3 542.1 1729.7 542.7 1729.9 543.3 1729.6 543.9 1729.3 544.5 1729.3 545.1 1729.5 545.7 1729.7 546.3 1729.4 546.9 1729.2 547.5 1729.4 548.1 1729.9 548.7 1730.1 549.3 1729.9 549.9 1729.9 550.5 1729.7 551.1 1729.4 551.7 1729.5 552.3 1729.7 552.9 1729.8 553.5 1729.8 554.1 1729.9 554.7 1730.1 555.3 1730 555.9 1729.6 556.5 1729.5 557.1 1729.9 557.7 1729.9 558.3 1729.7 558.9 1729.6 559.5 1729.5 560.1 1729.5 560.7 1729.6 561.3 1729.4 561.9 1729.8 562.5 1730.1 563.1 1729.8 563.7 1729.6 564.3 1729.6 564.9 1729.5 565.5 1729.7 566.1 1729.4 566.7 1729.1 567.3 1729 567.9 1729.1 568.5 1729.1 569.1 1728.9 569.7 1728.4 570.3 1727.7 570.9 1727.4 571.5 1727.1 572.1 1726.4 572.7 1725.5 573.3 1724.8 573.9 1724.2 574.5 1723.9 575.1 1724.3 575.7 1725.1 576.3 1725.5 576.9 1725.7 577.5 1726.5 578.1 1727.6 578.7 1728.4 579.3 1728.9 579.9 1729.2 580.5 1729.5 581.1 1729.4 581.7 1729.3 582.3 1729.3 582.9 1729 583.5 1728.9 584.1 1728.9 584.7 1729.1 585.3 1730 585.9 1730.3 586.5 1729.8 587.1 1729.2 587.7 1729.1 588.3 1729.4 588.9 1729.4 589.5 1729.1 590.1 1729.1 590.7 1729.4 591.3 1729.5 591.9 1729.5 592.5 1729.3 593.1 1729.3 593.7 1729.9 594.3 1730 594.9 1729.4 595.5 1729.1 596.1 1729.3 596.7 1729.8 597.3 1729.9 597.9 1729.9 598.5 1729.9 599.1 1729.8 599.7 1730 600.3 1729.8 600.9 1729.6 601.5 1729.7 602.1 1729.7 602.7 1729.8 603.3 1729.8 603.9 1729.5 604.5 1729.6 605.1 1729.7 605.7 1729.5 606.3 1729.8 606.9 1729.9 607.5 1729.4 608.1 1729.2 608.7 1729.5 609.3 1729.9 609.9 1730.1 610.5 1729.8 611.1 1729.6 611.7 1729.9 612.3 1730.1 612.9 1729.8 613.5 1729.1 614.1 1728.9 614.7 1729.2 615.3 1729.4 615.9 1729.4 616.5 1729.2 617.1 1729.2 617.7 1729.3 618.3 1728.9 618.9 1729 619.5 1729.5 620.1 1729.8 620.7 1729.9 621.4 1730 622 1729.9 622.6 1729.8 623.2 1729.7 623.8 1729.4 624.4 1729 625 1729.1 625.6 1729.1 626.2 1729.1 626.8 1729.2 627.4 1728.9 628 1728.7 628.6 1728.7 629.2 1728.7 629.8 1728.3 630.4 1727.6 631 1727.2 631.6 1727.1 632.2 1726.6 632.8 1725.6 633.4 1724.4 634 1722.7 634.6 1721.3 635.2 1720.7 635.8 1720.8 636.4 1721.9 637 1723.4 637.6 1724.6 638.2 1725.6 638.8 1726.6 639.4 1727.5 640 1728.2 640.6 1728.7 641.2 1729 641.8 1729.2 642.4 1728.9 643 1728.7 643.6 1728.8 644.2 1728.9 644.8 1728.7 645.4 1728.2 646 1727.9 646.6 1727.9 647.2 1727.4 647.8 1726.1 648.4 1724.9 649 1723.5 649.6 1721.5 650.2 1719.1 650.8 1716.5 651.4 1714.9 652 1715.1 652.6 1716.9 653.2 1719.3 653.8 1721.8 654.4 1724 655 1725.7 655.6 1726.6 656.2 1727.3 656.8 1728.2 657.4 1728.7 658 1728.6 658.6 1728.7 659.2 1728.7 659.8 1728.8 660.4 1729.5 661 1729.9 661.6 1729.8 662.2 1729.6 662.8 1728.9 663.4 1728.6 664 1729.1 664.6 1729.4 665.2 1729.3 665.8 1729.4 666.4 1729.7 667 1729.8 667.6 1729.5 668.2 1729.6 668.8 1730.1 669.4 1730 670 1729.4 670.6 1729 671.2 1728.6 671.8 1728.6 672.4 1729.1 673 1729.5 673.6 1729.4 674.2 1729.4 674.8 1729.6 675.4 1729.4 676 1728.9 676.6 1728.9 677.2 1729.4 677.8 1729.4 678.4 1729.1 679 1729 679.6 1729.1 680.2 1728.8 680.8 1728.1 681.4 1727.5 682 1727.1 682.6 1726.4 683.2 1725.6 683.8 1725 684.4 1724 685 1722.9 685.6 1722.5 686.2 1723.1 686.8 1723.7 687.4 1724.4 688 1725.7 688.6 1727.1 689.2 1728.1 689.8 1728.5 690.4 1728.5 691 1728.7 691.6 1728.7 692.2 1728.9 692.8 1728.9 693.4 1728.8 694 1728.9 694.6 1728.9 695.2 1729 695.8 1729.3 696.4 1729.8 697 1730.2 697.6 1730 698.2 1729.6 698.8 1729.5 699.4 1729.6 700 1729.8 700.6 1730 701.2 1729.9 701.8 1730 702.4 1730.2 703 1730.4 703.6 1730.2 704.2 1730 704.8 1729.9 705.4 1729.9 706 1729.7 706.6 1729.5 707.2 1729.5 707.8 1729.4 708.4 1729.8 709 1730.3 709.6 1730.3 710.2 1729.9 710.8 1729.8 711.4 1729.8 712 1729.4 712.6 1729.1 713.2 1729.3 713.8 1729.5 714.4 1729.5 715 1729.8 715.6 1730.1 716.2 1730 716.8 1729.8 717.4 1729.7 718 1729.5 718.6 1729.8 719.2 1730.4 719.8 1730.1 720.4 1729.5 721 1729.5 721.6 1729.8 722.2 1730 722.8 1729.9 723.4 1729.7 724 1729.6 724.6 1729.7 725.2 1729.7 725.8 1729.7 726.4 1729.6 727 1729.5 727.6 1729.7 728.2 1729.9 728.8 1729.9 729.4 1730 730 1730.2 730.6 1730.4 731.2 1730.4 731.8 1730.2 732.4 1730 733 1729.7 733.6 1729.3 734.2 1729.4 734.8 1729.7 735.4 1729.9 736 1729.6 736.6 1729.2 737.2 1729.4 737.8 1729.7 738.4 1729.6 739 1729.4 739.6 1729.2 740.2 1729.6 740.8 1729.9 741.4 1729.6 742 1729.6 742.6 1729.6 743.2 1729.8 743.8 1730.1 744.4 1729.9 745 1729.9 745.6 1729.9 746.2 1729.9 746.8 1729.7 747.4 1729.3 748 1729.1 748.6 1729 749.2 1729.1 749.8 1729.3 750.4 1729.3 751 1729.6 751.6 1730 752.2 1730.4 752.8 1730.6 753.4 1730.1 754 1729.3 754.6 1729 755.2 1729.3 755.8 1729.6 756.4 1729.7 757 1729.6 757.6 1729.2 758.2 1729.1 758.8 1729.5 759.4 1729.3 760 1729.1 760.6 1729.2 761.2 1729 761.8 1728.9 762.4 1728.9 763 1729 763.6 1729.4 764.2 1730.1 764.8 1730.2 765.4 1729.7 766 1729.6 766.6 1729.7 767.2 1729.7 767.8 1729.4 768.4 1729.1 769 1729 769.6 1728.8 770.2 1728.9 770.8 1729 771.4 1728.9 772 1728.9 772.6 1729.1 773.2 1729.3 773.8 1729 774.4 1728.8 775 1728.7 775.6 1728.5 776.2 1728.3 776.8 1728.1 777.4 1728 778 1728 778.6 1728.1 779.2 1728 779.8 1727.8 780.4 1727.7 781 1727.2 781.6 1726.8 782.2 1726.7 782.8 1726.6 783.4 1726.7 784 1726.8 784.6 1727 785.2 1727.2 785.8 1727.1 786.4 1727 787 1727.1 787.6 1727.3 788.2 1727.6 788.8 1727.8 789.4 1727.8 790 1728.1 790.6 1728.3 791.2 1728.1 791.8 1727.9 792.4 1728 793 1728.3 793.6 1728.7 794.2 1728.8 794.8 1729 795.4 1729.4 796 1729.3 796.6 1728.9 797.2 1728.6 797.8 1728.7 798.4 1728.9 799 1728.9 799.6 1729 800.2 1729.5 800.8 1729.7 801.4 1729.3 802 1729 802.6 1729.3 803.2 1729.6 803.8 1729.7 804.4 1729.5 805 1729.2 805.6 1729.1 806.2 1729.1 806.8 1728.9 807.4 1729.1 808 1729.6 808.6 1729.6 809.2 1729.6 809.8 1729.4 810.4 1729.2 811 1729.4 811.6 1729.7" fill="none" stroke="#1a3a3c" stroke-width="3.3" stroke-linejoin="round"/></g>
<rect x="50" y="1171" width="761.5" height="592" fill="none" stroke="#000" stroke-width="3"/>
<line x1="52.5" y1="1469.3" x2="811.5" y2="1469.3" stroke="#000" stroke-width="3" />
<rect x="121.2" y="1192" width="46.8" height="561" fill="none" stroke="#8a8a8a" stroke-width="1.6" stroke-dasharray="4.5 3"/>
<rect x="235.5" y="1190" width="73.7" height="561" fill="none" stroke="#8a8a8a" stroke-width="1.6" stroke-dasharray="4.5 3"/>
<line x1="50" y1="1763" x2="50" y2="1777" stroke="#000" stroke-width="3" />
<line x1="158.8" y1="1763" x2="158.8" y2="1777" stroke="#000" stroke-width="3" />
<line x1="267.6" y1="1763" x2="267.6" y2="1777" stroke="#000" stroke-width="3" />
<line x1="376.4" y1="1763" x2="376.4" y2="1777" stroke="#000" stroke-width="3" />
<line x1="485.2" y1="1763" x2="485.2" y2="1777" stroke="#000" stroke-width="3" />
<line x1="594" y1="1763" x2="594" y2="1777" stroke="#000" stroke-width="3" />
<line x1="702.8" y1="1763" x2="702.8" y2="1777" stroke="#000" stroke-width="3" />
<line x1="811.6" y1="1763" x2="811.6" y2="1777" stroke="#000" stroke-width="3" />
<line x1="104.4" y1="1763" x2="104.4" y2="1770" stroke="#000" stroke-width="3" />
<line x1="213.2" y1="1763" x2="213.2" y2="1770" stroke="#000" stroke-width="3" />
<line x1="322" y1="1763" x2="322" y2="1770" stroke="#000" stroke-width="3" />
<line x1="430.8" y1="1763" x2="430.8" y2="1770" stroke="#000" stroke-width="3" />
<line x1="539.6" y1="1763" x2="539.6" y2="1770" stroke="#000" stroke-width="3" />
<line x1="648.4" y1="1763" x2="648.4" y2="1770" stroke="#000" stroke-width="3" />
<line x1="757.2" y1="1763" x2="757.2" y2="1770" stroke="#000" stroke-width="3" />
<text x="50" y="1809.8" font-size="28.08" text-anchor="middle" textLength="28.9" lengthAdjust="spacingAndGlyphs" >10</text>
<text x="158.8" y="1809.8" font-size="28.08" text-anchor="middle" textLength="28.9" lengthAdjust="spacingAndGlyphs" >20</text>
<text x="267.6" y="1809.8" font-size="28.08" text-anchor="middle" textLength="28.9" lengthAdjust="spacingAndGlyphs" >30</text>
<text x="376.4" y="1809.8" font-size="28.08" text-anchor="middle" textLength="28.9" lengthAdjust="spacingAndGlyphs" >40</text>
<text x="485.2" y="1809.8" font-size="28.08" text-anchor="middle" textLength="28.9" lengthAdjust="spacingAndGlyphs" >50</text>
<text x="594" y="1809.8" font-size="28.08" text-anchor="middle" textLength="28.9" lengthAdjust="spacingAndGlyphs" >60</text>
<text x="702.8" y="1809.8" font-size="28.08" text-anchor="middle" textLength="28.9" lengthAdjust="spacingAndGlyphs" >70</text>
<text x="811.6" y="1809.8" font-size="28.08" text-anchor="middle" textLength="28.9" lengthAdjust="spacingAndGlyphs" >80</text>
<text x="15" y="1187.3" font-size="35.0" font-weight="bold" textLength="18.5" lengthAdjust="spacingAndGlyphs" >e</text>
<text x="53.3" y="1192" font-size="23.76" textLength="128.5" lengthAdjust="spacingAndGlyphs" >LMRO-50CS</text>
<text x="53.3" y="1489" font-size="23.76" textLength="113.6" lengthAdjust="spacingAndGlyphs" >LMRO-50C</text>
<text x="128" y="1214" font-size="23.76" fill="#808080" textLength="4.9" lengthAdjust="spacingAndGlyphs" >i</text>
<text x="240.7" y="1216.7" font-size="23.76" fill="#808080" textLength="9.8" lengthAdjust="spacingAndGlyphs" >ii</text>
<text x="783" y="1247.3" font-size="23.76" textLength="10.3" lengthAdjust="spacingAndGlyphs" >f'</text>
<text x="783" y="1280.7" font-size="23.76" textLength="16.4" lengthAdjust="spacingAndGlyphs" >e'</text>
<text x="783" y="1320.7" font-size="23.76" textLength="16.4" lengthAdjust="spacingAndGlyphs" >d'</text>
<text x="783" y="1354" font-size="23.76" textLength="15.2" lengthAdjust="spacingAndGlyphs" >c'</text>
<text x="783" y="1391.3" font-size="23.76" textLength="16.4" lengthAdjust="spacingAndGlyphs" >b'</text>
<text x="783" y="1427.3" font-size="23.76" textLength="16.4" lengthAdjust="spacingAndGlyphs" >a'</text>
<text x="790" y="1556" font-size="23.76" textLength="6.1" lengthAdjust="spacingAndGlyphs" >f</text>
<text x="787.5" y="1590" font-size="23.76" textLength="12.2" lengthAdjust="spacingAndGlyphs" >e</text>
<text x="787.5" y="1623.5" font-size="23.76" textLength="12.2" lengthAdjust="spacingAndGlyphs" >d</text>
<text x="787.5" y="1655.5" font-size="23.76" textLength="11" lengthAdjust="spacingAndGlyphs" >c</text>
<text x="787.5" y="1688.5" font-size="23.76" textLength="12.2" lengthAdjust="spacingAndGlyphs" >b</text>
<text x="787.5" y="1720.5" font-size="23.76" textLength="12.2" lengthAdjust="spacingAndGlyphs" >a</text>
<text x="329.3" y="1842.8" font-size="30.78" textLength="204.2" lengthAdjust="spacingAndGlyphs" >2Theta (degree)</text>
<text x="27.5" y="1674.8" font-size="29.5" transform="rotate(-90 27.5 1674.8)" textLength="419" lengthAdjust="spacingAndGlyphs" >Normalized intensity (arb. units)</text>
<g clip-path="url(#cli)"><path d="M842 1266.7L842.6 1266.6 843.2 1267.4 843.8 1267.7 844.4 1267.5 845 1267.8 845.6 1268.3 846.2 1268.2 846.8 1267.9 847.4 1267.5 848 1267.2 848.6 1267.1 849.2 1266.6 849.8 1266.6 850.4 1266.5 851 1266.3 851.6 1267 852.2 1267.6 852.8 1267 853.4 1266.4 854 1266.8 854.6 1267.3 855.2 1267.1 855.8 1266.6 856.4 1266.3 857 1266.8 857.6 1267.3 858.2 1267.6 858.8 1267.6 859.4 1266.8 860 1265.7 860.6 1265.4 861.2 1265.8 861.8 1266.1 862.4 1266.4 863 1266.7 863.6 1266.7 864.2 1266.5 864.8 1266.6 865.4 1266.1 866 1266 866.6 1266.9 867.2 1267.2 867.8 1266.5 868.4 1265.3 869 1264.4 869.6 1264.4 870.2 1264.9 870.8 1265.7 871.4 1266.1 871.9 1266.4 872.5 1266.3 873.1 1265.7 873.7 1265 874.3 1264.6 874.9 1264.2 875.5 1264.1 876.1 1264.4 876.7 1264.3 877.3 1263.8 877.9 1263.6 878.5 1264 879.1 1264.2 879.7 1263.7 880.3 1263.2 880.9 1262.7 881.5 1262.4 882.1 1262.2 882.7 1261.9 883.3 1261.7 883.9 1262 884.5 1261.8 885.1 1261.2 885.7 1260.9 886.3 1260.3 886.9 1259.2 887.5 1258 888.1 1257.6 888.7 1257.9 889.3 1257.6 889.9 1257.2 890.5 1256.6 891.1 1256 891.7 1255.4 892.3 1253.5 892.9 1251.2 893.5 1250.6 894.1 1251.1 894.7 1250.3 895.3 1248.2 895.9 1245.8 896.5 1244.2 897.1 1242.6 897.7 1240.3 898.3 1238.2 898.9 1236.7 899.5 1234.6 900.1 1232.2 900.7 1229.6 901.3 1226.3 901.9 1223.2 902.5 1220.7 903.1 1218 903.7 1215.3 904.3 1212.7 904.9 1209.5 905.5 1206.4 906.1 1203.8 906.7 1201.6 907.3 1199.6 907.9 1198.4 908.5 1197.9 909.1 1197.5 909.7 1197.7 910.3 1197.9 910.9 1199 911.5 1200.7 912.1 1201.9 912.7 1204.3 913.3 1207.9 913.9 1211.3 914.5 1214.2 915.1 1216.6 915.7 1219.5 916.3 1223 916.9 1225.9 917.5 1228.2 918.1 1231.3 918.7 1234.4 919.3 1236.2 919.9 1237.7 920.5 1239.9 921.1 1242.1 921.7 1244.4 922.3 1246.1 922.9 1247 923.5 1248.6 924.1 1250.6 924.7 1252.1 925.3 1252.9 925.9 1253 926.5 1254 927.1 1255.3 927.7 1256 928.3 1256.8 928.9 1257.4 929.5 1258.1 930.1 1259.1 930.6 1259.4 931.2 1259.4 931.8 1260 932.4 1260.2 933 1260.1 933.6 1260.3 934.2 1260.4 934.8 1260.9 935.4 1262.4 936 1263.4 936.6 1263 937.2 1262.5 937.8 1263 938.4 1263.5 939 1263.5 939.6 1263.6 940.2 1263.3 940.8 1263.2 941.4 1263.4 942 1263.6 942.6 1264.1 943.2 1264.5 943.8 1264.4 944.4 1264.3 945 1265 945.6 1265.6 946.2 1265.3 946.8 1265.6 947.4 1265.9 948 1265.1 948.6 1264.9 949.2 1265 949.8 1265.3 950.4 1265.9 951 1266.1 951.6 1266.3 952.2 1266.4 952.8 1266.3 953.4 1266.4 954 1266.4 954.6 1266.3 955.2 1265.8 955.8 1266 956.4 1266.3 957 1265.9 957.6 1266.2 958.2 1266.4 958.8 1266.1 959.4 1266.5 960 1266.7 960.6 1266.5 961.2 1266.9 961.8 1267.1 962.4 1266.7 963 1266.9 963.6 1267 964.2 1266.5 964.8 1266.3 965.4 1266.6 966 1266.7" fill="none" stroke="#f2b28c" stroke-width="3.2" stroke-linejoin="round"/><path d="M842 1300.9L842.6 1301.4 843.2 1300.8 843.8 1300 844.4 1300 845 1300.4 845.6 1300.6 846.2 1300.3 846.8 1300.1 847.4 1300.9 848 1300.9 848.6 1299.9 849.2 1299.6 849.8 1299.7 850.4 1300 851 1300.2 851.6 1299.8 852.2 1299.7 852.8 1300.3 853.4 1300.4 854 1300 854.6 1299.6 855.2 1299.5 855.8 1300.3 856.4 1300.8 857 1300.3 857.6 1299.4 858.2 1298.8 858.8 1298.7 859.4 1298.9 860 1299.7 860.6 1300.5 861.2 1300.2 861.8 1299.7 862.4 1299.4 863 1299.1 863.6 1299.2 864.2 1299.2 864.8 1298.6 865.4 1298.1 866 1298.6 866.6 1298.9 867.2 1298.7 867.8 1298.9 868.4 1298.6 869 1298.1 869.6 1298.3 870.2 1298.1 870.8 1297.8 871.4 1297.9 871.9 1297.7 872.5 1297.4 873.1 1297.3 873.7 1297.1 874.3 1296.9 874.9 1296.9 875.5 1296.6 876.1 1296.7 876.7 1297.2 877.3 1297.2 877.9 1297.3 878.5 1297.5 879.1 1297 879.7 1296.2 880.3 1295.9 880.9 1296.1 881.5 1296.2 882.1 1295.9 882.7 1295.4 883.3 1294.5 883.9 1294 884.5 1294 885.1 1293.6 885.7 1293.5 886.3 1293.6 886.9 1293.2 887.5 1292.8 888.1 1292.1 888.7 1291.2 889.3 1291.2 889.9 1291.4 890.5 1290.5 891.1 1289.3 891.7 1289 892.3 1288.2 892.9 1286.7 893.5 1285.6 894.1 1285.3 894.7 1284.9 895.3 1283.5 895.9 1281.7 896.5 1280.7 897.1 1279.6 897.7 1277.8 898.3 1276 898.9 1274.1 899.5 1271.9 900.1 1270.1 900.7 1268 901.3 1266 901.9 1264 902.5 1261.3 903.1 1258.5 903.7 1256.1 904.3 1253.6 904.9 1250.4 905.5 1247.6 906.1 1245.5 906.7 1243.1 907.3 1240.3 907.9 1237.9 908.5 1235.9 909.1 1234.4 909.7 1233.6 910.3 1232.8 910.9 1231.8 911.5 1230.9 912.1 1231 912.7 1231.8 913.3 1232.9 913.9 1234.9 914.5 1237.2 915.1 1239.1 915.7 1241.8 916.3 1244.9 916.9 1247.5 917.5 1250 918.1 1252.5 918.7 1255 919.3 1257.7 919.9 1260.4 920.5 1262.8 921.1 1265.1 921.7 1267.4 922.3 1269.9 922.9 1272.4 923.5 1273.9 924.1 1275.1 924.7 1277.2 925.3 1279.7 925.9 1280.9 926.5 1281.5 927.1 1282.7 927.7 1283.5 928.3 1284.1 928.9 1286 929.5 1287.6 930.1 1287.8 930.6 1288.5 931.2 1289.5 931.8 1289.8 932.4 1290.3 933 1290.9 933.6 1291.2 934.2 1291.8 934.8 1292.2 935.4 1292.9 936 1294 936.6 1294.3 937.2 1294.1 937.8 1294.3 938.4 1294.5 939 1294.3 939.6 1294.9 940.2 1295.6 940.8 1296.2 941.4 1296.7 942 1296.4 942.6 1296.2 943.2 1296.4 943.8 1296.7 944.4 1297.2 945 1297.4 945.6 1297 946.2 1296.6 946.8 1296.2 947.4 1296.5 948 1297 948.6 1297 949.2 1297.8 949.8 1298.3 950.4 1297.8 951 1297.7 951.6 1298 952.2 1298.1 952.8 1298.1 953.4 1298.3 954 1298.8 954.6 1298.9 955.2 1298.3 955.8 1297.8 956.4 1298.2 957 1298.9 957.6 1299.1 958.2 1299 958.8 1299.3 959.4 1299.4 960 1299.2 960.6 1299.4 961.2 1299.2 961.8 1298.9 962.4 1299.4 963 1300 963.6 1299.9 964.2 1299.7 964.8 1300 965.4 1300 966 1299.8" fill="none" stroke="#f4a272" stroke-width="3.2" stroke-linejoin="round"/><path d="M842 1332.7L842.6 1332.4 843.2 1332.3 843.8 1332.4 844.4 1332.4 845 1332 845.6 1331.8 846.2 1331.7 846.8 1331.7 847.4 1332 848 1331.7 848.6 1331.5 849.2 1332 849.8 1332.3 850.4 1332.5 851 1332.8 851.6 1332.5 852.2 1332.2 852.8 1332.3 853.4 1332 854 1331.6 854.6 1331.7 855.2 1332.3 855.8 1332.7 856.4 1332.5 857 1331.8 857.6 1331.2 858.2 1331.4 858.8 1332.1 859.4 1332.7 860 1332.7 860.6 1332.2 861.2 1331.9 861.8 1331.6 862.4 1331.4 863 1331.4 863.6 1331.5 864.2 1331.7 864.8 1331.7 865.4 1331.7 866 1331.5 866.6 1331.1 867.2 1331.1 867.8 1331 868.4 1330.7 869 1331.1 869.6 1331.7 870.2 1331.7 870.8 1331.3 871.4 1331.2 871.9 1330.8 872.5 1330.3 873.1 1330.2 873.7 1330.2 874.3 1330.4 874.9 1330.7 875.5 1330.2 876.1 1329.8 876.7 1330.3 877.3 1330.5 877.9 1330.2 878.5 1329.6 879.1 1329.8 879.7 1330.2 880.3 1329.6 880.9 1329 881.5 1329.1 882.1 1329 882.7 1328.4 883.3 1328.1 883.9 1328.5 884.5 1329.2 885.1 1328.9 885.7 1328.1 886.3 1327.7 886.9 1327.3 887.5 1326.9 888.1 1327 888.7 1327.1 889.3 1326.4 889.9 1325.8 890.5 1325.9 891.1 1325.8 891.7 1325 892.3 1324 892.9 1323.7 893.5 1323.1 894.1 1322.1 894.7 1321.7 895.3 1321.3 895.9 1320.9 896.5 1320.4 897.1 1319.3 897.7 1317.9 898.3 1316.7 898.9 1315.4 899.5 1314.3 900.1 1313.4 900.7 1311.6 901.3 1309.3 901.9 1307.8 902.5 1306.5 903.1 1304.5 903.7 1302.6 904.3 1300.8 904.9 1298.3 905.5 1295.5 906.1 1293.1 906.7 1290.6 907.3 1287.4 907.9 1284.2 908.5 1281.9 909.1 1279.6 909.7 1276.7 910.3 1274.1 910.9 1271.1 911.5 1268.1 912.1 1265.9 912.7 1264.4 913.3 1263.3 913.9 1263 914.5 1262.9 915.1 1263 915.7 1263.5 916.3 1264.5 916.9 1266 917.5 1267.8 918.1 1269.9 918.7 1272.8 919.3 1276 919.9 1278.9 920.5 1281.6 921.1 1284.3 921.7 1287.5 922.3 1290.6 922.9 1293.2 923.5 1295.7 924.1 1298.1 924.7 1300.4 925.3 1302.3 925.9 1304.5 926.5 1306.9 927.1 1308.7 927.7 1310.3 928.3 1311.7 928.9 1312.6 929.5 1313.6 930.1 1315.4 930.6 1317.3 931.2 1318.3 931.8 1318.8 932.4 1319.3 933 1320.2 933.6 1321.3 934.2 1322.1 934.8 1323 935.4 1323.4 936 1324 936.6 1325 937.2 1325.6 937.8 1325.5 938.4 1325.5 939 1326 939.6 1326.5 940.2 1326.3 940.8 1326.2 941.4 1326.8 942 1327.7 942.6 1327.8 943.2 1327.5 943.8 1327.7 944.4 1328.1 945 1328.1 945.6 1328 946.2 1328.3 946.8 1328.7 947.4 1328.9 948 1329.1 948.6 1329.1 949.2 1329.3 949.8 1329.8 950.4 1329.7 951 1329.3 951.6 1329.7 952.2 1329.8 952.8 1329.9 953.4 1330.4 954 1330.7 954.6 1330.6 955.2 1330.8 955.8 1331.3 956.4 1331.1 957 1331 957.6 1331.3 958.2 1331.2 958.8 1331.3 959.4 1331.1 960 1330.7 960.6 1330.6 961.2 1330.6 961.8 1330.8 962.4 1331.3 963 1331.1 963.6 1330.9 964.2 1331 964.8 1331.1 965.4 1331.4 966 1331.5" fill="none" stroke="#f59450" stroke-width="3.2" stroke-linejoin="round"/><path d="M842 1362.7L842.6 1362.5 843.2 1362 843.8 1362 844.4 1362.1 845 1362.7 845.6 1363.2 846.2 1362.4 846.8 1361.7 847.4 1361.9 848 1362.3 848.6 1362 849.2 1362 849.8 1362.5 850.4 1362.2 851 1362 851.6 1362.6 852.2 1362.7 852.8 1362.4 853.4 1362.6 854 1362.6 854.6 1361.7 855.2 1361.2 855.8 1362 856.4 1362.4 857 1362.1 857.6 1362.3 858.2 1362.1 858.8 1361.3 859.4 1362 860 1362.1 860.6 1361.2 861.2 1360.8 861.8 1361 862.4 1361.2 863 1361 863.6 1361.5 864.2 1361.3 864.8 1360.3 865.4 1360.4 866 1360.6 866.6 1360.4 867.2 1360.5 867.8 1360 868.4 1359.2 869 1359.5 869.6 1359.7 870.2 1359.2 870.8 1359.7 871.4 1361.2 871.9 1361.6 872.5 1360.8 873.1 1359.4 873.7 1358.2 874.3 1358.7 874.9 1359.2 875.5 1358.7 876.1 1358.5 876.7 1359.3 877.3 1359.9 877.9 1359.2 878.5 1358.2 879.1 1358.1 879.7 1358.6 880.3 1358.3 880.9 1357.5 881.5 1356.9 882.1 1356.7 882.7 1357.4 883.3 1357.8 883.9 1357.1 884.5 1356.1 885.1 1355.5 885.7 1354.9 886.3 1354.7 886.9 1354.8 887.5 1354.4 888.1 1353.8 888.7 1353.8 889.3 1353.6 889.9 1352.9 890.5 1351.5 891.1 1349.7 891.7 1348.6 892.3 1348 892.9 1347.2 893.5 1346.8 894.1 1346.5 894.7 1345.4 895.3 1343.7 895.9 1342 896.5 1340.2 897.1 1339.2 897.7 1338.6 898.3 1337.3 898.9 1335.5 899.5 1333.2 900.1 1330.7 900.7 1328.2 901.3 1325.8 901.9 1324.3 902.5 1322.4 903.1 1319.8 903.7 1317.4 904.3 1314.7 904.9 1311.8 905.5 1308.8 906.1 1306 906.7 1303.6 907.3 1301.6 907.9 1299.4 908.5 1296.4 909.1 1293.5 909.7 1291.8 910.3 1291.2 910.9 1291 911.5 1291.5 912.1 1291.8 912.7 1291.9 913.3 1293.3 913.9 1294.5 914.5 1295.1 915.1 1297 915.7 1299.6 916.3 1301.4 916.9 1303.9 917.5 1307.1 918.1 1309.5 918.7 1312.2 919.3 1315.4 919.9 1318.1 920.5 1320.9 921.1 1324.1 921.7 1325.9 922.3 1327.2 922.9 1329.8 923.5 1332.1 924.1 1334.1 924.7 1336.6 925.3 1338.7 925.9 1339.8 926.5 1340.7 927.1 1341.6 927.7 1342.6 928.3 1344.3 928.9 1345.5 929.5 1345.6 930.1 1346.1 930.6 1347.1 931.2 1348.6 931.8 1350.1 932.4 1350.6 933 1350.9 933.6 1352 934.2 1353.1 934.8 1353.1 935.4 1353.7 936 1354.8 936.6 1354.8 937.2 1355.2 937.8 1355.9 938.4 1355.9 939 1356.2 939.6 1356.9 940.2 1357.1 940.8 1357.2 941.4 1357.7 942 1357.9 942.6 1357.1 943.2 1356.6 943.8 1357.1 944.4 1357.7 945 1358.2 945.6 1358.3 946.2 1358.4 946.8 1358.5 947.4 1358 948 1357.9 948.6 1358.5 949.2 1358.6 949.8 1358.7 950.4 1358.8 951 1359.2 951.6 1359.9 952.2 1360.7 952.8 1360.9 953.4 1360.3 954 1359.5 954.6 1359.2 955.2 1359 955.8 1359.4 956.4 1360.9 957 1361.6 957.6 1361.1 958.2 1360.2 958.8 1359.6 959.4 1360 960 1360.6 960.6 1360.6 961.2 1360.4 961.8 1360.2 962.4 1360.3 963 1361.2 963.6 1362.4 964.2 1361.8 964.8 1360.7 965.4 1360.8 966 1361.2" fill="none" stroke="#f67c28" stroke-width="3.2" stroke-linejoin="round"/><path d="M842 1396.1L842.6 1396.8 843.2 1396.9 843.8 1396.2 844.4 1395.9 845 1396.2 845.6 1396.2 846.2 1396.4 846.8 1396.6 847.4 1396.5 848 1395.8 848.6 1395.2 849.2 1395.6 849.8 1395.6 850.4 1395.2 851 1395.1 851.6 1394.8 852.2 1394.4 852.8 1394.3 853.4 1394.5 854 1394.6 854.6 1395 855.2 1395.5 855.8 1395.2 856.4 1394.9 857 1395.4 857.6 1395.7 858.2 1395.4 858.8 1395.1 859.4 1394.8 860 1394.8 860.6 1395.3 861.2 1395.3 861.8 1395 862.4 1394.8 863 1395 863.6 1395.3 864.2 1394.5 864.8 1393.9 865.4 1394.5 866 1395 866.6 1394.8 867.2 1394 867.8 1394 868.4 1394.6 869 1394.2 869.6 1393.9 870.2 1393.9 870.8 1393.6 871.4 1393.3 871.9 1393 872.5 1393 873.1 1393.1 873.7 1393.8 874.3 1394.1 874.9 1393.6 875.5 1393.4 876.1 1393.2 876.7 1392.5 877.3 1392.1 877.9 1392.1 878.5 1392.1 879.1 1392.3 879.7 1392.1 880.3 1391.8 880.9 1392 881.5 1391.8 882.1 1391.5 882.7 1391.3 883.3 1391.2 883.9 1391.5 884.5 1391.5 885.1 1391 885.7 1390.9 886.3 1390.9 886.9 1390.2 887.5 1389.5 888.1 1389.3 888.7 1388.7 889.3 1387.7 889.9 1387 890.5 1386.7 891.1 1386.3 891.7 1385.5 892.3 1384.3 892.9 1384.1 893.5 1384.7 894.1 1384.3 894.7 1382.9 895.3 1381.1 895.9 1379.6 896.5 1378.9 897.1 1377.5 897.7 1375.6 898.3 1374.4 898.9 1373.5 899.5 1372.5 900.1 1371.4 900.7 1370.2 901.3 1368.1 901.9 1365.4 902.5 1362.8 903.1 1360.3 903.7 1358.2 904.3 1355.8 904.9 1353.2 905.5 1350.7 906.1 1347.8 906.7 1345 907.3 1342.7 907.9 1339.6 908.5 1336.1 909.1 1333.8 909.7 1332.1 910.3 1330.2 910.9 1329 911.5 1328 912.1 1327 912.7 1326.7 913.3 1327.1 913.9 1327.7 914.5 1329 915.1 1330.9 915.7 1332.3 916.3 1333.8 916.9 1336.3 917.5 1338.7 918.1 1340.9 918.7 1343.5 919.3 1346.4 919.9 1349 920.5 1352.4 921.1 1355.8 921.7 1357.9 922.3 1359.6 922.9 1361.5 923.5 1364 924.1 1366.1 924.7 1367.2 925.3 1369.4 925.9 1371.9 926.5 1373.7 927.1 1375.4 927.7 1376.6 928.3 1377.3 928.9 1378.8 929.5 1380.4 930.1 1381.1 930.6 1381.9 931.2 1382.9 931.8 1383.4 932.4 1384.2 933 1385.1 933.6 1385.7 934.2 1386.4 934.8 1387.4 935.4 1388.2 936 1388 936.6 1388.6 937.2 1389.9 937.8 1389.7 938.4 1388.7 939 1388.8 939.6 1389.4 940.2 1390.1 940.8 1390.2 941.4 1390.7 942 1391.5 942.6 1391.4 943.2 1391.4 943.8 1392.1 944.4 1392.6 945 1393 945.6 1392.9 946.2 1392.5 946.8 1392.2 947.4 1392.1 948 1392.4 948.6 1393.2 949.2 1393.8 949.8 1393.6 950.4 1393.1 951 1393 951.6 1392.9 952.2 1393 952.8 1393.3 953.4 1393.5 954 1393.6 954.6 1394 955.2 1394.2 955.8 1393.7 956.4 1393.3 957 1393.9 957.6 1395.2 958.2 1395.6 958.8 1395 959.4 1394.4 960 1394.4 960.6 1394.8 961.2 1395 961.8 1394.9 962.4 1394.3 963 1393.3 963.6 1393.5 964.2 1394.5 964.8 1394.9 965.4 1394.7 966 1394.9" fill="none" stroke="#f06c14" stroke-width="3.2" stroke-linejoin="round"/><path d="M842 1434.2L842.6 1434.2 843.2 1434 843.8 1434 844.4 1433.8 845 1433.6 845.6 1433.8 846.2 1433.8 846.8 1433.4 847.4 1433.1 848 1432.9 848.6 1433.4 849.2 1433.8 849.8 1433.9 850.4 1433.8 851 1433.6 851.6 1433.5 852.2 1433.3 852.8 1433.1 853.4 1433.1 854 1433.3 854.6 1433.5 855.2 1433.3 855.8 1433.3 856.4 1433.5 857 1433.5 857.6 1433.2 858.2 1433.1 858.8 1433.3 859.4 1433.2 860 1432.7 860.6 1432.9 861.2 1433.6 861.8 1433.3 862.4 1432.5 863 1432.1 863.6 1432.2 864.2 1432.4 864.8 1432.3 865.4 1432.3 866 1432.4 866.6 1432.6 867.2 1432.5 867.8 1431.8 868.4 1431.7 869 1432.1 869.6 1432 870.2 1431.5 870.8 1431.2 871.4 1431.3 871.9 1431.7 872.5 1431.9 873.1 1432 873.7 1431.6 874.3 1431.4 874.9 1431.6 875.5 1431.5 876.1 1431 876.7 1430.9 877.3 1430.9 877.9 1430.5 878.5 1430.2 879.1 1430.4 879.7 1430.3 880.3 1429.8 880.9 1429.5 881.5 1428.9 882.1 1428.8 882.7 1429.2 883.3 1429 883.9 1428.5 884.5 1428.7 885.1 1428.5 885.7 1427.8 886.3 1427.3 886.9 1426.8 887.5 1426.6 888.1 1427 888.7 1426.3 889.3 1425.4 889.9 1425.1 890.5 1424.8 891.1 1424.1 891.7 1423.6 892.3 1423 892.9 1421.9 893.5 1421.2 894.1 1420.9 894.7 1419.8 895.3 1418.7 895.9 1417.5 896.5 1415.7 897.1 1414.5 897.7 1413.7 898.3 1412.4 898.9 1410.7 899.5 1408.8 900.1 1406.9 900.7 1405 901.3 1403.2 901.9 1401.4 902.5 1399.3 903.1 1397 903.7 1394.2 904.3 1391.1 904.9 1388.3 905.5 1385.9 906.1 1383.5 906.7 1380.7 907.3 1377.9 907.9 1375.1 908.5 1372.2 909.1 1369.9 909.7 1368.2 910.3 1366.6 910.9 1365.2 911.5 1364.5 912.1 1364 912.7 1363.9 913.3 1364.4 913.9 1365 914.5 1366.2 915.1 1368.3 915.7 1370.6 916.3 1372.9 916.9 1375.5 917.5 1377.7 918.1 1379.8 918.7 1382.5 919.3 1385.3 919.9 1388.3 920.5 1391.5 921.1 1394.1 921.7 1395.9 922.3 1398.1 922.9 1400.9 923.5 1403.3 924.1 1405.2 924.7 1407 925.3 1408.9 925.9 1410.6 926.5 1412.1 927.1 1413.6 927.7 1414.6 928.3 1415.9 928.9 1417.4 929.5 1418.7 930.1 1419.7 930.6 1420.3 931.2 1421.2 931.8 1422.4 932.4 1423.2 933 1423.5 933.6 1424.1 934.2 1424.6 934.8 1424.9 935.4 1425.4 936 1425.8 936.6 1426.3 937.2 1427.2 937.8 1427.7 938.4 1427.7 939 1427.9 939.6 1428.3 940.2 1428.3 940.8 1428.7 941.4 1429.2 942 1429.3 942.6 1429.5 943.2 1429.7 943.8 1430 944.4 1430 945 1429.6 945.6 1429.7 946.2 1430.2 946.8 1430.4 947.4 1430.3 948 1430.9 948.6 1431.3 949.2 1431.2 949.8 1431 950.4 1431.1 951 1431.8 951.6 1432.6 952.2 1432.7 952.8 1432.4 953.4 1432.3 954 1432.1 954.6 1432 955.2 1431.9 955.8 1431.6 956.4 1431.8 957 1432.2 957.6 1432.3 958.2 1432.3 958.8 1432.5 959.4 1432.9 960 1432.7 960.6 1432 961.2 1432.2 961.8 1432.3 962.4 1432.1 963 1432.8 963.6 1433.1 964.2 1432.4 964.8 1432 965.4 1432.7 966 1433.4" fill="none" stroke="#e05a10" stroke-width="3.2" stroke-linejoin="round"/><path d="M842 1565.4L842.6 1565 843.2 1565.5 843.8 1565.8 844.4 1565.4 845 1565.4 845.6 1565.6 846.2 1565.8 846.8 1565.5 847.4 1565.5 848 1566.1 848.6 1566 849.2 1565.2 849.8 1564.5 850.4 1564.7 851 1565.4 851.6 1565.4 852.2 1565.2 852.8 1565.6 853.4 1565.6 854 1565.2 854.6 1565.2 855.2 1565.2 855.8 1565.2 856.4 1565.4 857 1565.3 857.6 1565.3 858.2 1565.5 858.8 1565.2 859.4 1564.8 860 1564.8 860.6 1564.8 861.2 1565.1 861.8 1565 862.4 1564.8 863 1565.4 863.6 1565.8 864.2 1565.2 864.8 1564.6 865.4 1564.7 866 1565 866.6 1565.1 867.2 1564.9 867.8 1564.5 868.4 1564.6 869 1565.3 869.6 1565.7 870.2 1565.1 870.8 1564.7 871.4 1565 871.9 1565.1 872.5 1564.3 873.1 1563.5 873.7 1563.6 874.3 1563.7 874.9 1563.5 875.5 1563.3 876.1 1563.9 876.7 1564.6 877.3 1564.4 877.9 1563.7 878.5 1563.2 879.1 1563.2 879.7 1563.4 880.3 1563.2 880.9 1563.2 881.5 1563.6 882.1 1563.5 882.7 1562.7 883.3 1561.9 883.9 1561.7 884.5 1561.3 885.1 1561 885.7 1560.9 886.3 1560.8 886.9 1560 887.5 1559 888.1 1558.5 888.7 1557.9 889.3 1556.8 889.9 1555.9 890.5 1555.1 891.1 1553.8 891.7 1552.1 892.3 1550.3 892.9 1548.6 893.5 1546.3 894.1 1543.7 894.7 1541.2 895.3 1538.4 895.9 1535.7 896.5 1533.1 897.1 1529.8 897.7 1525.9 898.3 1522.4 898.9 1519.3 899.5 1515.8 900.1 1512 900.7 1508.8 901.3 1506.2 901.9 1503.4 902.5 1500.3 903.1 1498 903.7 1496.5 904.3 1495.6 904.9 1495.2 905.5 1495.2 906.1 1496.2 906.7 1498.3 907.3 1500.7 907.9 1503.1 908.5 1505.7 909.1 1508.6 909.7 1512.3 910.3 1516.1 910.9 1519.7 911.5 1523.1 912.1 1526.1 912.7 1529.4 913.3 1532.9 913.9 1535.9 914.5 1538.8 915.1 1541.3 915.7 1543.4 916.3 1545.9 916.9 1548.1 917.5 1549.9 918.1 1551.5 918.7 1552.8 919.3 1554.3 919.9 1555.8 920.5 1557.1 921.1 1558 921.7 1558.9 922.3 1559.6 922.9 1559.8 923.5 1560.5 924.1 1561.1 924.7 1561.1 925.3 1561.4 925.9 1562.2 926.5 1562.5 927.1 1562.2 927.7 1562.5 928.3 1563.3 928.9 1563.5 929.5 1563.2 930.1 1563.2 930.6 1563.7 931.2 1563.8 931.8 1564 932.4 1564.3 933 1564.1 933.6 1563.7 934.2 1563.6 934.8 1563.8 935.4 1564.2 936 1564.3 936.6 1563.9 937.2 1564.1 937.8 1564.8 938.4 1565.1 939 1564.9 939.6 1564.7 940.2 1564.7 940.8 1565.1 941.4 1565.3 942 1565 942.6 1565 943.2 1565.2 943.8 1565 944.4 1565.3 945 1565.7 945.6 1565.3 946.2 1564.7 946.8 1564.2 947.4 1564.5 948 1565.2 948.6 1565.5 949.2 1565.4 949.8 1565.7 950.4 1565.5 951 1565.2 951.6 1565.2 952.2 1565 952.8 1565.5 953.4 1565.6 954 1564.9 954.6 1564.6 955.2 1564.9 955.8 1565.3 956.4 1565.7 957 1565.8 957.6 1565.6 958.2 1565.5 958.8 1565.5 959.4 1565.5 960 1565.6 960.6 1565.5 961.2 1565.5 961.8 1565.8 962.4 1565.6 963 1565.1 963.6 1565.2 964.2 1565.3 964.8 1565 965.4 1564.8 966 1565.1" fill="none" stroke="#4e9ea0" stroke-width="3.2" stroke-linejoin="round"/><path d="M842 1601.8L842.6 1601.7 843.2 1601.4 843.8 1601 844.4 1601.1 845 1601 845.6 1600.4 846.2 1600.6 846.8 1601.4 847.4 1601.6 848 1601.2 848.6 1600.9 849.2 1600.9 849.8 1601.4 850.4 1601.9 851 1601.3 851.6 1600.3 852.2 1599.9 852.8 1600 853.4 1600.1 854 1600.5 854.6 1601.1 855.2 1601.4 855.8 1601.4 856.4 1601 857 1600.6 857.6 1600.6 858.2 1600.7 858.8 1600.7 859.4 1600.6 860 1600.1 860.6 1600 861.2 1600.4 861.8 1600.7 862.4 1600.5 863 1600.2 863.6 1600.3 864.2 1599.9 864.8 1599.5 865.4 1599.6 866 1599.8 866.6 1600.2 867.2 1600.1 867.8 1599.6 868.4 1599.5 869 1599.6 869.6 1599.4 870.2 1599.6 870.8 1600 871.4 1599.6 871.9 1598.9 872.5 1598.7 873.1 1599.2 873.7 1599.5 874.3 1599.2 874.9 1599 875.5 1599 876.1 1598.5 876.7 1598.1 877.3 1598.2 877.9 1598.3 878.5 1598.7 879.1 1598.8 879.7 1598.3 880.3 1598 880.9 1597.4 881.5 1596.4 882.1 1595.6 882.7 1595.3 883.3 1594.7 883.9 1594.2 884.5 1593.8 885.1 1593.1 885.7 1592.1 886.3 1590.5 886.9 1589.7 887.5 1589.4 888.1 1587.9 888.7 1585.9 889.3 1583.9 889.9 1581.3 890.5 1579.2 891.1 1577.1 891.7 1574.4 892.3 1571.6 892.9 1568.8 893.5 1566.3 894.1 1563.4 894.7 1559.9 895.3 1556.6 895.9 1553.1 896.5 1549.3 897.1 1545.8 897.7 1543 898.3 1540.2 898.9 1537.3 899.5 1535.3 900.1 1533.7 900.7 1531.8 901.3 1530.2 901.9 1529.7 902.5 1530.3 903.1 1530.9 903.7 1531.7 904.3 1533.4 904.9 1536 905.5 1538.6 906.1 1541.3 906.7 1544.1 907.3 1547.2 907.9 1550.8 908.5 1554.3 909.1 1557.3 909.7 1560.5 910.3 1563.9 910.9 1567.3 911.5 1570.9 912.1 1573.8 912.7 1575.7 913.3 1578 913.9 1580.6 914.5 1582.8 915.1 1584.5 915.7 1586.3 916.3 1588 916.9 1589.4 917.5 1590.6 918.1 1591.3 918.7 1591.8 919.3 1593 919.9 1594.2 920.5 1594.7 921.1 1594.9 921.7 1594.9 922.3 1595.3 922.9 1596 923.5 1596.7 924.1 1597.6 924.7 1598 925.3 1598 925.9 1598.4 926.5 1598.5 927.1 1598.6 927.7 1599 928.3 1599.1 928.9 1599 929.5 1599.3 930.1 1599.4 930.6 1599.4 931.2 1599.3 931.8 1599.4 932.4 1599.7 933 1599.8 933.6 1599.7 934.2 1599.4 934.8 1599.4 935.4 1599.7 936 1600 936.6 1600.2 937.2 1600.1 937.8 1600.1 938.4 1600.3 939 1600.4 939.6 1600.4 940.2 1600.2 940.8 1600.2 941.4 1600.5 942 1601.1 942.6 1601.2 943.2 1600.8 943.8 1600.4 944.4 1600.6 945 1600.5 945.6 1600.1 946.2 1600.4 946.8 1601.1 947.4 1600.7 948 1600.2 948.6 1600 949.2 1599.9 949.8 1600.2 950.4 1600.4 951 1600.5 951.6 1600.5 952.2 1600.7 952.8 1600.9 953.4 1600.8 954 1600.6 954.6 1600.4 955.2 1600.1 955.8 1600.7 956.4 1601.6 957 1601.7 957.6 1601.1 958.2 1600.7 958.8 1601.1 959.4 1601.7 960 1601.3 960.6 1601.2 961.2 1601.6 961.8 1601.8 962.4 1601.8 963 1601.6 963.6 1601.4 964.2 1601.5 964.8 1601.4 965.4 1601.1 966 1600.7" fill="none" stroke="#6cbab6" stroke-width="3.2" stroke-linejoin="round"/><path d="M842 1633.7L842.6 1633.7 843.2 1633 843.8 1632.6 844.4 1633.1 845 1633.2 845.6 1632.9 846.2 1632.8 846.8 1632.8 847.4 1633 848 1632.8 848.6 1632.5 849.2 1632.5 849.8 1632.2 850.4 1632 851 1632.6 851.6 1633.2 852.2 1633.1 852.8 1633.2 853.4 1633.5 854 1633.2 854.6 1632.7 855.2 1632.8 855.8 1633 856.4 1632.5 857 1632.4 857.6 1632.9 858.2 1632.8 858.8 1632.3 859.4 1632.4 860 1632.5 860.6 1632.3 861.2 1632.2 861.8 1632.4 862.4 1632.9 863 1632.5 863.6 1631.9 864.2 1631.5 864.8 1631 865.4 1630.7 866 1631.4 866.6 1632.2 867.2 1632 867.8 1631.9 868.4 1632.6 869 1632.3 869.6 1631.4 870.2 1631.3 870.8 1631.3 871.4 1631.5 871.9 1632.1 872.5 1632.2 873.1 1631.5 873.7 1631.2 874.3 1631 874.9 1630.4 875.5 1629.7 876.1 1629.7 876.7 1630.2 877.3 1630.3 877.9 1630.1 878.5 1630 879.1 1629.7 879.7 1629 880.3 1628 880.9 1628 881.5 1628.8 882.1 1628.5 882.7 1627.5 883.3 1627.4 883.9 1627.9 884.5 1628.2 885.1 1627.7 885.7 1626.9 886.3 1625.9 886.9 1625 887.5 1624.5 888.1 1624 888.7 1623 889.3 1622.1 889.9 1621.6 890.5 1621 891.1 1619.9 891.7 1618.6 892.3 1617.8 892.9 1616.6 893.5 1615.1 894.1 1613.7 894.7 1612.3 895.3 1610.8 895.9 1609.2 896.5 1607.8 897.1 1605.2 897.7 1602.1 898.3 1600.3 898.9 1598.9 899.5 1596.6 900.1 1593.9 900.7 1591.3 901.3 1589.1 901.9 1587.4 902.5 1585.3 903.1 1582.4 903.7 1579.6 904.3 1577.4 904.9 1575.1 905.5 1572.8 906.1 1570.7 906.7 1569.3 907.3 1567.9 907.9 1566.1 908.5 1564.6 909.1 1563.3 909.7 1562.4 910.3 1562.1 910.9 1562.1 911.5 1562.6 912.1 1563.9 912.7 1564.7 913.3 1565.5 913.9 1567.4 914.5 1569.5 915.1 1570.9 915.7 1572.8 916.3 1575.1 916.9 1577.3 917.5 1579.5 918.1 1581.4 918.7 1582.9 919.3 1585.5 919.9 1589 920.5 1591.7 921.1 1593.3 921.7 1595.2 922.3 1598 922.9 1600.5 923.5 1602.6 924.1 1605.2 924.7 1607.6 925.3 1609.3 925.9 1611.1 926.5 1612.9 927.1 1614.2 927.7 1614.8 928.3 1615.9 928.9 1618 929.5 1619.4 930.1 1620 930.6 1620.7 931.2 1621.3 931.8 1621.7 932.4 1622.3 933 1623.1 933.6 1624.3 934.2 1625.5 934.8 1626.2 935.4 1627.1 936 1627.4 936.6 1627.1 937.2 1627.9 937.8 1628.4 938.4 1628.2 939 1627.9 939.6 1627.6 940.2 1628 940.8 1628.4 941.4 1628.6 942 1629.4 942.6 1629.8 943.2 1629.5 943.8 1629.8 944.4 1630.1 945 1630 945.6 1630 946.2 1630.2 946.8 1630.8 947.4 1630.8 948 1630.5 948.6 1631.1 949.2 1631.5 949.8 1630.7 950.4 1630.6 951 1631.6 951.6 1631.9 952.2 1631.7 952.8 1631.8 953.4 1631.9 954 1631.9 954.6 1631.9 955.2 1631.9 955.8 1631.8 956.4 1631.7 957 1631.9 957.6 1632.2 958.2 1631.9 958.8 1631.6 959.4 1632.5 960 1633.4 960.6 1633.2 961.2 1632.6 961.8 1631.9 962.4 1631.5 963 1631.6 963.6 1631.8 964.2 1631.8 964.8 1631.7 965.4 1631.9 966 1632.2" fill="none" stroke="#448585" stroke-width="3.2" stroke-linejoin="round"/><path d="M842 1660.3L842.6 1660.5 843.2 1660.7 843.8 1660.1 844.4 1659.5 845 1659.9 845.6 1660.6 846.2 1661.1 846.8 1660.9 847.4 1659.7 848 1659.4 848.6 1660 849.2 1660.3 849.8 1659.9 850.4 1659.6 851 1659.4 851.6 1659.2 852.2 1659.4 852.8 1659.9 853.4 1659.6 854 1658.8 854.6 1659 855.2 1660.2 855.8 1660.6 856.4 1659.9 857 1659.7 857.6 1660.2 858.2 1660.5 858.8 1660.8 859.4 1660.7 860 1659.6 860.6 1658.8 861.2 1659.2 861.8 1659 862.4 1658.7 863 1659.7 863.6 1660.1 864.2 1659.5 864.8 1659.6 865.4 1659.8 866 1659.7 866.6 1659.4 867.2 1659 867.8 1658.8 868.4 1659 869 1659.1 869.6 1658.8 870.2 1658.2 870.8 1658.2 871.4 1658.6 871.9 1658.6 872.5 1658.5 873.1 1658.5 873.7 1658.6 874.3 1658.9 874.9 1659.2 875.5 1659.5 876.1 1658.7 876.7 1657.7 877.3 1657.9 877.9 1657.7 878.5 1657.3 879.1 1657.7 879.7 1658.1 880.3 1657.4 880.9 1656.3 881.5 1655.8 882.1 1655.9 882.7 1656.1 883.3 1656 883.9 1655.8 884.5 1655.6 885.1 1654.8 885.7 1654.5 886.3 1654.8 886.9 1654.2 887.5 1653.7 888.1 1653.6 888.7 1653.4 889.3 1653.1 889.9 1652.6 890.5 1651.7 891.1 1650.8 891.7 1650.4 892.3 1649.8 892.9 1649 893.5 1648 894.1 1646.9 894.7 1646.1 895.3 1644.6 895.9 1642.4 896.5 1641 897.1 1639.9 897.7 1638.5 898.3 1636.8 898.9 1634.8 899.5 1632.8 900.1 1630 900.7 1627.4 901.3 1625.5 901.9 1623 902.5 1621.1 903.1 1619.6 903.7 1617.3 904.3 1614.3 904.9 1611.3 905.5 1608.4 906.1 1605.6 906.7 1603.2 907.3 1601 907.9 1599.2 908.5 1597.8 909.1 1595.7 909.7 1593.8 910.3 1592.9 910.9 1592.5 911.5 1591.8 912.1 1591.4 912.7 1591.5 913.3 1591.9 913.9 1593 914.5 1593.9 915.1 1594.7 915.7 1596.1 916.3 1598.1 916.9 1600.9 917.5 1603.7 918.1 1605.7 918.7 1607.7 919.3 1609.8 919.9 1612.5 920.5 1615.5 921.1 1617.8 921.7 1620.4 922.3 1622.8 922.9 1624.5 923.5 1627.1 924.1 1630.1 924.7 1632 925.3 1633.1 925.9 1634.6 926.5 1636.6 927.1 1638.2 927.7 1639.6 928.3 1640.7 928.9 1642.3 929.5 1644.8 930.1 1646.8 930.6 1647.8 931.2 1648.1 931.8 1648.4 932.4 1649.2 933 1650.4 933.6 1651.5 934.2 1652.3 934.8 1652.6 935.4 1653.4 936 1654.1 936.6 1653.8 937.2 1653.4 937.8 1654.3 938.4 1655.6 939 1655.8 939.6 1655.4 940.2 1655.9 940.8 1656.5 941.4 1657 942 1656.9 942.6 1656.7 943.2 1657 943.8 1657.8 944.4 1658.1 945 1657.9 945.6 1657.8 946.2 1657.6 946.8 1657.4 947.4 1657.6 948 1657.6 948.6 1657.8 949.2 1658.6 949.8 1658.6 950.4 1657.8 951 1657.6 951.6 1657.9 952.2 1658.4 952.8 1658.7 953.4 1658.5 954 1658.3 954.6 1658.7 955.2 1659.3 955.8 1659.7 956.4 1659.7 957 1659.7 957.6 1660.1 958.2 1659.7 958.8 1659.2 959.4 1659.5 960 1659.8 960.6 1659.2 961.2 1658.6 961.8 1658.9 962.4 1659.4 963 1659.6 963.6 1659.4 964.2 1659.3 964.8 1659.5 965.4 1659.6 966 1659.6" fill="none" stroke="#356b70" stroke-width="3.2" stroke-linejoin="round"/><path d="M842 1691L842.6 1690.9 843.2 1691 843.8 1691 844.4 1691.7 845 1692.4 845.6 1692.1 846.2 1691.5 846.8 1690.8 847.4 1690.7 848 1691.1 848.6 1690.7 849.2 1690.6 849.8 1691 850.4 1691.1 851 1691 851.6 1691 852.2 1690.7 852.8 1690 853.4 1689.8 854 1690.2 854.6 1690.4 855.2 1690.5 855.8 1690.8 856.4 1690.9 857 1691 857.6 1691.3 858.2 1691.5 858.8 1691.4 859.4 1690.8 860 1690.8 860.6 1691.1 861.2 1691.2 861.8 1691.5 862.4 1691.4 863 1690.3 863.6 1689.6 864.2 1690.4 864.8 1691 865.4 1690.5 866 1690 866.6 1690.2 867.2 1690.8 867.8 1690.6 868.4 1689.8 869 1689.9 869.6 1689.7 870.2 1689.5 870.8 1690 871.4 1689.9 871.9 1689.5 872.5 1689.4 873.1 1689.4 873.7 1689.6 874.3 1689.9 874.9 1690.4 875.5 1690.1 876.1 1689.3 876.7 1688.9 877.3 1688.8 877.9 1689.3 878.5 1689 879.1 1688.2 879.7 1688.6 880.3 1689.2 880.9 1689 881.5 1688.3 882.1 1687.8 882.7 1688.1 883.3 1688.3 883.9 1688.1 884.5 1687.6 885.1 1687 885.7 1686.2 886.3 1685.9 886.9 1686.1 887.5 1686 888.1 1686.2 888.7 1686.1 889.3 1685 889.9 1684.3 890.5 1683.5 891.1 1682.5 891.7 1681.9 892.3 1681.5 892.9 1681 893.5 1680.3 894.1 1679.4 894.7 1677.9 895.3 1676.5 895.9 1674.7 896.5 1672.9 897.1 1671.2 897.7 1669.6 898.3 1668.6 898.9 1666.9 899.5 1663.8 900.1 1661.2 900.7 1659.4 901.3 1657.3 901.9 1654.5 902.5 1651.6 903.1 1649.1 903.7 1647.1 904.3 1644.4 904.9 1641 905.5 1638 906.1 1635.3 906.7 1633 907.3 1630.8 907.9 1627.5 908.5 1625.1 909.1 1624 909.7 1623.5 910.3 1622.9 910.9 1622.2 911.5 1622.3 912.1 1622.6 912.7 1623 913.3 1623.5 913.9 1624.5 914.5 1627 915.1 1629.5 915.7 1631.4 916.3 1633.8 916.9 1636.3 917.5 1638.3 918.1 1641.6 918.7 1644.9 919.3 1647.3 919.9 1650.3 920.5 1653.4 921.1 1655.6 921.7 1657.6 922.3 1660 922.9 1662.5 923.5 1665.4 924.1 1668 924.7 1669.9 925.3 1671.5 925.9 1672.5 926.5 1673.3 927.1 1674.9 927.7 1677.1 928.3 1678.7 928.9 1679.9 929.5 1680.7 930.1 1681.3 930.6 1681.6 931.2 1681.9 931.8 1682.9 932.4 1683.9 933 1684.6 933.6 1684.9 934.2 1685.2 934.8 1686.2 935.4 1686.9 936 1687.5 936.6 1687.8 937.2 1687.5 937.8 1687.2 938.4 1687.4 939 1688 939.6 1688.8 940.2 1689.1 940.8 1688.3 941.4 1687.7 942 1688.1 942.6 1688.7 943.2 1689.2 943.8 1689.8 944.4 1689.8 945 1689 945.6 1688.3 946.2 1688.4 946.8 1689.5 947.4 1690.3 948 1690.3 948.6 1690 949.2 1689.4 949.8 1689.3 950.4 1689.5 951 1689.4 951.6 1689.7 952.2 1690.1 952.8 1690.3 953.4 1690.5 954 1690.6 954.6 1690.3 955.2 1689.8 955.8 1689.9 956.4 1690.4 957 1690.9 957.6 1690.5 958.2 1690.1 958.8 1690.4 959.4 1690.8 960 1690.5 960.6 1689.9 961.2 1689.7 961.8 1690.2 962.4 1690.7 963 1690.7 963.6 1691.3 964.2 1691.8 964.8 1691.3 965.4 1691.6 966 1691.9" fill="none" stroke="#2b5558" stroke-width="3.2" stroke-linejoin="round"/><path d="M842 1729.2L842.6 1729.4 843.2 1729.4 843.8 1729.3 844.4 1729.5 845 1729.7 845.6 1729.4 846.2 1729.3 846.8 1729.6 847.4 1729.9 848 1729.6 848.6 1729.1 849.2 1729 849.8 1728.9 850.4 1728.9 851 1728.9 851.6 1729 852.2 1729 852.8 1728.9 853.4 1729.1 854 1729.4 854.6 1729.6 855.2 1729.7 855.8 1729.5 856.4 1729.3 857 1729.3 857.6 1729.1 858.2 1728.7 858.8 1728.7 859.4 1728.9 860 1728.9 860.6 1728.8 861.2 1728.8 861.8 1728.8 862.4 1728.6 863 1728.8 863.6 1728.9 864.2 1728.6 864.8 1728.5 865.4 1728.8 866 1728.9 866.6 1728.7 867.2 1728.4 867.8 1727.9 868.4 1727.9 869 1728.3 869.6 1728.4 870.2 1728.3 870.8 1728 871.4 1727.6 871.9 1727.7 872.5 1728 873.1 1727.9 873.7 1727.5 874.3 1727.4 874.9 1727.9 875.5 1727.9 876.1 1727.4 876.7 1727.1 877.3 1726.8 877.9 1726.8 878.5 1726.6 879.1 1726 879.7 1725.4 880.3 1725 880.9 1725 881.5 1724.9 882.1 1724.6 882.7 1724.3 883.3 1723.5 883.9 1722.6 884.5 1722.2 885.1 1721.4 885.7 1719.8 886.3 1718.4 886.9 1717.5 887.5 1716.3 888.1 1714.5 888.7 1712.3 889.3 1710 889.9 1707.8 890.5 1705.5 891.1 1703.5 891.7 1701.5 892.3 1698.8 892.9 1695.4 893.5 1692.3 894.1 1689.4 894.7 1686.2 895.3 1682.9 895.9 1679.4 896.5 1676.1 897.1 1673 897.7 1669.9 898.3 1667 898.9 1664.3 899.5 1662.1 900.1 1660.2 900.7 1658.7 901.3 1657.9 901.9 1657.7 902.5 1657.6 903.1 1658 903.7 1659.3 904.3 1661.2 904.9 1662.8 905.5 1664.8 906.1 1667.5 906.7 1670.6 907.3 1673.8 907.9 1677 908.5 1680.7 909.1 1684.3 909.7 1687.5 910.3 1690.5 910.9 1693.4 911.5 1696.6 912.1 1699.6 912.7 1702.3 913.3 1704.7 913.9 1707 914.5 1709.4 915.1 1711.3 915.7 1712.9 916.3 1714.9 916.9 1716.5 917.5 1717.9 918.1 1719.3 918.7 1720.4 919.3 1721.1 919.9 1721.8 920.5 1722.6 921.1 1723.3 921.7 1724.1 922.3 1725.1 922.9 1725.6 923.5 1725.4 924.1 1725.6 924.7 1725.8 925.3 1726 925.9 1726.5 926.5 1726.7 927.1 1726.7 927.7 1727.1 928.3 1727.2 928.9 1727.2 929.5 1727.5 930.1 1727.6 930.6 1727.4 931.2 1727.6 931.8 1727.8 932.4 1728.2 933 1728.5 933.6 1728.3 934.2 1728.2 934.8 1728.4 935.4 1728.3 936 1728.2 936.6 1728.3 937.2 1728.5 937.8 1728.8 938.4 1729.1 939 1728.9 939.6 1728.8 940.2 1729.2 940.8 1729.3 941.4 1728.8 942 1728.7 942.6 1728.9 943.2 1728.8 943.8 1728.6 944.4 1728.8 945 1729 945.6 1728.7 946.2 1728.3 946.8 1728.9 947.4 1729.3 948 1729.1 948.6 1729 949.2 1728.8 949.8 1728.8 950.4 1729.2 951 1729.2 951.6 1729 952.2 1729.5 952.8 1729.7 953.4 1729.3 954 1729.1 954.6 1729.1 955.2 1729.2 955.8 1729.7 956.4 1729.9 957 1729.6 957.6 1729.3 958.2 1729.3 958.8 1729.3 959.4 1729.2 960 1729.1 960.6 1728.9 961.2 1729 961.8 1729.5 962.4 1729.8 963 1729.7 963.6 1729.7 964.2 1729.5 964.8 1729.4 965.4 1729.7 966 1729.8" fill="none" stroke="#1a3a3c" stroke-width="3.2" stroke-linejoin="round"/></g>
<rect x="842" y="1171" width="124" height="592" fill="none" stroke="#000" stroke-width="3"/>
<line x1="842" y1="1468.8" x2="966" y2="1468.8" stroke="#000" stroke-width="3" />
<line x1="883.3" y1="1763" x2="883.3" y2="1777" stroke="#000" stroke-width="3" />
<line x1="966" y1="1763" x2="966" y2="1777" stroke="#000" stroke-width="3" />
<line x1="842" y1="1763" x2="842" y2="1770" stroke="#000" stroke-width="3" />
<line x1="924.7" y1="1763" x2="924.7" y2="1770" stroke="#000" stroke-width="3" />
<text x="879.5" y="1809.4" font-size="28.08" text-anchor="middle" textLength="28.9" lengthAdjust="spacingAndGlyphs" >18</text>
<text x="961" y="1809.4" font-size="28.08" text-anchor="middle" textLength="28.9" lengthAdjust="spacingAndGlyphs" >20</text>
<text x="850" y="1203" font-size="23.76" fill="#808080" textLength="4.9" lengthAdjust="spacingAndGlyphs" >i</text>
<text x="950" y="1229" font-size="22.0" transform="rotate(-90 950 1229)" textLength="51" lengthAdjust="spacingAndGlyphs" >(003)</text>
<g clip-path="url(#clii)"><path d="M997 1272.7L997.6 1271.5 998.2 1270.4 998.8 1271.4 999.4 1272.6 1000 1272.4 1000.6 1271.8 1001.2 1271.9 1001.8 1272.3 1002.4 1272.4 1003 1272.5 1003.6 1272.3 1004.2 1271.8 1004.8 1271.4 1005.4 1271.3 1006 1271.9 1006.6 1272 1007.2 1270.3 1007.8 1269.2 1008.4 1269.6 1009 1270 1009.6 1269.2 1010.2 1268.5 1010.8 1268.7 1011.4 1268.8 1012 1269.2 1012.6 1270.3 1013.2 1271.1 1013.8 1271.3 1014.4 1271.7 1015 1272 1015.6 1271.8 1016.2 1271.5 1016.8 1271.4 1017.4 1271.1 1018 1269.2 1018.6 1267.7 1019.2 1267.9 1019.8 1268 1020.4 1268.5 1021 1268.9 1021.6 1268.9 1022.2 1270.5 1022.8 1272 1023.4 1272 1024 1272.1 1024.6 1271.8 1025.2 1271.1 1025.8 1270.7 1026.4 1270.5 1027 1271 1027.6 1272 1028.2 1271.8 1028.8 1271.4 1029.4 1271.6 1030 1271.4 1030.6 1271.7 1031.2 1272.2 1031.8 1272 1032.4 1271.7 1033 1271.2 1033.6 1270.3 1034.2 1269.9 1034.8 1269.8 1035.4 1269.7 1036 1269.4 1036.6 1269.1 1037.2 1270.4 1037.8 1271.4 1038.4 1271.6 1039 1272.4 1039.6 1273 1040.2 1272.6 1040.8 1272 1041.4 1271.4 1042 1271.1 1042.6 1271.1 1043.2 1270.9 1043.8 1271.3 1044.4 1271.8 1045 1271.4 1045.6 1270.9 1046.2 1271.1 1046.8 1271.6 1047.4 1271.5 1048 1271.3 1048.6 1271.6 1049.2 1271.4 1049.8 1270.5 1050.4 1270.6 1051 1271 1051.6 1270.6 1052.2 1271 1052.8 1271.1 1053.4 1269.7 1054 1269.2 1054.6 1269.4 1055.2 1268.8 1055.8 1266.9 1056.4 1264.5 1057 1262.8 1057.6 1261 1058.2 1259 1058.8 1256.9 1059.4 1253.9 1060 1251.2 1060.6 1248.7 1061.2 1246.7 1061.8 1245.7 1062.4 1246 1063 1248.4 1063.6 1251.7 1064.2 1254.8 1064.8 1257.8 1065.4 1260.7 1066 1262.9 1066.6 1264.3 1067.2 1266.1 1067.8 1267.6 1068.4 1268 1069 1268.6 1069.6 1269.8 1070.2 1270.2 1070.8 1269.6 1071.4 1269.7 1072 1270.6 1072.6 1271 1073.2 1270.4 1073.8 1270.3 1074.4 1271.7 1075 1272.5 1075.6 1271.6 1076.2 1270.6 1076.8 1270.9 1077.4 1271.5 1078 1271 1078.6 1269.9 1079.2 1269.7 1079.8 1270.1 1080.4 1270.7 1081 1271.3 1081.6 1271.4 1082.2 1271.1 1082.8 1271 1083.4 1270.9 1084 1271.3 1084.6 1271.7 1085.2 1271.3 1085.8 1270.6 1086.4 1270.7 1087 1271.6 1087.6 1272.4 1088.2 1272.4 1088.8 1272.3 1089.4 1272.4 1090 1272.3 1090.6 1272.4 1091.2 1272.6 1091.8 1272.3 1092.4 1272.1 1093 1272.7 1093.6 1272.7 1094.2 1272.4 1094.8 1272.2 1095.4 1271.9 1096 1271.7 1096.6 1271.5 1097.2 1271.7 1097.8 1271.7 1098.4 1271.9 1099 1272.2 1099.6 1271.6 1100.2 1270.9 1100.8 1271.1 1101.4 1271.7 1102 1271.9 1102.6 1271.6 1103.2 1271.8 1103.8 1272.2 1104.4 1272.2 1105 1271.4 1105.6 1270.3 1106.2 1270.3 1106.8 1270.9 1107.4 1271 1108 1271.3 1108.6 1272.4 1109.2 1272.9 1109.8 1272.2 1110.4 1271.2 1111 1270.6 1111.6 1271 1112.2 1271.5 1112.8 1270.1 1113.4 1268.4 1114 1267.9 1114.6 1267 1115.2 1265.4 1115.8 1263.7 1116.4 1261 1117 1258 1117.6 1255.5 1118.2 1252.8 1118.8 1249.6 1119.4 1246.6 1120 1244.1 1120.6 1241.1 1121.2 1237.1" fill="none" stroke="#f2b28c" stroke-width="3.2" stroke-linejoin="round"/><path d="M997 1300.6L997.6 1299.8 998.2 1299.1 998.8 1299.1 999.4 1299.5 1000 1300.3 1000.6 1300.4 1001.2 1300.2 1001.8 1299.9 1002.4 1298.9 1003 1298.4 1003.6 1298.7 1004.2 1298.6 1004.8 1298.2 1005.4 1298.5 1006 1298.5 1006.6 1297.7 1007.2 1297.3 1007.8 1297.2 1008.4 1297.1 1009 1297 1009.6 1296.8 1010.2 1296.3 1010.8 1295.4 1011.4 1295.2 1012 1295.6 1012.6 1295.3 1013.2 1295.2 1013.8 1295.7 1014.4 1296 1015 1296.2 1015.6 1297 1016.2 1297.2 1016.8 1296.2 1017.4 1296.3 1018 1297.4 1018.6 1298.2 1019.2 1299.4 1019.8 1300.1 1020.4 1299.2 1021 1298.7 1021.6 1299.1 1022.2 1299.3 1022.8 1299.2 1023.4 1299.2 1024 1299.1 1024.6 1298.9 1025.2 1299.5 1025.8 1300.2 1026.4 1300.4 1027 1300.3 1027.6 1299.9 1028.2 1299.6 1028.8 1300 1029.4 1300.6 1030 1300.6 1030.6 1300.6 1031.2 1301 1031.8 1300.8 1032.4 1299.5 1033 1298.5 1033.6 1299 1034.2 1299.8 1034.8 1300 1035.4 1299.8 1036 1299.9 1036.6 1300.1 1037.2 1299.4 1037.8 1298.9 1038.4 1299.6 1039 1300.2 1039.6 1300 1040.2 1300.2 1040.8 1300.3 1041.4 1300.1 1042 1299.9 1042.6 1299.6 1043.2 1300 1043.8 1300.5 1044.4 1299.9 1045 1299.6 1045.6 1299.9 1046.2 1299.8 1046.8 1300.2 1047.4 1300.2 1048 1300 1048.6 1299.9 1049.2 1299.8 1049.8 1299.9 1050.4 1299.4 1051 1298.9 1051.6 1298.7 1052.2 1298.3 1052.8 1298.1 1053.4 1298 1054 1298.5 1054.6 1299 1055.2 1298.7 1055.8 1297.5 1056.4 1296.3 1057 1296.6 1057.6 1296.8 1058.2 1295.9 1058.8 1294.7 1059.4 1293.6 1060 1291.9 1060.6 1289.2 1061.2 1286.8 1061.8 1284.7 1062.4 1282.1 1063 1279.1 1063.6 1275.6 1064.2 1273 1064.8 1272.3 1065.4 1271.9 1066 1272.4 1066.6 1274.5 1067.2 1276.9 1067.8 1280.1 1068.4 1283.7 1069 1286.5 1069.6 1288.7 1070.2 1290.4 1070.8 1292.1 1071.4 1293.6 1072 1294.9 1072.6 1296.5 1073.2 1297.5 1073.8 1297.3 1074.4 1297.3 1075 1298.4 1075.6 1298.9 1076.2 1298.6 1076.8 1298.9 1077.4 1299.8 1078 1300.2 1078.6 1300.1 1079.2 1300.1 1079.8 1300.5 1080.4 1301.4 1081 1303 1081.6 1303.2 1082.2 1302.3 1082.8 1302.9 1083.4 1304.2 1084 1304.7 1084.6 1304.5 1085.2 1303.8 1085.8 1302.8 1086.4 1302.3 1087 1302.1 1087.6 1301.1 1088.2 1299.9 1088.8 1299.5 1089.4 1299.2 1090 1299.5 1090.6 1299.5 1091.2 1299 1091.8 1298.3 1092.4 1297.5 1093 1297.2 1093.6 1297.2 1094.2 1297.1 1094.8 1296.8 1095.4 1296.6 1096 1295.9 1096.6 1294.9 1097.2 1294.7 1097.8 1295.1 1098.4 1294.6 1099 1294.5 1099.6 1294.7 1100.2 1294.9 1100.8 1295.2 1101.4 1294.6 1102 1294 1102.6 1294.4 1103.2 1295.4 1103.8 1296.1 1104.4 1296.6 1105 1297.6 1105.6 1298.4 1106.2 1298.1 1106.8 1297.6 1107.4 1297.9 1108 1298.1 1108.6 1297.8 1109.2 1297.8 1109.8 1298 1110.4 1298.6 1111 1299.4 1111.6 1299.2 1112.2 1299.3 1112.8 1299.5 1113.4 1299.1 1114 1298.9 1114.6 1298.8 1115.2 1298.6 1115.8 1298.6 1116.4 1298.3 1117 1297.6 1117.6 1297.1 1118.2 1296.5 1118.8 1295.4 1119.4 1294.5 1120 1293.5 1120.6 1291.9 1121.2 1290" fill="none" stroke="#f4a272" stroke-width="3.2" stroke-linejoin="round"/><path d="M997 1330.6L997.6 1330.9 998.2 1331.7 998.8 1331.7 999.4 1331.4 1000 1332 1000.6 1331.7 1001.2 1330.6 1001.8 1330.3 1002.4 1330.6 1003 1330.3 1003.6 1329.6 1004.2 1329.8 1004.8 1330.5 1005.4 1331 1006 1331.9 1006.6 1332.2 1007.2 1331.5 1007.8 1331.4 1008.4 1331.5 1009 1331.9 1009.6 1331.3 1010.2 1330.1 1010.8 1330.1 1011.4 1330.7 1012 1331.3 1012.6 1331.2 1013.2 1330.3 1013.8 1331.1 1014.4 1332.2 1015 1331.2 1015.6 1330.4 1016.2 1330.4 1016.8 1330.4 1017.4 1331 1018 1331.4 1018.6 1331.6 1019.2 1332.1 1019.8 1332 1020.4 1331.2 1021 1330.5 1021.6 1330.3 1022.2 1331 1022.8 1331.3 1023.4 1331 1024 1330.7 1024.6 1330.9 1025.2 1331.2 1025.8 1331 1026.4 1330.7 1027 1330.6 1027.6 1330.8 1028.2 1330.9 1028.8 1330.4 1029.4 1330.1 1030 1330 1030.6 1330.2 1031.2 1330.2 1031.8 1330 1032.4 1330.2 1033 1330.4 1033.6 1329.8 1034.2 1329.7 1034.8 1329.9 1035.4 1329.6 1036 1328.8 1036.6 1328 1037.2 1328.3 1037.8 1329 1038.4 1328.3 1039 1327.3 1039.6 1326.8 1040.2 1326.2 1040.8 1326.3 1041.4 1327.2 1042 1327.4 1042.6 1327.7 1043.2 1328.8 1043.8 1328.9 1044.4 1328.2 1045 1327.9 1045.6 1328.5 1046.2 1329.6 1046.8 1329.8 1047.4 1329.1 1048 1328.8 1048.6 1329.6 1049.2 1330.5 1049.8 1330.6 1050.4 1330.6 1051 1331 1051.6 1331.2 1052.2 1330.8 1052.8 1329.9 1053.4 1329.9 1054 1330.5 1054.6 1330.6 1055.2 1330.7 1055.8 1330.8 1056.4 1330.6 1057 1330.1 1057.6 1329.4 1058.2 1328.7 1058.8 1328.6 1059.4 1329.1 1060 1329.7 1060.6 1329.3 1061.2 1328.3 1061.8 1327.5 1062.4 1327.5 1063 1327.4 1063.6 1326 1064.2 1323.6 1064.8 1321 1065.4 1318.1 1066 1314.5 1066.6 1310.6 1067.2 1306.8 1067.8 1303.1 1068.4 1300.7 1069 1301.5 1069.6 1304.8 1070.2 1308.2 1070.8 1312 1071.4 1316.4 1072 1320.1 1072.6 1322.9 1073.2 1324.8 1073.8 1325.4 1074.4 1326 1075 1327.4 1075.6 1328.6 1076.2 1329 1076.8 1329.2 1077.4 1329.6 1078 1329.7 1078.6 1329.4 1079.2 1329.4 1079.8 1329.7 1080.4 1329.8 1081 1329.7 1081.6 1329.6 1082.2 1329.7 1082.8 1329.9 1083.4 1330.1 1084 1330.4 1084.6 1330.4 1085.2 1330.4 1085.8 1330.3 1086.4 1330.1 1087 1330.1 1087.6 1329.9 1088.2 1330.5 1088.8 1331.1 1089.4 1330.8 1090 1330.1 1090.6 1329.7 1091.2 1329.2 1091.8 1328.5 1092.4 1328 1093 1327.7 1093.6 1327.2 1094.2 1327 1094.8 1327.2 1095.4 1327.9 1096 1328.5 1096.6 1328.3 1097.2 1328.6 1097.8 1329.4 1098.4 1329.4 1099 1329.4 1099.6 1330.1 1100.2 1330.9 1100.8 1330.8 1101.4 1330.1 1102 1330.1 1102.6 1330.6 1103.2 1330.9 1103.8 1331.1 1104.4 1330.9 1105 1330.4 1105.6 1330 1106.2 1330.7 1106.8 1331.8 1107.4 1332 1108 1331.2 1108.6 1330.4 1109.2 1330.6 1109.8 1330.8 1110.4 1330.1 1111 1330.1 1111.6 1330.4 1112.2 1330.2 1112.8 1330.6 1113.4 1331.2 1114 1331.6 1114.6 1331.2 1115.2 1330.7 1115.8 1330.8 1116.4 1330.6 1117 1329.8 1117.6 1328.9 1118.2 1327.8 1118.8 1326.9 1119.4 1326.8 1120 1326.3 1120.6 1325.2 1121.2 1324.3" fill="none" stroke="#f59450" stroke-width="3.2" stroke-linejoin="round"/><path d="M997 1359.3L997.6 1359.7 998.2 1360.4 998.8 1360 999.4 1358.7 1000 1357.8 1000.6 1357.9 1001.2 1357.9 1001.8 1357.5 1002.4 1357.6 1003 1357.5 1003.6 1357.5 1004.2 1358.4 1004.8 1359.4 1005.4 1360 1006 1360.5 1006.6 1360.1 1007.2 1359.6 1007.8 1360.2 1008.4 1361.8 1009 1363.6 1009.6 1363.9 1010.2 1363.4 1010.8 1362.4 1011.4 1361.8 1012 1361.4 1012.6 1360.4 1013.2 1359.6 1013.8 1358.7 1014.4 1357.2 1015 1356.3 1015.6 1356.3 1016.2 1356.2 1016.8 1355.3 1017.4 1354.7 1018 1355.1 1018.6 1355.4 1019.2 1355.4 1019.8 1354.6 1020.4 1354.1 1021 1355 1021.6 1355.3 1022.2 1354.2 1022.8 1352.9 1023.4 1352.8 1024 1353.2 1024.6 1352.6 1025.2 1353.1 1025.8 1353.6 1026.4 1351.8 1027 1350.6 1027.6 1351.5 1028.2 1352.5 1028.8 1352.1 1029.4 1351.2 1030 1350.7 1030.6 1350.3 1031.2 1351.3 1031.8 1352.8 1032.4 1352.8 1033 1351.9 1033.6 1351.7 1034.2 1352 1034.8 1352.2 1035.4 1352.6 1036 1352.8 1036.6 1352.6 1037.2 1353.3 1037.8 1353.9 1038.4 1354 1039 1355.2 1039.6 1355.8 1040.2 1355.4 1040.8 1355.6 1041.4 1355.3 1042 1355.1 1042.6 1356.5 1043.2 1356.9 1043.8 1356.1 1044.4 1356 1045 1356.7 1045.6 1357.4 1046.2 1357.5 1046.8 1357.7 1047.4 1357.2 1048 1356.5 1048.6 1357.2 1049.2 1357.7 1049.8 1358.4 1050.4 1359.1 1051 1358.4 1051.6 1357.6 1052.2 1357.4 1052.8 1357.6 1053.4 1358.5 1054 1357.9 1054.6 1356 1055.2 1356 1055.8 1357.2 1056.4 1357.9 1057 1358 1057.6 1358.4 1058.2 1357.9 1058.8 1356.4 1059.4 1356 1060 1355.7 1060.6 1354.6 1061.2 1353.5 1061.8 1352.6 1062.4 1351.7 1063 1350.1 1063.6 1348.3 1064.2 1345.6 1064.8 1341.8 1065.4 1337.9 1066 1335 1066.6 1334.1 1067.2 1334.3 1067.8 1335.4 1068.4 1338 1069 1341.6 1069.6 1345.5 1070.2 1349.1 1070.8 1350.7 1071.4 1351.3 1072 1352.3 1072.6 1353.4 1073.2 1355 1073.8 1356.5 1074.4 1356.9 1075 1357 1075.6 1357.6 1076.2 1358.3 1076.8 1358 1077.4 1356.8 1078 1355.9 1078.6 1356.3 1079.2 1357.6 1079.8 1358 1080.4 1357.1 1081 1356.4 1081.6 1355.5 1082.2 1355.4 1082.8 1356 1083.4 1355.7 1084 1355.4 1084.6 1354.4 1085.2 1353.5 1085.8 1353.9 1086.4 1352.7 1087 1351.6 1087.6 1353.2 1088.2 1353.5 1088.8 1351.2 1089.4 1349.5 1090 1348.1 1090.6 1346.9 1091.2 1345.7 1091.8 1344.1 1092.4 1343.9 1093 1344.9 1093.6 1344.5 1094.2 1344 1094.8 1344.3 1095.4 1344.4 1096 1344.8 1096.6 1345.6 1097.2 1346 1097.8 1347.1 1098.4 1349.2 1099 1350.7 1099.6 1352.5 1100.2 1354 1100.8 1354.6 1101.4 1354.7 1102 1354.8 1102.6 1355.3 1103.2 1356 1103.8 1356.8 1104.4 1357.4 1105 1357.9 1105.6 1358.8 1106.2 1359.3 1106.8 1359.9 1107.4 1360.7 1108 1361.1 1108.6 1361.5 1109.2 1361.9 1109.8 1362.9 1110.4 1363.5 1111 1362.7 1111.6 1362 1112.2 1361.6 1112.8 1360.5 1113.4 1360 1114 1360.5 1114.6 1360.2 1115.2 1359 1115.8 1357.8 1116.4 1356.8 1117 1355.3 1117.6 1355.1 1118.2 1355.9 1118.8 1355.5 1119.4 1354.7 1120 1354.4 1120.6 1353.5 1121.2 1352.3" fill="none" stroke="#f67c28" stroke-width="3.2" stroke-linejoin="round"/><path d="M997 1397L997.6 1397.9 998.2 1398.1 998.8 1397.3 999.4 1396.6 1000 1396.3 1000.6 1396.4 1001.2 1396.1 1001.8 1395.5 1002.4 1394.9 1003 1393.7 1003.6 1391.7 1004.2 1389.7 1004.8 1388.4 1005.4 1386.4 1006 1384.1 1006.6 1383 1007.2 1383.2 1007.8 1383.3 1008.4 1383.9 1009 1386.3 1009.6 1388.8 1010.2 1390.7 1010.8 1392.6 1011.4 1393.3 1012 1393.1 1012.6 1393.8 1013.2 1394.9 1013.8 1395.6 1014.4 1395.9 1015 1395.6 1015.6 1395.5 1016.2 1396.1 1016.8 1396.7 1017.4 1396.3 1018 1396 1018.6 1396.6 1019.2 1397.3 1019.8 1396.5 1020.4 1395.7 1021 1396.5 1021.6 1396.8 1022.2 1396 1022.8 1395.5 1023.4 1394.9 1024 1394.4 1024.6 1394.9 1025.2 1395 1025.8 1394.9 1026.4 1395.1 1027 1394.6 1027.6 1393.6 1028.2 1393.3 1028.8 1393.4 1029.4 1393.2 1030 1393.1 1030.6 1393.4 1031.2 1393.7 1031.8 1394.2 1032.4 1394.4 1033 1394.1 1033.6 1394.1 1034.2 1394.5 1034.8 1395.2 1035.4 1395.7 1036 1395.9 1036.6 1396.6 1037.2 1397 1037.8 1396.8 1038.4 1396.4 1039 1396.4 1039.6 1396.7 1040.2 1396.4 1040.8 1395.7 1041.4 1395.9 1042 1396.5 1042.6 1396.7 1043.2 1396.9 1043.8 1397.3 1044.4 1397.3 1045 1396.8 1045.6 1396.6 1046.2 1397.2 1046.8 1397.4 1047.4 1396.8 1048 1396.9 1048.6 1397 1049.2 1396.4 1049.8 1396.3 1050.4 1396.6 1051 1396.7 1051.6 1396.9 1052.2 1396.7 1052.8 1396.1 1053.4 1396.2 1054 1396.7 1054.6 1396.8 1055.2 1396.3 1055.8 1396 1056.4 1396.2 1057 1396.5 1057.6 1396.6 1058.2 1396.2 1058.8 1396.2 1059.4 1396.7 1060 1396.5 1060.6 1395.2 1061.2 1394.5 1061.8 1393.6 1062.4 1391.9 1063 1391.2 1063.6 1390.4 1064.2 1388.5 1064.8 1386.5 1065.4 1384.7 1066 1382.8 1066.6 1381.5 1067.2 1381.8 1067.8 1381.9 1068.4 1382.2 1069 1383 1069.6 1384.2 1070.2 1386.7 1070.8 1389.2 1071.4 1390.4 1072 1391 1072.6 1391.6 1073.2 1392.3 1073.8 1392.9 1074.4 1393.9 1075 1395.1 1075.6 1395.4 1076.2 1395.3 1076.8 1396.1 1077.4 1397.1 1078 1397 1078.6 1396.8 1079.2 1396.7 1079.8 1396.3 1080.4 1395.9 1081 1396.4 1081.6 1397.3 1082.2 1396.8 1082.8 1396 1083.4 1396.7 1084 1397 1084.6 1396 1085.2 1395.2 1085.8 1395.6 1086.4 1396.4 1087 1397 1087.6 1396.9 1088.2 1395.9 1088.8 1395.2 1089.4 1395 1090 1394.9 1090.6 1394.5 1091.2 1393.2 1091.8 1391.9 1092.4 1391.5 1093 1391.6 1093.6 1392.4 1094.2 1393.2 1094.8 1393.8 1095.4 1394.7 1096 1395.2 1096.6 1394.8 1097.2 1395.4 1097.8 1396.8 1098.4 1397.4 1099 1397.6 1099.6 1397 1100.2 1396.5 1100.8 1396.7 1101.4 1396.6 1102 1396.5 1102.6 1397.2 1103.2 1397.7 1103.8 1397.7 1104.4 1397.8 1105 1397.3 1105.6 1397.1 1106.2 1398 1106.8 1398.1 1107.4 1397.3 1108 1397 1108.6 1397.5 1109.2 1397.7 1109.8 1397.2 1110.4 1397.7 1111 1399 1111.6 1399.1 1112.2 1398.3 1112.8 1397.7 1113.4 1397.4 1114 1397 1114.6 1396.8 1115.2 1397.1 1115.8 1397.4 1116.4 1397.6 1117 1397.2 1117.6 1396 1118.2 1395.1 1118.8 1395.4 1119.4 1394.9 1120 1393.6 1120.6 1393.6 1121.2 1393.9" fill="none" stroke="#f06c14" stroke-width="3.2" stroke-linejoin="round"/><path d="M997 1434.5L997.6 1434.6 998.2 1434.8 998.8 1434.6 999.4 1434.1 1000 1433.7 1000.6 1433.2 1001.2 1433.2 1001.8 1434 1002.4 1434.5 1003 1433.9 1003.6 1433.5 1004.2 1433.8 1004.8 1434.3 1005.4 1434.8 1006 1434.9 1006.6 1434.3 1007.2 1434.1 1007.8 1433.9 1008.4 1433.7 1009 1433.9 1009.6 1433.6 1010.2 1433.3 1010.8 1433.2 1011.4 1432.9 1012 1433 1012.6 1433.1 1013.2 1432.5 1013.8 1431.8 1014.4 1431.9 1015 1432.2 1015.6 1431.5 1016.2 1431 1016.8 1431.3 1017.4 1431.1 1018 1430.2 1018.6 1429.5 1019.2 1428.7 1019.8 1428.1 1020.4 1428.5 1021 1429.2 1021.6 1429.2 1022.2 1429.2 1022.8 1429.4 1023.4 1429.8 1024 1430.1 1024.6 1430.2 1025.2 1430.5 1025.8 1430.7 1026.4 1430.5 1027 1430.8 1027.6 1431.2 1028.2 1431.6 1028.8 1432.3 1029.4 1432.1 1030 1431.7 1030.6 1431.6 1031.2 1432.1 1031.8 1433 1032.4 1433.5 1033 1433.9 1033.6 1434.5 1034.2 1434.1 1034.8 1433.6 1035.4 1434 1036 1434 1036.6 1433.6 1037.2 1434 1037.8 1435.1 1038.4 1435.7 1039 1436.5 1039.6 1438.8 1040.2 1441.7 1040.8 1442.9 1041.4 1440.9 1042 1437.8 1042.6 1435.8 1043.2 1435 1043.8 1434.7 1044.4 1434.7 1045 1434.6 1045.6 1434 1046.2 1433.7 1046.8 1434.1 1047.4 1434.5 1048 1434.6 1048.6 1434.1 1049.2 1433.9 1049.8 1434.4 1050.4 1434.6 1051 1433.8 1051.6 1433.4 1052.2 1434.1 1052.8 1434.4 1053.4 1433.9 1054 1433.3 1054.6 1433.2 1055.2 1433.2 1055.8 1432.9 1056.4 1432.9 1057 1433.3 1057.6 1433.4 1058.2 1432.9 1058.8 1432.1 1059.4 1431.7 1060 1431 1060.6 1429.1 1061.2 1426.5 1061.8 1424.6 1062.4 1422.4 1063 1419.4 1063.6 1415.8 1064.2 1412.5 1064.8 1410.5 1065.4 1409.7 1066 1410.6 1066.6 1413.4 1067.2 1416.7 1067.8 1419.8 1068.4 1422.6 1069 1425 1069.6 1427 1070.2 1428.9 1070.8 1430.8 1071.4 1432.1 1072 1432.7 1072.6 1432.7 1073.2 1432.3 1073.8 1432.5 1074.4 1433.2 1075 1433.3 1075.6 1432.9 1076.2 1433 1076.8 1433 1077.4 1432.2 1078 1432 1078.6 1433.1 1079.2 1433.9 1079.8 1433.9 1080.4 1433.7 1081 1433.9 1081.6 1434.6 1082.2 1434.9 1082.8 1434.5 1083.4 1434.2 1084 1434.3 1084.6 1434.4 1085.2 1434.3 1085.8 1433.8 1086.4 1433.3 1087 1433.6 1087.6 1433.9 1088.2 1433.9 1088.8 1434.2 1089.4 1434.4 1090 1434.1 1090.6 1433.9 1091.2 1434.1 1091.8 1434.7 1092.4 1435.1 1093 1434.3 1093.6 1433.5 1094.2 1433.8 1094.8 1433.9 1095.4 1433.6 1096 1433.7 1096.6 1433.8 1097.2 1433.3 1097.8 1433.3 1098.4 1434.1 1099 1434.3 1099.6 1434.2 1100.2 1433.9 1100.8 1433.6 1101.4 1433.8 1102 1434.1 1102.6 1434.2 1103.2 1434.2 1103.8 1434 1104.4 1434.1 1105 1434.6 1105.6 1435.2 1106.2 1435.1 1106.8 1434.1 1107.4 1433.8 1108 1434.3 1108.6 1434.8 1109.2 1435.3 1109.8 1435.3 1110.4 1434.7 1111 1434.3 1111.6 1434.1 1112.2 1434.1 1112.8 1434.7 1113.4 1434.9 1114 1434.9 1114.6 1435.1 1115.2 1434.3 1115.8 1433 1116.4 1432.7 1117 1432.5 1117.6 1432 1118.2 1431.5 1118.8 1430.4 1119.4 1429 1120 1428 1120.6 1427.2 1121.2 1426.4" fill="none" stroke="#e05a10" stroke-width="3.2" stroke-linejoin="round"/><path d="M997 1558.9L997.6 1558.5 998.2 1558.6 998.8 1558.6 999.4 1558.6 1000 1558.9 1000.6 1559 1001.2 1559 1001.8 1559.4 1002.4 1560.1 1003 1560.2 1003.6 1559.9 1004.2 1559.5 1004.8 1559.2 1005.4 1559 1006 1558.7 1006.6 1558.4 1007.2 1558.4 1007.8 1558.8 1008.4 1558.9 1009 1558.6 1009.6 1559 1010.2 1559.7 1010.8 1559.9 1011.4 1559.8 1012 1560 1012.6 1559.8 1013.2 1559.2 1013.8 1559.3 1014.4 1559.2 1015 1558.8 1015.6 1558.9 1016.2 1559 1016.8 1558.7 1017.4 1558.8 1018 1559 1018.6 1559.2 1019.2 1559.4 1019.8 1559.5 1020.4 1559.5 1021 1559.2 1021.6 1558.7 1022.2 1558.5 1022.8 1558.7 1023.4 1558.8 1024 1558.6 1024.6 1558.9 1025.2 1559.3 1025.8 1559.5 1026.4 1559.5 1027 1559.2 1027.6 1558.6 1028.2 1558.3 1028.8 1558.5 1029.4 1559.1 1030 1559.7 1030.6 1559.8 1031.2 1559.8 1031.8 1559.7 1032.4 1558.9 1033 1558 1033.6 1558.3 1034.2 1558.9 1034.8 1558.8 1035.4 1558.5 1036 1558.2 1036.6 1558.4 1037.2 1558.6 1037.8 1558.7 1038.4 1559 1039 1559.3 1039.6 1559.3 1040.2 1559.2 1040.8 1559.3 1041.4 1559.6 1042 1559.4 1042.6 1558.9 1043.2 1558.8 1043.8 1558.9 1044.4 1559.1 1045 1559.5 1045.6 1559.7 1046.2 1559.1 1046.8 1559.1 1047.4 1559.5 1048 1559.1 1048.6 1558.9 1049.2 1559 1049.8 1558.4 1050.4 1558.8 1051 1559.5 1051.6 1559.7 1052.2 1559.7 1052.8 1559.5 1053.4 1558.8 1054 1558.6 1054.6 1559.3 1055.2 1559.5 1055.8 1559.2 1056.4 1558.6 1057 1558.3 1057.6 1558.5 1058.2 1558.2 1058.8 1557.8 1059.4 1556.8 1060 1555 1060.6 1553.3 1061.2 1553.2 1061.8 1555 1062.4 1557.2 1063 1558.9 1063.6 1559.1 1064.2 1558.9 1064.8 1559.2 1065.4 1559.3 1066 1559.2 1066.6 1559.5 1067.2 1559.8 1067.8 1559.4 1068.4 1558.9 1069 1559.3 1069.6 1559.6 1070.2 1559.3 1070.8 1559.2 1071.4 1559.2 1072 1558.9 1072.6 1558.3 1073.2 1558 1073.8 1558.1 1074.4 1558.2 1075 1558.2 1075.6 1558.1 1076.2 1558.3 1076.8 1558.8 1077.4 1558.7 1078 1558.2 1078.6 1557.9 1079.2 1557.7 1079.8 1557.9 1080.4 1558.6 1081 1558.7 1081.6 1558.3 1082.2 1557.7 1082.8 1557 1083.4 1556.6 1084 1556.4 1084.6 1555.7 1085.2 1555.4 1085.8 1555.7 1086.4 1556.4 1087 1557.5 1087.6 1557.9 1088.2 1557.4 1088.8 1557.5 1089.4 1557.9 1090 1558 1090.6 1557.8 1091.2 1558.1 1091.8 1558.7 1092.4 1558.8 1093 1558.8 1093.6 1558.7 1094.2 1558.6 1094.8 1558.7 1095.4 1559.1 1096 1559.6 1096.6 1558.9 1097.2 1558.3 1097.8 1558.5 1098.4 1558.6 1099 1559 1099.6 1559 1100.2 1558.7 1100.8 1559.2 1101.4 1559.5 1102 1559.3 1102.6 1558.8 1103.2 1558.5 1103.8 1558.7 1104.4 1559.3 1105 1559.7 1105.6 1559.7 1106.2 1559.6 1106.8 1559.5 1107.4 1558.8 1108 1558.4 1108.6 1559 1109.2 1559.3 1109.8 1559.1 1110.4 1559.4 1111 1559.4 1111.6 1559.1 1112.2 1559.4 1112.8 1559.7 1113.4 1559.3 1114 1558.9 1114.6 1558.7 1115.2 1558.7 1115.8 1558.9 1116.4 1558.6 1117 1558.3 1117.6 1558.3 1118.2 1558.6 1118.8 1559.4 1119.4 1559.6 1120 1558.7 1120.6 1558.1 1121.2 1558.4" fill="none" stroke="#4e9ea0" stroke-width="3.2" stroke-linejoin="round"/><path d="M997 1599.4L997.6 1598.7 998.2 1599 998.8 1599.7 999.4 1599.6 1000 1599.6 1000.6 1599.6 1001.2 1599.2 1001.8 1599.3 1002.4 1600 1003 1600.6 1003.6 1600.1 1004.2 1599.9 1004.8 1600.9 1005.4 1601 1006 1599.8 1006.6 1598.3 1007.2 1597.9 1007.8 1598.6 1008.4 1598.1 1009 1597 1009.6 1596.7 1010.2 1596.7 1010.8 1597.5 1011.4 1598 1012 1596.9 1012.6 1596.7 1013.2 1597.9 1013.8 1598.8 1014.4 1599 1015 1599.1 1015.6 1599.2 1016.2 1598.8 1016.8 1598.9 1017.4 1599.2 1018 1598.5 1018.6 1597.2 1019.2 1596.5 1019.8 1597.1 1020.4 1597.1 1021 1596.5 1021.6 1596.8 1022.2 1597.1 1022.8 1597.9 1023.4 1599.2 1024 1599.8 1024.6 1600.1 1025.2 1599.9 1025.8 1599.6 1026.4 1599.3 1027 1599.4 1027.6 1599.8 1028.2 1599.7 1028.8 1600 1029.4 1599.9 1030 1599.6 1030.6 1599.6 1031.2 1600.2 1031.8 1600.9 1032.4 1600.4 1033 1599.8 1033.6 1599.9 1034.2 1599.7 1034.8 1599.9 1035.4 1600.6 1036 1600.8 1036.6 1600.8 1037.2 1600.4 1037.8 1599.1 1038.4 1598.8 1039 1600.1 1039.6 1600.4 1040.2 1599.4 1040.8 1599.4 1041.4 1600.4 1042 1600.7 1042.6 1600.2 1043.2 1600 1043.8 1599.8 1044.4 1600.1 1045 1600.9 1045.6 1600.4 1046.2 1599.1 1046.8 1599.3 1047.4 1600.2 1048 1600.7 1048.6 1600.3 1049.2 1600.2 1049.8 1600.9 1050.4 1601.1 1051 1600.3 1051.6 1600.2 1052.2 1600.2 1052.8 1599.8 1053.4 1599.9 1054 1600.3 1054.6 1600.6 1055.2 1600.7 1055.8 1600.3 1056.4 1599.8 1057 1599.7 1057.6 1599.8 1058.2 1600.1 1058.8 1600.5 1059.4 1600.3 1060 1600.5 1060.6 1600.8 1061.2 1600.6 1061.8 1600 1062.4 1599.4 1063 1599.6 1063.6 1600.8 1064.2 1600.8 1064.8 1600.1 1065.4 1599.8 1066 1599.4 1066.6 1599.3 1067.2 1600 1067.8 1600 1068.4 1599.5 1069 1599.8 1069.6 1600 1070.2 1599.5 1070.8 1599.3 1071.4 1599.4 1072 1599.7 1072.6 1599.8 1073.2 1600 1073.8 1600.1 1074.4 1599.5 1075 1599 1075.6 1599.2 1076.2 1599.6 1076.8 1600.3 1077.4 1601 1078 1600.3 1078.6 1599.3 1079.2 1599.9 1079.8 1600.4 1080.4 1599.9 1081 1599.3 1081.6 1599.7 1082.2 1600.5 1082.8 1600.2 1083.4 1599.5 1084 1599.9 1084.6 1600.9 1085.2 1601.5 1085.8 1601 1086.4 1600.3 1087 1600.7 1087.6 1601 1088.2 1600.5 1088.8 1600.3 1089.4 1600.9 1090 1601 1090.6 1599.6 1091.2 1598.9 1091.8 1599.2 1092.4 1599.5 1093 1600.4 1093.6 1600.2 1094.2 1599.1 1094.8 1599.5 1095.4 1600 1096 1600.5 1096.6 1600.8 1097.2 1600.3 1097.8 1599.6 1098.4 1598.6 1099 1598.2 1099.6 1598.7 1100.2 1599.3 1100.8 1600.1 1101.4 1600.7 1102 1600.8 1102.6 1600.5 1103.2 1600 1103.8 1600.4 1104.4 1600.6 1105 1599.6 1105.6 1599.1 1106.2 1599.4 1106.8 1599.8 1107.4 1600.1 1108 1600.1 1108.6 1599.9 1109.2 1599.7 1109.8 1599.8 1110.4 1600 1111 1600.2 1111.6 1600.4 1112.2 1600.5 1112.8 1600.6 1113.4 1600.8 1114 1600.8 1114.6 1600.4 1115.2 1599.7 1115.8 1598.7 1116.4 1598.6 1117 1599.4 1117.6 1600.1 1118.2 1600.5 1118.8 1601.1 1119.4 1601.4 1120 1601.3 1120.6 1601.3 1121.2 1600.7" fill="none" stroke="#6cbab6" stroke-width="3.2" stroke-linejoin="round"/><path d="M997 1635.8L997.6 1635.3 998.2 1635.1 998.8 1635.8 999.4 1635.7 1000 1635.3 1000.6 1636.3 1001.2 1638 1001.8 1640 1002.4 1641 1003 1641.7 1003.6 1642.6 1004.2 1641.7 1004.8 1639.6 1005.4 1637.4 1006 1636 1006.6 1635.2 1007.2 1634.3 1007.8 1634.2 1008.4 1633.7 1009 1632.5 1009.6 1631 1010.2 1630.3 1010.8 1631.8 1011.4 1632.7 1012 1633 1012.6 1633.8 1013.2 1634.1 1013.8 1633.7 1014.4 1634.3 1015 1636.1 1015.6 1636.4 1016.2 1635.6 1016.8 1636 1017.4 1636.8 1018 1636.7 1018.6 1635.7 1019.2 1635.7 1019.8 1636.1 1020.4 1634.8 1021 1633.4 1021.6 1633.9 1022.2 1634.7 1022.8 1635.4 1023.4 1635 1024 1634.5 1024.6 1635.3 1025.2 1636.8 1025.8 1638.7 1026.4 1637.8 1027 1635.4 1027.6 1635.4 1028.2 1636.5 1028.8 1636.6 1029.4 1635.6 1030 1635.6 1030.6 1636.4 1031.2 1635.9 1031.8 1634.2 1032.4 1633.3 1033 1634.2 1033.6 1635.6 1034.2 1636.5 1034.8 1636.9 1035.4 1636.5 1036 1635.5 1036.6 1636.1 1037.2 1637.9 1037.8 1637.8 1038.4 1636.2 1039 1635 1039.6 1634.4 1040.2 1634.7 1040.8 1635.2 1041.4 1635.5 1042 1635.9 1042.6 1636.2 1043.2 1636.3 1043.8 1636 1044.4 1635.3 1045 1635.2 1045.6 1635.1 1046.2 1635.2 1046.8 1635.2 1047.4 1634.7 1048 1635.4 1048.6 1635.9 1049.2 1635.7 1049.8 1635 1050.4 1634.2 1051 1634.7 1051.6 1635 1052.2 1634.1 1052.8 1633.9 1053.4 1634.4 1054 1635.3 1054.6 1636 1055.2 1636 1055.8 1635.6 1056.4 1635.1 1057 1635 1057.6 1635.4 1058.2 1635.8 1058.8 1636.6 1059.4 1637.1 1060 1635.9 1060.6 1634.4 1061.2 1634 1061.8 1635.4 1062.4 1636.8 1063 1636.1 1063.6 1635.3 1064.2 1635.7 1064.8 1635.3 1065.4 1634.7 1066 1635.4 1066.6 1635.9 1067.2 1635.9 1067.8 1636.4 1068.4 1637.5 1069 1637.9 1069.6 1637.2 1070.2 1637.1 1070.8 1637.5 1071.4 1637.3 1072 1636.6 1072.6 1636.8 1073.2 1636.8 1073.8 1636.1 1074.4 1636.4 1075 1636.7 1075.6 1636.4 1076.2 1635.4 1076.8 1635.1 1077.4 1635.8 1078 1636.8 1078.6 1637.3 1079.2 1637.1 1079.8 1636.1 1080.4 1635 1081 1634.9 1081.6 1636 1082.2 1637.1 1082.8 1637.3 1083.4 1637.4 1084 1637.4 1084.6 1636.5 1085.2 1635.7 1085.8 1635.7 1086.4 1636.3 1087 1637.2 1087.6 1637.8 1088.2 1637.2 1088.8 1636.2 1089.4 1635.7 1090 1634.7 1090.6 1634.1 1091.2 1635 1091.8 1636.3 1092.4 1636.2 1093 1636.1 1093.6 1636.8 1094.2 1636 1094.8 1635.1 1095.4 1636.2 1096 1636.6 1096.6 1634.6 1097.2 1633.1 1097.8 1632.1 1098.4 1630.5 1099 1630.2 1099.6 1631.7 1100.2 1632.7 1100.8 1633.2 1101.4 1634.2 1102 1635.6 1102.6 1636 1103.2 1635.2 1103.8 1634.7 1104.4 1634.7 1105 1635.1 1105.6 1635.4 1106.2 1634.6 1106.8 1634.5 1107.4 1635.7 1108 1636.6 1108.6 1636.5 1109.2 1635.7 1109.8 1636.4 1110.4 1636.9 1111 1635.8 1111.6 1635.6 1112.2 1636.3 1112.8 1636.4 1113.4 1635.6 1114 1634.8 1114.6 1634.4 1115.2 1634.8 1115.8 1635.5 1116.4 1636 1117 1636.6 1117.6 1637.2 1118.2 1636.9 1118.8 1635.3 1119.4 1634.7 1120 1634.8 1120.6 1634.8 1121.2 1635.5" fill="none" stroke="#448585" stroke-width="3.2" stroke-linejoin="round"/><path d="M997 1668.1L997.6 1668.4 998.2 1669.5 998.8 1669.8 999.4 1669.3 1000 1669.2 1000.6 1669.6 1001.2 1669.7 1001.8 1669.3 1002.4 1668.9 1003 1668.5 1003.6 1668.4 1004.2 1668.5 1004.8 1669 1005.4 1668.8 1006 1667.9 1006.6 1668.7 1007.2 1670 1007.8 1669.7 1008.4 1668.1 1009 1667.3 1009.6 1667.4 1010.2 1667.2 1010.8 1667.2 1011.4 1668.5 1012 1669.3 1012.6 1668.7 1013.2 1668.2 1013.8 1668.1 1014.4 1668.4 1015 1668.8 1015.6 1669.1 1016.2 1669.6 1016.8 1669.4 1017.4 1668.9 1018 1668.6 1018.6 1668.1 1019.2 1668.4 1019.8 1668.7 1020.4 1668.5 1021 1668.2 1021.6 1667.5 1022.2 1667.6 1022.8 1668.6 1023.4 1668.7 1024 1668.1 1024.6 1668.1 1025.2 1668.5 1025.8 1669.1 1026.4 1669.4 1027 1668.1 1027.6 1667 1028.2 1667.8 1028.8 1668.8 1029.4 1668.8 1030 1667.8 1030.6 1667.2 1031.2 1668 1031.8 1667.4 1032.4 1666 1033 1665.2 1033.6 1665.2 1034.2 1666.1 1034.8 1665.8 1035.4 1665.3 1036 1665.3 1036.6 1664.8 1037.2 1664.9 1037.8 1665.9 1038.4 1666.5 1039 1666.6 1039.6 1666.1 1040.2 1665.2 1040.8 1664.1 1041.4 1663.5 1042 1664.2 1042.6 1665.4 1043.2 1665.2 1043.8 1664.7 1044.4 1665.2 1045 1665.4 1045.6 1665.5 1046.2 1666.3 1046.8 1666.8 1047.4 1666.8 1048 1667 1048.6 1667.2 1049.2 1667.3 1049.8 1667.7 1050.4 1667.1 1051 1667.1 1051.6 1667.1 1052.2 1666.4 1052.8 1667 1053.4 1668 1054 1667.5 1054.6 1667.3 1055.2 1668.3 1055.8 1668.5 1056.4 1667.8 1057 1667.9 1057.6 1668.2 1058.2 1667.8 1058.8 1667.7 1059.4 1668.6 1060 1669.5 1060.6 1669.9 1061.2 1669.1 1061.8 1668.3 1062.4 1668.2 1063 1667.4 1063.6 1667.2 1064.2 1668.3 1064.8 1669.6 1065.4 1669.9 1066 1668.9 1066.6 1667.5 1067.2 1667.6 1067.8 1668.8 1068.4 1668.5 1069 1668.2 1069.6 1668.9 1070.2 1668.6 1070.8 1667.9 1071.4 1667.5 1072 1668 1072.6 1668.5 1073.2 1668.6 1073.8 1668.9 1074.4 1669.1 1075 1669.4 1075.6 1669.2 1076.2 1668.3 1076.8 1667.9 1077.4 1667.9 1078 1668.5 1078.6 1668.9 1079.2 1668.3 1079.8 1668 1080.4 1669 1081 1669.1 1081.6 1667.9 1082.2 1668.1 1082.8 1668.7 1083.4 1668.9 1084 1669.8 1084.6 1670 1085.2 1669.4 1085.8 1668.5 1086.4 1667.5 1087 1667.4 1087.6 1668.4 1088.2 1669.8 1088.8 1670.6 1089.4 1669.7 1090 1668.8 1090.6 1668.7 1091.2 1669.3 1091.8 1669.9 1092.4 1669.4 1093 1669.1 1093.6 1669.7 1094.2 1669.9 1094.8 1669.4 1095.4 1668.8 1096 1668.8 1096.6 1669.2 1097.2 1669.5 1097.8 1669.9 1098.4 1669.4 1099 1668.1 1099.6 1668.1 1100.2 1669 1100.8 1669.3 1101.4 1669 1102 1668.9 1102.6 1668.9 1103.2 1668.5 1103.8 1668.2 1104.4 1668.5 1105 1669.3 1105.6 1669.7 1106.2 1669.1 1106.8 1668.3 1107.4 1668.1 1108 1668.7 1108.6 1669.1 1109.2 1669 1109.8 1668.6 1110.4 1669.2 1111 1669.6 1111.6 1668.1 1112.2 1667.3 1112.8 1668.8 1113.4 1670.3 1114 1670.5 1114.6 1670.2 1115.2 1669.6 1115.8 1668.5 1116.4 1667.4 1117 1667.5 1117.6 1668.1 1118.2 1668.7 1118.8 1668.9 1119.4 1668.4 1120 1668.8 1120.6 1669.5 1121.2 1669.8" fill="none" stroke="#356b70" stroke-width="3.2" stroke-linejoin="round"/><path d="M997 1695.3L997.6 1695.3 998.2 1695.5 998.8 1696.1 999.4 1696 1000 1695.4 1000.6 1696.3 1001.2 1696.2 1001.8 1695 1002.4 1695.4 1003 1696.2 1003.6 1696.2 1004.2 1695.7 1004.8 1695.4 1005.4 1695.6 1006 1695.9 1006.6 1696.2 1007.2 1697 1007.8 1697.4 1008.4 1697.2 1009 1697.3 1009.6 1697.1 1010.2 1696.4 1010.8 1696 1011.4 1696 1012 1696.4 1012.6 1696.4 1013.2 1696.3 1013.8 1696.7 1014.4 1696.6 1015 1696.1 1015.6 1695.8 1016.2 1695.5 1016.8 1695.2 1017.4 1695.2 1018 1695.5 1018.6 1696 1019.2 1695.9 1019.8 1695.3 1020.4 1694.8 1021 1694.7 1021.6 1695.5 1022.2 1695.7 1022.8 1695.5 1023.4 1694.9 1024 1694.5 1024.6 1695.9 1025.2 1696.7 1025.8 1696 1026.4 1695.8 1027 1695.9 1027.6 1696 1028.2 1695.7 1028.8 1694.8 1029.4 1695.1 1030 1695.9 1030.6 1695.8 1031.2 1695.6 1031.8 1695.4 1032.4 1695.3 1033 1695.5 1033.6 1695.3 1034.2 1695.1 1034.8 1695.5 1035.4 1695.3 1036 1694.3 1036.6 1694.2 1037.2 1695.1 1037.8 1695.1 1038.4 1694.3 1039 1694.3 1039.6 1694.7 1040.2 1695.4 1040.8 1696.1 1041.4 1696.7 1042 1696.6 1042.6 1696 1043.2 1695.3 1043.8 1694.9 1044.4 1695 1045 1695.4 1045.6 1695.9 1046.2 1696.5 1046.8 1696.3 1047.4 1696 1048 1696.6 1048.6 1695.8 1049.2 1694.7 1049.8 1695.3 1050.4 1696.1 1051 1697 1051.6 1697 1052.2 1695.7 1052.8 1695.6 1053.4 1696.9 1054 1697.4 1054.6 1696.6 1055.2 1695.9 1055.8 1695.2 1056.4 1695.2 1057 1696.4 1057.6 1696.7 1058.2 1696.2 1058.8 1696.4 1059.4 1696.1 1060 1695.7 1060.6 1696.6 1061.2 1697.4 1061.8 1697.1 1062.4 1696.9 1063 1697.4 1063.6 1697 1064.2 1695.5 1064.8 1694.3 1065.4 1694.7 1066 1695.9 1066.6 1696.3 1067.2 1696.1 1067.8 1696.1 1068.4 1696.2 1069 1695.6 1069.6 1695 1070.2 1695 1070.8 1695.2 1071.4 1695.3 1072 1695.4 1072.6 1695.7 1073.2 1695.6 1073.8 1695.5 1074.4 1696 1075 1696.1 1075.6 1696.6 1076.2 1696.8 1076.8 1695.9 1077.4 1695.3 1078 1695.8 1078.6 1696.2 1079.2 1695.7 1079.8 1695 1080.4 1695.2 1081 1695.6 1081.6 1695.3 1082.2 1695.4 1082.8 1696.2 1083.4 1696 1084 1695.5 1084.6 1695.9 1085.2 1696.6 1085.8 1696.7 1086.4 1695.9 1087 1695.4 1087.6 1696.2 1088.2 1696.7 1088.8 1696.4 1089.4 1696.4 1090 1695.8 1090.6 1695.4 1091.2 1696.1 1091.8 1696.1 1092.4 1695.3 1093 1695.6 1093.6 1696 1094.2 1696.3 1094.8 1696.3 1095.4 1695.8 1096 1695.4 1096.6 1695.8 1097.2 1696.2 1097.8 1696.1 1098.4 1695.9 1099 1695.6 1099.6 1695.8 1100.2 1696.1 1100.8 1695.5 1101.4 1695.7 1102 1696.5 1102.6 1696.1 1103.2 1695.3 1103.8 1695.7 1104.4 1696.1 1105 1695.7 1105.6 1695.9 1106.2 1696.6 1106.8 1696.3 1107.4 1695.3 1108 1694.9 1108.6 1695.7 1109.2 1696.7 1109.8 1696.9 1110.4 1696.6 1111 1696.2 1111.6 1696.6 1112.2 1696.9 1112.8 1696.1 1113.4 1695.2 1114 1695.2 1114.6 1694.8 1115.2 1694.2 1115.8 1694.8 1116.4 1695.9 1117 1696 1117.6 1695.9 1118.2 1696 1118.8 1696 1119.4 1696.3 1120 1696.4 1120.6 1695.8 1121.2 1695.3" fill="none" stroke="#2b5558" stroke-width="3.2" stroke-linejoin="round"/><path d="M997 1728.2L997.6 1728.1 998.2 1728.4 998.8 1728.5 999.4 1728.3 1000 1728.3 1000.6 1728.4 1001.2 1728.1 1001.8 1728.1 1002.4 1728.4 1003 1728.3 1003.6 1728.7 1004.2 1729.3 1004.8 1729.3 1005.4 1729.2 1006 1729.2 1006.6 1729.4 1007.2 1729.7 1007.8 1729.9 1008.4 1729.9 1009 1729.6 1009.6 1729.6 1010.2 1729.8 1010.8 1730 1011.4 1730 1012 1729.7 1012.6 1729.5 1013.2 1729.6 1013.8 1729.4 1014.4 1729.7 1015 1730.3 1015.6 1730.1 1016.2 1729.6 1016.8 1729.4 1017.4 1729.5 1018 1729.7 1018.6 1729.8 1019.2 1730 1019.8 1730.3 1020.4 1730.1 1021 1729.7 1021.6 1729.9 1022.2 1730.3 1022.8 1730.2 1023.4 1729.9 1024 1729.7 1024.6 1729.5 1025.2 1729.6 1025.8 1729.9 1026.4 1730 1027 1729.8 1027.6 1729.7 1028.2 1729.7 1028.8 1729.8 1029.4 1730.2 1030 1730.4 1030.6 1730.2 1031.2 1730.1 1031.8 1730.4 1032.4 1730.6 1033 1730.5 1033.6 1730.1 1034.2 1729.7 1034.8 1729.6 1035.4 1729.6 1036 1729.5 1036.6 1729.8 1037.2 1730.3 1037.8 1730.1 1038.4 1729.9 1039 1729.9 1039.6 1729.9 1040.2 1730 1040.8 1730 1041.4 1730 1042 1730.1 1042.6 1730.3 1043.2 1730.6 1043.8 1730.3 1044.4 1730 1045 1730 1045.6 1730 1046.2 1730.3 1046.8 1730.5 1047.4 1730.1 1048 1730 1048.6 1730.3 1049.2 1730.4 1049.8 1730.1 1050.4 1729.9 1051 1730.2 1051.6 1730.2 1052.2 1730.3 1052.8 1730.3 1053.4 1730.1 1054 1730 1054.6 1729.7 1055.2 1729.3 1055.8 1729.4 1056.4 1730 1057 1730.5 1057.6 1730.4 1058.2 1730.3 1058.8 1730.3 1059.4 1729.8 1060 1729.6 1060.6 1730.2 1061.2 1730.3 1061.8 1729.9 1062.4 1729.9 1063 1729.8 1063.6 1729.6 1064.2 1730.1 1064.8 1730.3 1065.4 1729.9 1066 1729.7 1066.6 1729.5 1067.2 1729.3 1067.8 1729.6 1068.4 1729.8 1069 1729.8 1069.6 1729.7 1070.2 1729.6 1070.8 1729.6 1071.4 1729.6 1072 1729.9 1072.6 1729.8 1073.2 1729.4 1073.8 1729.5 1074.4 1729.7 1075 1729.8 1075.6 1729.9 1076.2 1729.8 1076.8 1729.9 1077.4 1730.2 1078 1730.1 1078.6 1730 1079.2 1730.2 1079.8 1729.9 1080.4 1729.6 1081 1729.7 1081.6 1730 1082.2 1730.2 1082.8 1729.8 1083.4 1729.7 1084 1729.9 1084.6 1730 1085.2 1729.8 1085.8 1729.6 1086.4 1729.6 1087 1730 1087.6 1729.9 1088.2 1729.7 1088.8 1729.9 1089.4 1730.2 1090 1730.2 1090.6 1730 1091.2 1729.9 1091.8 1730.1 1092.4 1730.3 1093 1730.1 1093.6 1729.7 1094.2 1729.6 1094.8 1729.7 1095.4 1729.8 1096 1729.7 1096.6 1729.8 1097.2 1729.7 1097.8 1729.5 1098.4 1729.9 1099 1730.5 1099.6 1730.5 1100.2 1730.2 1100.8 1730.3 1101.4 1730.5 1102 1730.1 1102.6 1729.9 1103.2 1730 1103.8 1730 1104.4 1730.7 1105 1731.2 1105.6 1730.6 1106.2 1730.1 1106.8 1730.2 1107.4 1730.4 1108 1730.2 1108.6 1730.2 1109.2 1730.3 1109.8 1730.2 1110.4 1730 1111 1730 1111.6 1730.3 1112.2 1730.3 1112.8 1730.2 1113.4 1730.2 1114 1730.2 1114.6 1730.1 1115.2 1730 1115.8 1729.8 1116.4 1729.8 1117 1729.8 1117.6 1729.8 1118.2 1730.1 1118.8 1730.1 1119.4 1730 1120 1729.8 1120.6 1729.7 1121.2 1729.9" fill="none" stroke="#1a3a3c" stroke-width="3.2" stroke-linejoin="round"/></g>
<rect x="997" y="1171" width="124.2" height="592" fill="none" stroke="#000" stroke-width="3"/>
<line x1="997" y1="1470" x2="1121.2" y2="1470" stroke="#000" stroke-width="3" />
<line x1="997" y1="1763" x2="997" y2="1777" stroke="#000" stroke-width="3" />
<line x1="1059.1" y1="1763" x2="1059.1" y2="1777" stroke="#000" stroke-width="3" />
<line x1="1121.2" y1="1763" x2="1121.2" y2="1777" stroke="#000" stroke-width="3" />
<line x1="1028" y1="1763" x2="1028" y2="1770" stroke="#000" stroke-width="3" />
<line x1="1090.2" y1="1763" x2="1090.2" y2="1770" stroke="#000" stroke-width="3" />
<text x="1002" y="1809.4" font-size="28.08" text-anchor="middle" textLength="28.9" lengthAdjust="spacingAndGlyphs" >25</text>
<text x="1063.5" y="1809.4" font-size="28.08" text-anchor="middle" textLength="28.9" lengthAdjust="spacingAndGlyphs" >30</text>
<text x="1125.5" y="1809.4" font-size="28.08" text-anchor="middle" textLength="28.9" lengthAdjust="spacingAndGlyphs" >35</text>
<text x="1009.5" y="1203" font-size="23.76" fill="#808080" textLength="9.8" lengthAdjust="spacingAndGlyphs" >ii</text>
<text x="1097" y="1228" font-size="22.0" fill="#e8403f" transform="rotate(-90 1097 1228)" textLength="51" lengthAdjust="spacingAndGlyphs" >(220)</text>
<defs>
<linearGradient id="gdo" x1="0" y1="0" x2="0" y2="1"><stop offset="0" stop-color="#f8f5ee"/><stop offset="0.35" stop-color="#fbe3d2"/><stop offset="1" stop-color="#f58b4c"/></linearGradient>
<linearGradient id="gco" x1="0" y1="0" x2="0" y2="1"><stop offset="0" stop-color="#f58b4c"/><stop offset="0.6" stop-color="#f9d6bf"/><stop offset="1" stop-color="#fbf3ea"/></linearGradient>
<linearGradient id="gdt" x1="0" y1="0" x2="0" y2="1"><stop offset="0" stop-color="#eaf4f3"/><stop offset="0.5" stop-color="#bcdcda"/><stop offset="1" stop-color="#78b6b2"/></linearGradient>
<linearGradient id="gct" x1="0" y1="0" x2="0" y2="1"><stop offset="0" stop-color="#78b6b2"/><stop offset="0.5" stop-color="#bcdcda"/><stop offset="1" stop-color="#eef6f5"/></linearGradient>
</defs>
<rect x="1462.4" y="1172.8" width="34.4" height="204.8" fill="url(#gdo)"/>
<rect x="1462.4" y="1380" width="34.4" height="87.6" fill="url(#gco)"/>
<rect x="1462.4" y="1469" width="34.4" height="154.2" fill="url(#gdt)"/>
<rect x="1462.4" y="1625" width="34.4" height="141" fill="url(#gct)"/>
<text x="1473.5" y="1222" font-size="22.0" transform="rotate(90 1473.5 1222)" textLength="108" lengthAdjust="spacingAndGlyphs" >Discharging</text>
<text x="1473.5" y="1381.5" font-size="22.0" transform="rotate(90 1473.5 1381.5)" textLength="83" lengthAdjust="spacingAndGlyphs" >Charging</text>
<text x="1473.5" y="1493.6" font-size="22.0" transform="rotate(90 1473.5 1493.6)" textLength="108" lengthAdjust="spacingAndGlyphs" >Discharging</text>
<text x="1473.5" y="1655.6" font-size="22.0" transform="rotate(90 1473.5 1655.6)" textLength="83" lengthAdjust="spacingAndGlyphs" >Charging</text>
<line x1="1159.2" y1="1468.2" x2="1254.6" y2="1468.2" stroke="#000" stroke-width="3" />
<line x1="1284.5" y1="1468.2" x2="1391" y2="1468.2" stroke="#000" stroke-width="3" />
<line x1="1421" y1="1468.2" x2="1459.9" y2="1468.2" stroke="#000" stroke-width="3" />
<line x1="1176.7" y1="1176" x2="1176.7" y2="1634" stroke="#a8a8a8" stroke-width="2" stroke-dasharray="5 5"/>
<line x1="1282.8" y1="1268.4" x2="1282.8" y2="1762" stroke="#a8a8a8" stroke-width="2" stroke-dasharray="5 5"/>
<line x1="1387.3" y1="1174" x2="1387.3" y2="1762" stroke="#a8a8a8" stroke-width="2" stroke-dasharray="5 5"/>
<line x1="1405.7" y1="1202" x2="1405.7" y2="1762" stroke="#a8a8a8" stroke-width="2" stroke-dasharray="5 5"/>
<line x1="1425.1" y1="1211" x2="1425.1" y2="1762" stroke="#a8a8a8" stroke-width="2" stroke-dasharray="5 5"/>
<text x="1189.5" y="1284" font-size="22.0" fill="#8c8c8c" transform="rotate(90 1189.5 1284)" textLength="159.6" lengthAdjust="spacingAndGlyphs" >Discharge to 2.0V</text>
<text x="1263" y="1365.6" font-size="22.0" fill="#8c8c8c" transform="rotate(90 1263 1365.6)" textLength="159.6" lengthAdjust="spacingAndGlyphs" >Discharge to 3.2V</text>
<text x="1395" y="1240.8" font-size="22.0" fill="#8c8c8c" transform="rotate(90 1395 1240.8)" textLength="132" lengthAdjust="spacingAndGlyphs" >Charge to 4.4V</text>
<text x="1429" y="1228.8" font-size="22.0" fill="#8c8c8c" transform="rotate(90 1429 1228.8)" textLength="135.6" lengthAdjust="spacingAndGlyphs" >Charge to 4.8V</text>
<text x="1399" y="1469.6" font-size="22.0" fill="#8c8c8c" transform="rotate(90 1399 1469.6)" textLength="133.2" lengthAdjust="spacingAndGlyphs" >Charge to 4.6V</text>
<path d="M1176.7 1204.3C1183.4 1205.4 1206.9 1207.5 1216.8 1210.8C1226.7 1214.1 1229.6 1214.6 1236 1224C1242.4 1233.4 1248.8 1252.4 1255.2 1267.2C1261.6 1282 1269.8 1302.1 1274.4 1312.8C1279 1323.5 1277.2 1327.3 1282.8 1331.3C1288.4 1335.3 1297.8 1334.7 1308 1336.8C1318.2 1338.9 1332 1340 1344 1344C1356 1348 1370 1355.8 1380 1360.8C1390 1365.8 1396.7 1371.5 1404 1374C1411.3 1376.5 1420.6 1375.6 1423.9 1375.9" fill="none" stroke="#f0701e" stroke-width="3" stroke-linejoin="round" />
<path d="M1423.9 1375.9C1420.9 1381.4 1411.7 1399.5 1405.9 1408.8C1400.1 1418.1 1397.4 1423.4 1389.1 1431.6C1380.8 1439.8 1365.8 1452.8 1356 1458C1346.2 1463.2 1337.6 1461.7 1330 1462.5C1322.4 1463.3 1313.7 1462.8 1310.4 1462.8" fill="none" stroke="#f0701e" stroke-width="3" stroke-linejoin="round" />
<circle cx="1176.7" cy="1204.3" r="5.3" fill="#fff" stroke="#f0701e" stroke-width="2.6"/>
<circle cx="1282.8" cy="1331.3" r="5.3" fill="#fff" stroke="#f0701e" stroke-width="2.6"/>
<circle cx="1423.9" cy="1375.9" r="5.3" fill="#fff" stroke="#f0701e" stroke-width="2.6"/>
<circle cx="1405.9" cy="1408.8" r="5.3" fill="#fff" stroke="#f0701e" stroke-width="2.6"/>
<circle cx="1389.1" cy="1431.6" r="5.3" fill="#fff" stroke="#f0701e" stroke-width="2.6"/>
<circle cx="1310.4" cy="1462.8" r="5.3" fill="#fff" stroke="#f0701e" stroke-width="2.6"/>
<path d="M1176.7 1484C1182.6 1484.8 1201.3 1485.6 1212 1488.8C1222.7 1492 1232.8 1497.6 1240.8 1503.2C1248.8 1508.8 1253 1514.7 1260 1522.4C1267 1530.1 1274.8 1540.9 1282.8 1549.3C1290.8 1557.7 1297.8 1565.3 1308 1572.8C1318.2 1580.3 1330.8 1586.7 1344 1594.4C1357.2 1602.1 1376 1614.4 1387.2 1618.9C1398.4 1623.4 1405.1 1621.1 1411.2 1621.3C1417.3 1621.5 1421.8 1620.5 1423.9 1620.3" fill="none" stroke="#6dbab5" stroke-width="3" stroke-linejoin="round" />
<path d="M1423.9 1620.3C1420.9 1621.8 1411.5 1625.6 1405.7 1629.2C1399.9 1632.8 1398.6 1633.9 1389.1 1641.7C1379.6 1649.5 1359.1 1665.5 1348.8 1676C1338.5 1686.5 1334.8 1696.4 1327.2 1704.8C1319.6 1713.2 1312 1718.4 1303.2 1726.4C1294.4 1734.4 1280.6 1748 1274.4 1753C1268.2 1758 1269.2 1755.7 1266 1756.5C1262.8 1757.3 1261 1757.5 1255 1757.8C1249 1758 1242 1758 1230 1758C1218 1758 1190.6 1758 1182.7 1758" fill="none" stroke="#6dbab5" stroke-width="3" stroke-linejoin="round" />
<circle cx="1176.7" cy="1484" r="5.3" fill="#fff" stroke="#6dbab5" stroke-width="2.6"/>
<circle cx="1282.8" cy="1549.3" r="5.3" fill="#fff" stroke="#6dbab5" stroke-width="2.6"/>
<circle cx="1423.9" cy="1620.3" r="5.3" fill="#fff" stroke="#6dbab5" stroke-width="2.6"/>
<circle cx="1405.7" cy="1629.2" r="5.3" fill="#fff" stroke="#6dbab5" stroke-width="2.6"/>
<circle cx="1389.1" cy="1641.7" r="5.3" fill="#fff" stroke="#6dbab5" stroke-width="2.6"/>
<circle cx="1182.7" cy="1758" r="5.3" fill="#fff" stroke="#6dbab5" stroke-width="2.6"/>
<text x="1201.9" y="1196.4" font-size="23.76" textLength="127.7" lengthAdjust="spacingAndGlyphs" >LMRO-50CS</text>
<text x="1162" y="1672.4" font-size="23.76" textLength="113" lengthAdjust="spacingAndGlyphs" >LMRO-50C</text>
<text x="1180.8" y="1230.7" font-size="23.76" textLength="10.3" lengthAdjust="spacingAndGlyphs" >f'</text>
<text x="1262.4" y="1354.8" font-size="23.76" textLength="16.4" lengthAdjust="spacingAndGlyphs" >e'</text>
<text x="1425.6" y="1395.6" font-size="23.76" textLength="16.4" lengthAdjust="spacingAndGlyphs" >d'</text>
<text x="1405.2" y="1435.7" font-size="23.76" textLength="15.2" lengthAdjust="spacingAndGlyphs" >c'</text>
<text x="1364.4" y="1443.6" font-size="23.76" textLength="16.4" lengthAdjust="spacingAndGlyphs" >b'</text>
<text x="1305.6" y="1453.2" font-size="23.76" textLength="16.4" lengthAdjust="spacingAndGlyphs" >a'</text>
<text x="1183.2" y="1510.4" font-size="23.76" textLength="6.1" lengthAdjust="spacingAndGlyphs" >f</text>
<text x="1262.4" y="1566.8" font-size="23.76" textLength="12.2" lengthAdjust="spacingAndGlyphs" >e</text>
<text x="1428" y="1643.6" font-size="23.76" textLength="12.2" lengthAdjust="spacingAndGlyphs" >d</text>
<text x="1406.4" y="1653.9" font-size="23.76" textLength="11" lengthAdjust="spacingAndGlyphs" >c</text>
<text x="1376.4" y="1673.1" font-size="23.76" textLength="12.2" lengthAdjust="spacingAndGlyphs" >b</text>
<text x="1168.8" y="1748" font-size="23.76" textLength="12.2" lengthAdjust="spacingAndGlyphs" >a</text>
<text x="1299.6" y="1432.8" font-size="23.76" fill="#8c8c8c" textLength="56.4" lengthAdjust="spacingAndGlyphs" >(OCP)</text>
<text x="1184.4" y="1728.8" font-size="23.76" fill="#8c8c8c" textLength="56.4" lengthAdjust="spacingAndGlyphs" >(OCP)</text>
<rect x="1159.2" y="1172.4" width="300.7" height="592.4" fill="none" stroke="#000" stroke-width="3"/>
<line x1="1176.7" y1="1764.8" x2="1176.7" y2="1778.8" stroke="#000" stroke-width="3" />
<line x1="1264.7" y1="1764.8" x2="1264.7" y2="1778.8" stroke="#000" stroke-width="3" />
<line x1="1352.7" y1="1764.8" x2="1352.7" y2="1778.8" stroke="#000" stroke-width="3" />
<line x1="1440.7" y1="1764.8" x2="1440.7" y2="1778.8" stroke="#000" stroke-width="3" />
<line x1="1220.7" y1="1764.8" x2="1220.7" y2="1771.8" stroke="#000" stroke-width="3" />
<line x1="1308.7" y1="1764.8" x2="1308.7" y2="1771.8" stroke="#000" stroke-width="3" />
<line x1="1396.7" y1="1764.8" x2="1396.7" y2="1771.8" stroke="#000" stroke-width="3" />
<text x="1176.7" y="1811.2" font-size="29.16" text-anchor="middle" textLength="15" lengthAdjust="spacingAndGlyphs" >2</text>
<text x="1264.7" y="1811.2" font-size="29.16" text-anchor="middle" textLength="15" lengthAdjust="spacingAndGlyphs" >3</text>
<text x="1352.7" y="1811.2" font-size="29.16" text-anchor="middle" textLength="15" lengthAdjust="spacingAndGlyphs" >4</text>
<text x="1440.7" y="1811.2" font-size="29.16" text-anchor="middle" textLength="15" lengthAdjust="spacingAndGlyphs" >5</text>
<text x="1241" y="1841.6" font-size="29.16" textLength="140.5" lengthAdjust="spacingAndGlyphs" >Voltage (V)</text>
</svg></body></html>
